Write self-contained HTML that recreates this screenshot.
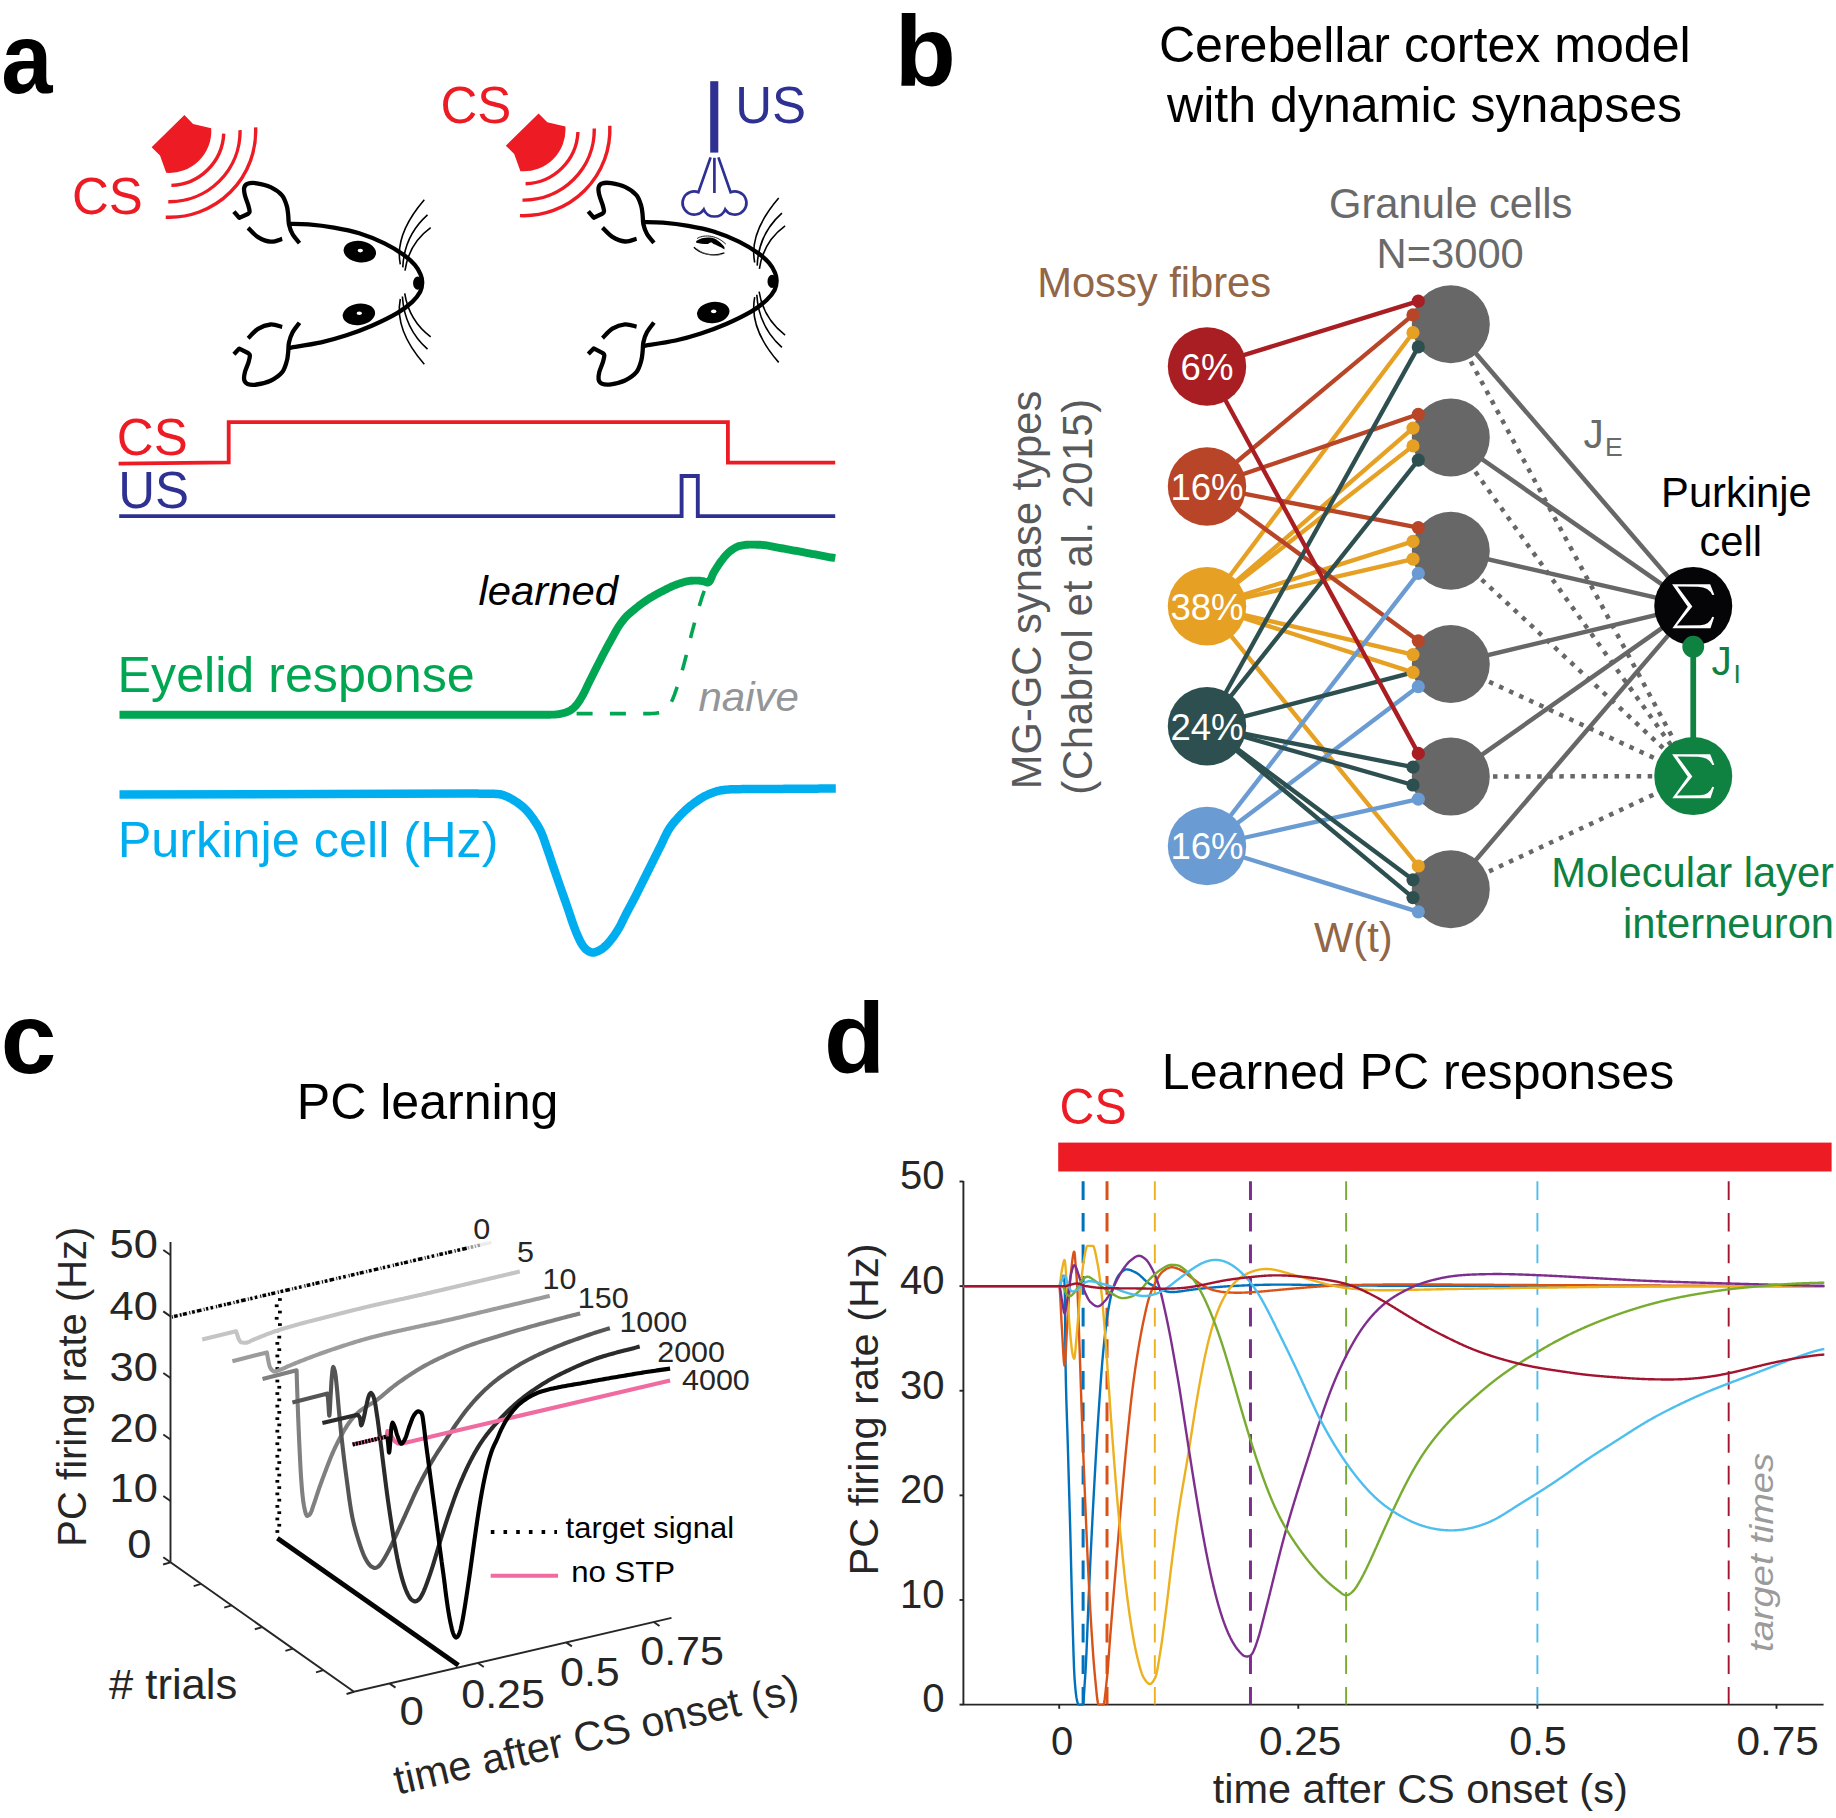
<!DOCTYPE html>
<html><head><meta charset="utf-8"><title>Figure</title>
<style>
html,body{margin:0;padding:0;background:#fff;}
body{width:1836px;height:1818px;overflow:hidden;font-family:"Liberation Sans",sans-serif;}
svg{display:block;}
</style></head><body>
<svg width="1836" height="1818" viewBox="0 0 1836 1818">
<rect width="1836" height="1818" fill="#fff"/>
<!-- panel a -->
<text x="1.2" y="92.6" font-family='"Liberation Sans", sans-serif' font-size="100" fill="#000" text-anchor="start" font-weight="bold" font-style="normal" textLength="51.2" lengthAdjust="spacingAndGlyphs" >a</text>
<g transform="translate(0 0)">
<path d="M184.4 115.0 L151.6 147.3 L160 155.6 L166.22 172.77 A41.8 41.8 0 0 0 211.2 128.18 L193.1 123.9 Z" fill="#ed1c24"/>
<path d="M223.74 133.56 A54.3 54.3 0 0 1 171.4 185.37" fill="none" stroke="#ed1c24" stroke-width="3.4"/>
<path d="M240.09 130.11 A70.6 70.6 0 0 1 168.27 201.69" fill="none" stroke="#ed1c24" stroke-width="3.4"/>
<path d="M255.62 127.34 A86.2 86.2 0 0 1 165.74 217.22" fill="none" stroke="#ed1c24" stroke-width="3.4"/>
</g>
<g transform="translate(354.2 -1.6)">
<path d="M184.4 115.0 L151.6 147.3 L160 155.6 L166.22 172.77 A41.8 41.8 0 0 0 211.2 128.18 L193.1 123.9 Z" fill="#ed1c24"/>
<path d="M223.74 133.56 A54.3 54.3 0 0 1 171.4 185.37" fill="none" stroke="#ed1c24" stroke-width="3.4"/>
<path d="M240.09 130.11 A70.6 70.6 0 0 1 168.27 201.69" fill="none" stroke="#ed1c24" stroke-width="3.4"/>
<path d="M255.62 127.34 A86.2 86.2 0 0 1 165.74 217.22" fill="none" stroke="#ed1c24" stroke-width="3.4"/>
</g>
<g transform="translate(0 0)" fill="none" stroke="#000" stroke-linecap="butt" stroke-linejoin="round">
<path d="M288.95 223.8 C292.23 223.9 301.11 223.77 308.6 224.4 C316.09 225.03 325.47 226.12 333.9 227.6 C342.33 229.08 350.77 230.67 359.2 233.3 C367.63 235.93 377.12 239.82 384.5 243.4 C391.88 246.98 398.45 251.22 403.5 254.8 C408.55 258.38 411.95 261.62 414.8 264.9 C417.65 268.18 419.37 271.52 420.6 274.5 C421.83 277.48 422.27 279.92 422.2 282.8 C422.13 285.68 421.85 288.63 420.2 291.8 C418.55 294.97 416.15 298.23 412.3 301.8 C408.45 305.37 403.85 309.2 397.1 313.2 C390.35 317.2 380.23 322.12 371.8 325.8 C363.37 329.48 354.93 332.55 346.5 335.3 C338.07 338.05 330.79 340.22 321.2 342.3 C311.61 344.38 294.32 346.88 288.95 347.8" stroke-width="4.3"/>
<g transform="translate(0 0)">
<path d="M299.5 243.1 C298.33 241.58 294.25 237.12 292.5 234 C290.75 230.88 289.72 227.57 289 224.4 C288.28 221.23 288.57 218.07 288.2 215 C287.83 211.93 287.83 209.28 286.8 206 C285.77 202.72 284.7 198.45 282 195.3 C279.3 192.15 274.82 189.1 270.6 187.1 C266.38 185.1 260.53 183.87 256.7 183.3 C252.87 182.73 249.68 182.97 247.6 183.7 C245.52 184.43 244.65 185.77 244.2 187.7 C243.75 189.63 244.22 192.35 244.9 195.3 C245.58 198.25 247.52 202.68 248.3 205.4 C249.08 208.12 249.68 210.17 249.6 211.6 C249.52 213.03 248.1 213.6 247.8 214 L239.3 217.9 L233.9 211.6" stroke-width="4.3"/>
<path d="M248.1 227.9 C249.75 229.43 254.25 234.8 258 237.1 C261.75 239.4 266.57 241.39 270.6 241.7 C274.63 242.01 280.27 239.41 282.2 238.95" stroke-width="4.3"/>
<path d="M299.5 322.8 C298.33 324.42 294.25 329.23 292.5 332.5 C290.75 335.77 289.72 339.15 289 342.4 C288.28 345.65 288.57 348.9 288.2 352 C287.83 355.1 287.83 357.6 286.8 361 C285.77 364.4 284.7 369.12 282 372.4 C279.3 375.68 274.82 378.68 270.6 380.7 C266.38 382.72 260.53 383.95 256.7 384.5 C252.87 385.05 249.68 384.78 247.6 384 C245.52 383.22 244.65 381.77 244.2 379.8 C243.75 377.83 244.18 375.12 244.9 372.2 C245.62 369.28 247.67 365.1 248.5 362.3 C249.33 359.5 249.98 356.95 249.9 355.4 C249.82 353.85 248.32 353.4 248 353 L239.3 348.6 L233.9 354.2" stroke-width="4.3"/>
<path d="M248.1 338.3 C249.75 336.72 254.25 331.1 258 328.8 C261.75 326.5 266.57 324.82 270.6 324.5 C274.63 324.18 280.27 326.5 282.2 326.9" stroke-width="4.3"/>
</g>
<path d="M400.3 264.3 Q394.3 234.6 424.3 199.7" stroke-width="1.6"/>
<path d="M402.8 267.4 Q404.05 235.85 427.5 214.9" stroke-width="1.6"/>
<path d="M405 270.6 Q408.95 243.3 430.7 227.6" stroke-width="1.6"/>
<path d="M400.3 299 Q394.3 330 424.3 364.2" stroke-width="1.6"/>
<path d="M402.4 296.5 Q404.25 328.35 427.5 349.2" stroke-width="1.6"/>
<path d="M404.7 293.4 Q409.1 320.65 430.7 336.9" stroke-width="1.6"/>
<ellipse cx="417.6" cy="283.2" rx="4.5" ry="6.6" fill="#000" stroke="none"/>
<ellipse cx="359.8" cy="251.7" rx="16.3" ry="10.7" fill="#000" stroke="none" transform="rotate(8 359.8 251.7)"/>
<ellipse cx="360.3" cy="250.6" rx="2.7" ry="1.8" fill="#fff" stroke="none"/>
<ellipse cx="358.9" cy="314.3" rx="16.3" ry="10.7" fill="#000" stroke="none" transform="rotate(-8 358.9 314.3)"/>
<ellipse cx="359.3" cy="313.2" rx="2.7" ry="1.8" fill="#fff" stroke="none"/>
</g>
<g transform="translate(354.4 -1.8)" fill="none" stroke="#000" stroke-linecap="butt" stroke-linejoin="round">
<path d="M288.95 223.8 C292.23 223.9 301.11 223.77 308.6 224.4 C316.09 225.03 325.47 226.12 333.9 227.6 C342.33 229.08 350.77 230.67 359.2 233.3 C367.63 235.93 377.12 239.82 384.5 243.4 C391.88 246.98 398.45 251.22 403.5 254.8 C408.55 258.38 411.95 261.62 414.8 264.9 C417.65 268.18 419.37 271.52 420.6 274.5 C421.83 277.48 422.27 279.92 422.2 282.8 C422.13 285.68 421.85 288.63 420.2 291.8 C418.55 294.97 416.15 298.23 412.3 301.8 C408.45 305.37 403.85 309.2 397.1 313.2 C390.35 317.2 380.23 322.12 371.8 325.8 C363.37 329.48 354.93 332.55 346.5 335.3 C338.07 338.05 330.79 340.22 321.2 342.3 C311.61 344.38 294.32 346.88 288.95 347.8" stroke-width="4.3"/>
<g transform="translate(0 1.6)">
<path d="M299.5 243.1 C298.33 241.58 294.25 237.12 292.5 234 C290.75 230.88 289.72 227.57 289 224.4 C288.28 221.23 288.57 218.07 288.2 215 C287.83 211.93 287.83 209.28 286.8 206 C285.77 202.72 284.7 198.45 282 195.3 C279.3 192.15 274.82 189.1 270.6 187.1 C266.38 185.1 260.53 183.87 256.7 183.3 C252.87 182.73 249.68 182.97 247.6 183.7 C245.52 184.43 244.65 185.77 244.2 187.7 C243.75 189.63 244.22 192.35 244.9 195.3 C245.58 198.25 247.52 202.68 248.3 205.4 C249.08 208.12 249.68 210.17 249.6 211.6 C249.52 213.03 248.1 213.6 247.8 214 L239.3 217.9 L233.9 211.6" stroke-width="4.3"/>
<path d="M248.1 227.9 C249.75 229.43 254.25 234.8 258 237.1 C261.75 239.4 266.57 241.39 270.6 241.7 C274.63 242.01 280.27 239.41 282.2 238.95" stroke-width="4.3"/>
<path d="M299.5 322.8 C298.33 324.42 294.25 329.23 292.5 332.5 C290.75 335.77 289.72 339.15 289 342.4 C288.28 345.65 288.57 348.9 288.2 352 C287.83 355.1 287.83 357.6 286.8 361 C285.77 364.4 284.7 369.12 282 372.4 C279.3 375.68 274.82 378.68 270.6 380.7 C266.38 382.72 260.53 383.95 256.7 384.5 C252.87 385.05 249.68 384.78 247.6 384 C245.52 383.22 244.65 381.77 244.2 379.8 C243.75 377.83 244.18 375.12 244.9 372.2 C245.62 369.28 247.67 365.1 248.5 362.3 C249.33 359.5 249.98 356.95 249.9 355.4 C249.82 353.85 248.32 353.4 248 353 L239.3 348.6 L233.9 354.2" stroke-width="4.3"/>
<path d="M248.1 338.3 C249.75 336.72 254.25 331.1 258 328.8 C261.75 326.5 266.57 324.82 270.6 324.5 C274.63 324.18 280.27 326.5 282.2 326.9" stroke-width="4.3"/>
</g>
<path d="M400.3 264.3 Q394.3 234.6 424.3 199.7" stroke-width="1.6"/>
<path d="M402.8 267.4 Q404.05 235.85 427.5 214.9" stroke-width="1.6"/>
<path d="M405 270.6 Q408.95 243.3 430.7 227.6" stroke-width="1.6"/>
<path d="M400.3 299 Q394.3 330 424.3 364.2" stroke-width="1.6"/>
<path d="M402.4 296.5 Q404.25 328.35 427.5 349.2" stroke-width="1.6"/>
<path d="M404.7 293.4 Q409.1 320.65 430.7 336.9" stroke-width="1.6"/>
<ellipse cx="417.6" cy="283.2" rx="4.5" ry="6.6" fill="#000" stroke="none"/>
<path d="M341.8 242.9 C345.5 240.2 350 239.2 354.7 239.3 C359 239.5 361.5 240.9 363.6 242.5 C366.5 244.6 368.6 246.6 370.1 249.0 L370 251.4 C368 249.8 366 248.6 363.6 247.7 C362 247.0 360.5 246.4 359.1 245.9 C358.4 244.6 357.4 244.1 356.4 244.2 C355 244.4 354.2 245.2 353.4 245.9 C351.4 245.9 349.3 245.8 347.1 245.5 C345.2 245.2 343.5 244.9 341.8 244.6 Z" fill="#000" stroke="none"/>
<path d="M342.7 240.3 C348 236.8 361 235.6 371.4 245.9" stroke-width="0.9"/>
<path d="M339.5 249.0 C346 255.6 358 259.2 370 254.6" stroke-width="1.35"/>
<path d="M342.5 250.4 C349 256.4 359 258.4 368 256.2" stroke-width="0.7" stroke="#777"/>
<ellipse cx="358.9" cy="314.3" rx="16.3" ry="10.7" fill="#000" stroke="none" transform="rotate(-8 358.9 314.3)"/>
<ellipse cx="359.3" cy="313.2" rx="2.7" ry="1.8" fill="#fff" stroke="none"/>
</g>
<g fill="none" stroke="#2e3192" stroke-width="2.7" stroke-linejoin="miter">
<rect x="710.2" y="81.2" width="8.1" height="71.4" fill="#2e3192" stroke="none"/>
<path d="M714.4 157.8 L714.4 193"/>
<path d="M710.6 157.4 L698.4 192.2 A11.6 11.6 0 1 0 703.8 209.4 A11.6 11.6 0 0 0 725.2 209.4 A11.6 11.6 0 1 0 730.6 192.2 L718.4 157.4"/>
</g>
<text x="71.9" y="214.3" font-family='"Liberation Sans", sans-serif' font-size="51" fill="#ed1c24" text-anchor="start" font-weight="normal" font-style="normal" >CS</text>
<text x="440.4" y="123.4" font-family='"Liberation Sans", sans-serif' font-size="51" fill="#ed1c24" text-anchor="start" font-weight="normal" font-style="normal" >CS</text>
<text x="735.2" y="123.4" font-family='"Liberation Sans", sans-serif' font-size="51" fill="#2e3192" text-anchor="start" font-weight="normal" font-style="normal" >US</text>
<path d="M118.6 463.7 L228.7 462.3 V422.1 H727.9 V462.6 H835.2" fill="none" stroke="#ed1c24" stroke-width="3.8" stroke-linejoin="miter"/>
<path d="M119.2 516.1 H681.6 V476 H697.8 V516.1 H835.2" fill="none" stroke="#2e3192" stroke-width="3.9" stroke-linejoin="miter"/>
<text x="116.8" y="455.2" font-family='"Liberation Sans", sans-serif' font-size="51" fill="#ed1c24" text-anchor="start" font-weight="normal" font-style="normal" >CS</text>
<text x="118.2" y="508.2" font-family='"Liberation Sans", sans-serif' font-size="51" fill="#2e3192" text-anchor="start" font-weight="normal" font-style="normal" >US</text>
<path d="M119.5 714.8 L540 714.8 L541.28 714.8 L542.55 714.79 L543.82 714.78 L545.09 714.77 L546.36 714.76 L547.63 714.74 L548.9 714.72 L550.16 714.69 L551.42 714.67 L552.69 714.64 L553.95 714.6 L554 714.6 L555.21 714.54 L556.47 714.41 L557.74 714.24 L559 714.03 L560.25 713.79 L561.49 713.53 L562.72 713.26 L563 713.2 L563.95 712.97 L565.18 712.61 L566.4 712.2 L567.61 711.73 L568.77 711.22 L569.88 710.67 L570 710.6 L570.94 710.05 L571.97 709.32 L572.97 708.5 L573.93 707.63 L574.86 706.72 L575.73 705.8 L576 705.5 L576.55 704.87 L577.33 703.89 L578.09 702.87 L578.81 701.82 L579.51 700.75 L580.19 699.66 L580.85 698.56 L581.5 697.47 L581.6 697.3 L582.13 696.38 L582.74 695.28 L583.34 694.16 L583.92 693.04 L584.48 691.9 L585.04 690.76 L585.59 689.62 L586.14 688.47 L586.68 687.32 L587.22 686.17 L587.77 685.02 L588.32 683.87 L588.88 682.74 L589 682.5 L589.45 681.6 L590.02 680.47 L590.58 679.33 L591.15 678.2 L591.71 677.06 L592.27 675.93 L592.84 674.79 L593.4 673.65 L593.97 672.52 L594.54 671.39 L595.1 670.25 L595.67 669.12 L596.24 667.99 L596.82 666.85 L597.3 665.9 L597.39 665.72 L597.96 664.59 L598.54 663.46 L599.12 662.33 L599.69 661.21 L600.27 660.08 L600.85 658.95 L601.43 657.82 L602.02 656.7 L602.6 655.57 L603.19 654.45 L603.77 653.32 L604.36 652.2 L604.96 651.08 L605 651 L605.55 649.96 L606.15 648.84 L606.75 647.73 L607.35 646.61 L607.95 645.49 L608.56 644.38 L609.17 643.27 L609.78 642.15 L610.39 641.04 L611 639.93 L611.61 638.82 L612.23 637.71 L612.84 636.61 L612.9 636.5 L613.46 635.5 L614.06 634.38 L614.67 633.27 L615.28 632.15 L615.9 631.04 L616.53 629.94 L617.17 628.85 L617.83 627.77 L618 627.5 L618.51 626.7 L619.21 625.64 L619.92 624.59 L620.65 623.55 L621.39 622.52 L622.15 621.51 L622.7 620.8 L622.93 620.51 L623.72 619.52 L624.53 618.53 L625.35 617.57 L626.21 616.63 L627 615.8 L627.08 615.72 L627.99 614.84 L628.93 614 L629.89 613.17 L630.87 612.35 L631.85 611.54 L632.5 611 L632.82 610.73 L633.8 609.92 L634.78 609.11 L635.76 608.31 L636.75 607.52 L637.75 606.73 L638.75 605.95 L639.76 605.18 L640 605 L640.77 604.42 L641.79 603.67 L642.81 602.92 L643.84 602.17 L644.88 601.44 L645.92 600.72 L646.97 600.01 L648.03 599.31 L648.2 599.2 L649.09 598.63 L650.17 597.96 L651.25 597.3 L652.34 596.65 L653.44 596.01 L654.54 595.38 L655.64 594.75 L656.75 594.14 L657 594 L657.86 593.53 L658.98 592.93 L660.1 592.34 L661.23 591.76 L662.36 591.18 L663.49 590.61 L664.62 590.04 L665.76 589.47 L665.9 589.4 L666.89 588.9 L668.02 588.33 L669.16 587.76 L670.3 587.2 L671.45 586.67 L672.5 586.2 L672.6 586.16 L673.77 585.67 L674.95 585.2 L676.13 584.74 L677.32 584.3 L678.52 583.87 L679.6 583.5 L679.72 583.46 L680.92 583.05 L682.13 582.65 L683.34 582.27 L684.56 581.93 L685.5 581.7 L685.79 581.64 L687.03 581.36 L688.28 581.1 L689.53 580.88 L690.79 580.73 L691.4 580.7 L692.05 580.68 L693.31 580.65 L694.59 580.62 L695.86 580.6 L697 580.6 L697.12 580.6 L698.39 580.64 L699.66 580.74 L700.93 580.89 L702.18 581.06 L703.1 581.2 L703.43 581.26 L704.73 581.68 L706.02 582.19 L707.16 582.55 L707.6 582.6 L708.07 582.54 L708.87 582.11 L709.58 581.34 L710.24 580.3 L710.86 579.06 L711.45 577.68 L712.02 576.25 L712.61 574.81 L713.21 573.45 L713.85 572.24 L714 572 L714.53 571.16 L715.2 570.08 L715.88 569 L716.55 567.92 L717.23 566.85 L717.92 565.77 L718.62 564.71 L719.32 563.66 L720.05 562.62 L720.78 561.59 L721.54 560.59 L722 560 L722.32 559.6 L723.11 558.61 L723.92 557.61 L724.74 556.61 L725.58 555.63 L726.45 554.66 L727.33 553.73 L728.23 552.83 L729.16 551.98 L730.11 551.18 L731 550.5 L731.08 550.44 L732.1 549.72 L733.16 549 L734.26 548.29 L735.39 547.63 L736.55 547.02 L737.72 546.5 L738.9 546.08 L740 545.8 L740.09 545.78 L741.3 545.55 L742.53 545.32 L743.79 545.12 L745.06 544.94 L746.34 544.8 L747.62 544.69 L748.9 544.62 L750 544.6 L750.17 544.6 L751.44 544.61 L752.7 544.62 L753.97 544.64 L755.24 544.66 L756.51 544.7 L757.78 544.73 L759.05 544.77 L760 544.8 L760.31 544.81 L761.57 544.88 L762.83 544.98 L764.08 545.12 L765.34 545.28 L766.59 545.46 L767.84 545.66 L769.09 545.89 L770.35 546.12 L771.6 546.36 L772.85 546.61 L774.09 546.87 L775.34 547.12 L776.59 547.37 L777.84 547.61 L779.09 547.84 L780 548 L780.34 548.06 L781.59 548.27 L782.84 548.49 L784.09 548.71 L785.34 548.93 L786.58 549.15 L787.83 549.38 L789.08 549.6 L790.33 549.83 L791.57 550.06 L792.82 550.29 L794.07 550.52 L795.31 550.75 L796.56 550.99 L797.81 551.22 L799.05 551.45 L800.3 551.69 L801.55 551.92 L802.79 552.15 L804.04 552.39 L805.28 552.62 L806.53 552.85 L807.78 553.09 L809.02 553.32 L810 553.5 L810.27 553.55 L811.52 553.78 L812.76 554.01 L814.01 554.24 L815.26 554.47 L816.5 554.71 L817.75 554.94 L819 555.17 L820.24 555.4 L821.49 555.63 L822.74 555.87 L823.98 556.1 L825.23 556.33 L826.48 556.56 L827.72 556.8 L828.97 557.03 L830.22 557.26 L831.46 557.5 L832.71 557.73 L833.95 557.97 L835.2 558.2" fill="none" stroke="#00a651" stroke-width="7.9" stroke-linejoin="round"/>
<path d="M576.6 713.6 L577.72 713.6 L578.84 713.6 L579.96 713.6 L581.09 713.6 L582.21 713.6 L583.33 713.6 L584.45 713.6 L585.57 713.6 L586.69 713.6 L587.81 713.6 L588.93 713.6 L590.05 713.6 L591.17 713.6 L592.29 713.6 L593.41 713.6 L594.53 713.6 L595.65 713.6 L596.77 713.6 L597.89 713.6 L599.01 713.6 L600.13 713.6 L601.25 713.6 L602.36 713.6 L603.48 713.6 L604.6 713.6 L605.72 713.6 L606.84 713.6 L607.96 713.6 L609.07 713.6 L610.19 713.6 L611.31 713.6 L612.43 713.6 L613.55 713.6 L614.66 713.6 L615.78 713.6 L616.9 713.6 L618.02 713.6 L619.13 713.6 L620.25 713.6 L621.37 713.6 L622.48 713.6 L623.6 713.6 L624.72 713.6 L625.83 713.6 L626.95 713.6 L628.07 713.6 L629.18 713.6 L630.3 713.6 L631.42 713.6 L632.53 713.6 L633.65 713.6 L634.76 713.6 L635.88 713.6 L637 713.6 L638.11 713.6 L639.23 713.6 L640.34 713.6 L641.46 713.6 L642.58 713.6 L643.69 713.6 L644.81 713.6 L645.92 713.6 L647.04 713.6 L648.15 713.6 L649.27 713.6 L650 713.6 L650.38 713.6 L651.5 713.57 L652.63 713.5 L653.75 713.42 L654.87 713.3 L655.98 713.17 L657.09 713.03 L658 712.9 L658.17 712.87 L659.28 712.67 L660.41 712.39 L661.54 712.05 L662.65 711.65 L663.71 711.2 L664.7 710.72 L665.6 710.2 L665.9 710 L666.4 709.62 L667.14 708.9 L667.85 708.05 L668.51 707.1 L669.14 706.09 L669.73 705.06 L670.3 704.03 L670.8 703.1 L670.83 703.04 L671.34 702.06 L671.83 701.06 L672.29 700.04 L672.73 699.01 L673.16 697.97 L673.57 696.92 L673.97 695.87 L674.38 694.83 L674.5 694.5 L674.77 693.78 L675.16 692.73 L675.53 691.68 L675.9 690.63 L676.26 689.57 L676.62 688.51 L676.97 687.44 L677.31 686.38 L677.6 685.5 L677.66 685.32 L678 684.25 L678.34 683.19 L678.68 682.12 L679.02 681.06 L679.35 679.99 L679.68 678.92 L680.01 677.85 L680.34 676.78 L680.66 675.71 L680.99 674.64 L681.3 673.57 L681.62 672.5 L681.93 671.42 L682.24 670.35 L682.55 669.27 L682.86 668.2 L683.16 667.12 L683.46 666.05 L683.5 665.9 L683.76 664.97 L684.05 663.89 L684.33 662.81 L684.62 661.73 L684.9 660.65 L685.18 659.57 L685.45 658.48 L685.73 657.4 L686 656.31 L686.27 655.23 L686.53 654.14 L686.8 653.06 L687.06 651.97 L687.33 650.88 L687.59 649.8 L687.85 648.71 L688.12 647.62 L688.38 646.54 L688.64 645.45 L688.91 644.36 L689.17 643.28 L689.44 642.19 L689.71 641.11 L689.98 640.02 L690.25 638.94 L690.53 637.85 L690.81 636.77 L691.09 635.69 L691.37 634.61 L691.4 634.5 L691.66 633.53 L691.95 632.45 L692.23 631.37 L692.52 630.29 L692.81 629.21 L693.1 628.13 L693.39 627.05 L693.68 625.97 L693.97 624.89 L694.27 623.81 L694.56 622.73 L694.85 621.65 L695.15 620.57 L695.45 619.49 L695.75 618.42 L696.05 617.34 L696.35 616.26 L696.65 615.19 L696.96 614.11 L697.27 613.03 L697.57 611.96 L697.88 610.89 L698.2 609.81 L698.51 608.74 L698.83 607.67 L699.14 606.6 L699.46 605.53 L699.79 604.46 L700.11 603.39 L700.2 603.1 L700.44 602.32 L700.77 601.25 L701.1 600.18 L701.43 599.11 L701.76 598.04 L702.1 596.98 L702.45 595.91 L702.81 594.85 L703.17 593.8 L703.54 592.74 L703.93 591.7 L704 591.5 L704.32 590.65 L704.74 589.62 L705.17 588.59 L705.61 587.56 L706.06 586.54 L706.53 585.52 L707 584.5" fill="none" stroke="#00a651" stroke-width="3.6" stroke-dasharray="16 17.3"/>
<text x="478.4" y="604.8" font-family='"Liberation Sans", sans-serif' font-size="41" fill="#000" text-anchor="start" font-weight="normal" font-style="italic" textLength="139.6" lengthAdjust="spacingAndGlyphs" >learned</text>
<text x="698.4" y="711.2" font-family='"Liberation Sans", sans-serif' font-size="40.6" fill="#939598" text-anchor="start" font-weight="normal" font-style="italic" textLength="100.6" lengthAdjust="spacingAndGlyphs" >naive</text>
<text x="117.6" y="691.6" font-family='"Liberation Sans", sans-serif' font-size="50.2" fill="#00a651" text-anchor="start" font-weight="normal" font-style="normal" >Eyelid response</text>
<path d="M119.5 794.6 L470 793.6 L471.84 793.6 L473.68 793.6 L475.52 793.61 L477.36 793.62 L479.2 793.63 L481.04 793.64 L482.88 793.65 L484.72 793.67 L486.56 793.69 L488 793.7 L488.4 793.7 L490.24 793.74 L492.09 793.79 L493.94 793.86 L495.78 793.96 L497.61 794.08 L499.2 794.2 L499.42 794.22 L501.21 794.55 L502.99 795.08 L504.74 795.72 L506 796.2 L506.45 796.38 L508.13 797.12 L509.77 797.97 L511.39 798.88 L512.3 799.4 L512.98 799.79 L514.55 800.75 L516.1 801.76 L517.62 802.8 L519 803.8 L519.1 803.88 L520.57 804.99 L522.02 806.14 L523.43 807.34 L524.78 808.58 L525.4 809.2 L526.06 809.88 L527.29 811.22 L528.5 812.62 L529.67 814.05 L530.8 815.51 L531.91 817 L532.99 818.5 L534.03 820 L534.1 820.1 L535.06 821.52 L536.08 823.06 L537.08 824.62 L538.04 826.21 L538.96 827.81 L539.82 829.43 L540.6 831 L540.63 831.06 L541.38 832.72 L542.09 834.41 L542.77 836.11 L543.42 837.83 L544.04 839.57 L544.66 841.31 L545.26 843.06 L545.86 844.81 L546.46 846.56 L547.06 848.3 L547.1 848.4 L547.67 850.03 L548.27 851.77 L548.87 853.51 L549.45 855.26 L550.03 857 L550.61 858.75 L551.19 860.5 L551.77 862.24 L552.35 863.99 L552.93 865.73 L553.52 867.48 L553.7 868 L554.12 869.22 L554.72 870.96 L555.32 872.69 L555.92 874.43 L556.53 876.17 L557.13 877.91 L557.74 879.64 L558.35 881.38 L558.96 883.11 L559.57 884.85 L560.18 886.59 L560.78 888.32 L561.3 889.8 L561.39 890.06 L562 891.8 L562.6 893.53 L563.21 895.27 L563.82 897 L564.43 898.74 L565.04 900.48 L565.65 902.21 L566.26 903.95 L566.86 905.69 L567.46 907.42 L568.06 909.16 L568.66 910.9 L568.9 911.6 L569.25 912.64 L569.83 914.39 L570.41 916.14 L570.98 917.89 L571.55 919.64 L572.14 921.38 L572.74 923.12 L573.3 924.7 L573.36 924.85 L573.99 926.58 L574.63 928.3 L575.29 930.02 L575.97 931.74 L576.67 933.44 L577.39 935.13 L577.6 935.6 L578.14 936.81 L578.91 938.49 L579.7 940.17 L580.54 941.81 L581.44 943.4 L582 944.3 L582.42 944.95 L583.48 946.52 L584.63 948.03 L585.9 949.31 L586.4 949.7 L587.32 950.34 L588.96 951.35 L590.72 952.16 L592.49 952.58 L592.9 952.6 L594.23 952.46 L596.02 951.93 L597.79 951.17 L599.4 950.4 L599.45 950.38 L601.02 949.49 L602.53 948.42 L603.99 947.23 L605.37 945.98 L606 945.4 L606.69 944.73 L607.96 943.41 L609.18 942.02 L610.35 940.58 L611.49 939.12 L612.5 937.8 L612.61 937.66 L613.69 936.18 L614.76 934.68 L615.8 933.15 L616.8 931.61 L617.78 930.05 L618.73 928.47 L619 928 L619.63 926.88 L620.5 925.26 L621.33 923.62 L622.14 921.97 L622.94 920.31 L623.74 918.65 L624.55 916.99 L625.37 915.34 L625.6 914.9 L626.22 913.71 L627.07 912.08 L627.94 910.46 L628.81 908.83 L629.68 907.21 L630.55 905.59 L631.42 903.97 L632.28 902.35 L633.14 900.72 L633.99 899.09 L634.3 898.5 L634.84 897.46 L635.67 895.82 L636.5 894.18 L637.32 892.53 L638.14 890.88 L638.96 889.24 L639.78 887.59 L640.59 885.94 L641.41 884.29 L642.23 882.64 L643 881.1 L643.05 881 L643.87 879.35 L644.7 877.71 L645.52 876.06 L646.34 874.42 L647.17 872.77 L647.99 871.12 L648.81 869.48 L649.63 867.83 L650.46 866.19 L651.28 864.54 L651.7 863.7 L652.1 862.9 L652.92 861.25 L653.75 859.61 L654.57 857.96 L655.39 856.31 L656.21 854.67 L657.03 853.02 L657.86 851.38 L658.68 849.73 L659.5 848.09 L660.33 846.44 L660.4 846.3 L661.14 844.79 L661.94 843.12 L662.72 841.44 L663.5 839.76 L664.28 838.08 L665.08 836.41 L665.89 834.76 L666.72 833.12 L667.59 831.51 L668.5 829.93 L669.2 828.8 L669.46 828.4 L670.48 826.89 L671.57 825.41 L672.7 823.95 L673.87 822.52 L675.07 821.1 L676.29 819.71 L677.51 818.33 L677.9 817.9 L678.74 816.97 L680 815.62 L681.27 814.3 L682.57 812.99 L683.9 811.7 L685.24 810.44 L686.59 809.21 L686.6 809.2 L687.97 807.99 L689.37 806.8 L690.8 805.63 L692.25 804.48 L693.71 803.37 L695.19 802.28 L695.3 802.2 L696.69 801.21 L698.2 800.16 L699.74 799.14 L701.3 798.15 L702.88 797.21 L704 796.6 L704.49 796.34 L706.12 795.51 L707.79 794.7 L709.48 793.95 L711.18 793.25 L712.7 792.7 L712.91 792.63 L714.65 792.04 L716.41 791.46 L718.19 790.95 L719.98 790.54 L721.4 790.3 L721.78 790.25 L723.6 790.02 L725.42 789.81 L727.26 789.62 L729.1 789.46 L730.94 789.33 L732.78 789.24 L734.5 789.2 L734.62 789.2 L736.46 789.17 L738.3 789.15 L740.13 789.14 L741.97 789.12 L743.81 789.11 L745.65 789.1 L747.49 789.08 L749.33 789.08 L751.17 789.07 L753.01 789.06 L754.85 789.05 L756.69 789.04 L758.54 789.04 L760.38 789.03 L762.22 789.02 L764.06 789.01 L765 789 L765.9 788.99 L767.74 788.98 L769.58 788.97 L771.41 788.96 L773.25 788.94 L775.09 788.93 L776.93 788.92 L778.77 788.91 L780.61 788.89 L782.45 788.88 L784.29 788.87 L786.13 788.86 L787.97 788.84 L789.81 788.83 L791.65 788.82 L793.49 788.8 L795.33 788.79 L797.17 788.78 L799.01 788.77 L800.85 788.75 L802.69 788.74 L804.53 788.73 L806.37 788.71 L808.21 788.7 L810.05 788.69 L811.89 788.67 L813.73 788.66 L815.56 788.65 L817.4 788.63 L819.24 788.62 L821.08 788.61 L822.92 788.59 L824.76 788.58 L826.6 788.57 L828.44 788.55 L830.28 788.54 L832.12 788.53 L833.96 788.51 L835.8 788.5" fill="none" stroke="#00aeef" stroke-width="8.5" stroke-linejoin="round"/>
<text x="117.7" y="856.9" font-family='"Liberation Sans", sans-serif' font-size="50.4" fill="#00aeef" text-anchor="start" font-weight="normal" font-style="normal" >Purkinje cell (Hz)</text>
<!-- panel b -->
<text x="894.7" y="85.8" font-family='"Liberation Sans", sans-serif' font-size="100" fill="#000" text-anchor="start" font-weight="bold" font-style="normal" >b</text>
<text x="1424.8" y="62" font-family='"Liberation Sans", sans-serif' font-size="50.1" fill="#000" text-anchor="middle" font-weight="normal" font-style="normal" >Cerebellar cortex model</text>
<text x="1424.6" y="122.2" font-family='"Liberation Sans", sans-serif' font-size="50.1" fill="#000" text-anchor="middle" font-weight="normal" font-style="normal" >with dynamic synapses</text>
<text x="1450.7" y="217.8" font-family='"Liberation Sans", sans-serif' font-size="41.7" fill="#6a6a6a" text-anchor="middle" font-weight="normal" font-style="normal" >Granule cells</text>
<text x="1450.2" y="267.8" font-family='"Liberation Sans", sans-serif' font-size="41.7" fill="#6a6a6a" text-anchor="middle" font-weight="normal" font-style="normal" >N=3000</text>
<text x="1037.2" y="296.8" font-family='"Liberation Sans", sans-serif' font-size="41.7" fill="#926646" text-anchor="start" font-weight="normal" font-style="normal" >Mossy fibres</text>
<text x="1314" y="951.6" font-family='"Liberation Sans", sans-serif' font-size="41.7" fill="#926646" text-anchor="start" font-weight="normal" font-style="normal" >W(t)</text>
<g transform="translate(1041.2 589.9) rotate(-90)"><text x="0" y="0" font-family='"Liberation Sans", sans-serif' font-size="41.7" fill="#58595b" text-anchor="middle" font-weight="normal" font-style="normal" >MG-GC synase types</text></g>
<g transform="translate(1092 596.8) rotate(-90)"><text x="0" y="0" font-family='"Liberation Sans", sans-serif' font-size="41.7" fill="#58595b" text-anchor="middle" textLength="396" lengthAdjust="spacing">(Chabrol et al. 2015)</text></g>
<g stroke="#676767" stroke-width="4.5" fill="none">
<line x1="1450.8" y1="324.3" x2="1693.25" y2="776.1" stroke-dasharray="4.5 6.55" stroke-dashoffset="2"/>
<line x1="1450.8" y1="437.5" x2="1693.25" y2="776.1" stroke-dasharray="4.5 6.55" stroke-dashoffset="2"/>
<line x1="1450.8" y1="550.8" x2="1693.25" y2="776.1" stroke-dasharray="4.5 6.55" stroke-dashoffset="2"/>
<line x1="1450.8" y1="664" x2="1693.25" y2="776.1" stroke-dasharray="4.5 6.55" stroke-dashoffset="2"/>
<line x1="1450.8" y1="776.6" x2="1693.25" y2="776.1" stroke-dasharray="4.5 6.55" stroke-dashoffset="2"/>
<line x1="1450.8" y1="889.2" x2="1693.25" y2="776.1" stroke-dasharray="4.5 6.55" stroke-dashoffset="2"/>
<line x1="1450.8" y1="324.3" x2="1693.25" y2="606.1"/>
<line x1="1450.8" y1="437.5" x2="1693.25" y2="606.1"/>
<line x1="1450.8" y1="550.8" x2="1693.25" y2="606.1"/>
<line x1="1450.8" y1="664" x2="1693.25" y2="606.1"/>
<line x1="1450.8" y1="776.6" x2="1693.25" y2="606.1"/>
<line x1="1450.8" y1="889.2" x2="1693.25" y2="606.1"/>
</g>
<g stroke-width="4.35" fill="none" stroke-linecap="butt">
<line x1="1207" y1="606.3" x2="1413" y2="332.7" stroke="#e6a023"/>
<line x1="1207" y1="606.3" x2="1413" y2="428.1" stroke="#e6a023"/>
<line x1="1207" y1="606.3" x2="1413" y2="445.9" stroke="#e6a023"/>
<line x1="1207" y1="606.3" x2="1413" y2="541.4" stroke="#e6a023"/>
<line x1="1207" y1="606.3" x2="1413" y2="559.2" stroke="#e6a023"/>
<line x1="1207" y1="606.3" x2="1413" y2="654.6" stroke="#e6a023"/>
<line x1="1207" y1="606.3" x2="1413" y2="672.4" stroke="#e6a023"/>
<line x1="1207" y1="606.3" x2="1418.3" y2="866" stroke="#e6a023"/>
<line x1="1207" y1="486.5" x2="1413" y2="314.9" stroke="#b84527"/>
<line x1="1207" y1="486.5" x2="1418.3" y2="414.3" stroke="#b84527"/>
<line x1="1207" y1="486.5" x2="1418.3" y2="527.6" stroke="#b84527"/>
<line x1="1207" y1="486.5" x2="1418.3" y2="640.8" stroke="#b84527"/>
<line x1="1207" y1="846" x2="1418.3" y2="573.4" stroke="#6a9bd2"/>
<line x1="1207" y1="846" x2="1418.3" y2="686.6" stroke="#6a9bd2"/>
<line x1="1207" y1="846" x2="1418.3" y2="799.2" stroke="#6a9bd2"/>
<line x1="1207" y1="846" x2="1418.3" y2="911.8" stroke="#6a9bd2"/>
<line x1="1207" y1="726.2" x2="1413" y2="672.4" stroke="#2e4f4f"/>
<line x1="1207" y1="726.2" x2="1418.3" y2="346.9" stroke="#2e4f4f"/>
<line x1="1207" y1="726.2" x2="1418.3" y2="460.1" stroke="#2e4f4f"/>
<line x1="1207" y1="726.2" x2="1413" y2="767.2" stroke="#2e4f4f"/>
<line x1="1207" y1="726.2" x2="1413" y2="785" stroke="#2e4f4f"/>
<line x1="1207" y1="726.2" x2="1413" y2="879.8" stroke="#2e4f4f"/>
<line x1="1207" y1="726.2" x2="1413" y2="897.6" stroke="#2e4f4f"/>
<line x1="1207" y1="366.5" x2="1418.3" y2="301.1" stroke="#a81e22"/>
<line x1="1207" y1="366.5" x2="1418.3" y2="753.4" stroke="#a81e22"/>
</g>
<circle cx="1450.8" cy="324.3" r="39" fill="#676767"/>
<circle cx="1450.8" cy="437.5" r="39" fill="#676767"/>
<circle cx="1450.8" cy="550.8" r="39" fill="#676767"/>
<circle cx="1450.8" cy="664" r="39" fill="#676767"/>
<circle cx="1450.8" cy="776.6" r="39" fill="#676767"/>
<circle cx="1450.8" cy="889.2" r="39" fill="#676767"/>
<circle cx="1418.3" cy="301.1" r="6.6" fill="#a81e22"/>
<circle cx="1413" cy="314.9" r="6.6" fill="#b84527"/>
<circle cx="1413" cy="332.7" r="6.6" fill="#e6a023"/>
<circle cx="1418.3" cy="346.9" r="6.6" fill="#2e4f4f"/>
<circle cx="1418.3" cy="414.3" r="6.6" fill="#b84527"/>
<circle cx="1413" cy="428.1" r="6.6" fill="#e6a023"/>
<circle cx="1413" cy="445.9" r="6.6" fill="#e6a023"/>
<circle cx="1418.3" cy="460.1" r="6.6" fill="#2e4f4f"/>
<circle cx="1418.3" cy="527.6" r="6.6" fill="#b84527"/>
<circle cx="1413" cy="541.4" r="6.6" fill="#e6a023"/>
<circle cx="1413" cy="559.2" r="6.6" fill="#e6a023"/>
<circle cx="1418.3" cy="573.4" r="6.6" fill="#6a9bd2"/>
<circle cx="1418.3" cy="640.8" r="6.6" fill="#b84527"/>
<circle cx="1413" cy="654.6" r="6.6" fill="#e6a023"/>
<circle cx="1413" cy="672.4" r="6.6" fill="#e6a023"/>
<circle cx="1418.3" cy="686.6" r="6.6" fill="#6a9bd2"/>
<circle cx="1418.3" cy="753.4" r="6.6" fill="#a81e22"/>
<circle cx="1413" cy="767.2" r="6.6" fill="#2e4f4f"/>
<circle cx="1413" cy="785" r="6.6" fill="#2e4f4f"/>
<circle cx="1418.3" cy="799.2" r="6.6" fill="#6a9bd2"/>
<circle cx="1418.3" cy="866" r="6.6" fill="#e6a023"/>
<circle cx="1413" cy="879.8" r="6.6" fill="#2e4f4f"/>
<circle cx="1413" cy="897.6" r="6.6" fill="#2e4f4f"/>
<circle cx="1418.3" cy="911.8" r="6.6" fill="#6a9bd2"/>
<circle cx="1207" cy="366.5" r="39.2" fill="#a81e22"/>
<text x="1207" y="379.8" font-family='"Liberation Sans", sans-serif' font-size="36.6" fill="#fff" text-anchor="middle" font-weight="normal" font-style="normal" >6%</text>
<circle cx="1207" cy="486.5" r="39.2" fill="#b84527"/>
<text x="1207" y="499.8" font-family='"Liberation Sans", sans-serif' font-size="36.6" fill="#fff" text-anchor="middle" font-weight="normal" font-style="normal" >16%</text>
<circle cx="1207" cy="606.3" r="39.2" fill="#e6a023"/>
<text x="1207" y="619.6" font-family='"Liberation Sans", sans-serif' font-size="36.6" fill="#fff" text-anchor="middle" font-weight="normal" font-style="normal" >38%</text>
<circle cx="1207" cy="726.2" r="39.2" fill="#2e4f4f"/>
<text x="1207" y="739.5" font-family='"Liberation Sans", sans-serif' font-size="36.6" fill="#fff" text-anchor="middle" font-weight="normal" font-style="normal" >24%</text>
<circle cx="1207" cy="846" r="39.2" fill="#6a9bd2"/>
<text x="1207" y="859.3" font-family='"Liberation Sans", sans-serif' font-size="36.6" fill="#fff" text-anchor="middle" font-weight="normal" font-style="normal" >16%</text>
<line x1="1693.25" y1="647" x2="1693.25" y2="776.1" stroke="#0f8140" stroke-width="5.75"/>
<circle cx="1693.25" cy="606.1" r="39" fill="#050507"/>
<circle cx="1693.25" cy="776.1" r="39" fill="#0f8140"/>
<circle cx="1693.25" cy="646.7" r="10.9" fill="#0f8140"/>
<path d="M-21.18 -21.94 L-5.45 0.63 L-20.88 22.11 L17.24 22.11 L20.87 11.22 L19.06 10.74 Q16.33 18.48 7.25 19.27 L-16.35 19.39 L-0.91 0.33 L-15.75 -19.64 L4.85 -19.33 Q15.73 -18.73 19.05 -11.04 L21.05 -11.47 L16.94 -21.94 Z" fill="#fff" transform="translate(1693.25 606.1)"/>
<path d="M-21.18 -21.94 L-5.45 0.63 L-20.88 22.11 L17.24 22.11 L20.87 11.22 L19.06 10.74 Q16.33 18.48 7.25 19.27 L-16.35 19.39 L-0.91 0.33 L-15.75 -19.64 L4.85 -19.33 Q15.73 -18.73 19.05 -11.04 L21.05 -11.47 L16.94 -21.94 Z" fill="#fff" transform="translate(1693.25 776.1)"/>
<text x="1583.6" y="448.2" font-family='"Liberation Sans", sans-serif' font-size="40.5" fill="#6a6a6a" text-anchor="start" font-weight="normal" font-style="normal" >J</text>
<text x="1605" y="456.2" font-family='"Liberation Sans", sans-serif' font-size="26.5" fill="#6a6a6a" text-anchor="start" font-weight="normal" font-style="normal" >E</text>
<text x="1711.5" y="674.6" font-family='"Liberation Sans", sans-serif' font-size="40.5" fill="#0f8140" text-anchor="start" font-weight="normal" font-style="normal" >J</text>
<text x="1733.5" y="682.5" font-family='"Liberation Sans", sans-serif' font-size="26.5" fill="#0f8140" text-anchor="start" font-weight="normal" font-style="normal" >I</text>
<text x="1736.4" y="506.6" font-family='"Liberation Sans", sans-serif' font-size="41.7" fill="#000" text-anchor="middle" font-weight="normal" font-style="normal" >Purkinje</text>
<text x="1730.8" y="556.4" font-family='"Liberation Sans", sans-serif' font-size="41.7" fill="#000" text-anchor="middle" font-weight="normal" font-style="normal" >cell</text>
<text x="1834" y="886.6" font-family='"Liberation Sans", sans-serif' font-size="41.7" fill="#0f8140" text-anchor="end" font-weight="normal" font-style="normal" >Molecular layer</text>
<text x="1834" y="937.8" font-family='"Liberation Sans", sans-serif' font-size="41.7" fill="#0f8140" text-anchor="end" font-weight="normal" font-style="normal" >interneuron</text>
<!-- panel c -->
<text x="0.7" y="1073" font-family='"Liberation Sans", sans-serif' font-size="100" fill="#000" text-anchor="start" font-weight="bold" font-style="normal" >c</text>
<text x="427.6" y="1119.4" font-family='"Liberation Sans", sans-serif' font-size="50.1" fill="#000" text-anchor="middle" font-weight="normal" font-style="normal" >PC learning</text>
<g stroke="#262626" stroke-width="1.9" fill="none" stroke-linecap="butt">
<path d="M170.5 1242 V1562.3 L354 1691.8 L671.5 1617.9"/>
<path d="M170.5 1255 l-7.2 -5"/>
<path d="M170.5 1316.4 l-7.2 -5"/>
<path d="M170.5 1378 l-7.2 -5"/>
<path d="M170.5 1439.5 l-7.2 -5"/>
<path d="M170.5 1501 l-7.2 -5"/>
<path d="M170.5 1562.3 l-7.2 -5"/>
<path d="M170.5 1562.3 l-7.4 2.2"/>
<path d="M201.08 1583.88 l-7.4 2.2"/>
<path d="M231.66 1605.46 l-7.4 2.2"/>
<path d="M262.24 1627.04 l-7.4 2.2"/>
<path d="M292.82 1648.62 l-7.4 2.2"/>
<path d="M323.4 1670.2 l-7.4 2.2"/>
<path d="M353.98 1691.78 l-7.4 2.2"/>
<path d="M389.7 1683.6 l5.8 4"/>
<path d="M478 1663 l5.8 4"/>
<path d="M566.1 1642.4 l5.8 4"/>
<path d="M653.7 1622 l5.8 4"/>
</g>
<text x="157.8" y="1258.4" font-family='"Liberation Sans", sans-serif' font-size="40" fill="#262626" text-anchor="end" font-weight="normal" font-style="normal" textLength="48.3" lengthAdjust="spacingAndGlyphs" >50</text>
<text x="157.8" y="1320.4" font-family='"Liberation Sans", sans-serif' font-size="40" fill="#262626" text-anchor="end" font-weight="normal" font-style="normal" textLength="48.3" lengthAdjust="spacingAndGlyphs" >40</text>
<text x="157.8" y="1381" font-family='"Liberation Sans", sans-serif' font-size="40" fill="#262626" text-anchor="end" font-weight="normal" font-style="normal" textLength="48.3" lengthAdjust="spacingAndGlyphs" >30</text>
<text x="157.8" y="1442" font-family='"Liberation Sans", sans-serif' font-size="40" fill="#262626" text-anchor="end" font-weight="normal" font-style="normal" textLength="48.3" lengthAdjust="spacingAndGlyphs" >20</text>
<text x="157.8" y="1502.2" font-family='"Liberation Sans", sans-serif' font-size="40" fill="#262626" text-anchor="end" font-weight="normal" font-style="normal" textLength="48.3" lengthAdjust="spacingAndGlyphs" >10</text>
<text x="151.4" y="1558.4" font-family='"Liberation Sans", sans-serif' font-size="40" fill="#262626" text-anchor="end" font-weight="normal" font-style="normal" textLength="24.15" lengthAdjust="spacingAndGlyphs" >0</text>
<g transform="translate(86.4 1386.6) rotate(-90)"><text x="0" y="0" font-family='"Liberation Sans", sans-serif' font-size="40" fill="#262626" text-anchor="middle" font-weight="normal" font-style="normal" >PC firing rate (Hz)</text></g>
<text x="109" y="1698.8" font-family='"Liberation Sans", sans-serif' font-size="42.5" fill="#262626" text-anchor="start" font-weight="normal" font-style="normal" textLength="128.3" lengthAdjust="spacingAndGlyphs" ># trials</text>
<text x="399.6" y="1725.4" font-family='"Liberation Sans", sans-serif' font-size="40.5" fill="#262626" text-anchor="start" font-weight="normal" font-style="normal" textLength="24.4" lengthAdjust="spacingAndGlyphs" >0</text>
<text x="461.2" y="1708.4" font-family='"Liberation Sans", sans-serif' font-size="40.5" fill="#262626" text-anchor="start" font-weight="normal" font-style="normal" textLength="83.8" lengthAdjust="spacingAndGlyphs" >0.25</text>
<text x="560" y="1686.2" font-family='"Liberation Sans", sans-serif' font-size="40.5" fill="#262626" text-anchor="start" font-weight="normal" font-style="normal" textLength="59.8" lengthAdjust="spacingAndGlyphs" >0.5</text>
<text x="640.2" y="1665.4" font-family='"Liberation Sans", sans-serif' font-size="40.5" fill="#262626" text-anchor="start" font-weight="normal" font-style="normal" textLength="83.8" lengthAdjust="spacingAndGlyphs" >0.75</text>
<g transform="translate(397.6 1794.8) rotate(-13)"><text x="0" y="0" font-family='"Liberation Sans", sans-serif' font-size="41.4" fill="#262626" text-anchor="start" font-weight="normal" font-style="normal" >time after CS onset (s)</text></g>
<path d="M171.8 1317 L491.5 1242.4" stroke="#ececec" stroke-width="3.5" fill="none"/>
<path d="M171.8 1317 L468 1247.9" stroke="#000" stroke-width="3.5" fill="none" stroke-dasharray="1 1.4 3.6 2.2 1.8 1.4 4 2.6 1 1.8 2.8 2.2 4.6 2.4 0.8 1.6 2.2 2.4 2.6 3"/>
<path d="M468 1247.9 L480 1245.1" stroke="#999" stroke-width="3.5" fill="none" stroke-dasharray="1 1.9 2.3 1.8"/>
<rect x="278" y="1298.15" width="3.8" height="2.7" fill="#000"/>
<rect x="274.8" y="1304.42" width="3.8" height="2.7" fill="#000"/>
<rect x="278" y="1310.69" width="3.8" height="2.7" fill="#000"/>
<rect x="274.8" y="1316.96" width="3.8" height="2.7" fill="#000"/>
<rect x="278" y="1323.23" width="3.8" height="2.7" fill="#000"/>
<rect x="275.44" y="1329.5" width="3.8" height="2.7" fill="#000"/>
<rect x="277.36" y="1335.77" width="3.8" height="2.7" fill="#000"/>
<rect x="275.44" y="1342.04" width="3.8" height="2.7" fill="#000"/>
<rect x="277.36" y="1348.31" width="3.8" height="2.7" fill="#000"/>
<rect x="275.44" y="1354.58" width="3.8" height="2.7" fill="#000"/>
<rect x="277.36" y="1360.85" width="3.8" height="2.7" fill="#000"/>
<rect x="275.44" y="1367.12" width="3.8" height="2.7" fill="#000"/>
<rect x="277.36" y="1373.39" width="3.8" height="2.7" fill="#000"/>
<rect x="275.44" y="1379.66" width="3.8" height="2.7" fill="#000"/>
<rect x="277.36" y="1385.93" width="3.8" height="2.7" fill="#000"/>
<rect x="275.44" y="1392.2" width="3.8" height="2.7" fill="#000"/>
<rect x="277.36" y="1398.47" width="3.8" height="2.7" fill="#000"/>
<rect x="275.44" y="1404.74" width="3.8" height="2.7" fill="#000"/>
<rect x="277.36" y="1411.01" width="3.8" height="2.7" fill="#000"/>
<rect x="275.44" y="1417.28" width="3.8" height="2.7" fill="#000"/>
<rect x="277.36" y="1423.55" width="3.8" height="2.7" fill="#000"/>
<rect x="275.44" y="1429.82" width="3.8" height="2.7" fill="#000"/>
<rect x="277.36" y="1436.09" width="3.8" height="2.7" fill="#000"/>
<rect x="275.44" y="1442.36" width="3.8" height="2.7" fill="#000"/>
<rect x="277.36" y="1448.63" width="3.8" height="2.7" fill="#000"/>
<rect x="275.44" y="1454.9" width="3.8" height="2.7" fill="#000"/>
<rect x="277.36" y="1461.17" width="3.8" height="2.7" fill="#000"/>
<rect x="275.44" y="1467.44" width="3.8" height="2.7" fill="#000"/>
<rect x="277.36" y="1473.71" width="3.8" height="2.7" fill="#000"/>
<rect x="275.44" y="1479.98" width="3.8" height="2.7" fill="#000"/>
<rect x="277.36" y="1486.25" width="3.8" height="2.7" fill="#000"/>
<rect x="275.44" y="1492.52" width="3.8" height="2.7" fill="#000"/>
<rect x="277.36" y="1498.79" width="3.8" height="2.7" fill="#000"/>
<rect x="275.44" y="1505.06" width="3.8" height="2.7" fill="#000"/>
<rect x="277.36" y="1511.33" width="3.8" height="2.7" fill="#000"/>
<rect x="275.44" y="1517.6" width="3.8" height="2.7" fill="#000"/>
<rect x="277.36" y="1523.87" width="3.8" height="2.7" fill="#000"/>
<rect x="275.44" y="1530.14" width="3.8" height="2.7" fill="#000"/>
<path d="M277.4 1538.2 L458.4 1665.2" stroke="#050505" stroke-width="4.9" fill="none"/>
<path d="M202.2 1339.4 L236 1331.3 L236.54 1332.71 L237.06 1334.12 L237.2 1334.5 L237.55 1335.56 L237.98 1337.03 L238.47 1338.46 L238.8 1339.2 L239.11 1339.82 L239.98 1341.27 L241.03 1342.24 L241.2 1342.3 L242.33 1342.53 L243.9 1342.72 L245.47 1342.8 L245.6 1342.8 L246.91 1342.64 L248.32 1342.16 L249.72 1341.49 L251.1 1340.75 L252.49 1340.07 L252.9 1339.9 L253.9 1339.51 L255.3 1338.95 L256.7 1338.38 L258.1 1337.81 L259.5 1337.25 L260.9 1336.68 L262.3 1336.11 L263.7 1335.55 L265.11 1334.99 L266.51 1334.43 L267.92 1333.88 L269.33 1333.34 L270.74 1332.82 L272.15 1332.3 L273.57 1331.79 L275 1331.3 L275 1331.3 L276.42 1330.82 L277.86 1330.35 L279.29 1329.89 L280.73 1329.44 L282.17 1328.99 L283.62 1328.55 L285.06 1328.12 L286.51 1327.69 L287.96 1327.26 L289.41 1326.85 L290.87 1326.43 L292.32 1326.02 L293.77 1325.61 L295.23 1325.2 L296.68 1324.79 L297 1324.7 L298.13 1324.38 L299.59 1323.98 L301.04 1323.58 L302.5 1323.19 L303.96 1322.8 L305.42 1322.41 L306.87 1322.03 L308.33 1321.64 L309.8 1321.26 L311.26 1320.89 L312.72 1320.51 L314.18 1320.14 L315.64 1319.76 L317.11 1319.39 L318.57 1319.02 L320.03 1318.65 L321.5 1318.27 L322.96 1317.9 L324.42 1317.53 L325.88 1317.16 L326.5 1317 L327.35 1316.78 L328.81 1316.41 L330.27 1316.04 L331.73 1315.66 L333.2 1315.29 L334.66 1314.92 L336.12 1314.54 L337.58 1314.17 L339.05 1313.8 L340.51 1313.42 L341.97 1313.05 L343.44 1312.68 L344.9 1312.31 L346.36 1311.94 L347.83 1311.57 L349.29 1311.2 L350.75 1310.84 L352.22 1310.47 L353.68 1310.11 L355.15 1309.74 L356.61 1309.38 L358.08 1309.02 L359.54 1308.66 L361.01 1308.3 L362.48 1307.94 L363.94 1307.59 L365.41 1307.24 L366.88 1306.88 L368.35 1306.53 L369.81 1306.19 L370.6 1306 L371.28 1305.84 L372.75 1305.5 L374.22 1305.15 L375.69 1304.82 L377.16 1304.48 L378.63 1304.14 L380.11 1303.81 L381.58 1303.48 L383.05 1303.15 L384.53 1302.82 L386 1302.5 L387.47 1302.17 L388.95 1301.85 L390.42 1301.52 L391.9 1301.2 L393.37 1300.88 L394.84 1300.56 L396.32 1300.23 L397.79 1299.91 L399.27 1299.59 L400.74 1299.27 L402.22 1298.95 L403.69 1298.63 L405.17 1298.31 L406.64 1297.98 L408.12 1297.66 L409.59 1297.33 L411.06 1297.01 L412.54 1296.68 L414.01 1296.35 L415.48 1296.02 L416.96 1295.69 L418.43 1295.36 L419.9 1295.02 L420 1295 L421.37 1294.69 L422.84 1294.35 L424.31 1294.01 L425.78 1293.67 L427.25 1293.33 L428.72 1292.99 L430.19 1292.65 L431.66 1292.31 L433.13 1291.96 L434.6 1291.62 L436.07 1291.28 L437.54 1290.93 L439.01 1290.59 L440.48 1290.24 L441.95 1289.9 L443.42 1289.55 L444.89 1289.2 L446.36 1288.86 L447.83 1288.51 L449.3 1288.16 L450.76 1287.81 L452.23 1287.47 L453.7 1287.12 L455.17 1286.77 L456.64 1286.42 L458.11 1286.07 L459.58 1285.73 L461.05 1285.38 L462.51 1285.03 L463.98 1284.68 L465.45 1284.34 L466.92 1283.99 L468.39 1283.64 L469.86 1283.29 L471.33 1282.95 L472.8 1282.6 L472.8 1282.6 L474.26 1282.25 L475.73 1281.91 L477.2 1281.56 L478.67 1281.22 L480.14 1280.87 L481.61 1280.52 L483.08 1280.18 L484.55 1279.83 L486.02 1279.48 L487.49 1279.14 L488.96 1278.79 L490.42 1278.44 L491.89 1278.1 L493.36 1277.75 L494.83 1277.4 L496.3 1277.06 L497.77 1276.71 L499.24 1276.36 L500.71 1276.02 L502.18 1275.67 L503.64 1275.32 L505.11 1274.98 L506.58 1274.63 L508.05 1274.28 L509.52 1273.93 L510.99 1273.59 L512.46 1273.24 L513.93 1272.89 L515.39 1272.54 L516.86 1272.2 L518.33 1271.85 L519.8 1271.5" stroke="#c4c4c4" stroke-width="4.1" fill="none" stroke-linejoin="round"/>
<path d="M232.4 1361.2 L266.9 1352.4 L267.11 1353.93 L267.34 1355.46 L267.61 1356.99 L267.9 1358.5 L268.2 1360 L268.2 1360.01 L268.52 1361.56 L268.84 1363.14 L269.21 1364.7 L269.64 1366.18 L270.17 1367.52 L270.3 1367.8 L270.91 1368.84 L272.02 1370.2 L273.31 1371.22 L274.3 1371.5 L274.63 1371.49 L276.06 1371.19 L277.59 1370.67 L279.12 1370.1 L279.4 1370 L280.57 1369.58 L282 1369.01 L283.42 1368.4 L284.83 1367.77 L286.24 1367.13 L287.65 1366.49 L289.07 1365.87 L289.7 1365.6 L290.49 1365.27 L291.92 1364.68 L293.35 1364.09 L294.78 1363.51 L296.21 1362.92 L297.64 1362.34 L299.07 1361.76 L300.51 1361.19 L301.94 1360.61 L303.38 1360.04 L304.81 1359.48 L306.25 1358.92 L307.69 1358.36 L309.13 1357.81 L310.58 1357.26 L311.8 1356.8 L312.02 1356.72 L313.47 1356.18 L314.92 1355.64 L316.37 1355.11 L317.82 1354.58 L319.27 1354.05 L320.72 1353.52 L322.18 1353 L323.63 1352.48 L325.09 1351.97 L326.55 1351.45 L328 1350.94 L329.46 1350.44 L330.92 1349.93 L332.39 1349.43 L333.85 1348.94 L335.31 1348.44 L336.78 1347.95 L338.24 1347.47 L339.71 1346.99 L341.18 1346.51 L341.2 1346.5 L342.65 1346.03 L344.12 1345.56 L345.59 1345.08 L347.06 1344.61 L348.53 1344.14 L350 1343.67 L351.48 1343.2 L352.95 1342.74 L354.43 1342.28 L355.9 1341.83 L357.38 1341.38 L358.86 1340.93 L360.34 1340.49 L361.82 1340.05 L363.31 1339.62 L364.79 1339.2 L366.28 1338.78 L367.77 1338.37 L369.25 1337.96 L370.6 1337.6 L370.74 1337.56 L372.23 1337.17 L373.73 1336.78 L375.22 1336.4 L376.72 1336.02 L378.21 1335.65 L379.71 1335.28 L381.21 1334.91 L382.71 1334.55 L384.21 1334.19 L385.72 1333.83 L387.22 1333.48 L388.73 1333.13 L390.23 1332.78 L391.74 1332.44 L393.24 1332.1 L394.75 1331.76 L396.26 1331.42 L397.77 1331.08 L399.28 1330.75 L400.79 1330.41 L402.3 1330.08 L403.81 1329.75 L405.31 1329.42 L406.82 1329.09 L408.34 1328.76 L409.85 1328.43 L411.35 1328.1 L412.86 1327.77 L414.37 1327.44 L415.88 1327.11 L417.39 1326.78 L418.9 1326.44 L420 1326.2 L420.41 1326.11 L421.92 1325.78 L423.43 1325.45 L424.94 1325.13 L426.45 1324.81 L427.96 1324.49 L429.47 1324.17 L430.98 1323.85 L432.49 1323.53 L434 1323.21 L435.51 1322.88 L437.02 1322.56 L438.53 1322.23 L440 1321.9 L440.04 1321.89 L441.55 1321.55 L443.05 1321.21 L444.56 1320.87 L446.06 1320.53 L447.57 1320.18 L449.07 1319.84 L450.58 1319.49 L452.08 1319.14 L453.59 1318.79 L455.09 1318.44 L456.59 1318.09 L458.1 1317.73 L459.6 1317.38 L461.1 1317.02 L462.61 1316.66 L464.11 1316.31 L465.61 1315.95 L467.11 1315.59 L468.62 1315.23 L470.12 1314.87 L471.62 1314.51 L473.12 1314.15 L474.62 1313.79 L476.13 1313.42 L477.63 1313.06 L479.13 1312.7 L480.63 1312.34 L482.13 1311.98 L483.63 1311.62 L485.14 1311.25 L486.64 1310.89 L488.14 1310.53 L489.64 1310.17 L491.14 1309.81 L492.65 1309.45 L494.15 1309.1 L495.65 1308.74 L497.15 1308.38 L497.5 1308.3 L498.66 1308.03 L500.16 1307.67 L501.66 1307.31 L503.17 1306.96 L504.67 1306.6 L506.17 1306.25 L507.67 1305.89 L509.18 1305.53 L510.68 1305.18 L512.18 1304.82 L513.68 1304.46 L515.19 1304.11 L516.69 1303.75 L518.19 1303.39 L519.7 1303.04 L521.2 1302.68 L522.7 1302.32 L524.2 1301.97 L525.71 1301.61 L527.21 1301.25 L528.71 1300.9 L530.22 1300.54 L531.72 1300.18 L533.22 1299.83 L534.72 1299.47 L536.23 1299.11 L537.73 1298.76 L539.23 1298.4 L540.73 1298.04 L542.24 1297.69 L543.74 1297.33 L545.24 1296.97 L546.74 1296.61 L548.25 1296.26 L549.75 1295.9" stroke="#9b9b9b" stroke-width="4.1" fill="none" stroke-linejoin="round"/>
<path d="M262.5 1379.1 L296.6 1370.3 L296.67 1372.86 L296.75 1375.41 L296.82 1377.97 L296.9 1380.53 L296.98 1383.08 L297.06 1385.64 L297.14 1388.2 L297.23 1390.75 L297.31 1393.31 L297.4 1395.87 L297.49 1398.42 L297.58 1400.98 L297.6 1401.6 L297.67 1403.54 L297.76 1406.09 L297.86 1408.65 L297.95 1411.21 L298.05 1413.76 L298.14 1416.32 L298.24 1418.87 L298.34 1421.43 L298.45 1423.99 L298.55 1426.54 L298.66 1429.1 L298.77 1431.65 L298.88 1434.21 L298.99 1436.77 L299.1 1439.32 L299.22 1441.88 L299.34 1444.43 L299.4 1445.6 L299.47 1446.99 L299.59 1449.54 L299.71 1452.1 L299.83 1454.65 L299.96 1457.21 L300.08 1459.77 L300.21 1462.32 L300.34 1464.88 L300.48 1467.44 L300.62 1469.99 L300.77 1472.55 L300.93 1475.1 L301.09 1477.65 L301.27 1480.21 L301.45 1482.75 L301.65 1485.3 L301.85 1487.85 L302 1489.6 L302.07 1490.39 L302.3 1492.95 L302.56 1495.51 L302.85 1498.07 L303.17 1500.63 L303.54 1503.16 L303.96 1505.68 L304.44 1508.16 L304.6 1508.9 L305.03 1510.89 L305.85 1513.97 L306.95 1515.89 L307.3 1516 L308.86 1515.17 L309.9 1514.2 L310.53 1513.27 L311.57 1511 L312.41 1508.46 L313.22 1505.91 L313.4 1505.4 L314.08 1503.5 L314.91 1501.08 L315.71 1498.65 L316.5 1496.22 L317.29 1493.78 L318.1 1491.35 L318.7 1489.6 L318.93 1488.94 L319.78 1486.52 L320.64 1484.11 L321.51 1481.71 L322.39 1479.31 L323.28 1476.91 L324.17 1474.51 L325.07 1472.11 L325.8 1470.2 L325.98 1469.72 L326.89 1467.33 L327.8 1464.94 L328.72 1462.55 L329.65 1460.16 L330.6 1457.79 L331.58 1455.43 L332.59 1453.08 L332.8 1452.6 L333.63 1450.75 L334.71 1448.43 L335.81 1446.12 L336.94 1443.82 L338.1 1441.53 L339.28 1439.26 L340.49 1437.01 L341.6 1435 L341.73 1434.77 L342.98 1432.54 L344.26 1430.31 L345.57 1428.09 L346.92 1425.91 L348.33 1423.77 L349.8 1421.7 L350.4 1420.9 L351.35 1419.69 L352.99 1417.71 L354.72 1415.79 L356.52 1413.94 L358.38 1412.2 L359.2 1411.5 L360.31 1410.6 L362.36 1409.12 L364.5 1407.73 L366.7 1406.4 L368.93 1405.09 L371.15 1403.78 L373.35 1402.42 L375.48 1401 L375.9 1400.7 L377.53 1399.49 L379.54 1397.92 L381.53 1396.31 L383.49 1394.66 L385.44 1393 L387.4 1391.34 L389.36 1389.69 L391.34 1388.07 L393.35 1386.49 L394.4 1385.7 L395.4 1384.97 L397.46 1383.46 L399.53 1381.96 L401.62 1380.47 L403.72 1379 L405.83 1377.54 L407.95 1376.1 L410.08 1374.68 L412.23 1373.28 L414.39 1371.9 L416.56 1370.55 L418.74 1369.22 L420.8 1368 L420.93 1367.92 L423.14 1366.65 L425.38 1365.41 L427.63 1364.19 L429.89 1363 L432.17 1361.83 L434.47 1360.68 L436.76 1359.55 L439.07 1358.44 L440 1358 L441.38 1357.35 L443.69 1356.27 L446.02 1355.2 L448.35 1354.14 L450.69 1353.1 L453.04 1352.07 L455.39 1351.05 L457.75 1350.06 L460.12 1349.08 L462.49 1348.13 L464.87 1347.2 L467.26 1346.29 L468.3 1345.9 L469.65 1345.4 L472.06 1344.55 L474.47 1343.71 L476.89 1342.9 L479.33 1342.1 L481.76 1341.32 L484.2 1340.54 L486.65 1339.78 L489.1 1339.02 L491.54 1338.27 L493.99 1337.51 L496.43 1336.75 L496.6 1336.7 L498.87 1335.99 L501.32 1335.24 L503.76 1334.49 L506.21 1333.74 L508.66 1333 L511.11 1332.27 L513.56 1331.54 L516.02 1330.81 L518.47 1330.09 L520.93 1329.38 L523.38 1328.67 L525 1328.2 L525.84 1327.96 L528.3 1327.26 L530.76 1326.56 L533.23 1325.87 L535.69 1325.19 L538.16 1324.51 L540.62 1323.83 L543.09 1323.15 L545.56 1322.48 L548.03 1321.82 L550.5 1321.15 L552.97 1320.49 L553.3 1320.4 L555.44 1319.83 L557.91 1319.17 L560.39 1318.52 L562.86 1317.87 L565.33 1317.22 L567.81 1316.57 L570.29 1315.93 L572.76 1315.3 L575.24 1314.66 L577.72 1314.03 L580.2 1313.4" stroke="#808080" stroke-width="4.1" fill="none" stroke-linejoin="round"/>
<path d="M292.4 1402.4 L327.6 1393.6 L327.76 1395.71 L327.92 1397.81 L328.09 1399.92 L328.25 1402.02 L328.4 1404 L328.41 1404.13 L328.57 1406.58 L328.74 1409.35 L328.91 1412.03 L329.07 1414.21 L329.23 1415.45 L329.3 1415.6 L329.38 1415.47 L329.53 1414.6 L329.67 1413.06 L329.81 1410.98 L329.95 1408.51 L330.09 1405.81 L330.22 1403 L330.36 1400.25 L330.5 1397.7 L330.6 1396 L330.63 1395.48 L330.77 1393.37 L330.89 1391.26 L331.01 1389.15 L331.12 1387.03 L331.24 1384.92 L331.37 1382.81 L331.52 1380.71 L331.67 1378.6 L331.86 1376.5 L332 1375 L332.06 1374.37 L332.33 1371.73 L332.66 1369.09 L333.05 1367.31 L333.3 1367 L333.55 1367.28 L334.32 1369.36 L334.98 1371.88 L335 1372 L335.34 1373.94 L335.65 1376.02 L335.9 1378.12 L336.12 1380.23 L336.33 1382.35 L336.54 1384.45 L336.6 1385 L336.76 1386.55 L336.97 1388.66 L337.17 1390.76 L337.36 1392.86 L337.55 1394.96 L337.73 1397.07 L337.91 1399.17 L338.09 1401.28 L338.27 1403.38 L338.45 1405.48 L338.64 1407.59 L338.83 1409.69 L338.9 1410.4 L339.03 1411.79 L339.24 1413.9 L339.44 1416 L339.64 1418.1 L339.85 1420.2 L340.06 1422.3 L340.26 1424.4 L340.48 1426.51 L340.69 1428.61 L340.9 1430.71 L341.12 1432.81 L341.34 1434.91 L341.56 1437.01 L341.79 1439.11 L342.01 1441.21 L342.24 1443.31 L342.48 1445.4 L342.5 1445.6 L342.72 1447.5 L342.96 1449.6 L343.2 1451.7 L343.45 1453.79 L343.7 1455.89 L343.95 1457.99 L344.21 1460.08 L344.47 1462.18 L344.73 1464.28 L345 1466.37 L345.27 1468.47 L345.54 1470.56 L345.81 1472.65 L346.09 1474.75 L346.37 1476.84 L346.65 1478.93 L346.9 1480.8 L346.93 1481.03 L347.21 1483.12 L347.49 1485.21 L347.76 1487.31 L348.04 1489.41 L348.32 1491.51 L348.59 1493.6 L348.88 1495.7 L349.16 1497.8 L349.46 1499.89 L349.76 1501.98 L350.07 1504.07 L350.39 1506.16 L350.72 1508.24 L351.07 1510.32 L351.43 1512.4 L351.81 1514.47 L352.1 1516 L352.2 1516.53 L352.63 1518.59 L353.08 1520.65 L353.55 1522.71 L354.05 1524.77 L354.58 1526.82 L355.12 1528.87 L355.69 1530.91 L356.27 1532.94 L356.87 1534.97 L357.49 1537 L358.11 1539.01 L358.75 1541.02 L359.2 1542.4 L359.4 1543.02 L360.06 1545.04 L360.74 1547.07 L361.43 1549.09 L362.16 1551.11 L362.93 1553.1 L363.75 1555.06 L364.62 1556.97 L365.55 1558.82 L366.2 1560 L366.56 1560.61 L367.7 1562.46 L369.01 1564.25 L370.45 1565.79 L371.5 1566.6 L372.08 1566.97 L374.07 1567.9 L374.8 1568 L376.09 1567.73 L378.02 1566.71 L378.2 1566.6 L379.58 1565.4 L380.94 1563.7 L381.6 1562.8 L382.19 1561.99 L383.34 1560.23 L384.43 1558.42 L385.47 1556.57 L386.49 1554.7 L387.3 1553.2 L387.49 1552.84 L388.49 1550.98 L389.46 1549.11 L390.41 1547.22 L391.35 1545.32 L392.27 1543.42 L393.1 1541.7 L393.19 1541.52 L394.09 1539.61 L394.97 1537.7 L395.85 1535.77 L396.71 1533.85 L397.58 1531.92 L398.45 1530 L398.9 1529 L399.32 1528.07 L400.2 1526.15 L401.08 1524.23 L401.96 1522.31 L402.84 1520.39 L403.71 1518.47 L404.59 1516.55 L404.7 1516.3 L405.46 1514.62 L406.32 1512.7 L407.19 1510.77 L408.05 1508.84 L408.91 1506.92 L409.77 1504.99 L410.4 1503.6 L410.64 1503.06 L411.5 1501.14 L412.36 1499.21 L413.22 1497.28 L414.09 1495.35 L414.97 1493.43 L415.86 1491.52 L416.2 1490.8 L416.77 1489.61 L417.7 1487.72 L418.64 1485.83 L419.6 1483.94 L420.56 1482.06 L421.54 1480.19 L422 1479.3 L422.51 1478.32 L423.5 1476.45 L424.5 1474.59 L425.51 1472.74 L426.53 1470.89 L427.55 1469.04 L427.8 1468.6 L428.59 1467.2 L429.63 1465.36 L430.68 1463.53 L431.74 1461.71 L432.82 1459.89 L433.6 1458.6 L433.92 1458.08 L435.03 1456.29 L436.16 1454.51 L437.31 1452.73 L438.46 1450.96 L439.61 1449.19 L440 1448.6 L440.77 1447.43 L441.93 1445.66 L443.09 1443.9 L444.26 1442.14 L445.43 1440.38 L446.59 1438.62 L447 1438 L447.75 1436.85 L448.9 1435.08 L450.04 1433.3 L451.19 1431.53 L452.34 1429.76 L453.51 1428.01 L454.2 1427 L454.71 1426.27 L455.91 1424.53 L457.12 1422.79 L458.33 1421.06 L459.56 1419.34 L460.79 1417.62 L462.04 1415.91 L463.29 1414.21 L464.57 1412.53 L465.86 1410.86 L467.16 1409.2 L468.3 1407.8 L468.49 1407.57 L469.83 1405.95 L471.2 1404.33 L472.58 1402.73 L473.98 1401.14 L475.4 1399.57 L476.83 1398.01 L478.28 1396.47 L479.75 1394.95 L481.23 1393.45 L482.5 1392.2 L482.73 1391.98 L484.25 1390.52 L485.79 1389.07 L487.35 1387.65 L488.93 1386.24 L490.53 1384.85 L492.15 1383.49 L493.78 1382.14 L495.43 1380.82 L496.6 1379.9 L497.09 1379.52 L498.76 1378.25 L500.47 1377 L502.19 1375.78 L503.92 1374.57 L505.67 1373.37 L507.43 1372.2 L509.2 1371.04 L510.8 1370 L510.97 1369.89 L512.75 1368.76 L514.53 1367.63 L516.33 1366.52 L518.14 1365.43 L519.96 1364.35 L521.79 1363.3 L523.63 1362.26 L525 1361.5 L525.48 1361.24 L527.33 1360.24 L529.21 1359.26 L531.09 1358.3 L532.98 1357.36 L534.87 1356.42 L536.78 1355.5 L538.68 1354.6 L539.1 1354.4 L540.59 1353.7 L542.51 1352.82 L544.44 1351.95 L546.37 1351.09 L548.3 1350.24 L550.24 1349.4 L552.18 1348.57 L553.3 1348.1 L554.13 1347.75 L556.08 1346.94 L558.03 1346.13 L559.98 1345.34 L561.95 1344.55 L563.91 1343.78 L565.88 1343.02 L567.5 1342.4 L567.85 1342.27 L569.83 1341.54 L571.82 1340.82 L573.81 1340.11 L575.8 1339.42 L577.8 1338.72 L579.79 1338.03 L581.6 1337.4 L581.79 1337.33 L583.78 1336.63 L585.77 1335.93 L587.76 1335.23 L589.76 1334.54 L591.76 1333.85 L593.76 1333.17 L595.76 1332.51 L595.8 1332.5 L597.77 1331.87 L599.78 1331.23 L601.8 1330.6 L603.82 1329.99 L605.84 1329.38 L607.87 1328.79 L609.9 1328.2" stroke="#555" stroke-width="4.1" fill="none" stroke-linejoin="round"/>
<path d="M322.4 1423 L357.6 1414.7 L359.1 1416.29 L359.8 1417.5 L359.98 1418.09 L360.42 1420.63 L360.73 1423.26 L361.07 1425.03 L361.3 1425.3 L361.6 1424.97 L362.36 1422.93 L363.09 1420.4 L363.2 1420 L363.64 1418.37 L364.12 1416.34 L364.56 1414.29 L364.97 1412.24 L365.38 1410.18 L365.8 1408.12 L366.24 1406.08 L366.5 1405 L366.73 1404.04 L367.18 1401.96 L367.65 1399.87 L368.18 1397.83 L368.83 1395.89 L369.2 1395 L369.76 1393.89 L370.8 1392.8 L371.09 1392.88 L372.49 1394.54 L373.2 1396 L373.41 1396.56 L374.02 1398.45 L374.54 1400.42 L374.99 1402.46 L375.37 1404.55 L375.72 1406.67 L376.04 1408.81 L376.35 1410.93 L376.66 1413.03 L376.8 1413.9 L376.99 1415.1 L377.31 1417.16 L377.61 1419.23 L377.9 1421.3 L378.18 1423.38 L378.46 1425.45 L378.72 1427.53 L378.98 1429.61 L379.24 1431.68 L379.49 1433.76 L379.75 1435.84 L380.01 1437.92 L380.27 1439.99 L380.4 1441 L380.54 1442.07 L380.8 1444.14 L381.07 1446.22 L381.33 1448.3 L381.59 1450.37 L381.85 1452.45 L382.11 1454.52 L382.36 1456.6 L382.62 1458.68 L382.88 1460.75 L383.14 1462.83 L383.4 1464.91 L383.66 1466.98 L383.9 1468.9 L383.92 1469.06 L384.18 1471.13 L384.44 1473.21 L384.7 1475.29 L384.96 1477.36 L385.22 1479.44 L385.48 1481.51 L385.75 1483.59 L386.01 1485.67 L386.28 1487.74 L386.54 1489.82 L386.82 1491.89 L387.09 1493.96 L387.3 1495.5 L387.37 1496.04 L387.66 1498.11 L387.95 1500.18 L388.24 1502.25 L388.53 1504.33 L388.83 1506.4 L389.13 1508.47 L389.43 1510.54 L389.74 1512.61 L390.04 1514.68 L390.35 1516.75 L390.67 1518.82 L390.8 1519.7 L390.98 1520.88 L391.3 1522.95 L391.61 1525.02 L391.93 1527.09 L392.25 1529.16 L392.58 1531.22 L392.91 1533.29 L393.24 1535.36 L393.58 1537.42 L393.92 1539.48 L394.27 1541.55 L394.3 1541.7 L394.63 1543.61 L394.98 1545.67 L395.34 1547.73 L395.71 1549.79 L396.08 1551.85 L396.46 1553.91 L396.86 1555.97 L397.26 1558.02 L397.67 1560.07 L397.7 1560.2 L398.1 1562.12 L398.54 1564.16 L399 1566.2 L399.47 1568.25 L399.95 1570.28 L400.46 1572.31 L400.97 1574.34 L401.2 1575.2 L401.51 1576.36 L402.06 1578.38 L402.64 1580.4 L403.24 1582.4 L403.88 1584.4 L404.55 1586.37 L404.7 1586.8 L405.26 1588.34 L406.02 1590.31 L406.84 1592.24 L407.74 1594.12 L408.1 1594.8 L408.74 1595.97 L409.87 1597.84 L411.18 1599.44 L411.6 1599.8 L412.83 1600.67 L414.82 1601.48 L415.1 1601.5 L416.78 1600.98 L418.5 1599.8 L418.55 1599.76 L419.91 1598.28 L421.08 1596.45 L422 1594.8 L422.12 1594.59 L423.05 1592.73 L423.89 1590.81 L424.68 1588.86 L425.46 1586.91 L425.5 1586.8 L426.22 1584.96 L426.95 1583 L427.66 1581.03 L428.35 1579.06 L428.9 1577.5 L429.05 1577.08 L429.73 1575.11 L430.41 1573.13 L431.08 1571.14 L431.73 1569.16 L432.38 1567.16 L432.4 1567.1 L433.01 1565.17 L433.63 1563.17 L434.24 1561.17 L434.84 1559.16 L435.43 1557.16 L435.9 1555.6 L436.03 1555.15 L436.62 1553.15 L437.21 1551.14 L437.79 1549.13 L438.37 1547.12 L438.97 1545.11 L439.3 1544 L439.57 1543.11 L440.18 1541.11 L440.79 1539.11 L441.41 1537.11 L442.04 1535.11 L442.66 1533.12 L443.3 1531.12 L443.93 1529.13 L444.57 1527.14 L445.1 1525.5 L445.22 1525.14 L445.86 1523.16 L446.52 1521.17 L447.17 1519.18 L447.84 1517.2 L448.5 1515.21 L449.17 1513.23 L449.85 1511.25 L450.53 1509.27 L450.9 1508.2 L451.21 1507.3 L451.9 1505.32 L452.59 1503.34 L453.28 1501.37 L453.98 1499.39 L454.68 1497.42 L455.4 1495.46 L456.13 1493.5 L456.7 1492 L456.88 1491.54 L457.63 1489.59 L458.41 1487.65 L459.19 1485.71 L459.99 1483.78 L460.8 1481.84 L461.62 1479.92 L462.4 1478.1 L462.44 1478 L463.28 1476.08 L464.13 1474.17 L464.99 1472.26 L465.86 1470.35 L466.74 1468.46 L467.64 1466.57 L468.2 1465.4 L468.55 1464.68 L469.48 1462.81 L470.42 1460.94 L471.38 1459.08 L472.36 1457.23 L473.35 1455.39 L474 1454.2 L474.36 1453.56 L475.38 1451.73 L476.43 1449.92 L477.5 1448.12 L478.59 1446.33 L479.7 1444.56 L479.8 1444.4 L480.84 1442.81 L482.02 1441.08 L483.22 1439.37 L484.45 1437.67 L484.5 1437.6 L485.69 1435.99 L486.96 1434.33 L488.26 1432.68 L489.56 1431.04 L489.6 1431 L490.89 1429.43 L492.23 1427.82 L493.59 1426.23 L494.96 1424.65 L496.35 1423.08 L496.6 1422.8 L497.75 1421.53 L499.18 1420 L500.62 1418.48 L502.07 1416.98 L503.53 1415.47 L503.7 1415.3 L504.99 1413.98 L506.45 1412.48 L507.93 1410.99 L509.42 1409.52 L510.8 1408.2 L510.93 1408.08 L512.46 1406.66 L514.02 1405.26 L515.59 1403.88 L517.18 1402.51 L517.9 1401.9 L518.78 1401.16 L520.39 1399.83 L522.02 1398.51 L523.67 1397.22 L525 1396.2 L525.33 1395.95 L527 1394.7 L528.69 1393.46 L530.39 1392.24 L532.1 1391.03 L533.82 1389.83 L535.55 1388.65 L537.29 1387.49 L539.03 1386.34 L539.1 1386.3 L540.79 1385.21 L542.56 1384.1 L544.34 1383 L546.13 1381.91 L547.94 1380.84 L549.75 1379.79 L551.57 1378.76 L553.3 1377.8 L553.4 1377.75 L555.24 1376.76 L557.09 1375.79 L558.96 1374.85 L560.83 1373.91 L562.71 1372.99 L564.6 1372.08 L566.49 1371.18 L567.5 1370.7 L568.38 1370.28 L570.27 1369.39 L572.17 1368.5 L574.07 1367.63 L575.97 1366.76 L577.88 1365.91 L579.8 1365.07 L581.6 1364.3 L581.72 1364.25 L583.65 1363.44 L585.58 1362.63 L587.52 1361.84 L589.47 1361.06 L591.42 1360.3 L593.38 1359.56 L595.34 1358.86 L595.8 1358.7 L597.32 1358.19 L599.31 1357.54 L601.31 1356.92 L603.31 1356.31 L605.32 1355.72 L607.33 1355.13 L609.34 1354.56 L609.9 1354.4 L611.35 1353.99 L613.37 1353.43 L615.39 1352.89 L617.41 1352.35 L619.44 1351.82 L621.46 1351.29 L623.49 1350.76 L624.1 1350.6 L625.51 1350.23 L627.54 1349.7 L629.56 1349.18 L631.59 1348.66 L633.61 1348.14 L635.64 1347.62 L637.67 1347.11 L639.7 1346.6" stroke="#2b2b2b" stroke-width="4.1" fill="none" stroke-linejoin="round"/>
<path d="M352.6 1444.6 L386.6 1436.8 L387.4 1431 L389.5 1432.5 L394.4 1441 L398 1443.5 L401.4 1443.8 L440 1434.4 L508 1418.4 L670.1 1380.6" stroke="#f06ba0" stroke-width="4.1" fill="none" stroke-linejoin="round"/>
<path d="M352.6 1444.6 L387.3 1436.5" stroke="#000" stroke-width="4.1" fill="none" stroke-dasharray="2.3 0.9"/>
<path d="M387.3 1436.5 L387.53 1438.34 L387.76 1440.18 L387.97 1442.02 L388.19 1443.87 L388.2 1444 L388.39 1445.99 L388.58 1448.42 L388.77 1450.66 L388.96 1452.21 L389.1 1452.6 L389.15 1452.56 L389.35 1451.81 L389.54 1450.28 L389.74 1448.21 L389.93 1445.83 L390.12 1443.39 L390.3 1441.11 L390.4 1440 L390.47 1439.19 L390.62 1437.33 L390.74 1435.47 L390.86 1433.61 L390.99 1431.75 L391.14 1429.9 L391.33 1428.06 L391.56 1426.24 L391.6 1426 L391.97 1424.07 L392.6 1422.7 L392.6 1422.7 L393.53 1424.02 L394.2 1425.5 L394.39 1425.95 L395.01 1427.68 L395.55 1429.46 L396.04 1431.27 L396.53 1433.07 L397.08 1434.85 L397.5 1436 L397.73 1436.61 L398.46 1438.7 L399.25 1440.88 L400.11 1442.69 L401.04 1443.71 L401.4 1443.8 L402.11 1443.43 L403.39 1441.84 L404.49 1440.01 L404.5 1440 L405.29 1438.41 L405.99 1436.73 L406.6 1434.99 L407.17 1433.2 L407.72 1431.39 L408.27 1429.58 L408.85 1427.79 L409.49 1426.04 L409.5 1426 L410.15 1424.28 L410.79 1422.49 L411.45 1420.69 L412.14 1418.92 L412.9 1417.23 L413.75 1415.64 L414.5 1414.5 L414.73 1414.18 L416.03 1412.57 L417.53 1411.42 L418.1 1411.3 L419.2 1411.55 L421 1412.62 L421.5 1413.2 L421.82 1413.86 L422.31 1415.41 L422.69 1417.23 L422.99 1419.22 L423.24 1421.26 L423.49 1423.24 L423.6 1424 L423.76 1425.09 L424 1426.92 L424.23 1428.76 L424.44 1430.61 L424.65 1432.45 L424.85 1434.3 L425.05 1436.14 L425.26 1437.99 L425.48 1439.83 L425.5 1440 L425.71 1441.67 L425.95 1443.51 L426.19 1445.35 L426.44 1447.19 L426.69 1449.03 L426.93 1450.87 L427.18 1452.71 L427.43 1454.54 L427.68 1456.38 L427.8 1457.3 L427.92 1458.22 L428.17 1460.06 L428.41 1461.9 L428.65 1463.74 L428.89 1465.58 L429.14 1467.42 L429.38 1469.26 L429.62 1471.1 L429.87 1472.94 L430.1 1474.7 L430.11 1474.77 L430.35 1476.61 L430.6 1478.45 L430.84 1480.29 L431.09 1482.13 L431.33 1483.97 L431.58 1485.81 L431.82 1487.65 L432.07 1489.49 L432.31 1491.33 L432.4 1492 L432.55 1493.16 L432.8 1495 L433.04 1496.84 L433.29 1498.68 L433.53 1500.52 L433.78 1502.36 L434.02 1504.2 L434.27 1506.04 L434.51 1507.88 L434.7 1509.3 L434.76 1509.72 L435 1511.56 L435.24 1513.39 L435.48 1515.23 L435.73 1517.07 L435.97 1518.91 L436.21 1520.75 L436.46 1522.59 L436.7 1524.43 L436.94 1526.27 L437 1526.7 L437.19 1528.11 L437.43 1529.95 L437.68 1531.79 L437.92 1533.63 L438.16 1535.46 L438.41 1537.3 L438.65 1539.14 L438.9 1540.98 L439.14 1542.82 L439.3 1544 L439.39 1544.66 L439.63 1546.5 L439.87 1548.34 L440.12 1550.18 L440.36 1552.02 L440.6 1553.86 L440.85 1555.69 L441.09 1557.53 L441.34 1559.37 L441.59 1561.21 L441.6 1561.3 L441.84 1563.05 L442.09 1564.89 L442.35 1566.72 L442.61 1568.56 L442.86 1570.4 L443.12 1572.24 L443.38 1574.07 L443.63 1575.91 L443.87 1577.75 L444 1578.7 L444.12 1579.59 L444.35 1581.43 L444.58 1583.27 L444.81 1585.11 L445.03 1586.95 L445.25 1588.8 L445.48 1590.64 L445.71 1592.48 L445.94 1594.32 L446.19 1596.16 L446.3 1597 L446.44 1598 L446.69 1599.83 L446.95 1601.67 L447.21 1603.51 L447.48 1605.34 L447.75 1607.18 L448.04 1609.01 L448.33 1610.84 L448.6 1612.5 L448.63 1612.67 L448.94 1614.5 L449.26 1616.33 L449.59 1618.16 L449.94 1619.98 L450.3 1621.8 L450.68 1623.62 L450.9 1624.6 L451.08 1625.43 L451.49 1627.25 L451.92 1629.07 L452.39 1630.87 L452.93 1632.63 L453.2 1633.4 L453.57 1634.38 L454.41 1636.07 L454.8 1636.6 L455.72 1637.44 L456.2 1637.6 L457.3 1636.92 L457.6 1636.6 L458.38 1635.47 L459.18 1633.73 L459.6 1632.6 L459.81 1631.98 L460.34 1630.22 L460.81 1628.42 L461.22 1626.59 L461.61 1624.77 L461.9 1623.4 L461.99 1622.95 L462.36 1621.13 L462.7 1619.31 L463.03 1617.48 L463.35 1615.66 L463.66 1613.82 L463.97 1611.99 L464.2 1610.6 L464.27 1610.16 L464.58 1608.33 L464.87 1606.5 L465.16 1604.67 L465.45 1602.84 L465.73 1601 L466.02 1599.17 L466.3 1597.34 L466.5 1596 L466.58 1595.5 L466.85 1593.67 L467.13 1591.83 L467.41 1590 L467.68 1588.16 L467.95 1586.33 L468.22 1584.49 L468.49 1582.66 L468.76 1580.82 L469.03 1578.99 L469.29 1577.15 L469.4 1576.4 L469.56 1575.31 L469.82 1573.48 L470.08 1571.64 L470.33 1569.8 L470.59 1567.97 L470.84 1566.13 L471.1 1564.29 L471.35 1562.45 L471.6 1560.61 L471.86 1558.78 L472.11 1556.94 L472.3 1555.6 L472.37 1555.1 L472.62 1553.26 L472.88 1551.43 L473.13 1549.59 L473.39 1547.75 L473.64 1545.91 L473.9 1544.08 L474.15 1542.24 L474.41 1540.4 L474.67 1538.56 L474.93 1536.73 L475.19 1534.89 L475.2 1534.8 L475.45 1533.05 L475.71 1531.22 L475.97 1529.38 L476.23 1527.54 L476.5 1525.71 L476.76 1523.87 L477.03 1522.03 L477.3 1520.2 L477.57 1518.36 L477.84 1516.53 L478.12 1514.69 L478.4 1512.86 L478.6 1511.6 L478.69 1511.03 L478.98 1509.2 L479.27 1507.36 L479.57 1505.53 L479.86 1503.7 L480.17 1501.87 L480.47 1500.04 L480.78 1498.21 L481.1 1496.38 L481.42 1494.55 L481.75 1492.73 L482.08 1490.9 L482.1 1490.8 L482.42 1489.08 L482.76 1487.26 L483.12 1485.44 L483.47 1483.61 L483.84 1481.8 L484.21 1479.98 L484.59 1478.16 L484.98 1476.35 L485.37 1474.53 L485.6 1473.5 L485.77 1472.72 L486.18 1470.91 L486.59 1469.1 L487.02 1467.29 L487.45 1465.49 L487.9 1463.69 L488.37 1461.89 L488.86 1460.11 L489 1459.6 L489.37 1458.33 L489.9 1456.55 L490.46 1454.77 L491.05 1453.01 L491.66 1451.26 L492.3 1449.52 L492.5 1449 L492.98 1447.8 L493.73 1446.11 L494.52 1444.43 L495.33 1442.75 L496.14 1441.08 L496.92 1439.4 L497.1 1439 L497.67 1437.7 L498.39 1435.99 L499.1 1434.27 L499.83 1432.56 L500.58 1430.87 L500.9 1430.2 L501.38 1429.2 L502.2 1427.54 L503.05 1425.88 L503.92 1424.23 L504.82 1422.61 L505.75 1421 L506.6 1419.6 L506.71 1419.43 L507.71 1417.87 L508.77 1416.34 L509.86 1414.83 L510.98 1413.35 L512.13 1411.89 L512.2 1411.8 L513.29 1410.45 L514.49 1409.02 L515.73 1407.63 L517 1406.28 L517.9 1405.4 L518.32 1405 L519.7 1403.77 L521.14 1402.58 L522.61 1401.43 L524.1 1400.33 L525 1399.7 L525.62 1399.28 L527.18 1398.27 L528.77 1397.3 L530.38 1396.37 L532 1395.5 L532.01 1395.49 L533.66 1394.64 L535.33 1393.8 L537.02 1393.02 L538.73 1392.33 L539.1 1392.2 L540.47 1391.73 L542.23 1391.18 L544.01 1390.67 L545.81 1390.18 L547.62 1389.73 L549.43 1389.29 L551.24 1388.87 L553.05 1388.46 L553.3 1388.4 L554.86 1388.05 L556.68 1387.67 L558.49 1387.3 L560.32 1386.94 L562.14 1386.59 L563.96 1386.25 L565.79 1385.91 L567.5 1385.6 L567.61 1385.58 L569.44 1385.25 L571.27 1384.94 L573.1 1384.63 L574.93 1384.33 L576.76 1384.02 L578.59 1383.72 L580.42 1383.41 L581.6 1383.2 L582.25 1383.09 L584.07 1382.76 L585.9 1382.42 L587.72 1382.09 L589.54 1381.75 L591.37 1381.41 L593.19 1381.07 L595.02 1380.74 L595.8 1380.6 L596.84 1380.41 L598.67 1380.08 L600.5 1379.76 L602.32 1379.43 L604.15 1379.11 L605.98 1378.78 L607.8 1378.46 L609.63 1378.15 L609.9 1378.1 L611.46 1377.83 L613.29 1377.52 L615.12 1377.21 L616.95 1376.9 L618.78 1376.59 L620.61 1376.29 L622.44 1375.98 L624.1 1375.7 L624.27 1375.67 L626.09 1375.36 L627.92 1375.05 L629.75 1374.74 L631.58 1374.42 L633.41 1374.11 L635.24 1373.8 L637.07 1373.5 L638.3 1373.3 L638.9 1373.2 L640.73 1372.91 L642.56 1372.62 L644.4 1372.33 L646.23 1372.04 L648.06 1371.76 L649.9 1371.48 L651.73 1371.2 L652.4 1371.1 L653.57 1370.93 L655.4 1370.66 L657.24 1370.39 L659.07 1370.13 L660.91 1369.86 L662.75 1369.6 L664.58 1369.35 L666.42 1369.1 L668.26 1368.85 L670.1 1368.6" stroke="#000" stroke-width="4.1" fill="none" stroke-linejoin="round"/>
<text x="473.2" y="1239.2" font-family='"Liberation Sans", sans-serif' font-size="29.6" fill="#262626" text-anchor="start" font-weight="normal" font-style="normal" textLength="17" lengthAdjust="spacingAndGlyphs" >0</text>
<text x="517" y="1261.8" font-family='"Liberation Sans", sans-serif' font-size="29.6" fill="#262626" text-anchor="start" font-weight="normal" font-style="normal" textLength="17" lengthAdjust="spacingAndGlyphs" >5</text>
<text x="542.6" y="1288.8" font-family='"Liberation Sans", sans-serif' font-size="29.6" fill="#262626" text-anchor="start" font-weight="normal" font-style="normal" textLength="33.9" lengthAdjust="spacingAndGlyphs" >10</text>
<text x="577.8" y="1308.2" font-family='"Liberation Sans", sans-serif' font-size="29.6" fill="#262626" text-anchor="start" font-weight="normal" font-style="normal" textLength="50.9" lengthAdjust="spacingAndGlyphs" >150</text>
<text x="619.4" y="1332.4" font-family='"Liberation Sans", sans-serif' font-size="29.6" fill="#262626" text-anchor="start" font-weight="normal" font-style="normal" textLength="67.8" lengthAdjust="spacingAndGlyphs" >1000</text>
<text x="657.2" y="1362" font-family='"Liberation Sans", sans-serif' font-size="29.6" fill="#262626" text-anchor="start" font-weight="normal" font-style="normal" textLength="67.8" lengthAdjust="spacingAndGlyphs" >2000</text>
<text x="682" y="1390" font-family='"Liberation Sans", sans-serif' font-size="29.6" fill="#262626" text-anchor="start" font-weight="normal" font-style="normal" textLength="67.8" lengthAdjust="spacingAndGlyphs" >4000</text>
<path d="M490.8 1532 H557" stroke="#000" stroke-width="4.2" fill="none" stroke-dasharray="3.6 9.1"/>
<text x="565.6" y="1537.5" font-family='"Liberation Sans", sans-serif' font-size="30.2" fill="#000" text-anchor="start" font-weight="normal" font-style="normal" textLength="168.5" lengthAdjust="spacingAndGlyphs" >target signal</text>
<path d="M490.7 1575.8 H558.1" stroke="#f06ba0" stroke-width="4.1" fill="none"/>
<text x="571.2" y="1581.7" font-family='"Liberation Sans", sans-serif' font-size="30.2" fill="#000" text-anchor="start" font-weight="normal" font-style="normal" textLength="103.8" lengthAdjust="spacingAndGlyphs" >no STP</text>
<!-- panel d -->
<text x="824" y="1073" font-family='"Liberation Sans", sans-serif' font-size="100" fill="#000" text-anchor="start" font-weight="bold" font-style="normal" >d</text>
<text x="1418" y="1089" font-family='"Liberation Sans", sans-serif' font-size="50.1" fill="#000" text-anchor="middle" font-weight="normal" font-style="normal" >Learned PC responses</text>
<text x="1059.6" y="1124.3" font-family='"Liberation Sans", sans-serif' font-size="49.8" fill="#ed1c24" text-anchor="start" font-weight="normal" font-style="normal" textLength="67.1" lengthAdjust="spacingAndGlyphs" >CS</text>
<rect x="1058.2" y="1142.6" width="773.4" height="28.9" fill="#ed1c24"/>
<g stroke="#262626" stroke-width="1.9" fill="none">
<path d="M963.4 1180.9 V1704.6 H1823.6"/>
<path d="M963.4 1704.6 h-3.9"/>
<path d="M963.4 1599.98 h-3.9"/>
<path d="M963.4 1495.36 h-3.9"/>
<path d="M963.4 1390.74 h-3.9"/>
<path d="M963.4 1286.12 h-3.9"/>
<path d="M963.4 1181.5 h-3.9"/>
<path d="M1059.2 1704.6 v4.2"/>
<path d="M1298.3 1704.6 v4.2"/>
<path d="M1537.4 1704.6 v4.2"/>
<path d="M1776.5 1704.6 v4.2"/>
</g>
<text x="944.4" y="1712.4" font-family='"Liberation Sans", sans-serif' font-size="40" fill="#262626" text-anchor="end" font-weight="normal" font-style="normal" >0</text>
<text x="944.4" y="1607.78" font-family='"Liberation Sans", sans-serif' font-size="40" fill="#262626" text-anchor="end" font-weight="normal" font-style="normal" >10</text>
<text x="944.4" y="1503.16" font-family='"Liberation Sans", sans-serif' font-size="40" fill="#262626" text-anchor="end" font-weight="normal" font-style="normal" >20</text>
<text x="944.4" y="1398.54" font-family='"Liberation Sans", sans-serif' font-size="40" fill="#262626" text-anchor="end" font-weight="normal" font-style="normal" >30</text>
<text x="944.4" y="1293.92" font-family='"Liberation Sans", sans-serif' font-size="40" fill="#262626" text-anchor="end" font-weight="normal" font-style="normal" >40</text>
<text x="944.4" y="1189.3" font-family='"Liberation Sans", sans-serif' font-size="40" fill="#262626" text-anchor="end" font-weight="normal" font-style="normal" >50</text>
<text x="1062.2" y="1754.6" font-family='"Liberation Sans", sans-serif' font-size="40" fill="#262626" text-anchor="middle" font-weight="normal" font-style="normal" >0</text>
<text x="1300.1" y="1754.6" font-family='"Liberation Sans", sans-serif' font-size="40" fill="#262626" text-anchor="middle" font-weight="normal" font-style="normal" textLength="82.4" lengthAdjust="spacingAndGlyphs" >0.25</text>
<text x="1538" y="1754.6" font-family='"Liberation Sans", sans-serif' font-size="40" fill="#262626" text-anchor="middle" font-weight="normal" font-style="normal" textLength="57.4" lengthAdjust="spacingAndGlyphs" >0.5</text>
<text x="1777.7" y="1754.6" font-family='"Liberation Sans", sans-serif' font-size="40" fill="#262626" text-anchor="middle" font-weight="normal" font-style="normal" textLength="82.4" lengthAdjust="spacingAndGlyphs" >0.75</text>
<text x="1420.2" y="1802.9" font-family='"Liberation Sans", sans-serif' font-size="41.5" fill="#262626" text-anchor="middle" font-weight="normal" font-style="normal" >time after CS onset (s)</text>
<g transform="translate(878.4 1409.5) rotate(-90)"><text x="0" y="0" font-family='"Liberation Sans", sans-serif' font-size="41.5" fill="#262626" text-anchor="middle" font-weight="normal" font-style="normal" >PC firing rate (Hz)</text></g>
<g transform="translate(1773.2 1552.4) rotate(-90)"><text x="0" y="0" font-family='"Liberation Sans", sans-serif' font-size="33" fill="#9b9b9b" text-anchor="middle" font-weight="normal" font-style="italic" textLength="199" lengthAdjust="spacingAndGlyphs" >target times</text></g>
<path d="M1083.11 1181.3 V1704.6" stroke="#0072bd" stroke-width="3.0" stroke-dasharray="18.7 12.9" fill="none"/>
<path d="M1107.02 1181.3 V1704.6" stroke="#d95319" stroke-width="3.0" stroke-dasharray="18.7 12.9" fill="none"/>
<path d="M1154.84 1181.3 V1704.6" stroke="#edb120" stroke-width="1.9" stroke-dasharray="18.7 12.9" fill="none"/>
<path d="M1250.48 1181.3 V1704.6" stroke="#7e2f8e" stroke-width="3.0" stroke-dasharray="18.7 12.9" fill="none"/>
<path d="M1346.12 1181.3 V1704.6" stroke="#77ac30" stroke-width="1.9" stroke-dasharray="18.7 12.9" fill="none"/>
<path d="M1537.4 1181.3 V1704.6" stroke="#4dbeee" stroke-width="1.9" stroke-dasharray="18.7 12.9" fill="none"/>
<path d="M1728.68 1181.3 V1704.6" stroke="#a2142f" stroke-width="1.9" stroke-dasharray="18.7 12.9" fill="none"/>
<g fill="none" stroke-width="2.4" stroke-linejoin="round">
<path d="M963.56 1286.12 L964.28 1286.12 L964.99 1286.12 L965.71 1286.12 L966.43 1286.12 L967.15 1286.12 L967.86 1286.12 L968.58 1286.12 L969.3 1286.12 L970.02 1286.12 L970.73 1286.12 L971.45 1286.12 L972.17 1286.12 L972.88 1286.12 L973.6 1286.12 L974.32 1286.12 L975.04 1286.12 L975.75 1286.12 L976.47 1286.12 L977.19 1286.12 L977.91 1286.12 L978.62 1286.12 L979.34 1286.12 L980.06 1286.12 L980.78 1286.12 L981.49 1286.12 L982.21 1286.12 L982.93 1286.12 L983.64 1286.12 L984.36 1286.12 L985.08 1286.12 L985.8 1286.12 L986.51 1286.12 L987.23 1286.12 L987.95 1286.12 L988.67 1286.12 L989.38 1286.12 L990.1 1286.12 L990.82 1286.12 L991.53 1286.12 L992.25 1286.12 L992.97 1286.12 L993.69 1286.12 L994.4 1286.12 L995.12 1286.12 L995.84 1286.12 L996.56 1286.12 L997.27 1286.12 L997.99 1286.12 L998.71 1286.12 L999.43 1286.12 L1000.14 1286.12 L1000.86 1286.12 L1001.58 1286.12 L1002.29 1286.12 L1003.01 1286.12 L1003.73 1286.12 L1004.45 1286.12 L1005.16 1286.12 L1005.88 1286.12 L1006.6 1286.12 L1007.32 1286.12 L1008.03 1286.12 L1008.75 1286.12 L1009.47 1286.12 L1010.18 1286.12 L1010.9 1286.12 L1011.62 1286.12 L1012.34 1286.12 L1013.05 1286.12 L1013.77 1286.12 L1014.49 1286.12 L1015.21 1286.12 L1015.92 1286.12 L1016.64 1286.12 L1017.36 1286.12 L1018.07 1286.12 L1018.79 1286.12 L1019.51 1286.12 L1020.23 1286.12 L1020.94 1286.12 L1021.66 1286.12 L1022.38 1286.12 L1023.1 1286.12 L1023.81 1286.12 L1024.53 1286.12 L1025.25 1286.12 L1025.97 1286.12 L1026.68 1286.12 L1027.4 1286.12 L1028.12 1286.12 L1028.83 1286.12 L1029.55 1286.12 L1030.27 1286.12 L1030.99 1286.12 L1031.7 1286.12 L1032.42 1286.12 L1033.14 1286.12 L1033.86 1286.12 L1034.57 1286.12 L1035.29 1286.12 L1036.01 1286.12 L1036.72 1286.12 L1037.44 1286.12 L1038.16 1286.12 L1038.88 1286.12 L1039.59 1286.12 L1040.31 1286.12 L1041.03 1286.12 L1041.75 1286.12 L1042.46 1286.12 L1043.18 1286.12 L1043.9 1286.12 L1044.61 1286.12 L1045.33 1286.12 L1046.05 1286.12 L1046.77 1286.12 L1047.48 1286.12 L1048.2 1286.12 L1048.92 1286.12 L1049.64 1286.12 L1050.35 1286.12 L1051.07 1286.12 L1051.79 1286.12 L1052.51 1286.12 L1053.22 1286.12 L1053.94 1286.12 L1054.66 1286.12 L1055.37 1286.12 L1056.09 1286.12 L1056.81 1286.12 L1057.53 1286.12 L1058.24 1286.12 L1058.96 1286.12 L1059.44 1285.9 L1059.92 1285.11 L1060.16 1284.55 L1060.4 1283.79 L1060.63 1283.04 L1060.87 1282.24 L1061.11 1281.44 L1061.35 1280.76 L1061.59 1280.07 L1061.83 1279.49 L1062.07 1278.91 L1062.31 1278.28 L1062.55 1277.65 L1062.79 1277.09 L1063.03 1276.52 L1063.26 1276.16 L1063.5 1275.8 L1063.98 1276.18 L1064.22 1278.88 L1064.46 1281.58 L1064.7 1286.23 L1064.94 1299.26 L1065.18 1327.28 L1065.42 1355.3 L1065.66 1369.77 L1065.89 1381.91 L1066.13 1391.31 L1066.37 1400.7 L1066.61 1408.24 L1066.85 1415.78 L1067.09 1422.76 L1067.33 1429.74 L1067.57 1437.44 L1067.81 1445.14 L1068.05 1453.51 L1068.29 1461.88 L1068.52 1470.1 L1068.76 1478.32 L1069 1486.54 L1069.24 1494.77 L1069.48 1503.14 L1069.72 1511.51 L1069.96 1520.17 L1070.2 1528.84 L1070.44 1538.15 L1070.68 1547.46 L1070.92 1557.33 L1071.15 1567.21 L1071.39 1577.13 L1071.63 1587.06 L1071.87 1596.52 L1072.11 1605.99 L1072.35 1614.49 L1072.59 1623 L1072.83 1631.02 L1073.07 1639.04 L1073.31 1646.82 L1073.55 1654.6 L1073.79 1661.29 L1074.02 1667.97 L1074.26 1672.68 L1074.5 1677.4 L1074.74 1680.62 L1074.98 1683.83 L1075.22 1686.58 L1075.46 1689.33 L1075.7 1691.6 L1075.94 1693.86 L1076.18 1695.63 L1076.42 1697.4 L1076.65 1698.64 L1076.89 1699.89 L1077.13 1700.85 L1077.37 1701.81 L1077.61 1702.61 L1077.85 1703.41 L1078.09 1703.91 L1078.33 1704.42 L1078.81 1704.6 L1079.52 1704.6 L1080.24 1704.6 L1080.96 1704.6 L1081.68 1704.6 L1082.39 1704.6 L1083.11 1704.19 L1083.35 1702.19 L1083.59 1700.18 L1083.83 1696.81 L1084.07 1693.43 L1084.31 1689.61 L1084.54 1685.8 L1084.78 1682.29 L1085.02 1678.95 L1085.26 1675.33 L1085.5 1671.71 L1085.74 1667.37 L1085.98 1662.87 L1086.22 1657.73 L1086.46 1652.6 L1086.7 1646.96 L1086.94 1641.31 L1087.17 1635.35 L1087.41 1629.4 L1087.65 1623.32 L1087.89 1617.25 L1088.13 1611.26 L1088.37 1605.27 L1088.61 1599.56 L1088.85 1593.85 L1089.09 1588.5 L1089.33 1583.29 L1089.57 1578.17 L1089.8 1573.05 L1090.04 1568 L1090.28 1562.96 L1090.52 1557.98 L1090.76 1553.01 L1091 1548.12 L1091.24 1543.22 L1091.48 1538.41 L1091.72 1533.59 L1091.96 1528.86 L1092.2 1524.13 L1092.43 1519.48 L1092.67 1514.84 L1092.91 1510.28 L1093.15 1505.72 L1093.39 1501.26 L1093.63 1496.79 L1093.87 1492.39 L1094.11 1488.02 L1094.35 1483.69 L1094.59 1479.36 L1094.83 1475.09 L1095.07 1470.82 L1095.3 1466.61 L1095.54 1462.4 L1095.78 1458.26 L1096.02 1454.13 L1096.26 1450.07 L1096.5 1446.02 L1096.74 1442.06 L1096.98 1438.09 L1097.22 1434.23 L1097.46 1430.36 L1097.7 1426.6 L1097.93 1422.84 L1098.17 1419.2 L1098.41 1415.56 L1098.65 1412 L1098.89 1408.48 L1099.13 1404.97 L1099.37 1401.46 L1099.61 1398 L1099.85 1394.54 L1100.09 1391.14 L1100.33 1387.74 L1100.56 1384.43 L1100.8 1381.11 L1101.04 1377.91 L1101.28 1374.7 L1101.52 1371.62 L1101.76 1368.54 L1102 1365.6 L1102.24 1362.67 L1102.48 1359.9 L1102.72 1357.13 L1102.96 1354.55 L1103.19 1351.97 L1103.43 1349.54 L1103.67 1347.13 L1103.91 1344.78 L1104.15 1342.44 L1104.39 1340.18 L1104.63 1337.92 L1104.87 1335.74 L1105.11 1333.56 L1105.35 1331.48 L1105.59 1329.4 L1105.82 1327.42 L1106.06 1325.43 L1106.3 1323.56 L1106.54 1321.68 L1106.78 1319.91 L1107.02 1318.15 L1107.26 1316.5 L1107.5 1314.85 L1107.74 1313.33 L1107.98 1311.81 L1108.22 1310.38 L1108.45 1308.97 L1108.69 1307.61 L1108.93 1306.25 L1109.17 1304.94 L1109.41 1303.64 L1109.65 1302.39 L1109.89 1301.15 L1110.13 1299.97 L1110.37 1298.8 L1110.61 1297.69 L1110.85 1296.58 L1111.08 1295.55 L1111.32 1294.51 L1111.56 1293.55 L1111.8 1292.6 L1112.04 1291.72 L1112.28 1290.84 L1112.52 1290.05 L1112.76 1289.26 L1113 1288.52 L1113.24 1287.78 L1113.48 1287.06 L1113.71 1286.34 L1113.95 1285.65 L1114.19 1284.95 L1114.43 1284.28 L1114.67 1283.61 L1114.91 1282.97 L1115.15 1282.33 L1115.39 1281.72 L1115.63 1281.11 L1115.87 1280.54 L1116.11 1279.96 L1116.34 1279.43 L1116.58 1278.89 L1116.82 1278.39 L1117.06 1277.89 L1117.3 1277.44 L1117.54 1276.98 L1117.78 1276.58 L1118.02 1276.17 L1118.5 1275.45 L1118.98 1274.83 L1119.45 1274.3 L1119.93 1273.79 L1120.41 1273.29 L1120.89 1272.8 L1121.37 1272.33 L1121.84 1271.88 L1122.32 1271.45 L1122.8 1271.06 L1123.28 1270.69 L1123.76 1270.37 L1124.24 1270.08 L1124.71 1269.84 L1125.19 1269.64 L1125.67 1269.5 L1126.39 1269.4 L1127.1 1269.39 L1127.82 1269.47 L1128.54 1269.59 L1129.26 1269.77 L1129.73 1269.91 L1130.21 1270.06 L1130.69 1270.23 L1131.17 1270.42 L1131.65 1270.62 L1132.13 1270.82 L1132.6 1271.04 L1133.08 1271.26 L1133.56 1271.49 L1134.04 1271.72 L1134.52 1271.95 L1134.99 1272.18 L1135.47 1272.41 L1135.95 1272.64 L1136.43 1272.89 L1136.91 1273.17 L1137.39 1273.48 L1137.86 1273.81 L1138.34 1274.15 L1138.82 1274.52 L1139.3 1274.91 L1139.78 1275.31 L1140.25 1275.73 L1140.73 1276.15 L1141.21 1276.59 L1141.69 1277.03 L1142.17 1277.48 L1142.65 1277.94 L1143.12 1278.39 L1143.6 1278.85 L1144.08 1279.3 L1144.56 1279.75 L1145.04 1280.2 L1145.52 1280.63 L1145.99 1281.06 L1146.47 1281.48 L1146.95 1281.88 L1147.43 1282.26 L1147.91 1282.63 L1148.38 1282.98 L1148.86 1283.31 L1149.34 1283.61 L1149.82 1283.89 L1150.3 1284.15 L1150.78 1284.41 L1151.25 1284.67 L1151.73 1284.92 L1152.21 1285.18 L1152.69 1285.44 L1153.17 1285.7 L1153.64 1285.95 L1154.12 1286.21 L1154.6 1286.47 L1155.08 1286.72 L1155.56 1286.97 L1156.04 1287.22 L1156.51 1287.47 L1156.99 1287.71 L1157.47 1287.96 L1157.95 1288.19 L1158.43 1288.43 L1158.9 1288.66 L1159.38 1288.88 L1159.86 1289.1 L1160.34 1289.31 L1160.82 1289.52 L1161.3 1289.72 L1161.77 1289.92 L1162.25 1290.11 L1162.73 1290.29 L1163.21 1290.46 L1163.69 1290.63 L1164.16 1290.79 L1164.64 1290.94 L1165.12 1291.08 L1165.6 1291.21 L1166.08 1291.34 L1166.8 1291.5 L1167.51 1291.65 L1168.23 1291.77 L1168.95 1291.88 L1169.66 1291.96 L1170.38 1292.01 L1171.1 1292.05 L1171.82 1292.06 L1172.53 1292.05 L1173.25 1292.03 L1173.97 1292 L1174.69 1291.96 L1175.4 1291.9 L1176.12 1291.84 L1176.84 1291.78 L1177.55 1291.7 L1178.27 1291.62 L1178.99 1291.53 L1179.71 1291.44 L1180.42 1291.35 L1181.14 1291.25 L1181.86 1291.15 L1182.58 1291.04 L1183.29 1290.94 L1184.01 1290.83 L1184.73 1290.72 L1185.44 1290.62 L1186.16 1290.51 L1186.88 1290.4 L1187.6 1290.3 L1188.31 1290.2 L1189.03 1290.09 L1189.75 1289.99 L1190.47 1289.9 L1191.18 1289.8 L1191.9 1289.7 L1192.62 1289.61 L1193.34 1289.52 L1194.05 1289.43 L1194.77 1289.34 L1195.49 1289.25 L1196.2 1289.17 L1196.92 1289.08 L1197.64 1289 L1198.36 1288.91 L1199.07 1288.83 L1199.79 1288.75 L1200.51 1288.67 L1201.23 1288.59 L1201.94 1288.51 L1202.66 1288.44 L1203.38 1288.36 L1204.09 1288.29 L1204.81 1288.21 L1205.53 1288.14 L1206.25 1288.07 L1206.96 1288 L1207.68 1287.93 L1208.4 1287.86 L1209.12 1287.79 L1209.83 1287.73 L1210.55 1287.66 L1211.27 1287.6 L1211.98 1287.53 L1212.7 1287.47 L1213.42 1287.4 L1214.14 1287.34 L1214.85 1287.28 L1215.57 1287.22 L1216.29 1287.16 L1217.01 1287.1 L1217.72 1287.04 L1218.44 1286.98 L1219.16 1286.93 L1219.88 1286.87 L1220.59 1286.82 L1221.31 1286.76 L1222.03 1286.71 L1222.74 1286.66 L1223.46 1286.6 L1224.18 1286.55 L1224.9 1286.5 L1225.61 1286.45 L1226.33 1286.4 L1227.05 1286.36 L1227.77 1286.31 L1228.48 1286.26 L1229.2 1286.22 L1229.92 1286.17 L1230.63 1286.13 L1231.35 1286.09 L1232.07 1286.05 L1232.79 1286.01 L1233.5 1285.97 L1234.22 1285.93 L1234.94 1285.89 L1235.66 1285.85 L1236.37 1285.81 L1237.09 1285.78 L1237.81 1285.74 L1238.53 1285.71 L1239.24 1285.67 L1239.96 1285.64 L1240.68 1285.61 L1241.39 1285.58 L1242.11 1285.54 L1242.83 1285.51 L1243.55 1285.48 L1244.26 1285.45 L1244.98 1285.42 L1245.7 1285.39 L1246.42 1285.37 L1247.13 1285.34 L1247.85 1285.31 L1248.57 1285.28 L1249.28 1285.26 L1250 1285.23 L1250.72 1285.2 L1251.44 1285.18 L1252.15 1285.15 L1252.87 1285.13 L1253.59 1285.1 L1254.31 1285.08 L1255.02 1285.06 L1255.74 1285.03 L1256.46 1285.01 L1257.17 1284.99 L1257.89 1284.97 L1258.61 1284.95 L1259.33 1284.92 L1260.04 1284.9 L1260.76 1284.88 L1261.48 1284.87 L1262.2 1284.85 L1262.91 1284.83 L1263.63 1284.81 L1264.35 1284.8 L1265.07 1284.78 L1265.78 1284.76 L1266.5 1284.75 L1267.22 1284.73 L1267.93 1284.72 L1268.65 1284.71 L1269.37 1284.7 L1270.09 1284.69 L1270.8 1284.67 L1271.52 1284.66 L1272.24 1284.66 L1272.96 1284.65 L1273.67 1284.64 L1274.39 1284.63 L1275.11 1284.63 L1275.82 1284.62 L1276.54 1284.62 L1277.26 1284.61 L1277.98 1284.61 L1278.69 1284.61 L1279.41 1284.61 L1280.13 1284.6 L1280.85 1284.6 L1281.56 1284.6 L1282.28 1284.61 L1283 1284.61 L1283.71 1284.61 L1284.43 1284.61 L1285.15 1284.62 L1285.87 1284.62 L1286.58 1284.62 L1287.3 1284.63 L1288.02 1284.64 L1288.74 1284.64 L1289.45 1284.65 L1290.17 1284.66 L1290.89 1284.66 L1291.61 1284.67 L1292.32 1284.68 L1293.04 1284.69 L1293.76 1284.7 L1294.47 1284.71 L1295.19 1284.72 L1295.91 1284.73 L1296.63 1284.74 L1297.34 1284.75 L1298.06 1284.77 L1298.78 1284.78 L1299.5 1284.79 L1300.21 1284.8 L1300.93 1284.82 L1301.65 1284.83 L1302.36 1284.84 L1303.08 1284.86 L1303.8 1284.87 L1304.52 1284.88 L1305.23 1284.9 L1305.95 1284.91 L1306.67 1284.93 L1307.39 1284.94 L1308.1 1284.96 L1308.82 1284.97 L1309.54 1284.99 L1310.26 1285 L1310.97 1285.02 L1311.69 1285.03 L1312.41 1285.05 L1313.12 1285.06 L1313.84 1285.08 L1314.56 1285.09 L1315.28 1285.11 L1315.99 1285.12 L1316.71 1285.14 L1317.43 1285.16 L1318.15 1285.17 L1318.86 1285.19 L1319.58 1285.2 L1320.3 1285.22 L1321.01 1285.23 L1321.73 1285.24 L1322.45 1285.26 L1323.17 1285.27 L1323.88 1285.29 L1324.6 1285.3 L1325.32 1285.31 L1326.04 1285.33 L1326.75 1285.34 L1327.47 1285.35 L1328.19 1285.37 L1328.9 1285.38 L1329.62 1285.39 L1330.34 1285.4 L1331.06 1285.41 L1331.77 1285.43 L1332.49 1285.44 L1333.21 1285.45 L1333.93 1285.46 L1334.64 1285.47 L1335.36 1285.48 L1336.08 1285.49 L1336.8 1285.49 L1337.51 1285.5 L1338.23 1285.51 L1338.95 1285.52 L1339.66 1285.53 L1340.38 1285.53 L1341.1 1285.54 L1341.82 1285.55 L1342.53 1285.55 L1343.25 1285.56 L1343.97 1285.56 L1344.69 1285.57 L1345.4 1285.57 L1346.12 1285.58 L1346.84 1285.58 L1347.55 1285.59 L1348.27 1285.59 L1348.99 1285.59 L1349.71 1285.6 L1350.42 1285.6 L1351.14 1285.6 L1351.86 1285.61 L1352.58 1285.61 L1353.29 1285.61 L1354.01 1285.61 L1354.73 1285.62 L1355.44 1285.62 L1356.16 1285.62 L1356.88 1285.62 L1357.6 1285.62 L1358.31 1285.63 L1359.03 1285.63 L1359.75 1285.63 L1360.47 1285.63 L1361.18 1285.63 L1361.9 1285.64 L1362.62 1285.64 L1363.34 1285.64 L1364.05 1285.64 L1364.77 1285.64 L1365.49 1285.65 L1366.2 1285.65 L1366.92 1285.65 L1367.64 1285.65 L1368.36 1285.65 L1369.07 1285.65 L1369.79 1285.66 L1370.51 1285.66 L1371.23 1285.66 L1371.94 1285.66 L1372.66 1285.66 L1373.38 1285.66 L1374.09 1285.67 L1374.81 1285.67 L1375.53 1285.67 L1376.25 1285.67 L1376.96 1285.67 L1377.68 1285.68 L1378.4 1285.68 L1379.12 1285.68 L1379.83 1285.68 L1380.55 1285.68 L1381.27 1285.68 L1381.99 1285.69 L1382.7 1285.69 L1383.42 1285.69 L1384.14 1285.69 L1384.85 1285.69 L1385.57 1285.69 L1386.29 1285.7 L1387.01 1285.7 L1387.72 1285.7 L1388.44 1285.7 L1389.16 1285.7 L1389.88 1285.7 L1390.59 1285.71 L1391.31 1285.71 L1392.03 1285.71 L1392.74 1285.71 L1393.46 1285.71 L1394.18 1285.71 L1394.9 1285.71 L1395.61 1285.72 L1396.33 1285.72 L1397.05 1285.72 L1397.77 1285.72 L1398.48 1285.72 L1399.2 1285.72 L1399.92 1285.73 L1400.63 1285.73 L1401.35 1285.73 L1402.07 1285.73 L1402.79 1285.73 L1403.5 1285.73 L1404.22 1285.74 L1404.94 1285.74 L1405.66 1285.74 L1406.37 1285.74 L1407.09 1285.74 L1407.81 1285.74 L1408.53 1285.74 L1409.24 1285.75 L1409.96 1285.75 L1410.68 1285.75 L1411.39 1285.75 L1412.11 1285.75 L1412.83 1285.75 L1413.55 1285.76 L1414.26 1285.76 L1414.98 1285.76 L1415.7 1285.76 L1416.42 1285.76 L1417.13 1285.76 L1417.85 1285.76 L1418.57 1285.77 L1419.28 1285.77 L1420 1285.77 L1420.72 1285.77 L1421.44 1285.77 L1422.15 1285.77 L1422.87 1285.77 L1423.59 1285.78 L1424.31 1285.78 L1425.02 1285.78 L1425.74 1285.78 L1426.46 1285.78 L1427.17 1285.78 L1427.89 1285.78 L1428.61 1285.79 L1429.33 1285.79 L1430.04 1285.79 L1430.76 1285.79 L1431.48 1285.79 L1432.2 1285.79 L1432.91 1285.79 L1433.63 1285.8 L1434.35 1285.8 L1435.07 1285.8 L1435.78 1285.8 L1436.5 1285.8 L1437.22 1285.8 L1437.93 1285.8 L1438.65 1285.81 L1439.37 1285.81 L1440.09 1285.81 L1440.8 1285.81 L1441.52 1285.81 L1442.24 1285.81 L1442.96 1285.81 L1443.67 1285.81 L1444.39 1285.82 L1445.11 1285.82 L1445.82 1285.82 L1446.54 1285.82 L1447.26 1285.82 L1447.98 1285.82 L1448.69 1285.82 L1449.41 1285.83 L1450.13 1285.83 L1450.85 1285.83 L1451.56 1285.83 L1452.28 1285.83 L1453 1285.83 L1453.72 1285.83 L1454.43 1285.83 L1455.15 1285.84 L1455.87 1285.84 L1456.58 1285.84 L1457.3 1285.84 L1458.02 1285.84 L1458.74 1285.84 L1459.45 1285.84 L1460.17 1285.84 L1460.89 1285.85 L1461.61 1285.85 L1462.32 1285.85 L1463.04 1285.85 L1463.76 1285.85 L1464.47 1285.85 L1465.19 1285.85 L1465.91 1285.85 L1466.63 1285.86 L1467.34 1285.86 L1468.06 1285.86 L1468.78 1285.86 L1469.5 1285.86 L1470.21 1285.86 L1470.93 1285.86 L1471.65 1285.86 L1472.36 1285.87 L1473.08 1285.87 L1473.8 1285.87 L1474.52 1285.87 L1475.23 1285.87 L1475.95 1285.87 L1476.67 1285.87 L1477.39 1285.87 L1478.1 1285.88 L1478.82 1285.88 L1479.54 1285.88 L1480.26 1285.88 L1480.97 1285.88 L1481.69 1285.88 L1482.41 1285.88 L1483.12 1285.88 L1483.84 1285.88 L1484.56 1285.89 L1485.28 1285.89 L1485.99 1285.89 L1486.71 1285.89 L1487.43 1285.89 L1488.15 1285.89 L1488.86 1285.89 L1489.58 1285.89 L1490.3 1285.89 L1491.01 1285.9 L1491.73 1285.9 L1492.45 1285.9 L1493.17 1285.9 L1493.88 1285.9 L1494.6 1285.9 L1495.32 1285.9 L1496.04 1285.9 L1496.75 1285.9 L1497.47 1285.91 L1498.19 1285.91 L1498.9 1285.91 L1499.62 1285.91 L1500.34 1285.91 L1501.06 1285.91 L1501.77 1285.91 L1502.49 1285.91 L1503.21 1285.91 L1503.93 1285.92 L1504.64 1285.92 L1505.36 1285.92 L1506.08 1285.92 L1506.8 1285.92 L1507.51 1285.92 L1508.23 1285.92 L1508.95 1285.92 L1509.66 1285.92 L1510.38 1285.92 L1511.1 1285.93 L1511.82 1285.93 L1512.53 1285.93 L1513.25 1285.93 L1513.97 1285.93 L1514.69 1285.93 L1515.4 1285.93 L1516.12 1285.93 L1516.84 1285.93 L1517.55 1285.93 L1518.27 1285.94 L1518.99 1285.94 L1519.71 1285.94 L1520.42 1285.94 L1521.14 1285.94 L1521.86 1285.94 L1522.58 1285.94 L1523.29 1285.94 L1524.01 1285.94 L1524.73 1285.94 L1525.45 1285.95 L1526.16 1285.95 L1526.88 1285.95 L1527.6 1285.95 L1528.31 1285.95 L1529.03 1285.95 L1529.75 1285.95 L1530.47 1285.95 L1531.18 1285.95 L1531.9 1285.95 L1532.62 1285.95 L1533.34 1285.96 L1534.05 1285.96 L1534.77 1285.96 L1535.49 1285.96 L1536.2 1285.96 L1536.92 1285.96 L1537.64 1285.96 L1538.36 1285.96 L1539.07 1285.96 L1539.79 1285.96 L1540.51 1285.96 L1541.23 1285.97 L1541.94 1285.97 L1542.66 1285.97 L1543.38 1285.97 L1544.09 1285.97 L1544.81 1285.97 L1545.53 1285.97 L1546.25 1285.97 L1546.96 1285.97 L1547.68 1285.97 L1548.4 1285.97 L1549.12 1285.98 L1549.83 1285.98 L1550.55 1285.98 L1551.27 1285.98 L1551.99 1285.98 L1552.7 1285.98 L1553.42 1285.98 L1554.14 1285.98 L1554.85 1285.98 L1555.57 1285.98 L1556.29 1285.98 L1557.01 1285.98 L1557.72 1285.99 L1558.44 1285.99 L1559.16 1285.99 L1559.88 1285.99 L1560.59 1285.99 L1561.31 1285.99 L1562.03 1285.99 L1562.74 1285.99 L1563.46 1285.99 L1564.18 1285.99 L1564.9 1285.99 L1565.61 1285.99 L1566.33 1286 L1567.05 1286 L1567.77 1286 L1568.48 1286 L1569.2 1286 L1569.92 1286 L1570.63 1286 L1571.35 1286 L1572.07 1286 L1572.79 1286 L1573.5 1286 L1574.22 1286 L1574.94 1286 L1575.66 1286 L1576.37 1286.01 L1577.09 1286.01 L1577.81 1286.01 L1578.53 1286.01 L1579.24 1286.01 L1579.96 1286.01 L1580.68 1286.01 L1581.39 1286.01 L1582.11 1286.01 L1582.83 1286.01 L1583.55 1286.01 L1584.26 1286.01 L1584.98 1286.01 L1585.7 1286.02 L1586.42 1286.02 L1587.13 1286.02 L1587.85 1286.02 L1588.57 1286.02 L1589.28 1286.02 L1590 1286.02 L1590.72 1286.02 L1591.44 1286.02 L1592.15 1286.02 L1592.87 1286.02 L1593.59 1286.02 L1594.31 1286.02 L1595.02 1286.02 L1595.74 1286.02 L1596.46 1286.03 L1597.18 1286.03 L1597.89 1286.03 L1598.61 1286.03 L1599.33 1286.03 L1600.04 1286.03 L1600.76 1286.03 L1601.48 1286.03 L1602.2 1286.03 L1602.91 1286.03 L1603.63 1286.03 L1604.35 1286.03 L1605.07 1286.03 L1605.78 1286.03 L1606.5 1286.03 L1607.22 1286.04 L1607.93 1286.04 L1608.65 1286.04 L1609.37 1286.04 L1610.09 1286.04 L1610.8 1286.04 L1611.52 1286.04 L1612.24 1286.04 L1612.96 1286.04 L1613.67 1286.04 L1614.39 1286.04 L1615.11 1286.04 L1615.82 1286.04 L1616.54 1286.04 L1617.26 1286.04 L1617.98 1286.04 L1618.69 1286.04 L1619.41 1286.05 L1620.13 1286.05 L1620.85 1286.05 L1621.56 1286.05 L1622.28 1286.05 L1623 1286.05 L1623.72 1286.05 L1624.43 1286.05 L1625.15 1286.05 L1625.87 1286.05 L1626.58 1286.05 L1627.3 1286.05 L1628.02 1286.05 L1628.74 1286.05 L1629.45 1286.05 L1630.17 1286.05 L1630.89 1286.05 L1631.61 1286.05 L1632.32 1286.06 L1633.04 1286.06 L1633.76 1286.06 L1634.47 1286.06 L1635.19 1286.06 L1635.91 1286.06 L1636.63 1286.06 L1637.34 1286.06 L1638.06 1286.06 L1638.78 1286.06 L1639.5 1286.06 L1640.21 1286.06 L1640.93 1286.06 L1641.65 1286.06 L1642.36 1286.06 L1643.08 1286.06 L1643.8 1286.06 L1644.52 1286.06 L1645.23 1286.06 L1645.95 1286.06 L1646.67 1286.07 L1647.39 1286.07 L1648.1 1286.07 L1648.82 1286.07 L1649.54 1286.07 L1650.26 1286.07 L1650.97 1286.07 L1651.69 1286.07 L1652.41 1286.07 L1653.12 1286.07 L1653.84 1286.07 L1654.56 1286.07 L1655.28 1286.07 L1655.99 1286.07 L1656.71 1286.07 L1657.43 1286.07 L1658.15 1286.07 L1658.86 1286.07 L1659.58 1286.07 L1660.3 1286.07 L1661.01 1286.07 L1661.73 1286.08 L1662.45 1286.08 L1663.17 1286.08 L1663.88 1286.08 L1664.6 1286.08 L1665.32 1286.08 L1666.04 1286.08 L1666.75 1286.08 L1667.47 1286.08 L1668.19 1286.08 L1668.91 1286.08 L1669.62 1286.08 L1670.34 1286.08 L1671.06 1286.08 L1671.77 1286.08 L1672.49 1286.08 L1673.21 1286.08 L1673.93 1286.08 L1674.64 1286.08 L1675.36 1286.08 L1676.08 1286.08 L1676.8 1286.08 L1677.51 1286.08 L1678.23 1286.08 L1678.95 1286.08 L1679.66 1286.09 L1680.38 1286.09 L1681.1 1286.09 L1681.82 1286.09 L1682.53 1286.09 L1683.25 1286.09 L1683.97 1286.09 L1684.69 1286.09 L1685.4 1286.09 L1686.12 1286.09 L1686.84 1286.09 L1687.55 1286.09 L1688.27 1286.09 L1688.99 1286.09 L1689.71 1286.09 L1690.42 1286.09 L1691.14 1286.09 L1691.86 1286.09 L1692.58 1286.09 L1693.29 1286.09 L1694.01 1286.09 L1694.73 1286.09 L1695.45 1286.09 L1696.16 1286.09 L1696.88 1286.09 L1697.6 1286.09 L1698.31 1286.09 L1699.03 1286.09 L1699.75 1286.09 L1700.47 1286.09 L1701.18 1286.1 L1701.9 1286.1 L1702.62 1286.1 L1703.34 1286.1 L1704.05 1286.1 L1704.77 1286.1 L1705.49 1286.1 L1706.2 1286.1 L1706.92 1286.1 L1707.64 1286.1 L1708.36 1286.1 L1709.07 1286.1 L1709.79 1286.1 L1710.51 1286.1 L1711.23 1286.1 L1711.94 1286.1 L1712.66 1286.1 L1713.38 1286.1 L1714.09 1286.1 L1714.81 1286.1 L1715.53 1286.1 L1716.25 1286.1 L1716.96 1286.1 L1717.68 1286.1 L1718.4 1286.1 L1719.12 1286.1 L1719.83 1286.1 L1720.55 1286.1 L1721.27 1286.1 L1721.99 1286.1 L1722.7 1286.1 L1723.42 1286.1 L1724.14 1286.1 L1724.85 1286.1 L1725.57 1286.1 L1726.29 1286.1 L1727.01 1286.1 L1727.72 1286.11 L1728.44 1286.11 L1729.16 1286.11 L1729.88 1286.11 L1730.59 1286.11 L1731.31 1286.11 L1732.03 1286.11 L1732.74 1286.11 L1733.46 1286.11 L1734.18 1286.11 L1734.9 1286.11 L1735.61 1286.11 L1736.33 1286.11 L1737.05 1286.11 L1737.77 1286.11 L1738.48 1286.11 L1739.2 1286.11 L1739.92 1286.11 L1740.64 1286.11 L1741.35 1286.11 L1742.07 1286.11 L1742.79 1286.11 L1743.5 1286.11 L1744.22 1286.11 L1744.94 1286.11 L1745.66 1286.11 L1746.37 1286.11 L1747.09 1286.11 L1747.81 1286.11 L1748.53 1286.11 L1749.24 1286.11 L1749.96 1286.11 L1750.68 1286.11 L1751.39 1286.11 L1752.11 1286.11 L1752.83 1286.11 L1753.55 1286.11 L1754.26 1286.11 L1754.98 1286.11 L1755.7 1286.11 L1756.42 1286.11 L1757.13 1286.11 L1757.85 1286.11 L1758.57 1286.11 L1759.28 1286.11 L1760 1286.11 L1760.72 1286.11 L1761.44 1286.11 L1762.15 1286.11 L1762.87 1286.11 L1763.59 1286.11 L1764.31 1286.11 L1765.02 1286.11 L1765.74 1286.11 L1766.46 1286.11 L1767.18 1286.11 L1767.89 1286.12 L1768.61 1286.12 L1769.33 1286.12 L1770.04 1286.12 L1770.76 1286.12 L1771.48 1286.12 L1772.2 1286.12 L1772.91 1286.12 L1773.63 1286.12 L1774.35 1286.12 L1775.07 1286.12 L1775.78 1286.12 L1776.5 1286.12 L1777.22 1286.12 L1777.93 1286.12 L1778.65 1286.12 L1779.37 1286.12 L1780.09 1286.12 L1780.8 1286.12 L1781.52 1286.12 L1782.24 1286.12 L1782.96 1286.12 L1783.67 1286.12 L1784.39 1286.12 L1785.11 1286.12 L1785.82 1286.12 L1786.54 1286.12 L1787.26 1286.12 L1787.98 1286.12 L1788.69 1286.12 L1789.41 1286.12 L1790.13 1286.12 L1790.85 1286.12 L1791.56 1286.12 L1792.28 1286.12 L1793 1286.12 L1793.72 1286.12 L1794.43 1286.12 L1795.15 1286.12 L1795.87 1286.12 L1796.58 1286.12 L1797.3 1286.12 L1798.02 1286.12 L1798.74 1286.12 L1799.45 1286.12 L1800.17 1286.12 L1800.89 1286.12 L1801.61 1286.12 L1802.32 1286.12 L1803.04 1286.12 L1803.76 1286.12 L1804.47 1286.12 L1805.19 1286.12 L1805.91 1286.12 L1806.63 1286.12 L1807.34 1286.12 L1808.06 1286.12 L1808.78 1286.12 L1809.5 1286.12 L1810.21 1286.12 L1810.93 1286.12 L1811.65 1286.12 L1812.37 1286.12 L1813.08 1286.12 L1813.8 1286.12 L1814.52 1286.12 L1815.23 1286.12 L1815.95 1286.12 L1816.67 1286.12 L1817.39 1286.12 L1818.1 1286.12 L1818.82 1286.12 L1819.54 1286.12 L1820.26 1286.12 L1820.97 1286.12 L1821.69 1286.12 L1822.41 1286.12 L1823.12 1286.12 L1823.84 1286.12 L1824.32 1286.12" stroke="#0072bd"/>
<path d="M963.56 1286.12 L964.28 1286.12 L964.99 1286.12 L965.71 1286.12 L966.43 1286.12 L967.15 1286.12 L967.86 1286.12 L968.58 1286.12 L969.3 1286.12 L970.02 1286.12 L970.73 1286.12 L971.45 1286.12 L972.17 1286.12 L972.88 1286.12 L973.6 1286.12 L974.32 1286.12 L975.04 1286.12 L975.75 1286.12 L976.47 1286.12 L977.19 1286.12 L977.91 1286.12 L978.62 1286.12 L979.34 1286.12 L980.06 1286.12 L980.78 1286.12 L981.49 1286.12 L982.21 1286.12 L982.93 1286.12 L983.64 1286.12 L984.36 1286.12 L985.08 1286.12 L985.8 1286.12 L986.51 1286.12 L987.23 1286.12 L987.95 1286.12 L988.67 1286.12 L989.38 1286.12 L990.1 1286.12 L990.82 1286.12 L991.53 1286.12 L992.25 1286.12 L992.97 1286.12 L993.69 1286.12 L994.4 1286.12 L995.12 1286.12 L995.84 1286.12 L996.56 1286.12 L997.27 1286.12 L997.99 1286.12 L998.71 1286.12 L999.43 1286.12 L1000.14 1286.12 L1000.86 1286.12 L1001.58 1286.12 L1002.29 1286.12 L1003.01 1286.12 L1003.73 1286.12 L1004.45 1286.12 L1005.16 1286.12 L1005.88 1286.12 L1006.6 1286.12 L1007.32 1286.12 L1008.03 1286.12 L1008.75 1286.12 L1009.47 1286.12 L1010.18 1286.12 L1010.9 1286.12 L1011.62 1286.12 L1012.34 1286.12 L1013.05 1286.12 L1013.77 1286.12 L1014.49 1286.12 L1015.21 1286.12 L1015.92 1286.12 L1016.64 1286.12 L1017.36 1286.12 L1018.07 1286.12 L1018.79 1286.12 L1019.51 1286.12 L1020.23 1286.12 L1020.94 1286.12 L1021.66 1286.12 L1022.38 1286.12 L1023.1 1286.12 L1023.81 1286.12 L1024.53 1286.12 L1025.25 1286.12 L1025.97 1286.12 L1026.68 1286.12 L1027.4 1286.12 L1028.12 1286.12 L1028.83 1286.12 L1029.55 1286.12 L1030.27 1286.12 L1030.99 1286.12 L1031.7 1286.12 L1032.42 1286.12 L1033.14 1286.12 L1033.86 1286.12 L1034.57 1286.12 L1035.29 1286.12 L1036.01 1286.12 L1036.72 1286.12 L1037.44 1286.12 L1038.16 1286.12 L1038.88 1286.12 L1039.59 1286.12 L1040.31 1286.12 L1041.03 1286.12 L1041.75 1286.12 L1042.46 1286.12 L1043.18 1286.12 L1043.9 1286.12 L1044.61 1286.12 L1045.33 1286.12 L1046.05 1286.12 L1046.77 1286.12 L1047.48 1286.12 L1048.2 1286.12 L1048.92 1286.12 L1049.64 1286.12 L1050.35 1286.12 L1051.07 1286.12 L1051.79 1286.12 L1052.51 1286.12 L1053.22 1286.12 L1053.94 1286.12 L1054.66 1286.12 L1055.37 1286.12 L1056.09 1286.12 L1056.81 1286.12 L1057.53 1286.12 L1058.24 1286.12 L1058.96 1286.12 L1059.44 1287.36 L1059.68 1288.61 L1059.92 1291.84 L1060.16 1295.07 L1060.4 1299.53 L1060.63 1304 L1060.87 1308.95 L1061.11 1313.89 L1061.35 1318.57 L1061.59 1323.24 L1061.83 1327.18 L1062.07 1330.96 L1062.31 1335.19 L1062.55 1339.43 L1062.79 1343.88 L1063.03 1348.34 L1063.26 1352.41 L1063.5 1356.47 L1063.74 1359.54 L1063.98 1362.61 L1064.22 1364.08 L1064.46 1365.54 L1064.7 1365.05 L1064.94 1364.08 L1065.18 1361.3 L1065.42 1358.52 L1065.66 1354.37 L1065.89 1350.23 L1066.13 1345.4 L1066.37 1340.58 L1066.61 1335.77 L1066.85 1330.95 L1067.09 1326.85 L1067.33 1322.74 L1067.57 1319.11 L1067.81 1315.48 L1068.05 1311.74 L1068.29 1308 L1068.52 1304.26 L1068.76 1300.53 L1069 1296.92 L1069.24 1293.31 L1069.48 1289.96 L1069.72 1286.6 L1069.96 1283.62 L1070.2 1280.63 L1070.44 1278.15 L1070.68 1275.66 L1070.92 1273.41 L1071.15 1271.17 L1071.39 1268.91 L1071.63 1266.65 L1071.87 1264.49 L1072.11 1262.34 L1072.35 1260.39 L1072.59 1258.45 L1072.83 1256.84 L1073.07 1255.23 L1073.31 1254.07 L1073.55 1252.91 L1073.79 1252.31 L1074.02 1251.71 L1074.5 1252.45 L1074.74 1254.63 L1074.98 1256.8 L1075.22 1259.96 L1075.46 1263.11 L1075.7 1266.25 L1075.94 1269.38 L1076.18 1272.18 L1076.42 1274.99 L1076.65 1278.09 L1076.89 1281.2 L1077.13 1284.93 L1077.37 1288.88 L1077.61 1294.03 L1077.85 1299.18 L1078.09 1305.46 L1078.33 1311.74 L1078.57 1318.68 L1078.81 1325.62 L1079.05 1332.76 L1079.28 1339.89 L1079.52 1346.83 L1079.76 1353.7 L1080 1360.73 L1080.24 1367.76 L1080.48 1375.06 L1080.72 1382.35 L1080.96 1389.68 L1081.2 1397 L1081.44 1404.14 L1081.68 1411.28 L1081.91 1418.06 L1082.15 1424.74 L1082.39 1431.13 L1082.63 1437.51 L1082.87 1443.68 L1083.11 1449.85 L1083.35 1455.86 L1083.59 1461.87 L1083.83 1467.78 L1084.07 1473.68 L1084.31 1479.54 L1084.54 1485.4 L1084.78 1491.26 L1085.02 1497.12 L1085.26 1502.96 L1085.5 1508.79 L1085.74 1514.56 L1085.98 1520.33 L1086.22 1525.98 L1086.46 1531.63 L1086.7 1537.13 L1086.94 1542.63 L1087.17 1547.94 L1087.41 1553.24 L1087.65 1558.3 L1087.89 1563.36 L1088.13 1568.24 L1088.37 1573.12 L1088.61 1577.9 L1088.85 1582.67 L1089.09 1587.32 L1089.33 1591.96 L1089.57 1596.46 L1089.8 1600.96 L1090.04 1605.3 L1090.28 1609.63 L1090.52 1613.78 L1090.76 1617.92 L1091 1621.87 L1091.24 1625.81 L1091.48 1629.57 L1091.72 1633.26 L1091.96 1636.9 L1092.2 1640.53 L1092.43 1644.07 L1092.67 1647.6 L1092.91 1651 L1093.15 1654.4 L1093.39 1657.63 L1093.63 1660.86 L1093.87 1663.87 L1094.11 1666.89 L1094.35 1669.66 L1094.59 1672.43 L1094.83 1674.91 L1095.07 1677.4 L1095.3 1679.82 L1095.54 1682.24 L1095.78 1684.74 L1096.02 1687.25 L1096.26 1689.69 L1096.5 1692.13 L1096.74 1694.36 L1096.98 1696.58 L1097.22 1698.45 L1097.46 1700.32 L1097.7 1701.69 L1097.93 1703.05 L1098.17 1703.76 L1098.41 1704.47 L1098.89 1704.6 L1099.61 1704.6 L1100.33 1704.6 L1101.04 1704.6 L1101.76 1704.6 L1102.48 1704.6 L1103.19 1704.6 L1103.67 1704.12 L1103.91 1703.21 L1104.15 1702.31 L1104.39 1700.86 L1104.63 1699.4 L1104.87 1697.54 L1105.11 1695.67 L1105.35 1693.52 L1105.59 1691.38 L1105.82 1689.08 L1106.06 1686.79 L1106.3 1684.48 L1106.54 1682.17 L1106.78 1679.94 L1107.02 1677.67 L1107.26 1675.11 L1107.5 1672.54 L1107.74 1669.64 L1107.98 1666.73 L1108.22 1663.59 L1108.45 1660.44 L1108.69 1657.16 L1108.93 1653.88 L1109.17 1650.55 L1109.41 1647.23 L1109.65 1643.97 L1109.89 1640.71 L1110.13 1637.61 L1110.37 1634.5 L1110.61 1631.53 L1110.85 1628.55 L1111.08 1625.59 L1111.32 1622.62 L1111.56 1619.67 L1111.8 1616.72 L1112.04 1613.79 L1112.28 1610.85 L1112.52 1607.92 L1112.76 1604.99 L1113 1602.08 L1113.24 1599.16 L1113.48 1596.25 L1113.71 1593.33 L1113.95 1590.43 L1114.19 1587.52 L1114.43 1584.62 L1114.67 1581.72 L1114.91 1578.82 L1115.15 1575.92 L1115.39 1573.01 L1115.63 1570.11 L1115.87 1567.2 L1116.11 1564.28 L1116.34 1561.37 L1116.58 1558.45 L1116.82 1555.54 L1117.06 1552.62 L1117.3 1549.71 L1117.54 1546.8 L1117.78 1543.9 L1118.02 1541 L1118.26 1538.11 L1118.5 1535.22 L1118.74 1532.34 L1118.98 1529.47 L1119.21 1526.62 L1119.45 1523.76 L1119.69 1520.94 L1119.93 1518.11 L1120.17 1515.31 L1120.41 1512.51 L1120.65 1509.74 L1120.89 1506.97 L1121.13 1504.23 L1121.37 1501.49 L1121.61 1498.76 L1121.84 1496.03 L1122.08 1493.31 L1122.32 1490.59 L1122.56 1487.88 L1122.8 1485.17 L1123.04 1482.48 L1123.28 1479.79 L1123.52 1477.12 L1123.76 1474.45 L1124 1471.81 L1124.24 1469.17 L1124.47 1466.55 L1124.71 1463.94 L1124.95 1461.37 L1125.19 1458.79 L1125.43 1456.25 L1125.67 1453.72 L1125.91 1451.22 L1126.15 1448.73 L1126.39 1446.29 L1126.63 1443.84 L1126.87 1441.44 L1127.1 1439.05 L1127.34 1436.67 L1127.58 1434.3 L1127.82 1431.94 L1128.06 1429.58 L1128.3 1427.24 L1128.54 1424.91 L1128.78 1422.6 L1129.02 1420.29 L1129.26 1418.01 L1129.5 1415.73 L1129.73 1413.49 L1129.97 1411.25 L1130.21 1409.06 L1130.45 1406.86 L1130.69 1404.71 L1130.93 1402.57 L1131.17 1400.47 L1131.41 1398.38 L1131.65 1396.34 L1131.89 1394.3 L1132.13 1392.33 L1132.36 1390.36 L1132.6 1388.46 L1132.84 1386.56 L1133.08 1384.71 L1133.32 1382.87 L1133.56 1381.06 L1133.8 1379.26 L1134.04 1377.5 L1134.28 1375.74 L1134.52 1374.02 L1134.76 1372.3 L1134.99 1370.62 L1135.23 1368.93 L1135.47 1367.29 L1135.71 1365.65 L1135.95 1364.04 L1136.19 1362.43 L1136.43 1360.86 L1136.67 1359.29 L1136.91 1357.76 L1137.15 1356.22 L1137.39 1354.72 L1137.62 1353.22 L1137.86 1351.75 L1138.1 1350.28 L1138.34 1348.85 L1138.58 1347.41 L1138.82 1346 L1139.06 1344.6 L1139.3 1343.21 L1139.54 1341.83 L1139.78 1340.48 L1140.02 1339.13 L1140.25 1337.8 L1140.49 1336.47 L1140.73 1335.17 L1140.97 1333.87 L1141.21 1332.6 L1141.45 1331.32 L1141.69 1330.08 L1141.93 1328.83 L1142.17 1327.61 L1142.41 1326.39 L1142.65 1325.19 L1142.88 1324 L1143.12 1322.83 L1143.36 1321.67 L1143.6 1320.53 L1143.84 1319.38 L1144.08 1318.27 L1144.32 1317.16 L1144.56 1316.07 L1144.8 1314.98 L1145.04 1313.9 L1145.28 1312.83 L1145.52 1311.76 L1145.75 1310.69 L1145.99 1309.64 L1146.23 1308.58 L1146.47 1307.55 L1146.71 1306.52 L1146.95 1305.53 L1147.19 1304.53 L1147.43 1303.57 L1147.67 1302.61 L1147.91 1301.7 L1148.15 1300.78 L1148.38 1299.92 L1148.62 1299.07 L1148.86 1298.27 L1149.1 1297.47 L1149.34 1296.73 L1149.58 1296.01 L1149.82 1295.32 L1150.06 1294.64 L1150.3 1293.98 L1150.54 1293.33 L1150.78 1292.71 L1151.01 1292.08 L1151.25 1291.49 L1151.49 1290.9 L1151.73 1290.33 L1151.97 1289.76 L1152.21 1289.22 L1152.45 1288.68 L1152.69 1288.15 L1152.93 1287.63 L1153.17 1287.13 L1153.41 1286.62 L1153.64 1286.13 L1153.88 1285.65 L1154.12 1285.17 L1154.36 1284.69 L1154.6 1284.22 L1154.84 1283.74 L1155.08 1283.27 L1155.32 1282.79 L1155.56 1282.32 L1155.8 1281.85 L1156.04 1281.39 L1156.27 1280.92 L1156.51 1280.46 L1156.75 1280.01 L1156.99 1279.56 L1157.23 1279.11 L1157.47 1278.68 L1157.71 1278.24 L1157.95 1277.82 L1158.19 1277.4 L1158.43 1277 L1158.67 1276.6 L1158.9 1276.21 L1159.14 1275.82 L1159.38 1275.46 L1159.62 1275.09 L1160.1 1274.41 L1160.58 1273.77 L1161.06 1273.19 L1161.53 1272.66 L1162.01 1272.2 L1162.49 1271.79 L1162.97 1271.42 L1163.45 1271.06 L1163.93 1270.7 L1164.4 1270.34 L1164.88 1270 L1165.36 1269.67 L1165.84 1269.35 L1166.32 1269.05 L1166.8 1268.77 L1167.27 1268.51 L1167.75 1268.26 L1168.23 1268.05 L1168.71 1267.85 L1169.19 1267.68 L1169.66 1267.54 L1170.38 1267.38 L1171.1 1267.28 L1171.82 1267.26 L1172.53 1267.29 L1173.25 1267.38 L1173.97 1267.5 L1174.69 1267.66 L1175.16 1267.79 L1175.64 1267.93 L1176.12 1268.08 L1176.6 1268.25 L1177.08 1268.42 L1177.55 1268.61 L1178.03 1268.8 L1178.51 1269.01 L1178.99 1269.22 L1179.47 1269.44 L1179.95 1269.66 L1180.42 1269.9 L1180.9 1270.14 L1181.38 1270.38 L1181.86 1270.64 L1182.34 1270.9 L1182.81 1271.19 L1183.29 1271.49 L1183.77 1271.8 L1184.25 1272.12 L1184.73 1272.46 L1185.21 1272.8 L1185.68 1273.15 L1186.16 1273.5 L1186.64 1273.86 L1187.12 1274.23 L1187.6 1274.59 L1188.07 1274.96 L1188.55 1275.33 L1189.03 1275.71 L1189.51 1276.08 L1189.99 1276.45 L1190.47 1276.82 L1190.94 1277.19 L1191.42 1277.56 L1191.9 1277.93 L1192.38 1278.29 L1192.86 1278.66 L1193.34 1279.02 L1193.81 1279.37 L1194.29 1279.73 L1194.77 1280.08 L1195.25 1280.44 L1195.73 1280.79 L1196.2 1281.14 L1196.68 1281.48 L1197.16 1281.82 L1197.64 1282.16 L1198.12 1282.49 L1198.6 1282.82 L1199.07 1283.15 L1199.55 1283.46 L1200.03 1283.78 L1200.51 1284.09 L1200.99 1284.39 L1201.46 1284.69 L1201.94 1284.98 L1202.42 1285.27 L1202.9 1285.55 L1203.38 1285.83 L1203.86 1286.1 L1204.33 1286.36 L1204.81 1286.62 L1205.29 1286.87 L1205.77 1287.11 L1206.25 1287.35 L1206.72 1287.58 L1207.2 1287.81 L1207.68 1288.02 L1208.16 1288.23 L1208.64 1288.44 L1209.12 1288.64 L1209.59 1288.83 L1210.07 1289.01 L1210.55 1289.19 L1211.03 1289.36 L1211.51 1289.53 L1211.98 1289.69 L1212.46 1289.85 L1212.94 1289.99 L1213.42 1290.14 L1213.9 1290.28 L1214.38 1290.41 L1214.85 1290.54 L1215.33 1290.66 L1216.05 1290.83 L1216.77 1290.99 L1217.48 1291.15 L1218.2 1291.29 L1218.92 1291.42 L1219.64 1291.54 L1220.35 1291.66 L1221.07 1291.77 L1221.79 1291.86 L1222.51 1291.96 L1223.22 1292.04 L1223.94 1292.12 L1224.66 1292.19 L1225.37 1292.26 L1226.09 1292.32 L1226.81 1292.37 L1227.53 1292.42 L1228.24 1292.46 L1228.96 1292.51 L1229.68 1292.54 L1230.4 1292.57 L1231.11 1292.6 L1231.83 1292.63 L1232.55 1292.65 L1233.26 1292.67 L1233.98 1292.68 L1234.7 1292.7 L1235.42 1292.7 L1236.13 1292.71 L1236.85 1292.71 L1237.57 1292.71 L1238.29 1292.71 L1239 1292.71 L1239.72 1292.7 L1240.44 1292.69 L1241.16 1292.68 L1241.87 1292.66 L1242.59 1292.64 L1243.31 1292.62 L1244.02 1292.6 L1244.74 1292.58 L1245.46 1292.55 L1246.18 1292.52 L1246.89 1292.49 L1247.61 1292.45 L1248.33 1292.42 L1249.05 1292.38 L1249.76 1292.34 L1250.48 1292.3 L1251.2 1292.26 L1251.91 1292.21 L1252.63 1292.17 L1253.35 1292.12 L1254.07 1292.07 L1254.78 1292.02 L1255.5 1291.97 L1256.22 1291.92 L1256.94 1291.86 L1257.65 1291.81 L1258.37 1291.75 L1259.09 1291.69 L1259.8 1291.64 L1260.52 1291.58 L1261.24 1291.52 L1261.96 1291.46 L1262.67 1291.4 L1263.39 1291.33 L1264.11 1291.27 L1264.83 1291.21 L1265.54 1291.14 L1266.26 1291.08 L1266.98 1291.01 L1267.7 1290.95 L1268.41 1290.88 L1269.13 1290.81 L1269.85 1290.75 L1270.56 1290.68 L1271.28 1290.61 L1272 1290.54 L1272.72 1290.48 L1273.43 1290.41 L1274.15 1290.34 L1274.87 1290.27 L1275.59 1290.2 L1276.3 1290.14 L1277.02 1290.07 L1277.74 1290 L1278.45 1289.93 L1279.17 1289.86 L1279.89 1289.8 L1280.61 1289.73 L1281.32 1289.66 L1282.04 1289.6 L1282.76 1289.53 L1283.48 1289.46 L1284.19 1289.4 L1284.91 1289.33 L1285.63 1289.27 L1286.35 1289.2 L1287.06 1289.13 L1287.78 1289.07 L1288.5 1289.01 L1289.21 1288.94 L1289.93 1288.88 L1290.65 1288.81 L1291.37 1288.75 L1292.08 1288.69 L1292.8 1288.62 L1293.52 1288.56 L1294.24 1288.5 L1294.95 1288.43 L1295.67 1288.37 L1296.39 1288.31 L1297.1 1288.25 L1297.82 1288.19 L1298.54 1288.12 L1299.26 1288.06 L1299.97 1288 L1300.69 1287.94 L1301.41 1287.88 L1302.13 1287.82 L1302.84 1287.76 L1303.56 1287.7 L1304.28 1287.64 L1304.99 1287.58 L1305.71 1287.53 L1306.43 1287.47 L1307.15 1287.41 L1307.86 1287.35 L1308.58 1287.3 L1309.3 1287.24 L1310.02 1287.18 L1310.73 1287.13 L1311.45 1287.07 L1312.17 1287.02 L1312.89 1286.97 L1313.6 1286.91 L1314.32 1286.86 L1315.04 1286.81 L1315.75 1286.76 L1316.47 1286.7 L1317.19 1286.65 L1317.91 1286.6 L1318.62 1286.55 L1319.34 1286.5 L1320.06 1286.46 L1320.78 1286.41 L1321.49 1286.36 L1322.21 1286.31 L1322.93 1286.27 L1323.64 1286.22 L1324.36 1286.17 L1325.08 1286.13 L1325.8 1286.08 L1326.51 1286.04 L1327.23 1286 L1327.95 1285.95 L1328.67 1285.91 L1329.38 1285.87 L1330.1 1285.83 L1330.82 1285.79 L1331.53 1285.75 L1332.25 1285.71 L1332.97 1285.67 L1333.69 1285.64 L1334.4 1285.6 L1335.12 1285.56 L1335.84 1285.53 L1336.56 1285.5 L1337.27 1285.46 L1337.99 1285.43 L1338.71 1285.4 L1339.43 1285.37 L1340.14 1285.34 L1340.86 1285.31 L1341.58 1285.29 L1342.29 1285.26 L1343.01 1285.24 L1343.73 1285.21 L1344.45 1285.19 L1345.16 1285.17 L1345.88 1285.15 L1346.6 1285.13 L1347.32 1285.11 L1348.03 1285.09 L1348.75 1285.07 L1349.47 1285.05 L1350.18 1285.04 L1350.9 1285.02 L1351.62 1285 L1352.34 1284.99 L1353.05 1284.97 L1353.77 1284.96 L1354.49 1284.95 L1355.21 1284.93 L1355.92 1284.92 L1356.64 1284.91 L1357.36 1284.9 L1358.08 1284.88 L1358.79 1284.87 L1359.51 1284.86 L1360.23 1284.85 L1360.94 1284.84 L1361.66 1284.83 L1362.38 1284.82 L1363.1 1284.81 L1363.81 1284.8 L1364.53 1284.78 L1365.25 1284.77 L1365.97 1284.77 L1366.68 1284.76 L1367.4 1284.75 L1368.12 1284.74 L1368.83 1284.73 L1369.55 1284.72 L1370.27 1284.71 L1370.99 1284.7 L1371.7 1284.69 L1372.42 1284.68 L1373.14 1284.67 L1373.86 1284.67 L1374.57 1284.66 L1375.29 1284.65 L1376.01 1284.64 L1376.72 1284.64 L1377.44 1284.63 L1378.16 1284.62 L1378.88 1284.61 L1379.59 1284.61 L1380.31 1284.6 L1381.03 1284.59 L1381.75 1284.59 L1382.46 1284.58 L1383.18 1284.57 L1383.9 1284.57 L1384.62 1284.56 L1385.33 1284.56 L1386.05 1284.55 L1386.77 1284.54 L1387.48 1284.54 L1388.2 1284.53 L1388.92 1284.53 L1389.64 1284.52 L1390.35 1284.52 L1391.07 1284.52 L1391.79 1284.51 L1392.51 1284.51 L1393.22 1284.5 L1393.94 1284.5 L1394.66 1284.5 L1395.37 1284.49 L1396.09 1284.49 L1396.81 1284.49 L1397.53 1284.48 L1398.24 1284.48 L1398.96 1284.48 L1399.68 1284.47 L1400.4 1284.47 L1401.11 1284.47 L1401.83 1284.47 L1402.55 1284.47 L1403.26 1284.46 L1403.98 1284.46 L1404.7 1284.46 L1405.42 1284.46 L1406.13 1284.46 L1406.85 1284.46 L1407.57 1284.46 L1408.29 1284.46 L1409 1284.46 L1409.72 1284.46 L1410.44 1284.45 L1411.16 1284.45 L1411.87 1284.45 L1412.59 1284.45 L1413.31 1284.45 L1414.02 1284.45 L1414.74 1284.46 L1415.46 1284.46 L1416.18 1284.46 L1416.89 1284.46 L1417.61 1284.46 L1418.33 1284.46 L1419.05 1284.46 L1419.76 1284.46 L1420.48 1284.46 L1421.2 1284.46 L1421.91 1284.46 L1422.63 1284.47 L1423.35 1284.47 L1424.07 1284.47 L1424.78 1284.47 L1425.5 1284.47 L1426.22 1284.47 L1426.94 1284.47 L1427.65 1284.48 L1428.37 1284.48 L1429.09 1284.48 L1429.81 1284.48 L1430.52 1284.48 L1431.24 1284.49 L1431.96 1284.49 L1432.67 1284.49 L1433.39 1284.49 L1434.11 1284.5 L1434.83 1284.5 L1435.54 1284.5 L1436.26 1284.5 L1436.98 1284.51 L1437.7 1284.51 L1438.41 1284.51 L1439.13 1284.51 L1439.85 1284.52 L1440.56 1284.52 L1441.28 1284.52 L1442 1284.53 L1442.72 1284.53 L1443.43 1284.53 L1444.15 1284.53 L1444.87 1284.54 L1445.59 1284.54 L1446.3 1284.54 L1447.02 1284.55 L1447.74 1284.55 L1448.45 1284.55 L1449.17 1284.56 L1449.89 1284.56 L1450.61 1284.56 L1451.32 1284.57 L1452.04 1284.57 L1452.76 1284.58 L1453.48 1284.58 L1454.19 1284.58 L1454.91 1284.59 L1455.63 1284.59 L1456.35 1284.59 L1457.06 1284.6 L1457.78 1284.6 L1458.5 1284.61 L1459.21 1284.61 L1459.93 1284.61 L1460.65 1284.62 L1461.37 1284.62 L1462.08 1284.63 L1462.8 1284.63 L1463.52 1284.63 L1464.24 1284.64 L1464.95 1284.64 L1465.67 1284.65 L1466.39 1284.65 L1467.1 1284.66 L1467.82 1284.66 L1468.54 1284.66 L1469.26 1284.67 L1469.97 1284.67 L1470.69 1284.68 L1471.41 1284.68 L1472.13 1284.69 L1472.84 1284.69 L1473.56 1284.69 L1474.28 1284.7 L1474.99 1284.7 L1475.71 1284.71 L1476.43 1284.71 L1477.15 1284.72 L1477.86 1284.72 L1478.58 1284.73 L1479.3 1284.73 L1480.02 1284.74 L1480.73 1284.74 L1481.45 1284.74 L1482.17 1284.75 L1482.89 1284.75 L1483.6 1284.76 L1484.32 1284.76 L1485.04 1284.77 L1485.75 1284.77 L1486.47 1284.78 L1487.19 1284.78 L1487.91 1284.79 L1488.62 1284.79 L1489.34 1284.8 L1490.06 1284.8 L1490.78 1284.8 L1491.49 1284.81 L1492.21 1284.81 L1492.93 1284.82 L1493.64 1284.82 L1494.36 1284.83 L1495.08 1284.83 L1495.8 1284.84 L1496.51 1284.84 L1497.23 1284.85 L1497.95 1284.85 L1498.67 1284.86 L1499.38 1284.86 L1500.1 1284.86 L1500.82 1284.87 L1501.54 1284.87 L1502.25 1284.88 L1502.97 1284.88 L1503.69 1284.89 L1504.4 1284.89 L1505.12 1284.9 L1505.84 1284.9 L1506.56 1284.91 L1507.27 1284.91 L1507.99 1284.91 L1508.71 1284.92 L1509.43 1284.92 L1510.14 1284.93 L1510.86 1284.93 L1511.58 1284.94 L1512.29 1284.94 L1513.01 1284.94 L1513.73 1284.95 L1514.45 1284.95 L1515.16 1284.96 L1515.88 1284.96 L1516.6 1284.97 L1517.32 1284.97 L1518.03 1284.97 L1518.75 1284.98 L1519.47 1284.98 L1520.18 1284.99 L1520.9 1284.99 L1521.62 1284.99 L1522.34 1285 L1523.05 1285 L1523.77 1285.01 L1524.49 1285.01 L1525.21 1285.01 L1525.92 1285.02 L1526.64 1285.02 L1527.36 1285.02 L1528.08 1285.03 L1528.79 1285.03 L1529.51 1285.03 L1530.23 1285.04 L1530.94 1285.04 L1531.66 1285.05 L1532.38 1285.05 L1533.1 1285.05 L1533.81 1285.06 L1534.53 1285.06 L1535.25 1285.06 L1535.97 1285.07 L1536.68 1285.07 L1537.4 1285.07 L1538.12 1285.08 L1538.83 1285.08 L1539.55 1285.08 L1540.27 1285.09 L1540.99 1285.09 L1541.7 1285.09 L1542.42 1285.09 L1543.14 1285.1 L1543.86 1285.1 L1544.57 1285.1 L1545.29 1285.11 L1546.01 1285.11 L1546.72 1285.11 L1547.44 1285.12 L1548.16 1285.12 L1548.88 1285.12 L1549.59 1285.13 L1550.31 1285.13 L1551.03 1285.13 L1551.75 1285.13 L1552.46 1285.14 L1553.18 1285.14 L1553.9 1285.14 L1554.62 1285.15 L1555.33 1285.15 L1556.05 1285.15 L1556.77 1285.16 L1557.48 1285.16 L1558.2 1285.16 L1558.92 1285.16 L1559.64 1285.17 L1560.35 1285.17 L1561.07 1285.17 L1561.79 1285.18 L1562.51 1285.18 L1563.22 1285.18 L1563.94 1285.19 L1564.66 1285.19 L1565.37 1285.19 L1566.09 1285.19 L1566.81 1285.2 L1567.53 1285.2 L1568.24 1285.2 L1568.96 1285.21 L1569.68 1285.21 L1570.4 1285.21 L1571.11 1285.22 L1571.83 1285.22 L1572.55 1285.22 L1573.27 1285.22 L1573.98 1285.23 L1574.7 1285.23 L1575.42 1285.23 L1576.13 1285.24 L1576.85 1285.24 L1577.57 1285.24 L1578.29 1285.25 L1579 1285.25 L1579.72 1285.25 L1580.44 1285.25 L1581.16 1285.26 L1581.87 1285.26 L1582.59 1285.26 L1583.31 1285.27 L1584.02 1285.27 L1584.74 1285.27 L1585.46 1285.28 L1586.18 1285.28 L1586.89 1285.28 L1587.61 1285.28 L1588.33 1285.29 L1589.05 1285.29 L1589.76 1285.29 L1590.48 1285.3 L1591.2 1285.3 L1591.91 1285.3 L1592.63 1285.3 L1593.35 1285.31 L1594.07 1285.31 L1594.78 1285.31 L1595.5 1285.32 L1596.22 1285.32 L1596.94 1285.32 L1597.65 1285.33 L1598.37 1285.33 L1599.09 1285.33 L1599.81 1285.33 L1600.52 1285.34 L1601.24 1285.34 L1601.96 1285.34 L1602.67 1285.35 L1603.39 1285.35 L1604.11 1285.35 L1604.83 1285.35 L1605.54 1285.36 L1606.26 1285.36 L1606.98 1285.36 L1607.7 1285.37 L1608.41 1285.37 L1609.13 1285.37 L1609.85 1285.37 L1610.56 1285.38 L1611.28 1285.38 L1612 1285.38 L1612.72 1285.39 L1613.43 1285.39 L1614.15 1285.39 L1614.87 1285.39 L1615.59 1285.4 L1616.3 1285.4 L1617.02 1285.4 L1617.74 1285.41 L1618.45 1285.41 L1619.17 1285.41 L1619.89 1285.41 L1620.61 1285.42 L1621.32 1285.42 L1622.04 1285.42 L1622.76 1285.43 L1623.48 1285.43 L1624.19 1285.43 L1624.91 1285.43 L1625.63 1285.44 L1626.35 1285.44 L1627.06 1285.44 L1627.78 1285.45 L1628.5 1285.45 L1629.21 1285.45 L1629.93 1285.45 L1630.65 1285.46 L1631.37 1285.46 L1632.08 1285.46 L1632.8 1285.47 L1633.52 1285.47 L1634.24 1285.47 L1634.95 1285.47 L1635.67 1285.48 L1636.39 1285.48 L1637.1 1285.48 L1637.82 1285.49 L1638.54 1285.49 L1639.26 1285.49 L1639.97 1285.49 L1640.69 1285.5 L1641.41 1285.5 L1642.13 1285.5 L1642.84 1285.51 L1643.56 1285.51 L1644.28 1285.51 L1645 1285.51 L1645.71 1285.52 L1646.43 1285.52 L1647.15 1285.52 L1647.86 1285.52 L1648.58 1285.53 L1649.3 1285.53 L1650.02 1285.53 L1650.73 1285.54 L1651.45 1285.54 L1652.17 1285.54 L1652.89 1285.54 L1653.6 1285.55 L1654.32 1285.55 L1655.04 1285.55 L1655.75 1285.56 L1656.47 1285.56 L1657.19 1285.56 L1657.91 1285.56 L1658.62 1285.57 L1659.34 1285.57 L1660.06 1285.57 L1660.78 1285.57 L1661.49 1285.58 L1662.21 1285.58 L1662.93 1285.58 L1663.64 1285.59 L1664.36 1285.59 L1665.08 1285.59 L1665.8 1285.59 L1666.51 1285.6 L1667.23 1285.6 L1667.95 1285.6 L1668.67 1285.6 L1669.38 1285.61 L1670.1 1285.61 L1670.82 1285.61 L1671.54 1285.61 L1672.25 1285.62 L1672.97 1285.62 L1673.69 1285.62 L1674.4 1285.63 L1675.12 1285.63 L1675.84 1285.63 L1676.56 1285.63 L1677.27 1285.64 L1677.99 1285.64 L1678.71 1285.64 L1679.43 1285.64 L1680.14 1285.65 L1680.86 1285.65 L1681.58 1285.65 L1682.29 1285.66 L1683.01 1285.66 L1683.73 1285.66 L1684.45 1285.66 L1685.16 1285.67 L1685.88 1285.67 L1686.6 1285.67 L1687.32 1285.67 L1688.03 1285.68 L1688.75 1285.68 L1689.47 1285.68 L1690.18 1285.68 L1690.9 1285.69 L1691.62 1285.69 L1692.34 1285.69 L1693.05 1285.69 L1693.77 1285.7 L1694.49 1285.7 L1695.21 1285.7 L1695.92 1285.71 L1696.64 1285.71 L1697.36 1285.71 L1698.08 1285.71 L1698.79 1285.72 L1699.51 1285.72 L1700.23 1285.72 L1700.94 1285.72 L1701.66 1285.73 L1702.38 1285.73 L1703.1 1285.73 L1703.81 1285.73 L1704.53 1285.74 L1705.25 1285.74 L1705.97 1285.74 L1706.68 1285.74 L1707.4 1285.75 L1708.12 1285.75 L1708.83 1285.75 L1709.55 1285.75 L1710.27 1285.76 L1710.99 1285.76 L1711.7 1285.76 L1712.42 1285.76 L1713.14 1285.77 L1713.86 1285.77 L1714.57 1285.77 L1715.29 1285.77 L1716.01 1285.78 L1716.72 1285.78 L1717.44 1285.78 L1718.16 1285.78 L1718.88 1285.79 L1719.59 1285.79 L1720.31 1285.79 L1721.03 1285.79 L1721.75 1285.8 L1722.46 1285.8 L1723.18 1285.8 L1723.9 1285.8 L1724.62 1285.81 L1725.33 1285.81 L1726.05 1285.81 L1726.77 1285.81 L1727.48 1285.82 L1728.2 1285.82 L1728.92 1285.82 L1729.64 1285.82 L1730.35 1285.83 L1731.07 1285.83 L1731.79 1285.83 L1732.51 1285.83 L1733.22 1285.84 L1733.94 1285.84 L1734.66 1285.84 L1735.37 1285.84 L1736.09 1285.85 L1736.81 1285.85 L1737.53 1285.85 L1738.24 1285.85 L1738.96 1285.86 L1739.68 1285.86 L1740.4 1285.86 L1741.11 1285.86 L1741.83 1285.87 L1742.55 1285.87 L1743.27 1285.87 L1743.98 1285.87 L1744.7 1285.88 L1745.42 1285.88 L1746.13 1285.88 L1746.85 1285.88 L1747.57 1285.88 L1748.29 1285.89 L1749 1285.89 L1749.72 1285.89 L1750.44 1285.89 L1751.16 1285.9 L1751.87 1285.9 L1752.59 1285.9 L1753.31 1285.9 L1754.02 1285.91 L1754.74 1285.91 L1755.46 1285.91 L1756.18 1285.91 L1756.89 1285.92 L1757.61 1285.92 L1758.33 1285.92 L1759.05 1285.92 L1759.76 1285.92 L1760.48 1285.93 L1761.2 1285.93 L1761.91 1285.93 L1762.63 1285.93 L1763.35 1285.94 L1764.07 1285.94 L1764.78 1285.94 L1765.5 1285.94 L1766.22 1285.95 L1766.94 1285.95 L1767.65 1285.95 L1768.37 1285.95 L1769.09 1285.95 L1769.81 1285.96 L1770.52 1285.96 L1771.24 1285.96 L1771.96 1285.96 L1772.67 1285.97 L1773.39 1285.97 L1774.11 1285.97 L1774.83 1285.97 L1775.54 1285.98 L1776.26 1285.98 L1776.98 1285.98 L1777.7 1285.98 L1778.41 1285.98 L1779.13 1285.99 L1779.85 1285.99 L1780.56 1285.99 L1781.28 1285.99 L1782 1286 L1782.72 1286 L1783.43 1286 L1784.15 1286 L1784.87 1286 L1785.59 1286.01 L1786.3 1286.01 L1787.02 1286.01 L1787.74 1286.01 L1788.45 1286.02 L1789.17 1286.02 L1789.89 1286.02 L1790.61 1286.02 L1791.32 1286.02 L1792.04 1286.03 L1792.76 1286.03 L1793.48 1286.03 L1794.19 1286.03 L1794.91 1286.03 L1795.63 1286.04 L1796.35 1286.04 L1797.06 1286.04 L1797.78 1286.04 L1798.5 1286.05 L1799.21 1286.05 L1799.93 1286.05 L1800.65 1286.05 L1801.37 1286.05 L1802.08 1286.06 L1802.8 1286.06 L1803.52 1286.06 L1804.24 1286.06 L1804.95 1286.06 L1805.67 1286.07 L1806.39 1286.07 L1807.1 1286.07 L1807.82 1286.07 L1808.54 1286.07 L1809.26 1286.08 L1809.97 1286.08 L1810.69 1286.08 L1811.41 1286.08 L1812.13 1286.08 L1812.84 1286.09 L1813.56 1286.09 L1814.28 1286.09 L1815 1286.09 L1815.71 1286.09 L1816.43 1286.1 L1817.15 1286.1 L1817.86 1286.1 L1818.58 1286.1 L1819.3 1286.1 L1820.02 1286.1 L1820.73 1286.1 L1821.45 1286.11 L1822.17 1286.11 L1822.89 1286.11 L1823.6 1286.11 L1824.32 1286.11 L1824.32 1286.11" stroke="#d95319"/>
<path d="M963.56 1286.12 L964.28 1286.12 L964.99 1286.12 L965.71 1286.12 L966.43 1286.12 L967.15 1286.12 L967.86 1286.12 L968.58 1286.12 L969.3 1286.12 L970.02 1286.12 L970.73 1286.12 L971.45 1286.12 L972.17 1286.12 L972.88 1286.12 L973.6 1286.12 L974.32 1286.12 L975.04 1286.12 L975.75 1286.12 L976.47 1286.12 L977.19 1286.12 L977.91 1286.12 L978.62 1286.12 L979.34 1286.12 L980.06 1286.12 L980.78 1286.12 L981.49 1286.12 L982.21 1286.12 L982.93 1286.12 L983.64 1286.12 L984.36 1286.12 L985.08 1286.12 L985.8 1286.12 L986.51 1286.12 L987.23 1286.12 L987.95 1286.12 L988.67 1286.12 L989.38 1286.12 L990.1 1286.12 L990.82 1286.12 L991.53 1286.12 L992.25 1286.12 L992.97 1286.12 L993.69 1286.12 L994.4 1286.12 L995.12 1286.12 L995.84 1286.12 L996.56 1286.12 L997.27 1286.12 L997.99 1286.12 L998.71 1286.12 L999.43 1286.12 L1000.14 1286.12 L1000.86 1286.12 L1001.58 1286.12 L1002.29 1286.12 L1003.01 1286.12 L1003.73 1286.12 L1004.45 1286.12 L1005.16 1286.12 L1005.88 1286.12 L1006.6 1286.12 L1007.32 1286.12 L1008.03 1286.12 L1008.75 1286.12 L1009.47 1286.12 L1010.18 1286.12 L1010.9 1286.12 L1011.62 1286.12 L1012.34 1286.12 L1013.05 1286.12 L1013.77 1286.12 L1014.49 1286.12 L1015.21 1286.12 L1015.92 1286.12 L1016.64 1286.12 L1017.36 1286.12 L1018.07 1286.12 L1018.79 1286.12 L1019.51 1286.12 L1020.23 1286.12 L1020.94 1286.12 L1021.66 1286.12 L1022.38 1286.12 L1023.1 1286.12 L1023.81 1286.12 L1024.53 1286.12 L1025.25 1286.12 L1025.97 1286.12 L1026.68 1286.12 L1027.4 1286.12 L1028.12 1286.12 L1028.83 1286.12 L1029.55 1286.12 L1030.27 1286.12 L1030.99 1286.12 L1031.7 1286.12 L1032.42 1286.12 L1033.14 1286.12 L1033.86 1286.12 L1034.57 1286.12 L1035.29 1286.12 L1036.01 1286.12 L1036.72 1286.12 L1037.44 1286.12 L1038.16 1286.12 L1038.88 1286.12 L1039.59 1286.12 L1040.31 1286.12 L1041.03 1286.12 L1041.75 1286.12 L1042.46 1286.12 L1043.18 1286.12 L1043.9 1286.12 L1044.61 1286.12 L1045.33 1286.12 L1046.05 1286.12 L1046.77 1286.12 L1047.48 1286.12 L1048.2 1286.12 L1048.92 1286.12 L1049.64 1286.12 L1050.35 1286.12 L1051.07 1286.12 L1051.79 1286.12 L1052.51 1286.12 L1053.22 1286.12 L1053.94 1286.12 L1054.66 1286.12 L1055.37 1286.12 L1056.09 1286.12 L1056.81 1286.12 L1057.53 1286.12 L1058.24 1286.12 L1058.96 1286.12 L1059.44 1285.65 L1059.68 1285.18 L1059.92 1283.97 L1060.16 1282.75 L1060.4 1281.07 L1060.63 1279.39 L1060.87 1277.53 L1061.11 1275.66 L1061.35 1273.9 L1061.59 1272.14 L1061.83 1270.76 L1062.07 1269.38 L1062.31 1268.21 L1062.55 1267.04 L1062.79 1265.83 L1063.03 1264.62 L1063.26 1263.52 L1063.5 1262.42 L1063.74 1261.6 L1063.98 1260.77 L1064.22 1260.38 L1064.46 1259.99 L1064.7 1260.44 L1064.94 1261.23 L1065.18 1263.45 L1065.42 1265.67 L1065.66 1268.9 L1065.89 1272.14 L1066.13 1275.75 L1066.37 1279.37 L1066.61 1282.75 L1066.85 1286.12 L1067.09 1289.42 L1067.33 1292.71 L1067.57 1296.37 L1067.81 1300.03 L1068.05 1303.83 L1068.29 1307.64 L1068.52 1311.38 L1068.76 1315.12 L1069 1318.58 L1069.24 1322.04 L1069.48 1325 L1069.72 1327.97 L1069.96 1330.63 L1070.2 1333.29 L1070.44 1335.92 L1070.68 1338.54 L1070.92 1341.01 L1071.15 1343.48 L1071.39 1345.7 L1071.63 1347.91 L1071.87 1349.77 L1072.11 1351.62 L1072.35 1353 L1072.59 1354.38 L1072.83 1355.34 L1073.07 1356.21 L1073.31 1356.97 L1073.55 1357.73 L1073.79 1358.18 L1074.02 1358.63 L1074.5 1358.12 L1074.74 1356.5 L1074.98 1354.88 L1075.22 1352.33 L1075.46 1349.79 L1075.7 1346.86 L1075.94 1343.94 L1076.18 1341.19 L1076.42 1338.43 L1076.65 1335.77 L1076.89 1333.12 L1077.13 1330.2 L1077.37 1327.27 L1077.61 1324.17 L1077.85 1321.07 L1078.09 1317.89 L1078.33 1314.71 L1078.57 1311.54 L1078.81 1308.37 L1079.05 1305.31 L1079.28 1302.24 L1079.52 1299.37 L1079.76 1296.5 L1080 1293.93 L1080.24 1291.35 L1080.48 1288.96 L1080.72 1286.56 L1080.96 1284.2 L1081.2 1281.83 L1081.44 1279.54 L1081.68 1277.25 L1081.91 1275.06 L1082.15 1272.87 L1082.39 1270.82 L1082.63 1268.78 L1082.87 1266.91 L1083.11 1265.04 L1083.35 1263.38 L1083.59 1261.73 L1083.83 1260.32 L1084.07 1258.92 L1084.31 1257.62 L1084.54 1256.33 L1084.78 1255.03 L1085.02 1253.74 L1085.26 1252.51 L1085.5 1251.29 L1085.74 1250.21 L1085.98 1249.12 L1086.22 1248.26 L1086.46 1247.4 L1086.7 1246.83 L1086.94 1246.26 L1087.41 1245.84 L1088.13 1245.84 L1088.85 1245.84 L1089.57 1245.84 L1090.28 1245.84 L1091 1245.84 L1091.72 1245.84 L1092.43 1245.84 L1093.15 1245.95 L1093.63 1246.59 L1093.87 1247.16 L1094.11 1247.74 L1094.35 1248.52 L1094.59 1249.3 L1094.83 1250.26 L1095.07 1251.21 L1095.3 1252.3 L1095.54 1253.38 L1095.78 1254.56 L1096.02 1255.74 L1096.26 1256.97 L1096.5 1258.19 L1096.74 1259.44 L1096.98 1260.68 L1097.22 1261.89 L1097.46 1263.1 L1097.7 1264.37 L1097.93 1265.64 L1098.17 1267.06 L1098.41 1268.48 L1098.65 1270.05 L1098.89 1271.61 L1099.13 1273.3 L1099.37 1274.99 L1099.61 1276.79 L1099.85 1278.59 L1100.09 1280.49 L1100.33 1282.39 L1100.56 1284.37 L1100.8 1286.35 L1101.04 1288.44 L1101.28 1290.56 L1101.52 1292.86 L1101.76 1295.16 L1102 1297.63 L1102.24 1300.1 L1102.48 1302.71 L1102.72 1305.33 L1102.96 1308.06 L1103.19 1310.8 L1103.43 1313.63 L1103.67 1316.45 L1103.91 1319.34 L1104.15 1322.24 L1104.39 1325.16 L1104.63 1328.11 L1104.87 1331.18 L1105.11 1334.26 L1105.35 1337.5 L1105.59 1340.74 L1105.82 1344.1 L1106.06 1347.46 L1106.3 1350.9 L1106.54 1354.34 L1106.78 1357.82 L1107.02 1361.29 L1107.26 1364.76 L1107.5 1368.22 L1107.74 1371.63 L1107.98 1375.05 L1108.22 1378.44 L1108.45 1381.84 L1108.69 1385.28 L1108.93 1388.71 L1109.17 1392.17 L1109.41 1395.62 L1109.65 1399.09 L1109.89 1402.55 L1110.13 1406 L1110.37 1409.45 L1110.61 1412.88 L1110.85 1416.3 L1111.08 1419.68 L1111.32 1423.07 L1111.56 1426.39 L1111.8 1429.72 L1112.04 1432.98 L1112.28 1436.23 L1112.52 1439.45 L1112.76 1442.68 L1113 1445.89 L1113.24 1449.09 L1113.48 1452.27 L1113.71 1455.45 L1113.95 1458.58 L1114.19 1461.72 L1114.43 1464.81 L1114.67 1467.91 L1114.91 1470.95 L1115.15 1473.98 L1115.39 1476.96 L1115.63 1479.94 L1115.87 1482.85 L1116.11 1485.75 L1116.34 1488.6 L1116.58 1491.42 L1116.82 1494.2 L1117.06 1496.98 L1117.3 1499.71 L1117.54 1502.44 L1117.78 1505.13 L1118.02 1507.81 L1118.26 1510.45 L1118.5 1513.09 L1118.74 1515.69 L1118.98 1518.29 L1119.21 1520.85 L1119.45 1523.41 L1119.69 1525.94 L1119.93 1528.46 L1120.17 1530.96 L1120.41 1533.45 L1120.65 1535.92 L1120.89 1538.39 L1121.13 1540.84 L1121.37 1543.28 L1121.61 1545.72 L1121.84 1548.16 L1122.08 1550.59 L1122.32 1553.02 L1122.56 1555.42 L1122.8 1557.82 L1123.04 1560.19 L1123.28 1562.56 L1123.52 1564.89 L1123.76 1567.21 L1124 1569.49 L1124.24 1571.76 L1124.47 1573.97 L1124.71 1576.17 L1124.95 1578.31 L1125.19 1580.44 L1125.43 1582.49 L1125.67 1584.54 L1125.91 1586.52 L1126.15 1588.48 L1126.39 1590.42 L1126.63 1592.36 L1126.87 1594.26 L1127.1 1596.16 L1127.34 1598.02 L1127.58 1599.89 L1127.82 1601.71 L1128.06 1603.53 L1128.3 1605.31 L1128.54 1607.09 L1128.78 1608.82 L1129.02 1610.56 L1129.26 1612.25 L1129.5 1613.94 L1129.73 1615.58 L1129.97 1617.23 L1130.21 1618.82 L1130.45 1620.42 L1130.69 1621.96 L1130.93 1623.5 L1131.17 1625 L1131.41 1626.49 L1131.65 1627.94 L1131.89 1629.37 L1132.13 1630.78 L1132.36 1632.2 L1132.6 1633.58 L1132.84 1634.97 L1133.08 1636.33 L1133.32 1637.69 L1133.56 1639.01 L1133.8 1640.34 L1134.04 1641.63 L1134.28 1642.92 L1134.52 1644.18 L1134.76 1645.43 L1134.99 1646.64 L1135.23 1647.86 L1135.47 1649.03 L1135.71 1650.2 L1135.95 1651.32 L1136.19 1652.44 L1136.43 1653.52 L1136.67 1654.59 L1136.91 1655.61 L1137.15 1656.64 L1137.39 1657.6 L1137.62 1658.57 L1137.86 1659.51 L1138.1 1660.44 L1138.34 1661.38 L1138.58 1662.31 L1138.82 1663.23 L1139.06 1664.16 L1139.3 1665.06 L1139.54 1665.96 L1139.78 1666.84 L1140.02 1667.71 L1140.25 1668.55 L1140.49 1669.39 L1140.73 1670.19 L1140.97 1670.98 L1141.21 1671.73 L1141.45 1672.47 L1141.69 1673.16 L1141.93 1673.84 L1142.17 1674.46 L1142.41 1675.08 L1142.65 1675.62 L1142.88 1676.16 L1143.12 1676.62 L1143.36 1677.08 L1143.6 1677.47 L1143.84 1677.85 L1144.08 1678.23 L1144.32 1678.6 L1144.56 1678.97 L1144.8 1679.33 L1145.28 1680.04 L1145.75 1680.72 L1146.23 1681.35 L1146.71 1681.94 L1147.19 1682.47 L1147.67 1682.94 L1148.15 1683.33 L1148.62 1683.63 L1149.1 1683.85 L1149.82 1683.99 L1150.54 1683.86 L1151.01 1683.61 L1151.49 1683.25 L1151.97 1682.79 L1152.45 1682.23 L1152.93 1681.58 L1153.17 1681.22 L1153.41 1680.86 L1153.64 1680.46 L1153.88 1680.07 L1154.12 1679.64 L1154.36 1679.22 L1154.6 1678.77 L1154.84 1678.33 L1155.08 1677.86 L1155.32 1677.4 L1155.56 1676.81 L1155.8 1676.21 L1156.04 1675.4 L1156.27 1674.59 L1156.51 1673.58 L1156.75 1672.58 L1156.99 1671.42 L1157.23 1670.26 L1157.47 1668.98 L1157.71 1667.69 L1157.95 1666.31 L1158.19 1664.93 L1158.43 1663.48 L1158.67 1662.04 L1158.9 1660.56 L1159.14 1659.09 L1159.38 1657.61 L1159.62 1656.13 L1159.86 1654.69 L1160.1 1653.24 L1160.34 1651.78 L1160.58 1650.32 L1160.82 1648.78 L1161.06 1647.25 L1161.3 1645.64 L1161.53 1644.04 L1161.77 1642.38 L1162.01 1640.71 L1162.25 1639 L1162.49 1637.28 L1162.73 1635.52 L1162.97 1633.76 L1163.21 1631.97 L1163.45 1630.17 L1163.69 1628.34 L1163.93 1626.52 L1164.16 1624.67 L1164.4 1622.82 L1164.64 1620.96 L1164.88 1619.1 L1165.12 1617.23 L1165.36 1615.36 L1165.6 1613.49 L1165.84 1611.63 L1166.08 1609.75 L1166.32 1607.86 L1166.56 1605.94 L1166.8 1604.01 L1167.03 1602.05 L1167.27 1600.09 L1167.51 1598.1 L1167.75 1596.11 L1167.99 1594.09 L1168.23 1592.09 L1168.47 1590.06 L1168.71 1588.04 L1168.95 1586.01 L1169.19 1583.98 L1169.43 1581.96 L1169.66 1579.93 L1169.9 1577.92 L1170.14 1575.9 L1170.38 1573.9 L1170.62 1571.9 L1170.86 1569.92 L1171.1 1567.95 L1171.34 1565.99 L1171.58 1564.04 L1171.82 1562.12 L1172.06 1560.2 L1172.29 1558.32 L1172.53 1556.43 L1172.77 1554.59 L1173.01 1552.75 L1173.25 1550.92 L1173.49 1549.09 L1173.73 1547.26 L1173.97 1545.44 L1174.21 1543.61 L1174.45 1541.79 L1174.69 1539.98 L1174.92 1538.17 L1175.16 1536.37 L1175.4 1534.57 L1175.64 1532.79 L1175.88 1531.01 L1176.12 1529.25 L1176.36 1527.49 L1176.6 1525.75 L1176.84 1524.02 L1177.08 1522.32 L1177.32 1520.62 L1177.55 1518.94 L1177.79 1517.27 L1178.03 1515.63 L1178.27 1513.99 L1178.51 1512.38 L1178.75 1510.78 L1178.99 1509.21 L1179.23 1507.64 L1179.47 1506.11 L1179.71 1504.58 L1179.95 1503.08 L1180.18 1501.59 L1180.42 1500.13 L1180.66 1498.66 L1180.9 1497.23 L1181.14 1495.8 L1181.38 1494.39 L1181.62 1492.97 L1181.86 1491.58 L1182.1 1490.18 L1182.34 1488.8 L1182.58 1487.42 L1182.81 1486.04 L1183.05 1484.67 L1183.29 1483.3 L1183.53 1481.92 L1183.77 1480.55 L1184.01 1479.18 L1184.25 1477.81 L1184.49 1476.43 L1184.73 1475.05 L1184.97 1473.67 L1185.21 1472.28 L1185.44 1470.89 L1185.68 1469.49 L1185.92 1468.09 L1186.16 1466.68 L1186.4 1465.27 L1186.64 1463.85 L1186.88 1462.42 L1187.12 1460.99 L1187.36 1459.55 L1187.6 1458.1 L1187.84 1456.64 L1188.07 1455.18 L1188.31 1453.71 L1188.55 1452.23 L1188.79 1450.75 L1189.03 1449.26 L1189.27 1447.76 L1189.51 1446.26 L1189.75 1444.75 L1189.99 1443.23 L1190.23 1441.71 L1190.47 1440.18 L1190.7 1438.64 L1190.94 1437.1 L1191.18 1435.56 L1191.42 1434 L1191.66 1432.46 L1191.9 1430.9 L1192.14 1429.35 L1192.38 1427.8 L1192.62 1426.25 L1192.86 1424.71 L1193.1 1423.17 L1193.34 1421.63 L1193.57 1420.1 L1193.81 1418.57 L1194.05 1417.05 L1194.29 1415.53 L1194.53 1414.03 L1194.77 1412.53 L1195.01 1411.03 L1195.25 1409.55 L1195.49 1408.07 L1195.73 1406.61 L1195.97 1405.15 L1196.2 1403.69 L1196.44 1402.25 L1196.68 1400.82 L1196.92 1399.39 L1197.16 1397.98 L1197.4 1396.57 L1197.64 1395.17 L1197.88 1393.78 L1198.12 1392.4 L1198.36 1391.03 L1198.6 1389.66 L1198.83 1388.31 L1199.07 1386.96 L1199.31 1385.62 L1199.55 1384.29 L1199.79 1382.97 L1200.03 1381.65 L1200.27 1380.34 L1200.51 1379.04 L1200.75 1377.75 L1200.99 1376.46 L1201.23 1375.19 L1201.46 1373.92 L1201.7 1372.65 L1201.94 1371.4 L1202.18 1370.15 L1202.42 1368.92 L1202.66 1367.69 L1202.9 1366.47 L1203.14 1365.26 L1203.38 1364.06 L1203.62 1362.87 L1203.86 1361.69 L1204.09 1360.53 L1204.33 1359.37 L1204.57 1358.22 L1204.81 1357.09 L1205.05 1355.96 L1205.29 1354.85 L1205.53 1353.74 L1205.77 1352.65 L1206.01 1351.57 L1206.25 1350.5 L1206.49 1349.44 L1206.72 1348.39 L1206.96 1347.36 L1207.2 1346.33 L1207.44 1345.31 L1207.68 1344.31 L1207.92 1343.32 L1208.16 1342.33 L1208.4 1341.36 L1208.64 1340.4 L1208.88 1339.45 L1209.12 1338.51 L1209.35 1337.58 L1209.59 1336.66 L1209.83 1335.75 L1210.07 1334.86 L1210.31 1333.97 L1210.55 1333.09 L1210.79 1332.22 L1211.03 1331.37 L1211.27 1330.52 L1211.51 1329.68 L1211.75 1328.86 L1211.98 1328.04 L1212.22 1327.23 L1212.46 1326.43 L1212.7 1325.64 L1212.94 1324.87 L1213.18 1324.1 L1213.42 1323.34 L1213.66 1322.58 L1213.9 1321.84 L1214.14 1321.11 L1214.38 1320.38 L1214.62 1319.67 L1214.85 1318.96 L1215.09 1318.26 L1215.33 1317.57 L1215.57 1316.89 L1215.81 1316.21 L1216.05 1315.55 L1216.29 1314.89 L1216.53 1314.24 L1216.77 1313.6 L1217.01 1312.96 L1217.25 1312.34 L1217.48 1311.72 L1217.72 1311.11 L1217.96 1310.5 L1218.2 1309.91 L1218.44 1309.32 L1218.68 1308.74 L1218.92 1308.16 L1219.16 1307.59 L1219.4 1307.03 L1219.64 1306.48 L1219.88 1305.93 L1220.11 1305.39 L1220.35 1304.86 L1220.59 1304.33 L1220.83 1303.81 L1221.07 1303.3 L1221.31 1302.79 L1221.55 1302.29 L1221.79 1301.79 L1222.03 1301.3 L1222.27 1300.82 L1222.51 1300.34 L1222.74 1299.87 L1222.98 1299.4 L1223.22 1298.94 L1223.46 1298.49 L1223.7 1298.04 L1223.94 1297.6 L1224.18 1297.16 L1224.42 1296.73 L1224.66 1296.3 L1224.9 1295.88 L1225.14 1295.47 L1225.37 1295.06 L1225.61 1294.65 L1225.85 1294.25 L1226.09 1293.86 L1226.33 1293.47 L1226.57 1293.08 L1226.81 1292.7 L1227.05 1292.33 L1227.29 1291.96 L1227.53 1291.59 L1228 1290.88 L1228.48 1290.18 L1228.96 1289.5 L1229.44 1288.84 L1229.92 1288.19 L1230.4 1287.57 L1230.87 1286.95 L1231.35 1286.36 L1231.83 1285.78 L1232.31 1285.22 L1232.79 1284.67 L1233.26 1284.14 L1233.74 1283.62 L1234.22 1283.11 L1234.7 1282.62 L1235.18 1282.14 L1235.66 1281.68 L1236.13 1281.23 L1236.61 1280.79 L1237.09 1280.36 L1237.57 1279.94 L1238.05 1279.54 L1238.53 1279.15 L1239 1278.77 L1239.48 1278.39 L1239.96 1278.03 L1240.44 1277.68 L1240.92 1277.34 L1241.39 1277.01 L1241.87 1276.69 L1242.35 1276.37 L1242.83 1276.07 L1243.31 1275.77 L1243.79 1275.48 L1244.26 1275.2 L1244.74 1274.93 L1245.22 1274.67 L1245.7 1274.41 L1246.18 1274.16 L1246.65 1273.91 L1247.13 1273.68 L1247.61 1273.45 L1248.09 1273.22 L1248.57 1273.01 L1249.05 1272.79 L1249.52 1272.59 L1250 1272.39 L1250.48 1272.2 L1250.96 1272.01 L1251.44 1271.83 L1251.91 1271.65 L1252.39 1271.48 L1252.87 1271.32 L1253.35 1271.16 L1253.83 1271 L1254.31 1270.86 L1254.78 1270.71 L1255.26 1270.58 L1255.74 1270.44 L1256.22 1270.32 L1256.94 1270.14 L1257.65 1269.97 L1258.37 1269.82 L1259.09 1269.68 L1259.8 1269.55 L1260.52 1269.43 L1261.24 1269.33 L1261.96 1269.24 L1262.67 1269.17 L1263.39 1269.11 L1264.11 1269.06 L1264.83 1269.02 L1265.54 1269 L1266.26 1269 L1266.98 1269 L1267.7 1269.02 L1268.41 1269.06 L1269.13 1269.1 L1269.85 1269.16 L1270.56 1269.23 L1271.28 1269.31 L1272 1269.4 L1272.72 1269.51 L1273.43 1269.62 L1274.15 1269.74 L1274.87 1269.88 L1275.59 1270.02 L1276.3 1270.17 L1277.02 1270.33 L1277.74 1270.49 L1278.45 1270.66 L1279.17 1270.84 L1279.89 1271.02 L1280.37 1271.14 L1280.85 1271.27 L1281.32 1271.39 L1281.8 1271.52 L1282.28 1271.65 L1282.76 1271.78 L1283.24 1271.91 L1283.71 1272.05 L1284.19 1272.18 L1284.67 1272.31 L1285.15 1272.45 L1285.63 1272.58 L1286.11 1272.72 L1286.58 1272.86 L1287.06 1272.99 L1287.54 1273.13 L1288.02 1273.27 L1288.5 1273.4 L1288.98 1273.54 L1289.45 1273.68 L1289.93 1273.81 L1290.41 1273.95 L1290.89 1274.09 L1291.37 1274.22 L1291.84 1274.36 L1292.32 1274.49 L1292.8 1274.63 L1293.28 1274.77 L1293.76 1274.9 L1294.24 1275.04 L1294.71 1275.17 L1295.19 1275.31 L1295.67 1275.44 L1296.15 1275.58 L1296.63 1275.71 L1297.1 1275.84 L1297.58 1275.98 L1298.06 1276.11 L1298.54 1276.25 L1299.02 1276.38 L1299.5 1276.52 L1299.97 1276.65 L1300.45 1276.79 L1300.93 1276.92 L1301.41 1277.05 L1301.89 1277.19 L1302.36 1277.33 L1302.84 1277.46 L1303.32 1277.6 L1303.8 1277.73 L1304.28 1277.87 L1304.76 1278.01 L1305.23 1278.14 L1305.71 1278.28 L1306.19 1278.42 L1306.67 1278.56 L1307.15 1278.7 L1307.62 1278.83 L1308.1 1278.97 L1308.58 1279.11 L1309.06 1279.25 L1309.54 1279.39 L1310.02 1279.53 L1310.49 1279.67 L1310.97 1279.81 L1311.45 1279.96 L1311.93 1280.1 L1312.41 1280.24 L1312.89 1280.38 L1313.36 1280.52 L1313.84 1280.66 L1314.32 1280.8 L1314.8 1280.94 L1315.28 1281.08 L1315.75 1281.23 L1316.23 1281.37 L1316.71 1281.51 L1317.19 1281.65 L1317.67 1281.79 L1318.15 1281.92 L1318.62 1282.06 L1319.1 1282.2 L1319.58 1282.34 L1320.06 1282.47 L1320.54 1282.61 L1321.01 1282.75 L1321.49 1282.88 L1321.97 1283.01 L1322.45 1283.15 L1322.93 1283.28 L1323.41 1283.41 L1323.88 1283.54 L1324.36 1283.66 L1324.84 1283.79 L1325.32 1283.92 L1325.8 1284.04 L1326.27 1284.17 L1326.75 1284.29 L1327.47 1284.47 L1328.19 1284.65 L1328.9 1284.82 L1329.62 1284.99 L1330.34 1285.16 L1331.06 1285.32 L1331.77 1285.48 L1332.49 1285.64 L1333.21 1285.8 L1333.93 1285.95 L1334.64 1286.1 L1335.36 1286.24 L1336.08 1286.38 L1336.8 1286.52 L1337.51 1286.65 L1338.23 1286.78 L1338.95 1286.91 L1339.66 1287.03 L1340.38 1287.15 L1341.1 1287.26 L1341.82 1287.38 L1342.53 1287.49 L1343.25 1287.59 L1343.97 1287.7 L1344.69 1287.8 L1345.4 1287.89 L1346.12 1287.99 L1346.84 1288.08 L1347.55 1288.17 L1348.27 1288.25 L1348.99 1288.34 L1349.71 1288.42 L1350.42 1288.5 L1351.14 1288.57 L1351.86 1288.65 L1352.58 1288.72 L1353.29 1288.79 L1354.01 1288.86 L1354.73 1288.92 L1355.44 1288.99 L1356.16 1289.05 L1356.88 1289.11 L1357.6 1289.17 L1358.31 1289.23 L1359.03 1289.29 L1359.75 1289.34 L1360.47 1289.39 L1361.18 1289.45 L1361.9 1289.5 L1362.62 1289.54 L1363.34 1289.59 L1364.05 1289.63 L1364.77 1289.68 L1365.49 1289.72 L1366.2 1289.76 L1366.92 1289.8 L1367.64 1289.84 L1368.36 1289.87 L1369.07 1289.9 L1369.79 1289.93 L1370.51 1289.96 L1371.23 1289.99 L1371.94 1290.02 L1372.66 1290.04 L1373.38 1290.07 L1374.09 1290.09 L1374.81 1290.11 L1375.53 1290.13 L1376.25 1290.14 L1376.96 1290.16 L1377.68 1290.17 L1378.4 1290.18 L1379.12 1290.19 L1379.83 1290.2 L1380.55 1290.21 L1381.27 1290.21 L1381.99 1290.22 L1382.7 1290.22 L1383.42 1290.23 L1384.14 1290.23 L1384.85 1290.23 L1385.57 1290.23 L1386.29 1290.23 L1387.01 1290.22 L1387.72 1290.22 L1388.44 1290.22 L1389.16 1290.21 L1389.88 1290.21 L1390.59 1290.2 L1391.31 1290.19 L1392.03 1290.19 L1392.74 1290.18 L1393.46 1290.17 L1394.18 1290.16 L1394.9 1290.15 L1395.61 1290.14 L1396.33 1290.13 L1397.05 1290.12 L1397.77 1290.11 L1398.48 1290.1 L1399.2 1290.09 L1399.92 1290.08 L1400.63 1290.06 L1401.35 1290.05 L1402.07 1290.04 L1402.79 1290.02 L1403.5 1290.01 L1404.22 1290 L1404.94 1289.98 L1405.66 1289.97 L1406.37 1289.96 L1407.09 1289.94 L1407.81 1289.93 L1408.53 1289.91 L1409.24 1289.9 L1409.96 1289.88 L1410.68 1289.87 L1411.39 1289.85 L1412.11 1289.83 L1412.83 1289.82 L1413.55 1289.8 L1414.26 1289.79 L1414.98 1289.77 L1415.7 1289.76 L1416.42 1289.74 L1417.13 1289.72 L1417.85 1289.71 L1418.57 1289.69 L1419.28 1289.67 L1420 1289.66 L1420.72 1289.64 L1421.44 1289.63 L1422.15 1289.61 L1422.87 1289.6 L1423.59 1289.58 L1424.31 1289.56 L1425.02 1289.55 L1425.74 1289.53 L1426.46 1289.52 L1427.17 1289.5 L1427.89 1289.49 L1428.61 1289.47 L1429.33 1289.46 L1430.04 1289.44 L1430.76 1289.43 L1431.48 1289.41 L1432.2 1289.4 L1432.91 1289.38 L1433.63 1289.37 L1434.35 1289.35 L1435.07 1289.34 L1435.78 1289.33 L1436.5 1289.31 L1437.22 1289.3 L1437.93 1289.29 L1438.65 1289.27 L1439.37 1289.26 L1440.09 1289.25 L1440.8 1289.23 L1441.52 1289.22 L1442.24 1289.21 L1442.96 1289.19 L1443.67 1289.18 L1444.39 1289.17 L1445.11 1289.16 L1445.82 1289.14 L1446.54 1289.13 L1447.26 1289.12 L1447.98 1289.11 L1448.69 1289.09 L1449.41 1289.08 L1450.13 1289.07 L1450.85 1289.06 L1451.56 1289.04 L1452.28 1289.03 L1453 1289.02 L1453.72 1289.01 L1454.43 1288.99 L1455.15 1288.98 L1455.87 1288.97 L1456.58 1288.96 L1457.3 1288.95 L1458.02 1288.93 L1458.74 1288.92 L1459.45 1288.91 L1460.17 1288.9 L1460.89 1288.88 L1461.61 1288.87 L1462.32 1288.86 L1463.04 1288.85 L1463.76 1288.84 L1464.47 1288.82 L1465.19 1288.81 L1465.91 1288.8 L1466.63 1288.79 L1467.34 1288.77 L1468.06 1288.76 L1468.78 1288.75 L1469.5 1288.74 L1470.21 1288.73 L1470.93 1288.71 L1471.65 1288.7 L1472.36 1288.69 L1473.08 1288.68 L1473.8 1288.66 L1474.52 1288.65 L1475.23 1288.64 L1475.95 1288.63 L1476.67 1288.62 L1477.39 1288.6 L1478.1 1288.59 L1478.82 1288.58 L1479.54 1288.57 L1480.26 1288.56 L1480.97 1288.54 L1481.69 1288.53 L1482.41 1288.52 L1483.12 1288.51 L1483.84 1288.5 L1484.56 1288.48 L1485.28 1288.47 L1485.99 1288.46 L1486.71 1288.45 L1487.43 1288.44 L1488.15 1288.42 L1488.86 1288.41 L1489.58 1288.4 L1490.3 1288.39 L1491.01 1288.38 L1491.73 1288.37 L1492.45 1288.35 L1493.17 1288.34 L1493.88 1288.33 L1494.6 1288.32 L1495.32 1288.31 L1496.04 1288.3 L1496.75 1288.28 L1497.47 1288.27 L1498.19 1288.26 L1498.9 1288.25 L1499.62 1288.24 L1500.34 1288.23 L1501.06 1288.22 L1501.77 1288.2 L1502.49 1288.19 L1503.21 1288.18 L1503.93 1288.17 L1504.64 1288.16 L1505.36 1288.15 L1506.08 1288.14 L1506.8 1288.13 L1507.51 1288.12 L1508.23 1288.1 L1508.95 1288.09 L1509.66 1288.08 L1510.38 1288.07 L1511.1 1288.06 L1511.82 1288.05 L1512.53 1288.04 L1513.25 1288.03 L1513.97 1288.02 L1514.69 1288.01 L1515.4 1288 L1516.12 1287.99 L1516.84 1287.98 L1517.55 1287.96 L1518.27 1287.95 L1518.99 1287.94 L1519.71 1287.93 L1520.42 1287.92 L1521.14 1287.91 L1521.86 1287.9 L1522.58 1287.89 L1523.29 1287.88 L1524.01 1287.87 L1524.73 1287.86 L1525.45 1287.85 L1526.16 1287.84 L1526.88 1287.83 L1527.6 1287.82 L1528.31 1287.81 L1529.03 1287.8 L1529.75 1287.79 L1530.47 1287.78 L1531.18 1287.77 L1531.9 1287.76 L1532.62 1287.75 L1533.34 1287.74 L1534.05 1287.74 L1534.77 1287.73 L1535.49 1287.72 L1536.2 1287.71 L1536.92 1287.7 L1537.64 1287.69 L1538.36 1287.68 L1539.07 1287.67 L1539.79 1287.66 L1540.51 1287.65 L1541.23 1287.64 L1541.94 1287.63 L1542.66 1287.62 L1543.38 1287.61 L1544.09 1287.6 L1544.81 1287.59 L1545.53 1287.59 L1546.25 1287.58 L1546.96 1287.57 L1547.68 1287.56 L1548.4 1287.55 L1549.12 1287.54 L1549.83 1287.53 L1550.55 1287.52 L1551.27 1287.51 L1551.99 1287.5 L1552.7 1287.49 L1553.42 1287.48 L1554.14 1287.47 L1554.85 1287.46 L1555.57 1287.46 L1556.29 1287.45 L1557.01 1287.44 L1557.72 1287.43 L1558.44 1287.42 L1559.16 1287.41 L1559.88 1287.4 L1560.59 1287.39 L1561.31 1287.38 L1562.03 1287.37 L1562.74 1287.36 L1563.46 1287.35 L1564.18 1287.34 L1564.9 1287.34 L1565.61 1287.33 L1566.33 1287.32 L1567.05 1287.31 L1567.77 1287.3 L1568.48 1287.29 L1569.2 1287.28 L1569.92 1287.27 L1570.63 1287.26 L1571.35 1287.25 L1572.07 1287.24 L1572.79 1287.23 L1573.5 1287.23 L1574.22 1287.22 L1574.94 1287.21 L1575.66 1287.2 L1576.37 1287.19 L1577.09 1287.18 L1577.81 1287.17 L1578.53 1287.16 L1579.24 1287.15 L1579.96 1287.15 L1580.68 1287.14 L1581.39 1287.13 L1582.11 1287.12 L1582.83 1287.11 L1583.55 1287.1 L1584.26 1287.09 L1584.98 1287.09 L1585.7 1287.08 L1586.42 1287.07 L1587.13 1287.06 L1587.85 1287.05 L1588.57 1287.04 L1589.28 1287.03 L1590 1287.03 L1590.72 1287.02 L1591.44 1287.01 L1592.15 1287 L1592.87 1286.99 L1593.59 1286.98 L1594.31 1286.98 L1595.02 1286.97 L1595.74 1286.96 L1596.46 1286.95 L1597.18 1286.94 L1597.89 1286.94 L1598.61 1286.93 L1599.33 1286.92 L1600.04 1286.91 L1600.76 1286.91 L1601.48 1286.9 L1602.2 1286.89 L1602.91 1286.88 L1603.63 1286.88 L1604.35 1286.87 L1605.07 1286.86 L1605.78 1286.85 L1606.5 1286.85 L1607.22 1286.84 L1607.93 1286.83 L1608.65 1286.82 L1609.37 1286.82 L1610.09 1286.81 L1610.8 1286.8 L1611.52 1286.8 L1612.24 1286.79 L1612.96 1286.78 L1613.67 1286.78 L1614.39 1286.77 L1615.11 1286.76 L1615.82 1286.76 L1616.54 1286.75 L1617.26 1286.74 L1617.98 1286.74 L1618.69 1286.73 L1619.41 1286.72 L1620.13 1286.72 L1620.85 1286.71 L1621.56 1286.71 L1622.28 1286.7 L1623 1286.69 L1623.72 1286.69 L1624.43 1286.68 L1625.15 1286.68 L1625.87 1286.67 L1626.58 1286.67 L1627.3 1286.66 L1628.02 1286.66 L1628.74 1286.65 L1629.45 1286.65 L1630.17 1286.64 L1630.89 1286.64 L1631.61 1286.63 L1632.32 1286.63 L1633.04 1286.62 L1633.76 1286.62 L1634.47 1286.61 L1635.19 1286.61 L1635.91 1286.6 L1636.63 1286.6 L1637.34 1286.59 L1638.06 1286.59 L1638.78 1286.59 L1639.5 1286.58 L1640.21 1286.58 L1640.93 1286.57 L1641.65 1286.57 L1642.36 1286.57 L1643.08 1286.56 L1643.8 1286.56 L1644.52 1286.56 L1645.23 1286.55 L1645.95 1286.55 L1646.67 1286.55 L1647.39 1286.54 L1648.1 1286.54 L1648.82 1286.54 L1649.54 1286.53 L1650.26 1286.53 L1650.97 1286.53 L1651.69 1286.52 L1652.41 1286.52 L1653.12 1286.52 L1653.84 1286.51 L1654.56 1286.51 L1655.28 1286.51 L1655.99 1286.5 L1656.71 1286.5 L1657.43 1286.5 L1658.15 1286.5 L1658.86 1286.49 L1659.58 1286.49 L1660.3 1286.49 L1661.01 1286.48 L1661.73 1286.48 L1662.45 1286.48 L1663.17 1286.48 L1663.88 1286.47 L1664.6 1286.47 L1665.32 1286.47 L1666.04 1286.47 L1666.75 1286.46 L1667.47 1286.46 L1668.19 1286.46 L1668.91 1286.45 L1669.62 1286.45 L1670.34 1286.45 L1671.06 1286.45 L1671.77 1286.44 L1672.49 1286.44 L1673.21 1286.44 L1673.93 1286.44 L1674.64 1286.43 L1675.36 1286.43 L1676.08 1286.43 L1676.8 1286.43 L1677.51 1286.42 L1678.23 1286.42 L1678.95 1286.42 L1679.66 1286.41 L1680.38 1286.41 L1681.1 1286.41 L1681.82 1286.41 L1682.53 1286.4 L1683.25 1286.4 L1683.97 1286.4 L1684.69 1286.4 L1685.4 1286.39 L1686.12 1286.39 L1686.84 1286.39 L1687.55 1286.39 L1688.27 1286.38 L1688.99 1286.38 L1689.71 1286.38 L1690.42 1286.38 L1691.14 1286.37 L1691.86 1286.37 L1692.58 1286.37 L1693.29 1286.37 L1694.01 1286.36 L1694.73 1286.36 L1695.45 1286.36 L1696.16 1286.36 L1696.88 1286.36 L1697.6 1286.35 L1698.31 1286.35 L1699.03 1286.35 L1699.75 1286.35 L1700.47 1286.34 L1701.18 1286.34 L1701.9 1286.34 L1702.62 1286.34 L1703.34 1286.33 L1704.05 1286.33 L1704.77 1286.33 L1705.49 1286.33 L1706.2 1286.32 L1706.92 1286.32 L1707.64 1286.32 L1708.36 1286.32 L1709.07 1286.32 L1709.79 1286.31 L1710.51 1286.31 L1711.23 1286.31 L1711.94 1286.31 L1712.66 1286.3 L1713.38 1286.3 L1714.09 1286.3 L1714.81 1286.3 L1715.53 1286.3 L1716.25 1286.29 L1716.96 1286.29 L1717.68 1286.29 L1718.4 1286.29 L1719.12 1286.29 L1719.83 1286.28 L1720.55 1286.28 L1721.27 1286.28 L1721.99 1286.28 L1722.7 1286.28 L1723.42 1286.27 L1724.14 1286.27 L1724.85 1286.27 L1725.57 1286.27 L1726.29 1286.27 L1727.01 1286.26 L1727.72 1286.26 L1728.44 1286.26 L1729.16 1286.26 L1729.88 1286.26 L1730.59 1286.25 L1731.31 1286.25 L1732.03 1286.25 L1732.74 1286.25 L1733.46 1286.25 L1734.18 1286.24 L1734.9 1286.24 L1735.61 1286.24 L1736.33 1286.24 L1737.05 1286.24 L1737.77 1286.24 L1738.48 1286.23 L1739.2 1286.23 L1739.92 1286.23 L1740.64 1286.23 L1741.35 1286.23 L1742.07 1286.23 L1742.79 1286.22 L1743.5 1286.22 L1744.22 1286.22 L1744.94 1286.22 L1745.66 1286.22 L1746.37 1286.22 L1747.09 1286.21 L1747.81 1286.21 L1748.53 1286.21 L1749.24 1286.21 L1749.96 1286.21 L1750.68 1286.21 L1751.39 1286.2 L1752.11 1286.2 L1752.83 1286.2 L1753.55 1286.2 L1754.26 1286.2 L1754.98 1286.2 L1755.7 1286.19 L1756.42 1286.19 L1757.13 1286.19 L1757.85 1286.19 L1758.57 1286.19 L1759.28 1286.19 L1760 1286.19 L1760.72 1286.18 L1761.44 1286.18 L1762.15 1286.18 L1762.87 1286.18 L1763.59 1286.18 L1764.31 1286.18 L1765.02 1286.18 L1765.74 1286.18 L1766.46 1286.17 L1767.18 1286.17 L1767.89 1286.17 L1768.61 1286.17 L1769.33 1286.17 L1770.04 1286.17 L1770.76 1286.17 L1771.48 1286.17 L1772.2 1286.16 L1772.91 1286.16 L1773.63 1286.16 L1774.35 1286.16 L1775.07 1286.16 L1775.78 1286.16 L1776.5 1286.16 L1777.22 1286.16 L1777.93 1286.16 L1778.65 1286.15 L1779.37 1286.15 L1780.09 1286.15 L1780.8 1286.15 L1781.52 1286.15 L1782.24 1286.15 L1782.96 1286.15 L1783.67 1286.15 L1784.39 1286.15 L1785.11 1286.15 L1785.82 1286.15 L1786.54 1286.14 L1787.26 1286.14 L1787.98 1286.14 L1788.69 1286.14 L1789.41 1286.14 L1790.13 1286.14 L1790.85 1286.14 L1791.56 1286.14 L1792.28 1286.14 L1793 1286.14 L1793.72 1286.14 L1794.43 1286.14 L1795.15 1286.14 L1795.87 1286.13 L1796.58 1286.13 L1797.3 1286.13 L1798.02 1286.13 L1798.74 1286.13 L1799.45 1286.13 L1800.17 1286.13 L1800.89 1286.13 L1801.61 1286.13 L1802.32 1286.13 L1803.04 1286.13 L1803.76 1286.13 L1804.47 1286.13 L1805.19 1286.13 L1805.91 1286.13 L1806.63 1286.13 L1807.34 1286.13 L1808.06 1286.13 L1808.78 1286.13 L1809.5 1286.12 L1810.21 1286.12 L1810.93 1286.12 L1811.65 1286.12 L1812.37 1286.12 L1813.08 1286.12 L1813.8 1286.12 L1814.52 1286.12 L1815.23 1286.12 L1815.95 1286.12 L1816.67 1286.12 L1817.39 1286.12 L1818.1 1286.12 L1818.82 1286.12 L1819.54 1286.12 L1820.26 1286.12 L1820.97 1286.12 L1821.69 1286.12 L1822.41 1286.12 L1823.12 1286.12 L1823.84 1286.12 L1824.32 1286.12" stroke="#edb120"/>
<path d="M963.56 1286.12 L964.28 1286.12 L964.99 1286.12 L965.71 1286.12 L966.43 1286.12 L967.15 1286.12 L967.86 1286.12 L968.58 1286.12 L969.3 1286.12 L970.02 1286.12 L970.73 1286.12 L971.45 1286.12 L972.17 1286.12 L972.88 1286.12 L973.6 1286.12 L974.32 1286.12 L975.04 1286.12 L975.75 1286.12 L976.47 1286.12 L977.19 1286.12 L977.91 1286.12 L978.62 1286.12 L979.34 1286.12 L980.06 1286.12 L980.78 1286.12 L981.49 1286.12 L982.21 1286.12 L982.93 1286.12 L983.64 1286.12 L984.36 1286.12 L985.08 1286.12 L985.8 1286.12 L986.51 1286.12 L987.23 1286.12 L987.95 1286.12 L988.67 1286.12 L989.38 1286.12 L990.1 1286.12 L990.82 1286.12 L991.53 1286.12 L992.25 1286.12 L992.97 1286.12 L993.69 1286.12 L994.4 1286.12 L995.12 1286.12 L995.84 1286.12 L996.56 1286.12 L997.27 1286.12 L997.99 1286.12 L998.71 1286.12 L999.43 1286.12 L1000.14 1286.12 L1000.86 1286.12 L1001.58 1286.12 L1002.29 1286.12 L1003.01 1286.12 L1003.73 1286.12 L1004.45 1286.12 L1005.16 1286.12 L1005.88 1286.12 L1006.6 1286.12 L1007.32 1286.12 L1008.03 1286.12 L1008.75 1286.12 L1009.47 1286.12 L1010.18 1286.12 L1010.9 1286.12 L1011.62 1286.12 L1012.34 1286.12 L1013.05 1286.12 L1013.77 1286.12 L1014.49 1286.12 L1015.21 1286.12 L1015.92 1286.12 L1016.64 1286.12 L1017.36 1286.12 L1018.07 1286.12 L1018.79 1286.12 L1019.51 1286.12 L1020.23 1286.12 L1020.94 1286.12 L1021.66 1286.12 L1022.38 1286.12 L1023.1 1286.12 L1023.81 1286.12 L1024.53 1286.12 L1025.25 1286.12 L1025.97 1286.12 L1026.68 1286.12 L1027.4 1286.12 L1028.12 1286.12 L1028.83 1286.12 L1029.55 1286.12 L1030.27 1286.12 L1030.99 1286.12 L1031.7 1286.12 L1032.42 1286.12 L1033.14 1286.12 L1033.86 1286.12 L1034.57 1286.12 L1035.29 1286.12 L1036.01 1286.12 L1036.72 1286.12 L1037.44 1286.12 L1038.16 1286.12 L1038.88 1286.12 L1039.59 1286.12 L1040.31 1286.12 L1041.03 1286.12 L1041.75 1286.12 L1042.46 1286.12 L1043.18 1286.12 L1043.9 1286.12 L1044.61 1286.12 L1045.33 1286.12 L1046.05 1286.12 L1046.77 1286.12 L1047.48 1286.12 L1048.2 1286.12 L1048.92 1286.12 L1049.64 1286.12 L1050.35 1286.12 L1051.07 1286.12 L1051.79 1286.12 L1052.51 1286.12 L1053.22 1286.12 L1053.94 1286.12 L1054.66 1286.12 L1055.37 1286.12 L1056.09 1286.12 L1056.81 1286.12 L1057.53 1286.12 L1058.24 1286.12 L1058.96 1286.12 L1059.44 1286.49 L1059.68 1286.87 L1059.92 1287.85 L1060.16 1288.84 L1060.4 1290.23 L1060.63 1291.62 L1060.87 1293.22 L1061.11 1294.81 L1061.35 1296.4 L1061.59 1298 L1061.83 1299.38 L1062.07 1300.77 L1062.31 1302.17 L1062.55 1303.56 L1062.79 1305.16 L1063.03 1306.75 L1063.26 1308.27 L1063.5 1309.78 L1063.74 1310.96 L1063.98 1312.14 L1064.22 1312.71 L1064.46 1313.28 L1064.94 1312.91 L1065.18 1312.16 L1065.42 1311.41 L1065.66 1310.23 L1065.89 1309.05 L1066.13 1307.58 L1066.37 1306.12 L1066.61 1304.5 L1066.85 1302.88 L1067.09 1301.24 L1067.33 1299.61 L1067.57 1298.1 L1067.81 1296.58 L1068.05 1295.02 L1068.29 1293.47 L1068.52 1291.69 L1068.76 1289.91 L1069 1288.02 L1069.24 1286.13 L1069.48 1284.26 L1069.72 1282.38 L1069.96 1280.63 L1070.2 1278.88 L1070.44 1277.37 L1070.68 1275.86 L1070.92 1274.71 L1071.15 1273.57 L1071.39 1272.63 L1071.63 1271.69 L1071.87 1270.78 L1072.11 1269.87 L1072.35 1269.03 L1072.59 1268.2 L1072.83 1267.5 L1073.07 1266.8 L1073.31 1266.29 L1073.55 1265.78 L1074.02 1265.25 L1074.74 1265.44 L1075.22 1265.96 L1075.7 1266.75 L1075.94 1267.21 L1076.18 1267.77 L1076.42 1268.34 L1076.65 1268.99 L1076.89 1269.63 L1077.13 1270.34 L1077.37 1271.05 L1077.61 1271.8 L1077.85 1272.55 L1078.09 1273.33 L1078.33 1274.1 L1078.57 1274.87 L1078.81 1275.64 L1079.05 1276.39 L1079.28 1277.14 L1079.52 1277.85 L1079.76 1278.56 L1080 1279.2 L1080.24 1279.84 L1080.48 1280.46 L1080.72 1281.08 L1080.96 1281.73 L1081.2 1282.37 L1081.44 1283.03 L1081.68 1283.69 L1081.91 1284.36 L1082.15 1285.02 L1082.39 1285.69 L1082.63 1286.35 L1082.87 1287.01 L1083.11 1287.67 L1083.35 1288.31 L1083.59 1288.95 L1083.83 1289.56 L1084.07 1290.17 L1084.31 1290.75 L1084.54 1291.33 L1084.78 1291.86 L1085.02 1292.4 L1085.26 1292.91 L1085.5 1293.42 L1085.74 1293.94 L1085.98 1294.45 L1086.22 1294.96 L1086.46 1295.47 L1086.7 1295.97 L1086.94 1296.47 L1087.17 1296.95 L1087.41 1297.43 L1087.65 1297.89 L1087.89 1298.34 L1088.13 1298.77 L1088.37 1299.2 L1088.61 1299.6 L1088.85 1299.99 L1089.33 1300.7 L1089.8 1301.31 L1090.28 1301.81 L1090.76 1302.26 L1091.24 1302.7 L1091.72 1303.13 L1092.2 1303.55 L1092.67 1303.95 L1093.15 1304.33 L1093.63 1304.7 L1094.11 1305.03 L1094.59 1305.34 L1095.07 1305.61 L1095.54 1305.85 L1096.02 1306.06 L1096.5 1306.22 L1097.22 1306.37 L1097.93 1306.41 L1098.65 1306.29 L1099.13 1306.13 L1099.61 1305.91 L1100.09 1305.62 L1100.56 1305.28 L1101.04 1304.9 L1101.52 1304.49 L1102 1304.03 L1102.48 1303.56 L1102.96 1303.06 L1103.43 1302.55 L1103.91 1302.04 L1104.39 1301.53 L1104.87 1301.02 L1105.35 1300.51 L1105.82 1299.96 L1106.3 1299.36 L1106.78 1298.73 L1107.26 1298.05 L1107.74 1297.34 L1107.98 1296.97 L1108.22 1296.6 L1108.45 1296.22 L1108.69 1295.83 L1108.93 1295.44 L1109.17 1295.04 L1109.41 1294.64 L1109.65 1294.24 L1109.89 1293.83 L1110.13 1293.42 L1110.37 1293.01 L1110.61 1292.59 L1110.85 1292.18 L1111.08 1291.77 L1111.32 1291.35 L1111.56 1290.92 L1111.8 1290.5 L1112.04 1290.05 L1112.28 1289.59 L1112.52 1289.12 L1112.76 1288.65 L1113 1288.16 L1113.24 1287.68 L1113.48 1287.18 L1113.71 1286.68 L1113.95 1286.17 L1114.19 1285.67 L1114.43 1285.15 L1114.67 1284.64 L1114.91 1284.13 L1115.15 1283.62 L1115.39 1283.12 L1115.63 1282.61 L1115.87 1282.11 L1116.11 1281.61 L1116.34 1281.12 L1116.58 1280.64 L1116.82 1280.17 L1117.06 1279.7 L1117.3 1279.25 L1117.54 1278.8 L1117.78 1278.36 L1118.02 1277.92 L1118.26 1277.48 L1118.5 1277.05 L1118.74 1276.61 L1118.98 1276.18 L1119.21 1275.75 L1119.45 1275.32 L1119.69 1274.89 L1119.93 1274.47 L1120.17 1274.05 L1120.41 1273.63 L1120.65 1273.22 L1120.89 1272.81 L1121.13 1272.41 L1121.37 1272 L1121.61 1271.61 L1121.84 1271.22 L1122.08 1270.84 L1122.32 1270.46 L1122.56 1270.09 L1122.8 1269.72 L1123.28 1269.01 L1123.76 1268.33 L1124.24 1267.67 L1124.71 1267.02 L1125.19 1266.37 L1125.67 1265.73 L1126.15 1265.11 L1126.63 1264.51 L1127.1 1263.92 L1127.58 1263.36 L1128.06 1262.82 L1128.54 1262.32 L1129.02 1261.85 L1129.5 1261.41 L1129.97 1261.01 L1130.45 1260.63 L1130.93 1260.24 L1131.41 1259.86 L1131.89 1259.47 L1132.36 1259.09 L1132.84 1258.71 L1133.32 1258.35 L1133.8 1258 L1134.28 1257.66 L1134.76 1257.34 L1135.23 1257.04 L1135.71 1256.77 L1136.19 1256.53 L1136.67 1256.31 L1137.15 1256.13 L1137.62 1255.98 L1138.34 1255.84 L1139.06 1255.78 L1139.78 1255.85 L1140.49 1256.01 L1140.97 1256.19 L1141.45 1256.39 L1141.93 1256.64 L1142.41 1256.91 L1142.88 1257.21 L1143.36 1257.53 L1143.84 1257.86 L1144.32 1258.21 L1144.8 1258.56 L1145.28 1258.92 L1145.75 1259.31 L1146.23 1259.77 L1146.71 1260.28 L1147.19 1260.86 L1147.67 1261.48 L1148.15 1262.15 L1148.62 1262.87 L1148.86 1263.24 L1149.1 1263.62 L1149.34 1264.01 L1149.58 1264.41 L1149.82 1264.81 L1150.06 1265.22 L1150.3 1265.64 L1150.54 1266.06 L1150.78 1266.49 L1151.01 1266.92 L1151.25 1267.35 L1151.49 1267.79 L1151.73 1268.23 L1151.97 1268.67 L1152.21 1269.11 L1152.45 1269.56 L1152.69 1270.02 L1152.93 1270.48 L1153.17 1270.96 L1153.41 1271.44 L1153.64 1271.95 L1153.88 1272.45 L1154.12 1272.98 L1154.36 1273.51 L1154.6 1274.06 L1154.84 1274.6 L1155.08 1275.17 L1155.32 1275.75 L1155.56 1276.34 L1155.8 1276.94 L1156.04 1277.55 L1156.27 1278.17 L1156.51 1278.81 L1156.75 1279.45 L1156.99 1280.12 L1157.23 1280.78 L1157.47 1281.47 L1157.71 1282.16 L1157.95 1282.87 L1158.19 1283.58 L1158.43 1284.31 L1158.67 1285.04 L1158.9 1285.79 L1159.14 1286.56 L1159.38 1287.38 L1159.62 1288.2 L1159.86 1289.06 L1160.1 1289.93 L1160.34 1290.85 L1160.58 1291.76 L1160.82 1292.71 L1161.06 1293.67 L1161.3 1294.65 L1161.53 1295.64 L1161.77 1296.65 L1162.01 1297.66 L1162.25 1298.69 L1162.49 1299.72 L1162.73 1300.77 L1162.97 1301.82 L1163.21 1302.87 L1163.45 1303.93 L1163.69 1304.99 L1163.93 1306.04 L1164.16 1307.1 L1164.4 1308.16 L1164.64 1309.22 L1164.88 1310.28 L1165.12 1311.36 L1165.36 1312.44 L1165.6 1313.54 L1165.84 1314.64 L1166.08 1315.75 L1166.32 1316.87 L1166.56 1318 L1166.8 1319.13 L1167.03 1320.28 L1167.27 1321.43 L1167.51 1322.59 L1167.75 1323.75 L1167.99 1324.92 L1168.23 1326.1 L1168.47 1327.29 L1168.71 1328.48 L1168.95 1329.69 L1169.19 1330.89 L1169.43 1332.11 L1169.66 1333.33 L1169.9 1334.56 L1170.14 1335.79 L1170.38 1337.05 L1170.62 1338.31 L1170.86 1339.58 L1171.1 1340.86 L1171.34 1342.15 L1171.58 1343.45 L1171.82 1344.76 L1172.06 1346.07 L1172.29 1347.39 L1172.53 1348.71 L1172.77 1350.05 L1173.01 1351.38 L1173.25 1352.72 L1173.49 1354.07 L1173.73 1355.42 L1173.97 1356.77 L1174.21 1358.12 L1174.45 1359.48 L1174.69 1360.83 L1174.92 1362.19 L1175.16 1363.55 L1175.4 1364.91 L1175.64 1366.27 L1175.88 1367.63 L1176.12 1368.99 L1176.36 1370.35 L1176.6 1371.71 L1176.84 1373.07 L1177.08 1374.42 L1177.32 1375.77 L1177.55 1377.13 L1177.79 1378.49 L1178.03 1379.88 L1178.27 1381.27 L1178.51 1382.69 L1178.75 1384.12 L1178.99 1385.58 L1179.23 1387.04 L1179.47 1388.52 L1179.71 1390 L1179.95 1391.5 L1180.18 1393 L1180.42 1394.51 L1180.66 1396.03 L1180.9 1397.55 L1181.14 1399.08 L1181.38 1400.62 L1181.62 1402.16 L1181.86 1403.71 L1182.1 1405.26 L1182.34 1406.81 L1182.58 1408.37 L1182.81 1409.93 L1183.05 1411.49 L1183.29 1413.05 L1183.53 1414.61 L1183.77 1416.18 L1184.01 1417.75 L1184.25 1419.31 L1184.49 1420.88 L1184.73 1422.45 L1184.97 1424.01 L1185.21 1425.58 L1185.44 1427.14 L1185.68 1428.7 L1185.92 1430.26 L1186.16 1431.82 L1186.4 1433.38 L1186.64 1434.93 L1186.88 1436.49 L1187.12 1438.04 L1187.36 1439.59 L1187.6 1441.13 L1187.84 1442.68 L1188.07 1444.21 L1188.31 1445.75 L1188.55 1447.29 L1188.79 1448.82 L1189.03 1450.36 L1189.27 1451.89 L1189.51 1453.42 L1189.75 1454.95 L1189.99 1456.49 L1190.23 1458.02 L1190.47 1459.55 L1190.7 1461.07 L1190.94 1462.6 L1191.18 1464.12 L1191.42 1465.65 L1191.66 1467.17 L1191.9 1468.69 L1192.14 1470.2 L1192.38 1471.71 L1192.62 1473.23 L1192.86 1474.73 L1193.1 1476.24 L1193.34 1477.74 L1193.57 1479.24 L1193.81 1480.74 L1194.05 1482.23 L1194.29 1483.72 L1194.53 1485.21 L1194.77 1486.69 L1195.01 1488.17 L1195.25 1489.65 L1195.49 1491.12 L1195.73 1492.59 L1195.97 1494.05 L1196.2 1495.51 L1196.44 1496.97 L1196.68 1498.42 L1196.92 1499.87 L1197.16 1501.31 L1197.4 1502.75 L1197.64 1504.18 L1197.88 1505.61 L1198.12 1507.04 L1198.36 1508.46 L1198.6 1509.88 L1198.83 1511.29 L1199.07 1512.7 L1199.31 1514.1 L1199.55 1515.5 L1199.79 1516.9 L1200.03 1518.29 L1200.27 1519.67 L1200.51 1521.05 L1200.75 1522.42 L1200.99 1523.79 L1201.23 1525.15 L1201.46 1526.51 L1201.7 1527.86 L1201.94 1529.21 L1202.18 1530.55 L1202.42 1531.89 L1202.66 1533.22 L1202.9 1534.54 L1203.14 1535.86 L1203.38 1537.18 L1203.62 1538.48 L1203.86 1539.78 L1204.09 1541.07 L1204.33 1542.36 L1204.57 1543.64 L1204.81 1544.91 L1205.05 1546.18 L1205.29 1547.43 L1205.53 1548.69 L1205.77 1549.93 L1206.01 1551.17 L1206.25 1552.4 L1206.49 1553.62 L1206.72 1554.84 L1206.96 1556.05 L1207.2 1557.25 L1207.44 1558.45 L1207.68 1559.64 L1207.92 1560.82 L1208.16 1561.99 L1208.4 1563.15 L1208.64 1564.31 L1208.88 1565.46 L1209.12 1566.61 L1209.35 1567.74 L1209.59 1568.87 L1209.83 1569.99 L1210.07 1571.1 L1210.31 1572.21 L1210.55 1573.3 L1210.79 1574.39 L1211.03 1575.47 L1211.27 1576.55 L1211.51 1577.62 L1211.75 1578.67 L1211.98 1579.72 L1212.22 1580.77 L1212.46 1581.8 L1212.7 1582.83 L1212.94 1583.85 L1213.18 1584.86 L1213.42 1585.87 L1213.66 1586.86 L1213.9 1587.85 L1214.14 1588.83 L1214.38 1589.8 L1214.62 1590.77 L1214.85 1591.72 L1215.09 1592.67 L1215.33 1593.61 L1215.57 1594.55 L1215.81 1595.47 L1216.05 1596.39 L1216.29 1597.3 L1216.53 1598.2 L1216.77 1599.1 L1217.01 1599.99 L1217.25 1600.86 L1217.48 1601.74 L1217.72 1602.6 L1217.96 1603.46 L1218.2 1604.3 L1218.44 1605.14 L1218.68 1605.98 L1218.92 1606.8 L1219.16 1607.62 L1219.4 1608.43 L1219.64 1609.23 L1219.88 1610.03 L1220.11 1610.81 L1220.35 1611.59 L1220.59 1612.36 L1220.83 1613.13 L1221.07 1613.88 L1221.31 1614.63 L1221.55 1615.37 L1221.79 1616.11 L1222.03 1616.84 L1222.27 1617.55 L1222.51 1618.27 L1222.74 1618.97 L1222.98 1619.67 L1223.22 1620.36 L1223.46 1621.04 L1223.7 1621.72 L1223.94 1622.38 L1224.18 1623.04 L1224.42 1623.7 L1224.66 1624.34 L1224.9 1624.98 L1225.14 1625.61 L1225.37 1626.24 L1225.61 1626.86 L1225.85 1627.47 L1226.09 1628.07 L1226.33 1628.67 L1226.57 1629.26 L1226.81 1629.84 L1227.05 1630.41 L1227.29 1630.98 L1227.53 1631.54 L1227.77 1632.1 L1228 1632.65 L1228.24 1633.19 L1228.48 1633.72 L1228.72 1634.25 L1228.96 1634.77 L1229.2 1635.28 L1229.44 1635.79 L1229.68 1636.29 L1229.92 1636.78 L1230.16 1637.27 L1230.4 1637.75 L1230.63 1638.23 L1230.87 1638.7 L1231.11 1639.16 L1231.35 1639.62 L1231.59 1640.07 L1231.83 1640.51 L1232.07 1640.95 L1232.31 1641.38 L1232.55 1641.81 L1232.79 1642.23 L1233.03 1642.64 L1233.26 1643.05 L1233.5 1643.46 L1233.74 1643.85 L1233.98 1644.24 L1234.22 1644.63 L1234.46 1645.01 L1234.7 1645.39 L1234.94 1645.76 L1235.18 1646.12 L1235.66 1646.83 L1236.13 1647.52 L1236.61 1648.18 L1237.09 1648.82 L1237.57 1649.43 L1238.05 1650.02 L1238.53 1650.59 L1239 1651.15 L1239.48 1651.69 L1239.96 1652.23 L1240.44 1652.75 L1240.92 1653.26 L1241.39 1653.75 L1241.87 1654.22 L1242.35 1654.66 L1242.83 1655.06 L1243.31 1655.42 L1243.79 1655.72 L1244.26 1655.96 L1244.74 1656.14 L1245.22 1656.28 L1245.94 1656.42 L1246.65 1656.48 L1247.37 1656.45 L1248.09 1656.34 L1248.81 1656.15 L1249.28 1655.99 L1249.76 1655.79 L1250.24 1655.56 L1250.72 1655.26 L1251.2 1654.86 L1251.68 1654.32 L1252.15 1653.65 L1252.39 1653.28 L1252.63 1652.86 L1252.87 1652.44 L1253.11 1651.97 L1253.35 1651.49 L1253.59 1650.97 L1253.83 1650.45 L1254.07 1649.89 L1254.31 1649.33 L1254.54 1648.73 L1254.78 1648.14 L1255.02 1647.51 L1255.26 1646.88 L1255.5 1646.23 L1255.74 1645.57 L1255.98 1644.9 L1256.22 1644.22 L1256.46 1643.53 L1256.7 1642.83 L1256.94 1642.13 L1257.17 1641.41 L1257.41 1640.69 L1257.65 1639.97 L1257.89 1639.24 L1258.13 1638.5 L1258.37 1637.72 L1258.61 1636.94 L1258.85 1636.13 L1259.09 1635.31 L1259.33 1634.47 L1259.57 1633.62 L1259.8 1632.75 L1260.04 1631.87 L1260.28 1630.98 L1260.52 1630.08 L1260.76 1629.17 L1261 1628.26 L1261.24 1627.34 L1261.48 1626.42 L1261.72 1625.49 L1261.96 1624.56 L1262.2 1623.63 L1262.43 1622.69 L1262.67 1621.75 L1262.91 1620.81 L1263.15 1619.87 L1263.39 1618.94 L1263.63 1617.99 L1263.87 1617.05 L1264.11 1616.11 L1264.35 1615.17 L1264.59 1614.23 L1264.83 1613.29 L1265.07 1612.35 L1265.3 1611.41 L1265.54 1610.48 L1265.78 1609.54 L1266.02 1608.6 L1266.26 1607.66 L1266.5 1606.72 L1266.74 1605.78 L1266.98 1604.84 L1267.22 1603.9 L1267.46 1602.96 L1267.7 1602.01 L1267.93 1601.07 L1268.17 1600.12 L1268.41 1599.17 L1268.65 1598.22 L1268.89 1597.26 L1269.13 1596.31 L1269.37 1595.35 L1269.61 1594.39 L1269.85 1593.42 L1270.09 1592.46 L1270.33 1591.5 L1270.56 1590.53 L1270.8 1589.56 L1271.04 1588.59 L1271.28 1587.63 L1271.52 1586.66 L1271.76 1585.69 L1272 1584.72 L1272.24 1583.75 L1272.48 1582.78 L1272.72 1581.81 L1272.96 1580.84 L1273.19 1579.87 L1273.43 1578.9 L1273.67 1577.93 L1273.91 1576.96 L1274.15 1575.99 L1274.39 1575.02 L1274.63 1574.05 L1274.87 1573.08 L1275.11 1572.12 L1275.35 1571.15 L1275.59 1570.19 L1275.82 1569.22 L1276.06 1568.26 L1276.3 1567.3 L1276.54 1566.34 L1276.78 1565.38 L1277.02 1564.43 L1277.26 1563.47 L1277.5 1562.52 L1277.74 1561.57 L1277.98 1560.62 L1278.22 1559.67 L1278.45 1558.72 L1278.69 1557.78 L1278.93 1556.84 L1279.17 1555.9 L1279.41 1554.96 L1279.65 1554.03 L1279.89 1553.09 L1280.13 1552.16 L1280.37 1551.24 L1280.61 1550.31 L1280.85 1549.39 L1281.08 1548.47 L1281.32 1547.55 L1281.56 1546.64 L1281.8 1545.72 L1282.04 1544.81 L1282.28 1543.91 L1282.52 1543 L1282.76 1542.1 L1283 1541.2 L1283.24 1540.31 L1283.48 1539.42 L1283.71 1538.53 L1283.95 1537.64 L1284.19 1536.76 L1284.43 1535.87 L1284.67 1535 L1284.91 1534.12 L1285.15 1533.25 L1285.39 1532.38 L1285.63 1531.51 L1285.87 1530.65 L1286.11 1529.79 L1286.35 1528.93 L1286.58 1528.07 L1286.82 1527.22 L1287.06 1526.37 L1287.3 1525.52 L1287.54 1524.68 L1287.78 1523.84 L1288.02 1523 L1288.26 1522.16 L1288.5 1521.32 L1288.74 1520.49 L1288.98 1519.66 L1289.21 1518.84 L1289.45 1518.01 L1289.69 1517.19 L1289.93 1516.37 L1290.17 1515.55 L1290.41 1514.74 L1290.65 1513.93 L1290.89 1513.12 L1291.13 1512.31 L1291.37 1511.5 L1291.61 1510.7 L1291.84 1509.9 L1292.08 1509.1 L1292.32 1508.3 L1292.56 1507.5 L1292.8 1506.71 L1293.04 1505.92 L1293.28 1505.12 L1293.52 1504.34 L1293.76 1503.55 L1294 1502.76 L1294.24 1501.98 L1294.47 1501.2 L1294.71 1500.41 L1294.95 1499.64 L1295.19 1498.86 L1295.43 1498.08 L1295.67 1497.3 L1295.91 1496.53 L1296.15 1495.76 L1296.39 1494.98 L1296.63 1494.21 L1296.87 1493.44 L1297.1 1492.68 L1297.34 1491.91 L1297.58 1491.14 L1297.82 1490.37 L1298.06 1489.61 L1298.3 1488.84 L1298.54 1488.08 L1298.78 1487.32 L1299.02 1486.56 L1299.26 1485.79 L1299.5 1485.03 L1299.73 1484.27 L1299.97 1483.51 L1300.21 1482.75 L1300.45 1481.99 L1300.69 1481.24 L1300.93 1480.48 L1301.17 1479.72 L1301.41 1478.96 L1301.65 1478.2 L1301.89 1477.45 L1302.13 1476.69 L1302.36 1475.93 L1302.6 1475.18 L1302.84 1474.42 L1303.08 1473.66 L1303.32 1472.91 L1303.56 1472.15 L1303.8 1471.4 L1304.04 1470.64 L1304.28 1469.89 L1304.52 1469.13 L1304.76 1468.38 L1304.99 1467.62 L1305.23 1466.86 L1305.47 1466.11 L1305.71 1465.35 L1305.95 1464.6 L1306.19 1463.84 L1306.43 1463.09 L1306.67 1462.33 L1306.91 1461.58 L1307.15 1460.82 L1307.39 1460.07 L1307.62 1459.31 L1307.86 1458.56 L1308.1 1457.8 L1308.34 1457.05 L1308.58 1456.29 L1308.82 1455.54 L1309.06 1454.78 L1309.3 1454.03 L1309.54 1453.27 L1309.78 1452.52 L1310.02 1451.77 L1310.26 1451.01 L1310.49 1450.26 L1310.73 1449.51 L1310.97 1448.75 L1311.21 1448 L1311.45 1447.25 L1311.69 1446.5 L1311.93 1445.75 L1312.17 1444.99 L1312.41 1444.24 L1312.65 1443.49 L1312.89 1442.74 L1313.12 1442 L1313.36 1441.25 L1313.6 1440.5 L1313.84 1439.75 L1314.08 1439.01 L1314.32 1438.26 L1314.56 1437.51 L1314.8 1436.77 L1315.04 1436.03 L1315.28 1435.28 L1315.52 1434.54 L1315.75 1433.8 L1315.99 1433.06 L1316.23 1432.32 L1316.47 1431.58 L1316.71 1430.85 L1316.95 1430.11 L1317.19 1429.38 L1317.43 1428.64 L1317.67 1427.91 L1317.91 1427.18 L1318.15 1426.45 L1318.38 1425.72 L1318.62 1424.99 L1318.86 1424.27 L1319.1 1423.54 L1319.34 1422.82 L1319.58 1422.1 L1319.82 1421.38 L1320.06 1420.66 L1320.3 1419.94 L1320.54 1419.23 L1320.78 1418.51 L1321.01 1417.8 L1321.25 1417.09 L1321.49 1416.38 L1321.73 1415.68 L1321.97 1414.97 L1322.21 1414.27 L1322.45 1413.57 L1322.69 1412.87 L1322.93 1412.17 L1323.17 1411.47 L1323.41 1410.78 L1323.64 1410.09 L1323.88 1409.4 L1324.12 1408.71 L1324.36 1408.03 L1324.6 1407.34 L1324.84 1406.66 L1325.08 1405.98 L1325.32 1405.31 L1325.56 1404.63 L1325.8 1403.96 L1326.04 1403.29 L1326.27 1402.62 L1326.51 1401.96 L1326.75 1401.29 L1326.99 1400.63 L1327.23 1399.97 L1327.47 1399.32 L1327.71 1398.67 L1327.95 1398.01 L1328.19 1397.37 L1328.43 1396.72 L1328.67 1396.08 L1328.9 1395.44 L1329.14 1394.8 L1329.38 1394.16 L1329.62 1393.53 L1329.86 1392.9 L1330.1 1392.27 L1330.34 1391.65 L1330.58 1391.02 L1330.82 1390.4 L1331.06 1389.79 L1331.3 1389.17 L1331.53 1388.56 L1331.77 1387.95 L1332.01 1387.34 L1332.25 1386.74 L1332.49 1386.14 L1332.73 1385.54 L1332.97 1384.94 L1333.21 1384.35 L1333.45 1383.76 L1333.69 1383.17 L1333.93 1382.58 L1334.16 1382 L1334.4 1381.42 L1334.64 1380.84 L1334.88 1380.27 L1335.12 1379.69 L1335.36 1379.12 L1335.6 1378.56 L1335.84 1377.99 L1336.08 1377.43 L1336.32 1376.87 L1336.56 1376.31 L1336.8 1375.76 L1337.03 1375.2 L1337.27 1374.65 L1337.51 1374.11 L1337.75 1373.56 L1337.99 1373.02 L1338.23 1372.48 L1338.47 1371.94 L1338.71 1371.4 L1338.95 1370.87 L1339.19 1370.34 L1339.43 1369.81 L1339.66 1369.28 L1339.9 1368.76 L1340.14 1368.24 L1340.38 1367.72 L1340.62 1367.2 L1340.86 1366.69 L1341.1 1366.17 L1341.34 1365.66 L1341.58 1365.15 L1341.82 1364.64 L1342.06 1364.14 L1342.29 1363.64 L1342.53 1363.14 L1342.77 1362.64 L1343.01 1362.14 L1343.25 1361.64 L1343.49 1361.15 L1343.73 1360.66 L1343.97 1360.17 L1344.21 1359.68 L1344.45 1359.2 L1344.69 1358.71 L1344.92 1358.23 L1345.16 1357.75 L1345.4 1357.27 L1345.64 1356.8 L1345.88 1356.32 L1346.12 1355.85 L1346.36 1355.38 L1346.6 1354.91 L1346.84 1354.44 L1347.08 1353.98 L1347.32 1353.52 L1347.55 1353.05 L1347.79 1352.59 L1348.03 1352.14 L1348.27 1351.68 L1348.51 1351.22 L1348.75 1350.77 L1348.99 1350.32 L1349.23 1349.87 L1349.47 1349.42 L1349.71 1348.98 L1349.95 1348.53 L1350.18 1348.09 L1350.42 1347.65 L1350.66 1347.21 L1350.9 1346.77 L1351.14 1346.34 L1351.38 1345.91 L1351.62 1345.47 L1351.86 1345.04 L1352.1 1344.62 L1352.34 1344.19 L1352.58 1343.77 L1352.81 1343.34 L1353.05 1342.92 L1353.29 1342.51 L1353.53 1342.09 L1353.77 1341.68 L1354.01 1341.26 L1354.25 1340.85 L1354.49 1340.44 L1354.73 1340.04 L1354.97 1339.63 L1355.21 1339.23 L1355.44 1338.83 L1355.68 1338.43 L1355.92 1338.03 L1356.16 1337.64 L1356.4 1337.24 L1356.64 1336.85 L1356.88 1336.47 L1357.12 1336.08 L1357.36 1335.69 L1357.6 1335.31 L1357.84 1334.93 L1358.08 1334.55 L1358.31 1334.18 L1358.55 1333.8 L1358.79 1333.43 L1359.03 1333.06 L1359.27 1332.69 L1359.51 1332.32 L1359.75 1331.96 L1359.99 1331.6 L1360.47 1330.88 L1360.94 1330.17 L1361.42 1329.47 L1361.9 1328.77 L1362.38 1328.09 L1362.86 1327.41 L1363.34 1326.74 L1363.81 1326.08 L1364.29 1325.42 L1364.77 1324.78 L1365.25 1324.14 L1365.73 1323.51 L1366.2 1322.88 L1366.68 1322.27 L1367.16 1321.66 L1367.64 1321.05 L1368.12 1320.46 L1368.6 1319.87 L1369.07 1319.29 L1369.55 1318.71 L1370.03 1318.14 L1370.51 1317.58 L1370.99 1317.02 L1371.46 1316.47 L1371.94 1315.93 L1372.42 1315.39 L1372.9 1314.86 L1373.38 1314.34 L1373.86 1313.82 L1374.33 1313.3 L1374.81 1312.79 L1375.29 1312.29 L1375.77 1311.8 L1376.25 1311.31 L1376.72 1310.82 L1377.2 1310.34 L1377.68 1309.87 L1378.16 1309.4 L1378.64 1308.93 L1379.12 1308.48 L1379.59 1308.03 L1380.07 1307.58 L1380.55 1307.14 L1381.03 1306.7 L1381.51 1306.27 L1381.99 1305.85 L1382.46 1305.43 L1382.94 1305.02 L1383.42 1304.61 L1383.9 1304.21 L1384.38 1303.81 L1384.85 1303.42 L1385.33 1303.03 L1385.81 1302.65 L1386.29 1302.27 L1386.77 1301.9 L1387.25 1301.54 L1387.72 1301.18 L1388.2 1300.82 L1388.68 1300.47 L1389.16 1300.12 L1389.64 1299.78 L1390.11 1299.45 L1390.59 1299.11 L1391.07 1298.79 L1391.55 1298.46 L1392.03 1298.14 L1392.51 1297.83 L1392.98 1297.52 L1393.46 1297.21 L1393.94 1296.91 L1394.42 1296.61 L1394.9 1296.31 L1395.37 1296.02 L1395.85 1295.73 L1396.33 1295.44 L1396.81 1295.16 L1397.29 1294.88 L1397.77 1294.6 L1398.24 1294.32 L1398.72 1294.05 L1399.2 1293.78 L1399.68 1293.51 L1400.16 1293.24 L1400.63 1292.98 L1401.11 1292.71 L1401.59 1292.45 L1402.07 1292.2 L1402.55 1291.94 L1403.03 1291.68 L1403.5 1291.43 L1403.98 1291.18 L1404.46 1290.93 L1404.94 1290.68 L1405.42 1290.44 L1405.89 1290.19 L1406.37 1289.95 L1406.85 1289.71 L1407.33 1289.47 L1407.81 1289.23 L1408.29 1289 L1408.76 1288.76 L1409.24 1288.53 L1409.72 1288.3 L1410.2 1288.08 L1410.68 1287.85 L1411.16 1287.63 L1411.63 1287.41 L1412.11 1287.19 L1412.59 1286.97 L1413.07 1286.76 L1413.55 1286.54 L1414.02 1286.34 L1414.5 1286.13 L1414.98 1285.92 L1415.46 1285.72 L1415.94 1285.52 L1416.42 1285.33 L1416.89 1285.13 L1417.37 1284.94 L1417.85 1284.76 L1418.33 1284.57 L1418.81 1284.39 L1419.28 1284.21 L1419.76 1284.03 L1420.24 1283.85 L1420.72 1283.68 L1421.2 1283.51 L1421.68 1283.35 L1422.15 1283.18 L1422.63 1283.02 L1423.11 1282.86 L1423.59 1282.7 L1424.07 1282.55 L1424.54 1282.39 L1425.02 1282.24 L1425.5 1282.1 L1425.98 1281.95 L1426.46 1281.81 L1426.94 1281.66 L1427.41 1281.52 L1427.89 1281.38 L1428.37 1281.25 L1428.85 1281.11 L1429.33 1280.98 L1429.81 1280.85 L1430.28 1280.72 L1430.76 1280.59 L1431.24 1280.46 L1431.72 1280.34 L1432.2 1280.21 L1432.67 1280.09 L1433.39 1279.91 L1434.11 1279.73 L1434.83 1279.55 L1435.54 1279.38 L1436.26 1279.21 L1436.98 1279.04 L1437.7 1278.87 L1438.41 1278.71 L1439.13 1278.55 L1439.85 1278.39 L1440.56 1278.24 L1441.28 1278.09 L1442 1277.94 L1442.72 1277.8 L1443.43 1277.66 L1444.15 1277.52 L1444.87 1277.38 L1445.59 1277.25 L1446.3 1277.12 L1447.02 1277 L1447.74 1276.88 L1448.45 1276.76 L1449.17 1276.65 L1449.89 1276.54 L1450.61 1276.43 L1451.32 1276.33 L1452.04 1276.23 L1452.76 1276.13 L1453.48 1276.04 L1454.19 1275.95 L1454.91 1275.86 L1455.63 1275.78 L1456.35 1275.7 L1457.06 1275.62 L1457.78 1275.55 L1458.5 1275.48 L1459.21 1275.41 L1459.93 1275.34 L1460.65 1275.28 L1461.37 1275.22 L1462.08 1275.16 L1462.8 1275.11 L1463.52 1275.06 L1464.24 1275.01 L1464.95 1274.96 L1465.67 1274.91 L1466.39 1274.87 L1467.1 1274.82 L1467.82 1274.78 L1468.54 1274.75 L1469.26 1274.71 L1469.97 1274.67 L1470.69 1274.64 L1471.41 1274.61 L1472.13 1274.57 L1472.84 1274.54 L1473.56 1274.52 L1474.28 1274.49 L1474.99 1274.46 L1475.71 1274.44 L1476.43 1274.41 L1477.15 1274.39 L1477.86 1274.37 L1478.58 1274.34 L1479.3 1274.32 L1480.02 1274.3 L1480.73 1274.28 L1481.45 1274.27 L1482.17 1274.25 L1482.89 1274.23 L1483.6 1274.22 L1484.32 1274.2 L1485.04 1274.19 L1485.75 1274.17 L1486.47 1274.16 L1487.19 1274.15 L1487.91 1274.13 L1488.62 1274.12 L1489.34 1274.11 L1490.06 1274.1 L1490.78 1274.1 L1491.49 1274.09 L1492.21 1274.08 L1492.93 1274.07 L1493.64 1274.07 L1494.36 1274.06 L1495.08 1274.06 L1495.8 1274.06 L1496.51 1274.06 L1497.23 1274.06 L1497.95 1274.06 L1498.67 1274.06 L1499.38 1274.06 L1500.1 1274.06 L1500.82 1274.07 L1501.54 1274.07 L1502.25 1274.08 L1502.97 1274.08 L1503.69 1274.09 L1504.4 1274.1 L1505.12 1274.11 L1505.84 1274.12 L1506.56 1274.13 L1507.27 1274.14 L1507.99 1274.15 L1508.71 1274.17 L1509.43 1274.18 L1510.14 1274.2 L1510.86 1274.21 L1511.58 1274.23 L1512.29 1274.25 L1513.01 1274.27 L1513.73 1274.29 L1514.45 1274.31 L1515.16 1274.33 L1515.88 1274.35 L1516.6 1274.37 L1517.32 1274.39 L1518.03 1274.41 L1518.75 1274.44 L1519.47 1274.46 L1520.18 1274.49 L1520.9 1274.51 L1521.62 1274.54 L1522.34 1274.56 L1523.05 1274.59 L1523.77 1274.61 L1524.49 1274.64 L1525.21 1274.67 L1525.92 1274.69 L1526.64 1274.72 L1527.36 1274.75 L1528.08 1274.77 L1528.79 1274.8 L1529.51 1274.83 L1530.23 1274.86 L1530.94 1274.89 L1531.66 1274.91 L1532.38 1274.94 L1533.1 1274.97 L1533.81 1275 L1534.53 1275.03 L1535.25 1275.06 L1535.97 1275.09 L1536.68 1275.12 L1537.4 1275.15 L1538.12 1275.18 L1538.83 1275.21 L1539.55 1275.24 L1540.27 1275.27 L1540.99 1275.3 L1541.7 1275.33 L1542.42 1275.36 L1543.14 1275.39 L1543.86 1275.42 L1544.57 1275.45 L1545.29 1275.49 L1546.01 1275.52 L1546.72 1275.55 L1547.44 1275.59 L1548.16 1275.62 L1548.88 1275.65 L1549.59 1275.69 L1550.31 1275.72 L1551.03 1275.76 L1551.75 1275.79 L1552.46 1275.83 L1553.18 1275.86 L1553.9 1275.9 L1554.62 1275.93 L1555.33 1275.97 L1556.05 1276.01 L1556.77 1276.04 L1557.48 1276.08 L1558.2 1276.12 L1558.92 1276.16 L1559.64 1276.19 L1560.35 1276.23 L1561.07 1276.27 L1561.79 1276.31 L1562.51 1276.35 L1563.22 1276.38 L1563.94 1276.42 L1564.66 1276.46 L1565.37 1276.5 L1566.09 1276.54 L1566.81 1276.58 L1567.53 1276.62 L1568.24 1276.66 L1568.96 1276.7 L1569.68 1276.74 L1570.4 1276.78 L1571.11 1276.82 L1571.83 1276.86 L1572.55 1276.9 L1573.27 1276.94 L1573.98 1276.98 L1574.7 1277.02 L1575.42 1277.05 L1576.13 1277.09 L1576.85 1277.13 L1577.57 1277.17 L1578.29 1277.21 L1579 1277.25 L1579.72 1277.29 L1580.44 1277.33 L1581.16 1277.37 L1581.87 1277.41 L1582.59 1277.45 L1583.31 1277.49 L1584.02 1277.53 L1584.74 1277.57 L1585.46 1277.61 L1586.18 1277.65 L1586.89 1277.69 L1587.61 1277.72 L1588.33 1277.76 L1589.05 1277.8 L1589.76 1277.84 L1590.48 1277.88 L1591.2 1277.92 L1591.91 1277.96 L1592.63 1278 L1593.35 1278.04 L1594.07 1278.08 L1594.78 1278.12 L1595.5 1278.16 L1596.22 1278.2 L1596.94 1278.24 L1597.65 1278.28 L1598.37 1278.32 L1599.09 1278.35 L1599.81 1278.39 L1600.52 1278.43 L1601.24 1278.47 L1601.96 1278.51 L1602.67 1278.55 L1603.39 1278.6 L1604.11 1278.64 L1604.83 1278.68 L1605.54 1278.72 L1606.26 1278.76 L1606.98 1278.8 L1607.7 1278.84 L1608.41 1278.88 L1609.13 1278.92 L1609.85 1278.96 L1610.56 1279 L1611.28 1279.04 L1612 1279.08 L1612.72 1279.12 L1613.43 1279.16 L1614.15 1279.2 L1614.87 1279.24 L1615.59 1279.28 L1616.3 1279.32 L1617.02 1279.36 L1617.74 1279.4 L1618.45 1279.44 L1619.17 1279.48 L1619.89 1279.52 L1620.61 1279.56 L1621.32 1279.6 L1622.04 1279.64 L1622.76 1279.67 L1623.48 1279.71 L1624.19 1279.75 L1624.91 1279.79 L1625.63 1279.83 L1626.35 1279.87 L1627.06 1279.9 L1627.78 1279.94 L1628.5 1279.98 L1629.21 1280.02 L1629.93 1280.05 L1630.65 1280.09 L1631.37 1280.13 L1632.08 1280.16 L1632.8 1280.2 L1633.52 1280.23 L1634.24 1280.27 L1634.95 1280.3 L1635.67 1280.34 L1636.39 1280.37 L1637.1 1280.41 L1637.82 1280.44 L1638.54 1280.48 L1639.26 1280.51 L1639.97 1280.54 L1640.69 1280.58 L1641.41 1280.61 L1642.13 1280.64 L1642.84 1280.67 L1643.56 1280.7 L1644.28 1280.74 L1645 1280.77 L1645.71 1280.8 L1646.43 1280.83 L1647.15 1280.86 L1647.86 1280.89 L1648.58 1280.92 L1649.3 1280.95 L1650.02 1280.98 L1650.73 1281.01 L1651.45 1281.04 L1652.17 1281.07 L1652.89 1281.09 L1653.6 1281.12 L1654.32 1281.15 L1655.04 1281.18 L1655.75 1281.21 L1656.47 1281.23 L1657.19 1281.26 L1657.91 1281.29 L1658.62 1281.31 L1659.34 1281.34 L1660.06 1281.37 L1660.78 1281.39 L1661.49 1281.42 L1662.21 1281.45 L1662.93 1281.47 L1663.64 1281.5 L1664.36 1281.53 L1665.08 1281.55 L1665.8 1281.58 L1666.51 1281.6 L1667.23 1281.63 L1667.95 1281.65 L1668.67 1281.68 L1669.38 1281.7 L1670.1 1281.73 L1670.82 1281.75 L1671.54 1281.78 L1672.25 1281.8 L1672.97 1281.83 L1673.69 1281.85 L1674.4 1281.87 L1675.12 1281.9 L1675.84 1281.92 L1676.56 1281.95 L1677.27 1281.97 L1677.99 1281.99 L1678.71 1282.02 L1679.43 1282.04 L1680.14 1282.06 L1680.86 1282.09 L1681.58 1282.11 L1682.29 1282.13 L1683.01 1282.16 L1683.73 1282.18 L1684.45 1282.2 L1685.16 1282.23 L1685.88 1282.25 L1686.6 1282.27 L1687.32 1282.29 L1688.03 1282.32 L1688.75 1282.34 L1689.47 1282.36 L1690.18 1282.38 L1690.9 1282.4 L1691.62 1282.43 L1692.34 1282.45 L1693.05 1282.47 L1693.77 1282.49 L1694.49 1282.51 L1695.21 1282.54 L1695.92 1282.56 L1696.64 1282.58 L1697.36 1282.6 L1698.08 1282.62 L1698.79 1282.64 L1699.51 1282.66 L1700.23 1282.69 L1700.94 1282.71 L1701.66 1282.73 L1702.38 1282.75 L1703.1 1282.77 L1703.81 1282.79 L1704.53 1282.81 L1705.25 1282.83 L1705.97 1282.85 L1706.68 1282.88 L1707.4 1282.9 L1708.12 1282.92 L1708.83 1282.94 L1709.55 1282.96 L1710.27 1282.98 L1710.99 1283 L1711.7 1283.02 L1712.42 1283.04 L1713.14 1283.06 L1713.86 1283.08 L1714.57 1283.1 L1715.29 1283.12 L1716.01 1283.14 L1716.72 1283.16 L1717.44 1283.19 L1718.16 1283.21 L1718.88 1283.23 L1719.59 1283.25 L1720.31 1283.27 L1721.03 1283.29 L1721.75 1283.31 L1722.46 1283.33 L1723.18 1283.35 L1723.9 1283.37 L1724.62 1283.39 L1725.33 1283.41 L1726.05 1283.43 L1726.77 1283.45 L1727.48 1283.47 L1728.2 1283.49 L1728.92 1283.51 L1729.64 1283.53 L1730.35 1283.55 L1731.07 1283.57 L1731.79 1283.59 L1732.51 1283.61 L1733.22 1283.63 L1733.94 1283.65 L1734.66 1283.67 L1735.37 1283.69 L1736.09 1283.71 L1736.81 1283.73 L1737.53 1283.75 L1738.24 1283.77 L1738.96 1283.79 L1739.68 1283.81 L1740.4 1283.83 L1741.11 1283.85 L1741.83 1283.87 L1742.55 1283.89 L1743.27 1283.91 L1743.98 1283.93 L1744.7 1283.95 L1745.42 1283.97 L1746.13 1283.99 L1746.85 1284.01 L1747.57 1284.03 L1748.29 1284.05 L1749 1284.07 L1749.72 1284.09 L1750.44 1284.11 L1751.16 1284.12 L1751.87 1284.14 L1752.59 1284.16 L1753.31 1284.18 L1754.02 1284.2 L1754.74 1284.22 L1755.46 1284.24 L1756.18 1284.26 L1756.89 1284.28 L1757.61 1284.3 L1758.33 1284.32 L1759.05 1284.34 L1759.76 1284.35 L1760.48 1284.37 L1761.2 1284.39 L1761.91 1284.41 L1762.63 1284.43 L1763.35 1284.45 L1764.07 1284.47 L1764.78 1284.49 L1765.5 1284.51 L1766.22 1284.52 L1766.94 1284.54 L1767.65 1284.56 L1768.37 1284.58 L1769.09 1284.6 L1769.81 1284.62 L1770.52 1284.64 L1771.24 1284.65 L1771.96 1284.67 L1772.67 1284.69 L1773.39 1284.71 L1774.11 1284.73 L1774.83 1284.75 L1775.54 1284.76 L1776.26 1284.78 L1776.98 1284.8 L1777.7 1284.82 L1778.41 1284.84 L1779.13 1284.85 L1779.85 1284.87 L1780.56 1284.89 L1781.28 1284.91 L1782 1284.93 L1782.72 1284.94 L1783.43 1284.96 L1784.15 1284.98 L1784.87 1285 L1785.59 1285.01 L1786.3 1285.03 L1787.02 1285.05 L1787.74 1285.07 L1788.45 1285.09 L1789.17 1285.1 L1789.89 1285.12 L1790.61 1285.14 L1791.32 1285.15 L1792.04 1285.17 L1792.76 1285.19 L1793.48 1285.21 L1794.19 1285.22 L1794.91 1285.24 L1795.63 1285.26 L1796.35 1285.28 L1797.06 1285.29 L1797.78 1285.31 L1798.5 1285.33 L1799.21 1285.34 L1799.93 1285.36 L1800.65 1285.38 L1801.37 1285.39 L1802.08 1285.41 L1802.8 1285.43 L1803.52 1285.44 L1804.24 1285.46 L1804.95 1285.48 L1805.67 1285.49 L1806.39 1285.51 L1807.1 1285.52 L1807.82 1285.54 L1808.54 1285.56 L1809.26 1285.57 L1809.97 1285.59 L1810.69 1285.6 L1811.41 1285.62 L1812.13 1285.63 L1812.84 1285.65 L1813.56 1285.66 L1814.28 1285.68 L1815 1285.69 L1815.71 1285.71 L1816.43 1285.72 L1817.15 1285.73 L1817.86 1285.74 L1818.58 1285.76 L1819.3 1285.77 L1820.02 1285.78 L1820.73 1285.79 L1821.45 1285.8 L1822.17 1285.81 L1822.89 1285.82 L1823.6 1285.83 L1824.32 1285.84 L1824.32 1285.84" stroke="#7e2f8e"/>
<path d="M963.56 1286.12 L964.28 1286.12 L964.99 1286.12 L965.71 1286.12 L966.43 1286.12 L967.15 1286.12 L967.86 1286.12 L968.58 1286.12 L969.3 1286.12 L970.02 1286.12 L970.73 1286.12 L971.45 1286.12 L972.17 1286.12 L972.88 1286.12 L973.6 1286.12 L974.32 1286.12 L975.04 1286.12 L975.75 1286.12 L976.47 1286.12 L977.19 1286.12 L977.91 1286.12 L978.62 1286.12 L979.34 1286.12 L980.06 1286.12 L980.78 1286.12 L981.49 1286.12 L982.21 1286.12 L982.93 1286.12 L983.64 1286.12 L984.36 1286.12 L985.08 1286.12 L985.8 1286.12 L986.51 1286.12 L987.23 1286.12 L987.95 1286.12 L988.67 1286.12 L989.38 1286.12 L990.1 1286.12 L990.82 1286.12 L991.53 1286.12 L992.25 1286.12 L992.97 1286.12 L993.69 1286.12 L994.4 1286.12 L995.12 1286.12 L995.84 1286.12 L996.56 1286.12 L997.27 1286.12 L997.99 1286.12 L998.71 1286.12 L999.43 1286.12 L1000.14 1286.12 L1000.86 1286.12 L1001.58 1286.12 L1002.29 1286.12 L1003.01 1286.12 L1003.73 1286.12 L1004.45 1286.12 L1005.16 1286.12 L1005.88 1286.12 L1006.6 1286.12 L1007.32 1286.12 L1008.03 1286.12 L1008.75 1286.12 L1009.47 1286.12 L1010.18 1286.12 L1010.9 1286.12 L1011.62 1286.12 L1012.34 1286.12 L1013.05 1286.12 L1013.77 1286.12 L1014.49 1286.12 L1015.21 1286.12 L1015.92 1286.12 L1016.64 1286.12 L1017.36 1286.12 L1018.07 1286.12 L1018.79 1286.12 L1019.51 1286.12 L1020.23 1286.12 L1020.94 1286.12 L1021.66 1286.12 L1022.38 1286.12 L1023.1 1286.12 L1023.81 1286.12 L1024.53 1286.12 L1025.25 1286.12 L1025.97 1286.12 L1026.68 1286.12 L1027.4 1286.12 L1028.12 1286.12 L1028.83 1286.12 L1029.55 1286.12 L1030.27 1286.12 L1030.99 1286.12 L1031.7 1286.12 L1032.42 1286.12 L1033.14 1286.12 L1033.86 1286.12 L1034.57 1286.12 L1035.29 1286.12 L1036.01 1286.12 L1036.72 1286.12 L1037.44 1286.12 L1038.16 1286.12 L1038.88 1286.12 L1039.59 1286.12 L1040.31 1286.12 L1041.03 1286.12 L1041.75 1286.12 L1042.46 1286.12 L1043.18 1286.12 L1043.9 1286.12 L1044.61 1286.12 L1045.33 1286.12 L1046.05 1286.12 L1046.77 1286.12 L1047.48 1286.12 L1048.2 1286.12 L1048.92 1286.12 L1049.64 1286.12 L1050.35 1286.12 L1051.07 1286.12 L1051.79 1286.12 L1052.51 1286.12 L1053.22 1286.12 L1053.94 1286.12 L1054.66 1286.12 L1055.37 1286.12 L1056.09 1286.12 L1056.81 1286.12 L1057.53 1286.12 L1058.24 1286.12 L1058.96 1286.12 L1059.68 1286.14 L1060.4 1286.24 L1061.11 1286.41 L1061.59 1286.57 L1062.07 1286.75 L1062.55 1286.95 L1063.03 1287.17 L1063.5 1287.61 L1063.74 1288.02 L1063.98 1288.42 L1064.22 1288.95 L1064.46 1289.47 L1064.7 1290.07 L1064.94 1290.66 L1065.18 1291.26 L1065.42 1291.87 L1065.66 1292.43 L1065.89 1292.99 L1066.13 1293.44 L1066.37 1293.9 L1066.85 1294.49 L1067.33 1294.88 L1067.81 1295.25 L1068.29 1295.57 L1068.76 1295.83 L1069.24 1296 L1069.96 1296.03 L1070.68 1295.84 L1071.15 1295.58 L1071.63 1295.25 L1072.11 1294.85 L1072.59 1294.4 L1073.07 1293.92 L1073.55 1293.41 L1074.02 1292.9 L1074.5 1292.4 L1074.98 1291.84 L1075.46 1291.15 L1075.7 1290.77 L1075.94 1290.38 L1076.18 1289.95 L1076.42 1289.52 L1076.65 1289.07 L1076.89 1288.61 L1077.13 1288.14 L1077.37 1287.67 L1077.61 1287.19 L1077.85 1286.72 L1078.09 1286.24 L1078.33 1285.77 L1078.57 1285.32 L1078.81 1284.86 L1079.05 1284.43 L1079.28 1284 L1079.52 1283.6 L1079.76 1283.21 L1080.24 1282.51 L1080.72 1281.94 L1081.2 1281.42 L1081.68 1280.89 L1082.15 1280.37 L1082.63 1279.85 L1083.11 1279.35 L1083.59 1278.87 L1084.07 1278.42 L1084.54 1278.01 L1085.02 1277.64 L1085.5 1277.32 L1085.98 1277.06 L1086.46 1276.87 L1086.94 1276.75 L1087.65 1276.72 L1088.37 1276.83 L1088.85 1276.97 L1089.33 1277.16 L1089.8 1277.39 L1090.28 1277.65 L1090.76 1277.94 L1091.24 1278.24 L1091.72 1278.56 L1092.2 1278.89 L1092.67 1279.22 L1093.15 1279.54 L1093.63 1279.84 L1094.11 1280.16 L1094.59 1280.49 L1095.07 1280.86 L1095.54 1281.24 L1096.02 1281.64 L1096.5 1282.05 L1096.98 1282.47 L1097.46 1282.89 L1097.93 1283.32 L1098.41 1283.75 L1098.89 1284.17 L1099.37 1284.58 L1099.85 1284.98 L1100.33 1285.37 L1100.8 1285.74 L1101.28 1286.11 L1101.76 1286.49 L1102.24 1286.86 L1102.72 1287.23 L1103.19 1287.61 L1103.67 1287.98 L1104.15 1288.35 L1104.63 1288.72 L1105.11 1289.08 L1105.59 1289.45 L1106.06 1289.81 L1106.54 1290.16 L1107.02 1290.51 L1107.5 1290.85 L1107.98 1291.19 L1108.45 1291.51 L1108.93 1291.83 L1109.41 1292.14 L1109.89 1292.45 L1110.37 1292.74 L1110.85 1293.02 L1111.32 1293.29 L1111.8 1293.55 L1112.28 1293.81 L1112.76 1294.08 L1113.24 1294.35 L1113.71 1294.63 L1114.19 1294.91 L1114.67 1295.19 L1115.15 1295.46 L1115.63 1295.73 L1116.11 1296 L1116.58 1296.26 L1117.06 1296.51 L1117.54 1296.75 L1118.02 1296.97 L1118.5 1297.18 L1118.98 1297.38 L1119.45 1297.56 L1119.93 1297.71 L1120.41 1297.85 L1121.13 1298.01 L1121.84 1298.11 L1122.56 1298.15 L1123.28 1298.14 L1124 1298.1 L1124.71 1298.03 L1125.43 1297.95 L1126.15 1297.84 L1126.87 1297.71 L1127.58 1297.56 L1128.3 1297.4 L1129.02 1297.23 L1129.5 1297.11 L1129.97 1296.98 L1130.45 1296.85 L1130.93 1296.72 L1131.41 1296.58 L1131.89 1296.43 L1132.36 1296.24 L1132.84 1296.01 L1133.32 1295.76 L1133.8 1295.48 L1134.28 1295.17 L1134.76 1294.84 L1135.23 1294.5 L1135.71 1294.13 L1136.19 1293.76 L1136.67 1293.37 L1137.15 1292.97 L1137.62 1292.57 L1138.1 1292.16 L1138.58 1291.76 L1139.06 1291.35 L1139.54 1290.93 L1140.02 1290.48 L1140.49 1290.01 L1140.97 1289.51 L1141.45 1288.99 L1141.93 1288.45 L1142.41 1287.9 L1142.88 1287.33 L1143.36 1286.74 L1143.84 1286.15 L1144.32 1285.55 L1144.8 1284.95 L1145.28 1284.35 L1145.75 1283.75 L1146.23 1283.15 L1146.71 1282.56 L1147.19 1281.97 L1147.67 1281.4 L1148.15 1280.84 L1148.62 1280.3 L1149.1 1279.78 L1149.58 1279.28 L1150.06 1278.8 L1150.54 1278.33 L1151.01 1277.87 L1151.49 1277.4 L1151.97 1276.94 L1152.45 1276.49 L1152.93 1276.03 L1153.41 1275.58 L1153.88 1275.14 L1154.36 1274.7 L1154.84 1274.27 L1155.32 1273.84 L1155.8 1273.42 L1156.27 1273.01 L1156.75 1272.61 L1157.23 1272.22 L1157.71 1271.84 L1158.19 1271.47 L1158.67 1271.11 L1159.14 1270.76 L1159.62 1270.42 L1160.1 1270.1 L1160.58 1269.79 L1161.06 1269.5 L1161.53 1269.21 L1162.01 1268.92 L1162.49 1268.62 L1162.97 1268.32 L1163.45 1268.02 L1163.93 1267.73 L1164.4 1267.44 L1164.88 1267.15 L1165.36 1266.88 L1165.84 1266.61 L1166.32 1266.36 L1166.8 1266.12 L1167.27 1265.9 L1167.75 1265.69 L1168.23 1265.5 L1168.71 1265.33 L1169.19 1265.19 L1169.66 1265.06 L1170.38 1264.93 L1171.1 1264.84 L1171.82 1264.82 L1172.53 1264.84 L1173.25 1264.88 L1173.97 1264.92 L1174.69 1264.98 L1175.4 1265.05 L1176.12 1265.15 L1176.84 1265.26 L1177.55 1265.39 L1178.27 1265.56 L1178.75 1265.71 L1179.23 1265.89 L1179.71 1266.11 L1180.18 1266.35 L1180.66 1266.61 L1181.14 1266.9 L1181.62 1267.21 L1182.1 1267.53 L1182.58 1267.88 L1183.05 1268.24 L1183.53 1268.62 L1184.01 1269.01 L1184.49 1269.41 L1184.97 1269.83 L1185.44 1270.26 L1185.92 1270.7 L1186.4 1271.15 L1186.88 1271.61 L1187.36 1272.09 L1187.84 1272.57 L1188.31 1273.07 L1188.79 1273.58 L1189.27 1274.1 L1189.75 1274.65 L1190.23 1275.21 L1190.7 1275.79 L1191.18 1276.38 L1191.66 1277 L1192.14 1277.62 L1192.62 1278.27 L1193.1 1278.93 L1193.57 1279.6 L1194.05 1280.29 L1194.53 1280.99 L1195.01 1281.71 L1195.25 1282.08 L1195.49 1282.44 L1195.73 1282.82 L1195.97 1283.19 L1196.2 1283.57 L1196.44 1283.95 L1196.68 1284.34 L1196.92 1284.73 L1197.16 1285.12 L1197.4 1285.52 L1197.64 1285.92 L1197.88 1286.33 L1198.12 1286.73 L1198.36 1287.14 L1198.6 1287.56 L1198.83 1287.98 L1199.07 1288.4 L1199.31 1288.82 L1199.55 1289.25 L1199.79 1289.69 L1200.03 1290.12 L1200.27 1290.56 L1200.51 1291 L1200.75 1291.45 L1200.99 1291.9 L1201.23 1292.35 L1201.46 1292.8 L1201.7 1293.26 L1201.94 1293.72 L1202.18 1294.19 L1202.42 1294.66 L1202.66 1295.13 L1202.9 1295.6 L1203.14 1296.08 L1203.38 1296.56 L1203.62 1297.05 L1203.86 1297.54 L1204.09 1298.03 L1204.33 1298.52 L1204.57 1299.02 L1204.81 1299.52 L1205.05 1300.03 L1205.29 1300.54 L1205.53 1301.05 L1205.77 1301.56 L1206.01 1302.08 L1206.25 1302.61 L1206.49 1303.13 L1206.72 1303.66 L1206.96 1304.19 L1207.2 1304.72 L1207.44 1305.26 L1207.68 1305.8 L1207.92 1306.35 L1208.16 1306.89 L1208.4 1307.45 L1208.64 1308 L1208.88 1308.56 L1209.12 1309.11 L1209.35 1309.68 L1209.59 1310.24 L1209.83 1310.81 L1210.07 1311.38 L1210.31 1311.96 L1210.55 1312.54 L1210.79 1313.12 L1211.03 1313.7 L1211.27 1314.29 L1211.51 1314.88 L1211.75 1315.47 L1211.98 1316.07 L1212.22 1316.67 L1212.46 1317.27 L1212.7 1317.88 L1212.94 1318.49 L1213.18 1319.1 L1213.42 1319.71 L1213.66 1320.33 L1213.9 1320.95 L1214.14 1321.58 L1214.38 1322.2 L1214.62 1322.83 L1214.85 1323.47 L1215.09 1324.1 L1215.33 1324.74 L1215.57 1325.38 L1215.81 1326.03 L1216.05 1326.68 L1216.29 1327.33 L1216.53 1327.99 L1216.77 1328.64 L1217.01 1329.31 L1217.25 1329.97 L1217.48 1330.64 L1217.72 1331.31 L1217.96 1331.98 L1218.2 1332.66 L1218.44 1333.34 L1218.68 1334.03 L1218.92 1334.71 L1219.16 1335.4 L1219.4 1336.1 L1219.64 1336.8 L1219.88 1337.5 L1220.11 1338.2 L1220.35 1338.91 L1220.59 1339.62 L1220.83 1340.33 L1221.07 1341.05 L1221.31 1341.77 L1221.55 1342.49 L1221.79 1343.21 L1222.03 1343.94 L1222.27 1344.68 L1222.51 1345.41 L1222.74 1346.15 L1222.98 1346.89 L1223.22 1347.64 L1223.46 1348.39 L1223.7 1349.14 L1223.94 1349.89 L1224.18 1350.65 L1224.42 1351.41 L1224.66 1352.17 L1224.9 1352.94 L1225.14 1353.71 L1225.37 1354.48 L1225.61 1355.26 L1225.85 1356.03 L1226.09 1356.81 L1226.33 1357.6 L1226.57 1358.38 L1226.81 1359.17 L1227.05 1359.96 L1227.29 1360.76 L1227.53 1361.55 L1227.77 1362.35 L1228 1363.15 L1228.24 1363.95 L1228.48 1364.76 L1228.72 1365.57 L1228.96 1366.37 L1229.2 1367.19 L1229.44 1368 L1229.68 1368.82 L1229.92 1369.63 L1230.16 1370.45 L1230.4 1371.27 L1230.63 1372.09 L1230.87 1372.92 L1231.11 1373.74 L1231.35 1374.57 L1231.59 1375.4 L1231.83 1376.23 L1232.07 1377.06 L1232.31 1377.89 L1232.55 1378.72 L1232.79 1379.56 L1233.03 1380.39 L1233.26 1381.23 L1233.5 1382.06 L1233.74 1382.9 L1233.98 1383.74 L1234.22 1384.58 L1234.46 1385.42 L1234.7 1386.26 L1234.94 1387.1 L1235.18 1387.94 L1235.42 1388.78 L1235.66 1389.62 L1235.89 1390.46 L1236.13 1391.3 L1236.37 1392.14 L1236.61 1392.98 L1236.85 1393.82 L1237.09 1394.66 L1237.33 1395.5 L1237.57 1396.34 L1237.81 1397.17 L1238.05 1398.01 L1238.29 1398.85 L1238.53 1399.69 L1238.76 1400.52 L1239 1401.36 L1239.24 1402.19 L1239.48 1403.03 L1239.72 1403.86 L1239.96 1404.69 L1240.2 1405.52 L1240.44 1406.35 L1240.68 1407.18 L1240.92 1408.01 L1241.16 1408.84 L1241.39 1409.66 L1241.63 1410.49 L1241.87 1411.31 L1242.11 1412.13 L1242.35 1412.95 L1242.59 1413.77 L1242.83 1414.59 L1243.07 1415.41 L1243.31 1416.22 L1243.55 1417.04 L1243.79 1417.85 L1244.02 1418.66 L1244.26 1419.47 L1244.5 1420.28 L1244.74 1421.09 L1244.98 1421.89 L1245.22 1422.69 L1245.46 1423.5 L1245.7 1424.3 L1245.94 1425.1 L1246.18 1425.89 L1246.42 1426.69 L1246.65 1427.48 L1246.89 1428.27 L1247.13 1429.06 L1247.37 1429.85 L1247.61 1430.64 L1247.85 1431.42 L1248.09 1432.21 L1248.33 1432.99 L1248.57 1433.77 L1248.81 1434.55 L1249.05 1435.33 L1249.28 1436.1 L1249.52 1436.87 L1249.76 1437.65 L1250 1438.41 L1250.24 1439.18 L1250.48 1439.95 L1250.72 1440.71 L1250.96 1441.48 L1251.2 1442.24 L1251.44 1443 L1251.68 1443.75 L1251.91 1444.51 L1252.15 1445.26 L1252.39 1446.02 L1252.63 1446.77 L1252.87 1447.51 L1253.11 1448.26 L1253.35 1449.01 L1253.59 1449.75 L1253.83 1450.49 L1254.07 1451.23 L1254.31 1451.97 L1254.54 1452.7 L1254.78 1453.43 L1255.02 1454.17 L1255.26 1454.9 L1255.5 1455.62 L1255.74 1456.35 L1255.98 1457.07 L1256.22 1457.8 L1256.46 1458.52 L1256.7 1459.24 L1256.94 1459.95 L1257.17 1460.67 L1257.41 1461.38 L1257.65 1462.09 L1257.89 1462.8 L1258.13 1463.5 L1258.37 1464.21 L1258.61 1464.91 L1258.85 1465.61 L1259.09 1466.31 L1259.33 1467 L1259.57 1467.7 L1259.8 1468.39 L1260.04 1469.08 L1260.28 1469.77 L1260.52 1470.45 L1260.76 1471.14 L1261 1471.82 L1261.24 1472.5 L1261.48 1473.17 L1261.72 1473.85 L1261.96 1474.52 L1262.2 1475.19 L1262.43 1475.86 L1262.67 1476.52 L1262.91 1477.18 L1263.15 1477.84 L1263.39 1478.5 L1263.63 1479.16 L1263.87 1479.81 L1264.11 1480.46 L1264.35 1481.11 L1264.59 1481.75 L1264.83 1482.4 L1265.07 1483.04 L1265.3 1483.68 L1265.54 1484.31 L1265.78 1484.95 L1266.02 1485.58 L1266.26 1486.2 L1266.5 1486.83 L1266.74 1487.45 L1266.98 1488.07 L1267.22 1488.69 L1267.46 1489.3 L1267.7 1489.92 L1267.93 1490.52 L1268.17 1491.13 L1268.41 1491.74 L1268.65 1492.34 L1268.89 1492.93 L1269.13 1493.53 L1269.37 1494.12 L1269.61 1494.71 L1269.85 1495.3 L1270.09 1495.88 L1270.33 1496.46 L1270.56 1497.04 L1270.8 1497.62 L1271.04 1498.19 L1271.28 1498.76 L1271.52 1499.33 L1271.76 1499.89 L1272 1500.45 L1272.24 1501.01 L1272.48 1501.57 L1272.72 1502.12 L1272.96 1502.67 L1273.19 1503.22 L1273.43 1503.76 L1273.67 1504.3 L1273.91 1504.84 L1274.15 1505.37 L1274.39 1505.91 L1274.63 1506.44 L1274.87 1506.96 L1275.11 1507.49 L1275.35 1508.01 L1275.59 1508.53 L1275.82 1509.04 L1276.06 1509.55 L1276.3 1510.06 L1276.54 1510.57 L1276.78 1511.07 L1277.02 1511.57 L1277.26 1512.07 L1277.5 1512.57 L1277.74 1513.06 L1277.98 1513.55 L1278.22 1514.04 L1278.45 1514.52 L1278.69 1515 L1278.93 1515.48 L1279.17 1515.96 L1279.41 1516.43 L1279.65 1516.9 L1279.89 1517.37 L1280.13 1517.84 L1280.37 1518.3 L1280.61 1518.76 L1280.85 1519.22 L1281.08 1519.68 L1281.32 1520.13 L1281.56 1520.58 L1281.8 1521.03 L1282.04 1521.48 L1282.28 1521.92 L1282.52 1522.36 L1282.76 1522.8 L1283 1523.24 L1283.24 1523.67 L1283.48 1524.11 L1283.71 1524.54 L1283.95 1524.97 L1284.19 1525.39 L1284.43 1525.82 L1284.67 1526.24 L1284.91 1526.66 L1285.15 1527.08 L1285.39 1527.49 L1285.63 1527.9 L1285.87 1528.32 L1286.11 1528.73 L1286.35 1529.13 L1286.58 1529.54 L1286.82 1529.94 L1287.06 1530.35 L1287.3 1530.75 L1287.54 1531.15 L1287.78 1531.54 L1288.02 1531.94 L1288.26 1532.33 L1288.5 1532.72 L1288.74 1533.11 L1288.98 1533.5 L1289.21 1533.89 L1289.45 1534.27 L1289.69 1534.66 L1289.93 1535.04 L1290.17 1535.42 L1290.41 1535.8 L1290.65 1536.18 L1290.89 1536.55 L1291.13 1536.93 L1291.37 1537.3 L1291.61 1537.67 L1291.84 1538.04 L1292.08 1538.41 L1292.32 1538.78 L1292.56 1539.14 L1292.8 1539.51 L1293.04 1539.87 L1293.28 1540.23 L1293.76 1540.95 L1294.24 1541.67 L1294.71 1542.38 L1295.19 1543.08 L1295.67 1543.78 L1296.15 1544.48 L1296.63 1545.17 L1297.1 1545.85 L1297.58 1546.54 L1298.06 1547.21 L1298.54 1547.89 L1299.02 1548.56 L1299.5 1549.22 L1299.97 1549.88 L1300.45 1550.54 L1300.93 1551.19 L1301.41 1551.84 L1301.89 1552.49 L1302.36 1553.13 L1302.84 1553.77 L1303.32 1554.41 L1303.8 1555.04 L1304.28 1555.66 L1304.76 1556.29 L1305.23 1556.91 L1305.71 1557.53 L1306.19 1558.14 L1306.67 1558.75 L1307.15 1559.36 L1307.62 1559.96 L1308.1 1560.56 L1308.58 1561.16 L1309.06 1561.75 L1309.54 1562.34 L1310.02 1562.92 L1310.49 1563.5 L1310.97 1564.08 L1311.45 1564.66 L1311.93 1565.23 L1312.41 1565.8 L1312.89 1566.36 L1313.36 1566.92 L1313.84 1567.48 L1314.32 1568.03 L1314.8 1568.58 L1315.28 1569.13 L1315.75 1569.67 L1316.23 1570.21 L1316.71 1570.75 L1317.19 1571.28 L1317.67 1571.8 L1318.15 1572.33 L1318.62 1572.85 L1319.1 1573.36 L1319.58 1573.87 L1320.06 1574.38 L1320.54 1574.88 L1321.01 1575.38 L1321.49 1575.88 L1321.97 1576.37 L1322.45 1576.85 L1322.93 1577.34 L1323.41 1577.82 L1323.88 1578.29 L1324.36 1578.76 L1324.84 1579.23 L1325.32 1579.69 L1325.8 1580.15 L1326.27 1580.6 L1326.75 1581.05 L1327.23 1581.49 L1327.71 1581.94 L1328.19 1582.37 L1328.67 1582.8 L1329.14 1583.23 L1329.62 1583.65 L1330.1 1584.07 L1330.58 1584.49 L1331.06 1584.9 L1331.53 1585.3 L1332.01 1585.7 L1332.49 1586.09 L1332.97 1586.48 L1333.45 1586.86 L1333.93 1587.24 L1334.4 1587.61 L1334.88 1587.97 L1335.36 1588.34 L1335.84 1588.71 L1336.32 1589.08 L1336.8 1589.45 L1337.27 1589.83 L1337.75 1590.22 L1338.23 1590.6 L1338.71 1590.99 L1339.19 1591.38 L1339.66 1591.77 L1340.14 1592.16 L1340.62 1592.54 L1341.1 1592.92 L1341.58 1593.28 L1342.06 1593.62 L1342.53 1593.95 L1343.01 1594.25 L1343.49 1594.52 L1343.97 1594.75 L1344.45 1594.95 L1344.92 1595.1 L1345.64 1595.24 L1346.36 1595.26 L1347.08 1595.17 L1347.55 1595.05 L1348.03 1594.88 L1348.51 1594.66 L1348.99 1594.41 L1349.47 1594.13 L1349.95 1593.8 L1350.42 1593.45 L1350.9 1593.07 L1351.38 1592.67 L1351.86 1592.24 L1352.34 1591.79 L1352.81 1591.32 L1353.29 1590.83 L1353.77 1590.32 L1354.25 1589.79 L1354.73 1589.22 L1355.21 1588.6 L1355.68 1587.93 L1356.16 1587.24 L1356.4 1586.87 L1356.64 1586.51 L1356.88 1586.13 L1357.12 1585.75 L1357.36 1585.37 L1357.6 1584.98 L1357.84 1584.59 L1358.08 1584.19 L1358.31 1583.79 L1358.55 1583.39 L1358.79 1582.98 L1359.03 1582.57 L1359.27 1582.15 L1359.51 1581.74 L1359.75 1581.32 L1359.99 1580.9 L1360.23 1580.48 L1360.47 1580.05 L1360.71 1579.63 L1360.94 1579.2 L1361.18 1578.77 L1361.42 1578.33 L1361.66 1577.9 L1361.9 1577.46 L1362.14 1577.01 L1362.38 1576.57 L1362.62 1576.11 L1362.86 1575.66 L1363.1 1575.2 L1363.34 1574.74 L1363.57 1574.27 L1363.81 1573.81 L1364.05 1573.34 L1364.29 1572.87 L1364.53 1572.39 L1364.77 1571.92 L1365.01 1571.44 L1365.25 1570.96 L1365.49 1570.48 L1365.73 1569.99 L1365.97 1569.51 L1366.2 1569.02 L1366.44 1568.53 L1366.68 1568.04 L1366.92 1567.54 L1367.16 1567.05 L1367.4 1566.55 L1367.64 1566.05 L1367.88 1565.55 L1368.12 1565.05 L1368.36 1564.54 L1368.6 1564.04 L1368.83 1563.53 L1369.07 1563.02 L1369.31 1562.51 L1369.55 1561.99 L1369.79 1561.48 L1370.03 1560.96 L1370.27 1560.45 L1370.51 1559.93 L1370.75 1559.41 L1370.99 1558.89 L1371.23 1558.36 L1371.46 1557.84 L1371.7 1557.31 L1371.94 1556.79 L1372.18 1556.26 L1372.42 1555.73 L1372.66 1555.2 L1372.9 1554.67 L1373.14 1554.14 L1373.38 1553.61 L1373.62 1553.07 L1373.86 1552.54 L1374.09 1552 L1374.33 1551.47 L1374.57 1550.93 L1374.81 1550.4 L1375.05 1549.86 L1375.29 1549.32 L1375.53 1548.79 L1375.77 1548.25 L1376.01 1547.71 L1376.25 1547.17 L1376.49 1546.64 L1376.72 1546.1 L1376.96 1545.56 L1377.2 1545.02 L1377.44 1544.48 L1377.68 1543.94 L1377.92 1543.4 L1378.16 1542.87 L1378.4 1542.33 L1378.64 1541.79 L1378.88 1541.25 L1379.12 1540.71 L1379.35 1540.18 L1379.59 1539.64 L1379.83 1539.1 L1380.07 1538.56 L1380.31 1538.03 L1380.55 1537.49 L1380.79 1536.96 L1381.03 1536.42 L1381.27 1535.89 L1381.51 1535.35 L1381.75 1534.82 L1381.99 1534.28 L1382.22 1533.75 L1382.46 1533.21 L1382.7 1532.68 L1382.94 1532.15 L1383.18 1531.62 L1383.42 1531.09 L1383.66 1530.55 L1383.9 1530.02 L1384.14 1529.49 L1384.38 1528.96 L1384.62 1528.43 L1384.85 1527.9 L1385.09 1527.38 L1385.33 1526.85 L1385.57 1526.32 L1385.81 1525.79 L1386.05 1525.27 L1386.29 1524.74 L1386.53 1524.22 L1386.77 1523.69 L1387.01 1523.17 L1387.25 1522.64 L1387.48 1522.12 L1387.72 1521.6 L1387.96 1521.08 L1388.2 1520.55 L1388.44 1520.03 L1388.68 1519.51 L1388.92 1518.99 L1389.16 1518.47 L1389.4 1517.95 L1389.64 1517.43 L1389.88 1516.92 L1390.11 1516.4 L1390.35 1515.88 L1390.59 1515.37 L1390.83 1514.85 L1391.07 1514.34 L1391.31 1513.82 L1391.55 1513.31 L1391.79 1512.79 L1392.03 1512.28 L1392.27 1511.77 L1392.51 1511.26 L1392.74 1510.75 L1392.98 1510.24 L1393.22 1509.73 L1393.46 1509.22 L1393.7 1508.71 L1393.94 1508.2 L1394.18 1507.69 L1394.42 1507.19 L1394.66 1506.68 L1394.9 1506.17 L1395.14 1505.67 L1395.37 1505.17 L1395.61 1504.66 L1395.85 1504.16 L1396.09 1503.66 L1396.33 1503.16 L1396.57 1502.66 L1396.81 1502.16 L1397.05 1501.66 L1397.29 1501.16 L1397.53 1500.66 L1397.77 1500.16 L1398 1499.67 L1398.24 1499.17 L1398.48 1498.68 L1398.72 1498.18 L1398.96 1497.69 L1399.2 1497.2 L1399.44 1496.71 L1399.68 1496.22 L1399.92 1495.73 L1400.16 1495.24 L1400.4 1494.75 L1400.63 1494.27 L1400.87 1493.78 L1401.11 1493.3 L1401.35 1492.81 L1401.59 1492.33 L1401.83 1491.85 L1402.07 1491.37 L1402.31 1490.89 L1402.55 1490.41 L1402.79 1489.93 L1403.03 1489.45 L1403.26 1488.98 L1403.5 1488.5 L1403.74 1488.03 L1403.98 1487.55 L1404.22 1487.08 L1404.46 1486.61 L1404.7 1486.14 L1404.94 1485.68 L1405.18 1485.21 L1405.42 1484.74 L1405.66 1484.28 L1405.89 1483.81 L1406.13 1483.35 L1406.37 1482.89 L1406.61 1482.43 L1406.85 1481.97 L1407.09 1481.51 L1407.33 1481.06 L1407.57 1480.6 L1407.81 1480.15 L1408.05 1479.7 L1408.29 1479.24 L1408.53 1478.79 L1408.76 1478.35 L1409 1477.9 L1409.24 1477.45 L1409.48 1477.01 L1409.72 1476.56 L1409.96 1476.12 L1410.2 1475.68 L1410.44 1475.24 L1410.68 1474.8 L1410.92 1474.37 L1411.16 1473.93 L1411.39 1473.5 L1411.63 1473.07 L1411.87 1472.63 L1412.11 1472.2 L1412.35 1471.78 L1412.59 1471.35 L1412.83 1470.92 L1413.07 1470.5 L1413.31 1470.08 L1413.55 1469.66 L1413.79 1469.24 L1414.02 1468.82 L1414.26 1468.4 L1414.5 1467.99 L1414.74 1467.57 L1414.98 1467.16 L1415.22 1466.75 L1415.46 1466.34 L1415.7 1465.93 L1415.94 1465.53 L1416.18 1465.12 L1416.42 1464.72 L1416.65 1464.32 L1416.89 1463.92 L1417.13 1463.52 L1417.37 1463.12 L1417.61 1462.73 L1417.85 1462.33 L1418.09 1461.94 L1418.33 1461.55 L1418.57 1461.16 L1418.81 1460.77 L1419.05 1460.39 L1419.28 1460 L1419.52 1459.62 L1419.76 1459.24 L1420 1458.86 L1420.24 1458.48 L1420.48 1458.1 L1420.72 1457.72 L1420.96 1457.35 L1421.2 1456.98 L1421.44 1456.6 L1421.68 1456.23 L1421.91 1455.87 L1422.15 1455.5 L1422.39 1455.13 L1422.63 1454.77 L1422.87 1454.41 L1423.11 1454.05 L1423.59 1453.33 L1424.07 1452.62 L1424.54 1451.91 L1425.02 1451.21 L1425.5 1450.52 L1425.98 1449.83 L1426.46 1449.14 L1426.94 1448.46 L1427.41 1447.79 L1427.89 1447.12 L1428.37 1446.46 L1428.85 1445.8 L1429.33 1445.15 L1429.81 1444.5 L1430.28 1443.86 L1430.76 1443.22 L1431.24 1442.59 L1431.72 1441.96 L1432.2 1441.33 L1432.67 1440.71 L1433.15 1440.1 L1433.63 1439.48 L1434.11 1438.87 L1434.59 1438.27 L1435.07 1437.67 L1435.54 1437.07 L1436.02 1436.48 L1436.5 1435.89 L1436.98 1435.3 L1437.46 1434.72 L1437.93 1434.14 L1438.41 1433.56 L1438.89 1432.99 L1439.37 1432.42 L1439.85 1431.85 L1440.33 1431.29 L1440.8 1430.72 L1441.28 1430.17 L1441.76 1429.61 L1442.24 1429.06 L1442.72 1428.51 L1443.19 1427.96 L1443.67 1427.42 L1444.15 1426.88 L1444.63 1426.34 L1445.11 1425.8 L1445.59 1425.27 L1446.06 1424.74 L1446.54 1424.21 L1447.02 1423.69 L1447.5 1423.16 L1447.98 1422.65 L1448.45 1422.13 L1448.93 1421.62 L1449.41 1421.1 L1449.89 1420.6 L1450.37 1420.09 L1450.85 1419.59 L1451.32 1419.09 L1451.8 1418.59 L1452.28 1418.1 L1452.76 1417.6 L1453.24 1417.12 L1453.72 1416.63 L1454.19 1416.14 L1454.67 1415.66 L1455.15 1415.18 L1455.63 1414.71 L1456.11 1414.23 L1456.58 1413.76 L1457.06 1413.29 L1457.54 1412.82 L1458.02 1412.36 L1458.5 1411.9 L1458.98 1411.44 L1459.45 1410.98 L1459.93 1410.52 L1460.41 1410.07 L1460.89 1409.62 L1461.37 1409.17 L1461.84 1408.72 L1462.32 1408.27 L1462.8 1407.82 L1463.28 1407.38 L1463.76 1406.94 L1464.24 1406.5 L1464.71 1406.06 L1465.19 1405.62 L1465.67 1405.18 L1466.15 1404.75 L1466.63 1404.31 L1467.1 1403.88 L1467.58 1403.45 L1468.06 1403.02 L1468.54 1402.59 L1469.02 1402.16 L1469.5 1401.73 L1469.97 1401.3 L1470.45 1400.88 L1470.93 1400.45 L1471.41 1400.03 L1471.89 1399.6 L1472.36 1399.18 L1472.84 1398.76 L1473.32 1398.34 L1473.8 1397.91 L1474.28 1397.49 L1474.76 1397.07 L1475.23 1396.66 L1475.71 1396.24 L1476.19 1395.82 L1476.67 1395.4 L1477.15 1394.99 L1477.62 1394.57 L1478.1 1394.16 L1478.58 1393.74 L1479.06 1393.33 L1479.54 1392.92 L1480.02 1392.51 L1480.49 1392.1 L1480.97 1391.69 L1481.45 1391.28 L1481.93 1390.87 L1482.41 1390.46 L1482.89 1390.06 L1483.36 1389.65 L1483.84 1389.25 L1484.32 1388.85 L1484.8 1388.45 L1485.28 1388.05 L1485.75 1387.65 L1486.23 1387.25 L1486.71 1386.85 L1487.19 1386.46 L1487.67 1386.06 L1488.15 1385.67 L1488.62 1385.28 L1489.1 1384.89 L1489.58 1384.5 L1490.06 1384.12 L1490.54 1383.73 L1491.01 1383.35 L1491.49 1382.97 L1491.97 1382.59 L1492.45 1382.21 L1492.93 1381.83 L1493.41 1381.45 L1493.88 1381.08 L1494.36 1380.71 L1494.84 1380.34 L1495.32 1379.97 L1495.8 1379.6 L1496.27 1379.23 L1496.75 1378.87 L1497.23 1378.5 L1497.71 1378.14 L1498.19 1377.78 L1498.67 1377.43 L1499.14 1377.07 L1499.62 1376.72 L1500.1 1376.36 L1500.58 1376.01 L1501.06 1375.66 L1501.54 1375.31 L1502.01 1374.96 L1502.49 1374.62 L1502.97 1374.28 L1503.45 1373.93 L1503.93 1373.59 L1504.4 1373.25 L1504.88 1372.91 L1505.36 1372.58 L1505.84 1372.24 L1506.32 1371.91 L1506.8 1371.58 L1507.27 1371.24 L1507.75 1370.91 L1508.23 1370.58 L1508.71 1370.26 L1509.19 1369.93 L1509.66 1369.61 L1510.14 1369.28 L1510.62 1368.96 L1511.1 1368.64 L1511.58 1368.32 L1512.06 1368 L1512.53 1367.68 L1513.01 1367.36 L1513.49 1367.04 L1513.97 1366.73 L1514.45 1366.41 L1514.92 1366.1 L1515.4 1365.79 L1515.88 1365.48 L1516.36 1365.16 L1516.84 1364.85 L1517.32 1364.55 L1517.79 1364.24 L1518.27 1363.93 L1518.75 1363.62 L1519.23 1363.32 L1519.71 1363.01 L1520.18 1362.71 L1520.66 1362.4 L1521.14 1362.1 L1521.62 1361.8 L1522.1 1361.49 L1522.58 1361.19 L1523.05 1360.89 L1523.53 1360.59 L1524.01 1360.29 L1524.49 1359.99 L1524.97 1359.69 L1525.45 1359.39 L1525.92 1359.1 L1526.4 1358.8 L1526.88 1358.5 L1527.36 1358.21 L1527.84 1357.91 L1528.31 1357.62 L1528.79 1357.32 L1529.27 1357.03 L1529.75 1356.73 L1530.23 1356.44 L1530.71 1356.15 L1531.18 1355.85 L1531.66 1355.56 L1532.14 1355.27 L1532.62 1354.98 L1533.1 1354.68 L1533.57 1354.39 L1534.05 1354.1 L1534.53 1353.81 L1535.01 1353.52 L1535.49 1353.23 L1535.97 1352.94 L1536.44 1352.66 L1536.92 1352.37 L1537.4 1352.08 L1537.88 1351.79 L1538.36 1351.51 L1538.83 1351.22 L1539.31 1350.93 L1539.79 1350.65 L1540.27 1350.36 L1540.75 1350.08 L1541.23 1349.79 L1541.7 1349.51 L1542.18 1349.23 L1542.66 1348.94 L1543.14 1348.66 L1543.62 1348.38 L1544.09 1348.1 L1544.57 1347.82 L1545.05 1347.54 L1545.53 1347.26 L1546.01 1346.99 L1546.49 1346.71 L1546.96 1346.43 L1547.44 1346.16 L1547.92 1345.88 L1548.4 1345.61 L1548.88 1345.34 L1549.36 1345.06 L1549.83 1344.79 L1550.31 1344.52 L1550.79 1344.25 L1551.27 1343.98 L1551.75 1343.72 L1552.22 1343.45 L1552.7 1343.18 L1553.18 1342.92 L1553.66 1342.66 L1554.14 1342.39 L1554.62 1342.13 L1555.09 1341.87 L1555.57 1341.61 L1556.05 1341.35 L1556.53 1341.09 L1557.01 1340.84 L1557.48 1340.58 L1557.96 1340.33 L1558.44 1340.07 L1558.92 1339.82 L1559.4 1339.57 L1559.88 1339.32 L1560.35 1339.07 L1560.83 1338.82 L1561.31 1338.57 L1561.79 1338.32 L1562.27 1338.08 L1562.74 1337.83 L1563.22 1337.59 L1563.7 1337.34 L1564.18 1337.1 L1564.66 1336.86 L1565.14 1336.62 L1565.61 1336.38 L1566.09 1336.14 L1566.57 1335.9 L1567.05 1335.66 L1567.53 1335.43 L1568 1335.19 L1568.48 1334.96 L1568.96 1334.72 L1569.44 1334.49 L1569.92 1334.26 L1570.4 1334.03 L1570.87 1333.79 L1571.35 1333.56 L1571.83 1333.34 L1572.31 1333.11 L1572.79 1332.88 L1573.27 1332.65 L1573.74 1332.43 L1574.22 1332.2 L1574.7 1331.98 L1575.18 1331.75 L1575.66 1331.53 L1576.13 1331.31 L1576.61 1331.09 L1577.09 1330.87 L1577.57 1330.65 L1578.05 1330.43 L1578.53 1330.21 L1579 1329.99 L1579.48 1329.77 L1579.96 1329.56 L1580.44 1329.34 L1580.92 1329.12 L1581.39 1328.91 L1581.87 1328.7 L1582.35 1328.48 L1582.83 1328.27 L1583.31 1328.06 L1583.79 1327.85 L1584.26 1327.64 L1584.74 1327.43 L1585.22 1327.22 L1585.7 1327.01 L1586.18 1326.8 L1586.65 1326.6 L1587.13 1326.39 L1587.61 1326.18 L1588.09 1325.98 L1588.57 1325.77 L1589.05 1325.57 L1589.52 1325.37 L1590 1325.17 L1590.48 1324.96 L1590.96 1324.76 L1591.44 1324.56 L1591.91 1324.36 L1592.39 1324.16 L1592.87 1323.96 L1593.35 1323.77 L1593.83 1323.57 L1594.31 1323.37 L1594.78 1323.18 L1595.26 1322.98 L1595.74 1322.78 L1596.22 1322.59 L1596.7 1322.4 L1597.18 1322.2 L1597.65 1322.01 L1598.13 1321.82 L1598.61 1321.63 L1599.09 1321.44 L1599.57 1321.25 L1600.04 1321.06 L1600.52 1320.87 L1601 1320.68 L1601.48 1320.49 L1601.96 1320.3 L1602.44 1320.12 L1602.91 1319.93 L1603.39 1319.75 L1603.87 1319.56 L1604.35 1319.38 L1604.83 1319.19 L1605.3 1319.01 L1605.78 1318.83 L1606.26 1318.65 L1606.74 1318.46 L1607.22 1318.28 L1607.7 1318.1 L1608.17 1317.92 L1608.65 1317.75 L1609.13 1317.57 L1609.61 1317.39 L1610.09 1317.21 L1610.56 1317.03 L1611.04 1316.86 L1611.52 1316.68 L1612 1316.51 L1612.48 1316.33 L1612.96 1316.16 L1613.43 1315.99 L1613.91 1315.81 L1614.39 1315.64 L1614.87 1315.47 L1615.35 1315.3 L1615.82 1315.13 L1616.3 1314.96 L1616.78 1314.79 L1617.26 1314.62 L1617.74 1314.45 L1618.22 1314.28 L1618.69 1314.11 L1619.17 1313.95 L1619.65 1313.78 L1620.13 1313.61 L1620.61 1313.45 L1621.09 1313.28 L1621.56 1313.12 L1622.04 1312.95 L1622.52 1312.79 L1623 1312.63 L1623.48 1312.47 L1623.95 1312.3 L1624.43 1312.14 L1624.91 1311.98 L1625.39 1311.82 L1625.87 1311.66 L1626.35 1311.5 L1626.82 1311.34 L1627.3 1311.19 L1627.78 1311.03 L1628.26 1310.87 L1628.74 1310.71 L1629.21 1310.56 L1629.69 1310.4 L1630.17 1310.25 L1630.65 1310.09 L1631.13 1309.94 L1631.61 1309.78 L1632.08 1309.63 L1632.56 1309.48 L1633.04 1309.33 L1633.52 1309.18 L1634 1309.03 L1634.47 1308.88 L1634.95 1308.73 L1635.43 1308.58 L1635.91 1308.43 L1636.39 1308.28 L1636.87 1308.13 L1637.34 1307.99 L1637.82 1307.84 L1638.3 1307.7 L1638.78 1307.55 L1639.26 1307.41 L1639.73 1307.26 L1640.21 1307.12 L1640.69 1306.98 L1641.17 1306.84 L1641.65 1306.69 L1642.13 1306.55 L1642.6 1306.41 L1643.08 1306.27 L1643.56 1306.13 L1644.04 1306 L1644.52 1305.86 L1645 1305.72 L1645.47 1305.58 L1645.95 1305.45 L1646.43 1305.31 L1646.91 1305.18 L1647.39 1305.04 L1647.86 1304.91 L1648.34 1304.78 L1648.82 1304.65 L1649.3 1304.51 L1649.78 1304.38 L1650.26 1304.25 L1650.73 1304.12 L1651.21 1303.99 L1651.69 1303.86 L1652.17 1303.73 L1652.65 1303.6 L1653.12 1303.48 L1653.6 1303.35 L1654.08 1303.22 L1654.56 1303.1 L1655.04 1302.97 L1655.52 1302.85 L1655.99 1302.72 L1656.47 1302.6 L1656.95 1302.48 L1657.43 1302.35 L1657.91 1302.23 L1658.62 1302.05 L1659.34 1301.87 L1660.06 1301.69 L1660.78 1301.51 L1661.49 1301.33 L1662.21 1301.16 L1662.93 1300.98 L1663.64 1300.81 L1664.36 1300.63 L1665.08 1300.46 L1665.8 1300.29 L1666.51 1300.13 L1667.23 1299.96 L1667.95 1299.79 L1668.67 1299.63 L1669.38 1299.46 L1670.1 1299.3 L1670.82 1299.14 L1671.54 1298.98 L1672.25 1298.82 L1672.97 1298.67 L1673.69 1298.51 L1674.4 1298.36 L1675.12 1298.21 L1675.84 1298.05 L1676.56 1297.9 L1677.27 1297.76 L1677.99 1297.61 L1678.71 1297.46 L1679.43 1297.32 L1680.14 1297.17 L1680.86 1297.03 L1681.58 1296.89 L1682.29 1296.75 L1683.01 1296.61 L1683.73 1296.47 L1684.45 1296.34 L1685.16 1296.2 L1685.88 1296.07 L1686.6 1295.93 L1687.32 1295.8 L1688.03 1295.67 L1688.75 1295.54 L1689.47 1295.41 L1690.18 1295.28 L1690.9 1295.15 L1691.62 1295.03 L1692.34 1294.9 L1693.05 1294.78 L1693.77 1294.65 L1694.49 1294.53 L1695.21 1294.4 L1695.92 1294.28 L1696.64 1294.16 L1697.36 1294.04 L1698.08 1293.92 L1698.79 1293.8 L1699.51 1293.68 L1700.23 1293.56 L1700.94 1293.44 L1701.66 1293.32 L1702.38 1293.21 L1703.1 1293.09 L1703.81 1292.97 L1704.53 1292.86 L1705.25 1292.74 L1705.97 1292.63 L1706.68 1292.51 L1707.4 1292.4 L1708.12 1292.28 L1708.83 1292.17 L1709.55 1292.06 L1710.27 1291.95 L1710.99 1291.84 L1711.7 1291.72 L1712.42 1291.61 L1713.14 1291.51 L1713.86 1291.4 L1714.57 1291.29 L1715.29 1291.18 L1716.01 1291.07 L1716.72 1290.97 L1717.44 1290.86 L1718.16 1290.76 L1718.88 1290.66 L1719.59 1290.55 L1720.31 1290.45 L1721.03 1290.35 L1721.75 1290.25 L1722.46 1290.15 L1723.18 1290.06 L1723.9 1289.96 L1724.62 1289.86 L1725.33 1289.77 L1726.05 1289.68 L1726.77 1289.58 L1727.48 1289.49 L1728.2 1289.4 L1728.92 1289.31 L1729.64 1289.23 L1730.35 1289.14 L1731.07 1289.05 L1731.79 1288.97 L1732.51 1288.89 L1733.22 1288.8 L1733.94 1288.72 L1734.66 1288.64 L1735.37 1288.56 L1736.09 1288.48 L1736.81 1288.4 L1737.53 1288.32 L1738.24 1288.25 L1738.96 1288.17 L1739.68 1288.1 L1740.4 1288.02 L1741.11 1287.95 L1741.83 1287.87 L1742.55 1287.8 L1743.27 1287.73 L1743.98 1287.66 L1744.7 1287.59 L1745.42 1287.52 L1746.13 1287.45 L1746.85 1287.38 L1747.57 1287.31 L1748.29 1287.24 L1749 1287.17 L1749.72 1287.11 L1750.44 1287.04 L1751.16 1286.97 L1751.87 1286.91 L1752.59 1286.84 L1753.31 1286.78 L1754.02 1286.71 L1754.74 1286.65 L1755.46 1286.58 L1756.18 1286.52 L1756.89 1286.46 L1757.61 1286.4 L1758.33 1286.33 L1759.05 1286.27 L1759.76 1286.21 L1760.48 1286.15 L1761.2 1286.09 L1761.91 1286.03 L1762.63 1285.97 L1763.35 1285.91 L1764.07 1285.84 L1764.78 1285.79 L1765.5 1285.73 L1766.22 1285.67 L1766.94 1285.61 L1767.65 1285.55 L1768.37 1285.49 L1769.09 1285.43 L1769.81 1285.37 L1770.52 1285.32 L1771.24 1285.26 L1771.96 1285.2 L1772.67 1285.14 L1773.39 1285.09 L1774.11 1285.03 L1774.83 1284.97 L1775.54 1284.92 L1776.26 1284.86 L1776.98 1284.81 L1777.7 1284.75 L1778.41 1284.7 L1779.13 1284.65 L1779.85 1284.59 L1780.56 1284.54 L1781.28 1284.49 L1782 1284.44 L1782.72 1284.39 L1783.43 1284.34 L1784.15 1284.29 L1784.87 1284.24 L1785.59 1284.19 L1786.3 1284.15 L1787.02 1284.1 L1787.74 1284.05 L1788.45 1284.01 L1789.17 1283.97 L1789.89 1283.92 L1790.61 1283.88 L1791.32 1283.84 L1792.04 1283.8 L1792.76 1283.76 L1793.48 1283.72 L1794.19 1283.68 L1794.91 1283.65 L1795.63 1283.61 L1796.35 1283.57 L1797.06 1283.54 L1797.78 1283.51 L1798.5 1283.47 L1799.21 1283.44 L1799.93 1283.41 L1800.65 1283.38 L1801.37 1283.35 L1802.08 1283.32 L1802.8 1283.29 L1803.52 1283.26 L1804.24 1283.23 L1804.95 1283.21 L1805.67 1283.18 L1806.39 1283.15 L1807.1 1283.13 L1807.82 1283.11 L1808.54 1283.08 L1809.26 1283.06 L1809.97 1283.04 L1810.69 1283.01 L1811.41 1282.99 L1812.13 1282.97 L1812.84 1282.95 L1813.56 1282.93 L1814.28 1282.92 L1815 1282.9 L1815.71 1282.88 L1816.43 1282.86 L1817.15 1282.85 L1817.86 1282.83 L1818.58 1282.82 L1819.3 1282.81 L1820.02 1282.79 L1820.73 1282.78 L1821.45 1282.77 L1822.17 1282.76 L1822.89 1282.75 L1823.6 1282.74 L1824.32 1282.74 L1824.32 1282.74" stroke="#77ac30"/>
<path d="M963.56 1286.12 L964.28 1286.12 L964.99 1286.12 L965.71 1286.12 L966.43 1286.12 L967.15 1286.12 L967.86 1286.12 L968.58 1286.12 L969.3 1286.12 L970.02 1286.12 L970.73 1286.12 L971.45 1286.12 L972.17 1286.12 L972.88 1286.12 L973.6 1286.12 L974.32 1286.12 L975.04 1286.12 L975.75 1286.12 L976.47 1286.12 L977.19 1286.12 L977.91 1286.12 L978.62 1286.12 L979.34 1286.12 L980.06 1286.12 L980.78 1286.12 L981.49 1286.12 L982.21 1286.12 L982.93 1286.12 L983.64 1286.12 L984.36 1286.12 L985.08 1286.12 L985.8 1286.12 L986.51 1286.12 L987.23 1286.12 L987.95 1286.12 L988.67 1286.12 L989.38 1286.12 L990.1 1286.12 L990.82 1286.12 L991.53 1286.12 L992.25 1286.12 L992.97 1286.12 L993.69 1286.12 L994.4 1286.12 L995.12 1286.12 L995.84 1286.12 L996.56 1286.12 L997.27 1286.12 L997.99 1286.12 L998.71 1286.12 L999.43 1286.12 L1000.14 1286.12 L1000.86 1286.12 L1001.58 1286.12 L1002.29 1286.12 L1003.01 1286.12 L1003.73 1286.12 L1004.45 1286.12 L1005.16 1286.12 L1005.88 1286.12 L1006.6 1286.12 L1007.32 1286.12 L1008.03 1286.12 L1008.75 1286.12 L1009.47 1286.12 L1010.18 1286.12 L1010.9 1286.12 L1011.62 1286.12 L1012.34 1286.12 L1013.05 1286.12 L1013.77 1286.12 L1014.49 1286.12 L1015.21 1286.12 L1015.92 1286.12 L1016.64 1286.12 L1017.36 1286.12 L1018.07 1286.12 L1018.79 1286.12 L1019.51 1286.12 L1020.23 1286.12 L1020.94 1286.12 L1021.66 1286.12 L1022.38 1286.12 L1023.1 1286.12 L1023.81 1286.12 L1024.53 1286.12 L1025.25 1286.12 L1025.97 1286.12 L1026.68 1286.12 L1027.4 1286.12 L1028.12 1286.12 L1028.83 1286.12 L1029.55 1286.12 L1030.27 1286.12 L1030.99 1286.12 L1031.7 1286.12 L1032.42 1286.12 L1033.14 1286.12 L1033.86 1286.12 L1034.57 1286.12 L1035.29 1286.12 L1036.01 1286.12 L1036.72 1286.12 L1037.44 1286.12 L1038.16 1286.12 L1038.88 1286.12 L1039.59 1286.12 L1040.31 1286.12 L1041.03 1286.12 L1041.75 1286.12 L1042.46 1286.12 L1043.18 1286.12 L1043.9 1286.12 L1044.61 1286.12 L1045.33 1286.12 L1046.05 1286.12 L1046.77 1286.12 L1047.48 1286.12 L1048.2 1286.12 L1048.92 1286.12 L1049.64 1286.12 L1050.35 1286.12 L1051.07 1286.12 L1051.79 1286.12 L1052.51 1286.12 L1053.22 1286.12 L1053.94 1286.12 L1054.66 1286.12 L1055.37 1286.12 L1056.09 1286.12 L1056.81 1286.12 L1057.53 1286.12 L1058.24 1286.12 L1058.96 1286.12 L1059.44 1285.95 L1059.92 1285.32 L1060.16 1284.87 L1060.4 1284.25 L1060.63 1283.62 L1060.87 1282.92 L1061.11 1282.23 L1061.35 1281.56 L1061.59 1280.9 L1061.83 1280.37 L1062.07 1279.84 L1062.31 1279.39 L1062.55 1278.93 L1062.79 1278.44 L1063.03 1277.96 L1063.26 1277.5 L1063.5 1277.05 L1063.74 1276.67 L1063.98 1276.29 L1064.46 1275.79 L1065.18 1275.98 L1065.66 1276.91 L1065.89 1277.55 L1066.13 1278.38 L1066.37 1279.21 L1066.61 1280.11 L1066.85 1281.02 L1067.09 1281.86 L1067.33 1282.71 L1067.57 1283.37 L1067.81 1284.03 L1068.05 1284.57 L1068.29 1285.11 L1068.52 1285.67 L1068.76 1286.24 L1069 1286.8 L1069.24 1287.36 L1069.48 1287.9 L1069.72 1288.43 L1069.96 1288.92 L1070.2 1289.41 L1070.44 1289.82 L1070.68 1290.23 L1071.15 1290.86 L1071.63 1291.25 L1072.35 1291.34 L1073.07 1291.27 L1073.79 1291.13 L1074.5 1290.95 L1074.98 1290.8 L1075.46 1290.64 L1075.94 1290.48 L1076.42 1290.3 L1076.89 1290.09 L1077.37 1289.78 L1077.85 1289.4 L1078.33 1288.96 L1078.81 1288.47 L1079.28 1287.94 L1079.76 1287.38 L1080.24 1286.81 L1080.72 1286.23 L1081.2 1285.66 L1081.68 1285.11 L1082.15 1284.58 L1082.63 1284.1 L1083.11 1283.68 L1083.59 1283.31 L1084.07 1283.03 L1084.54 1282.8 L1085.02 1282.57 L1085.5 1282.35 L1085.98 1282.14 L1086.46 1281.94 L1086.94 1281.75 L1087.41 1281.59 L1087.89 1281.45 L1088.61 1281.29 L1089.33 1281.21 L1090.04 1281.21 L1090.76 1281.24 L1091.48 1281.31 L1092.2 1281.4 L1092.91 1281.51 L1093.63 1281.65 L1094.35 1281.8 L1095.07 1281.96 L1095.78 1282.14 L1096.26 1282.26 L1096.74 1282.39 L1097.22 1282.51 L1097.7 1282.64 L1098.17 1282.77 L1098.65 1282.9 L1099.13 1283.03 L1099.61 1283.15 L1100.33 1283.33 L1101.04 1283.5 L1101.76 1283.68 L1102.48 1283.86 L1102.96 1283.99 L1103.43 1284.11 L1103.91 1284.24 L1104.39 1284.38 L1104.87 1284.51 L1105.35 1284.65 L1105.82 1284.78 L1106.3 1284.93 L1106.78 1285.07 L1107.26 1285.21 L1107.74 1285.36 L1108.22 1285.51 L1108.69 1285.67 L1109.17 1285.82 L1109.65 1285.98 L1110.13 1286.14 L1110.61 1286.3 L1111.08 1286.46 L1111.56 1286.63 L1112.04 1286.8 L1112.52 1286.98 L1113 1287.17 L1113.48 1287.36 L1113.95 1287.57 L1114.43 1287.77 L1114.91 1287.99 L1115.39 1288.21 L1115.87 1288.43 L1116.34 1288.65 L1116.82 1288.87 L1117.3 1289.1 L1117.78 1289.32 L1118.26 1289.54 L1118.74 1289.76 L1119.21 1289.98 L1119.69 1290.19 L1120.17 1290.4 L1120.65 1290.6 L1121.13 1290.8 L1121.61 1290.98 L1122.08 1291.16 L1122.56 1291.33 L1123.04 1291.5 L1123.52 1291.66 L1124 1291.82 L1124.47 1291.98 L1124.95 1292.14 L1125.43 1292.3 L1125.91 1292.45 L1126.39 1292.6 L1126.87 1292.75 L1127.34 1292.9 L1127.82 1293.04 L1128.3 1293.19 L1128.78 1293.32 L1129.26 1293.46 L1129.73 1293.59 L1130.21 1293.72 L1130.69 1293.84 L1131.41 1294.02 L1132.13 1294.18 L1132.84 1294.34 L1133.56 1294.48 L1134.28 1294.62 L1134.99 1294.76 L1135.71 1294.9 L1136.43 1295.04 L1137.15 1295.18 L1137.86 1295.32 L1138.58 1295.45 L1139.3 1295.57 L1140.02 1295.68 L1140.73 1295.78 L1141.45 1295.87 L1142.17 1295.94 L1142.88 1296 L1143.6 1296.04 L1144.32 1296.06 L1145.04 1296.05 L1145.75 1296.02 L1146.47 1295.97 L1147.19 1295.89 L1147.91 1295.78 L1148.62 1295.66 L1149.34 1295.52 L1150.06 1295.37 L1150.78 1295.2 L1151.49 1295.02 L1151.97 1294.89 L1152.45 1294.76 L1152.93 1294.63 L1153.41 1294.5 L1153.88 1294.36 L1154.36 1294.22 L1154.84 1294.08 L1155.32 1293.94 L1155.8 1293.8 L1156.27 1293.65 L1156.75 1293.49 L1157.23 1293.31 L1157.71 1293.11 L1158.19 1292.91 L1158.67 1292.69 L1159.14 1292.46 L1159.62 1292.23 L1160.1 1291.98 L1160.58 1291.73 L1161.06 1291.46 L1161.53 1291.2 L1162.01 1290.92 L1162.49 1290.64 L1162.97 1290.35 L1163.45 1290.06 L1163.93 1289.77 L1164.4 1289.48 L1164.88 1289.18 L1165.36 1288.88 L1165.84 1288.58 L1166.32 1288.27 L1166.8 1287.97 L1167.27 1287.66 L1167.75 1287.34 L1168.23 1287.01 L1168.71 1286.67 L1169.19 1286.32 L1169.66 1285.97 L1170.14 1285.61 L1170.62 1285.25 L1171.1 1284.88 L1171.58 1284.51 L1172.06 1284.14 L1172.53 1283.76 L1173.01 1283.39 L1173.49 1283.01 L1173.97 1282.64 L1174.45 1282.26 L1174.92 1281.89 L1175.4 1281.51 L1175.88 1281.14 L1176.36 1280.77 L1176.84 1280.41 L1177.32 1280.04 L1177.79 1279.68 L1178.27 1279.32 L1178.75 1278.96 L1179.23 1278.6 L1179.71 1278.24 L1180.18 1277.88 L1180.66 1277.51 L1181.14 1277.15 L1181.62 1276.79 L1182.1 1276.43 L1182.58 1276.07 L1183.05 1275.71 L1183.53 1275.35 L1184.01 1274.99 L1184.49 1274.63 L1184.97 1274.27 L1185.44 1273.91 L1185.92 1273.56 L1186.4 1273.21 L1186.88 1272.85 L1187.36 1272.5 L1187.84 1272.15 L1188.31 1271.81 L1188.79 1271.46 L1189.27 1271.11 L1189.75 1270.77 L1190.23 1270.43 L1190.7 1270.09 L1191.18 1269.75 L1191.66 1269.42 L1192.14 1269.09 L1192.62 1268.76 L1193.1 1268.44 L1193.57 1268.12 L1194.05 1267.8 L1194.53 1267.49 L1195.01 1267.18 L1195.49 1266.88 L1195.97 1266.59 L1196.44 1266.29 L1196.92 1266.01 L1197.4 1265.73 L1197.88 1265.45 L1198.36 1265.18 L1198.83 1264.91 L1199.31 1264.65 L1199.79 1264.4 L1200.27 1264.15 L1200.75 1263.9 L1201.23 1263.66 L1201.7 1263.43 L1202.18 1263.2 L1202.66 1262.98 L1203.14 1262.76 L1203.62 1262.55 L1204.09 1262.35 L1204.57 1262.16 L1205.05 1261.97 L1205.53 1261.79 L1206.01 1261.62 L1206.49 1261.46 L1206.96 1261.3 L1207.44 1261.15 L1207.92 1261.01 L1208.4 1260.88 L1208.88 1260.75 L1209.59 1260.58 L1210.31 1260.43 L1211.03 1260.3 L1211.75 1260.18 L1212.46 1260.09 L1213.18 1260.01 L1213.9 1259.96 L1214.62 1259.92 L1215.33 1259.9 L1216.05 1259.91 L1216.77 1259.93 L1217.48 1259.98 L1218.2 1260.04 L1218.92 1260.12 L1219.64 1260.23 L1220.35 1260.36 L1221.07 1260.5 L1221.79 1260.67 L1222.27 1260.79 L1222.74 1260.92 L1223.22 1261.06 L1223.7 1261.21 L1224.18 1261.37 L1224.66 1261.53 L1225.14 1261.71 L1225.61 1261.89 L1226.09 1262.09 L1226.57 1262.29 L1227.05 1262.5 L1227.53 1262.72 L1228 1262.95 L1228.48 1263.19 L1228.96 1263.43 L1229.44 1263.69 L1229.92 1263.95 L1230.4 1264.22 L1230.87 1264.5 L1231.35 1264.79 L1231.83 1265.09 L1232.31 1265.39 L1232.79 1265.71 L1233.26 1266.03 L1233.74 1266.35 L1234.22 1266.69 L1234.7 1267.04 L1235.18 1267.39 L1235.66 1267.75 L1236.13 1268.11 L1236.61 1268.49 L1237.09 1268.87 L1237.57 1269.26 L1238.05 1269.66 L1238.53 1270.06 L1239 1270.47 L1239.48 1270.89 L1239.96 1271.32 L1240.44 1271.75 L1240.92 1272.19 L1241.39 1272.64 L1241.87 1273.09 L1242.35 1273.55 L1242.83 1274.02 L1243.31 1274.5 L1243.79 1274.99 L1244.26 1275.48 L1244.74 1275.98 L1245.22 1276.48 L1245.7 1277 L1246.18 1277.52 L1246.65 1278.06 L1247.13 1278.59 L1247.61 1279.14 L1248.09 1279.7 L1248.57 1280.27 L1249.05 1280.84 L1249.52 1281.42 L1250 1282.01 L1250.48 1282.62 L1250.96 1283.23 L1251.44 1283.85 L1251.91 1284.48 L1252.39 1285.11 L1252.87 1285.76 L1253.35 1286.42 L1253.83 1287.09 L1254.31 1287.77 L1254.78 1288.46 L1255.26 1289.16 L1255.74 1289.86 L1256.22 1290.58 L1256.46 1290.95 L1256.7 1291.31 L1256.94 1291.68 L1257.17 1292.05 L1257.41 1292.42 L1257.65 1292.8 L1257.89 1293.18 L1258.13 1293.56 L1258.37 1293.94 L1258.61 1294.33 L1258.85 1294.71 L1259.09 1295.1 L1259.33 1295.5 L1259.57 1295.89 L1259.8 1296.29 L1260.04 1296.69 L1260.28 1297.09 L1260.52 1297.5 L1260.76 1297.9 L1261 1298.31 L1261.24 1298.72 L1261.48 1299.14 L1261.72 1299.55 L1261.96 1299.97 L1262.2 1300.39 L1262.43 1300.81 L1262.67 1301.24 L1262.91 1301.66 L1263.15 1302.09 L1263.39 1302.52 L1263.63 1302.95 L1263.87 1303.39 L1264.11 1303.83 L1264.35 1304.26 L1264.59 1304.7 L1264.83 1305.14 L1265.07 1305.59 L1265.3 1306.03 L1265.54 1306.48 L1265.78 1306.93 L1266.02 1307.38 L1266.26 1307.83 L1266.5 1308.28 L1266.74 1308.74 L1266.98 1309.19 L1267.22 1309.65 L1267.46 1310.11 L1267.7 1310.57 L1267.93 1311.03 L1268.17 1311.5 L1268.41 1311.96 L1268.65 1312.42 L1268.89 1312.89 L1269.13 1313.36 L1269.37 1313.83 L1269.61 1314.3 L1269.85 1314.77 L1270.09 1315.24 L1270.33 1315.71 L1270.56 1316.18 L1270.8 1316.66 L1271.04 1317.13 L1271.28 1317.61 L1271.52 1318.09 L1271.76 1318.56 L1272 1319.04 L1272.24 1319.52 L1272.48 1320 L1272.72 1320.48 L1272.96 1320.96 L1273.19 1321.44 L1273.43 1321.92 L1273.67 1322.4 L1273.91 1322.88 L1274.15 1323.36 L1274.39 1323.85 L1274.63 1324.33 L1274.87 1324.81 L1275.11 1325.29 L1275.35 1325.78 L1275.59 1326.26 L1275.82 1326.75 L1276.06 1327.23 L1276.3 1327.71 L1276.54 1328.2 L1276.78 1328.68 L1277.02 1329.17 L1277.26 1329.65 L1277.5 1330.14 L1277.74 1330.62 L1277.98 1331.11 L1278.22 1331.59 L1278.45 1332.08 L1278.69 1332.56 L1278.93 1333.05 L1279.17 1333.53 L1279.41 1334.02 L1279.65 1334.5 L1279.89 1334.99 L1280.13 1335.47 L1280.37 1335.96 L1280.61 1336.45 L1280.85 1336.93 L1281.08 1337.42 L1281.32 1337.9 L1281.56 1338.39 L1281.8 1338.87 L1282.04 1339.36 L1282.28 1339.84 L1282.52 1340.33 L1282.76 1340.82 L1283 1341.3 L1283.24 1341.79 L1283.48 1342.27 L1283.71 1342.76 L1283.95 1343.25 L1284.19 1343.73 L1284.43 1344.22 L1284.67 1344.71 L1284.91 1345.2 L1285.15 1345.68 L1285.39 1346.17 L1285.63 1346.66 L1285.87 1347.15 L1286.11 1347.64 L1286.35 1348.12 L1286.58 1348.61 L1286.82 1349.1 L1287.06 1349.59 L1287.3 1350.08 L1287.54 1350.57 L1287.78 1351.06 L1288.02 1351.55 L1288.26 1352.05 L1288.5 1352.54 L1288.74 1353.03 L1288.98 1353.52 L1289.21 1354.02 L1289.45 1354.51 L1289.69 1355.01 L1289.93 1355.5 L1290.17 1355.99 L1290.41 1356.49 L1290.65 1356.99 L1290.89 1357.48 L1291.13 1357.98 L1291.37 1358.48 L1291.61 1358.98 L1291.84 1359.48 L1292.08 1359.98 L1292.32 1360.48 L1292.56 1360.98 L1292.8 1361.48 L1293.04 1361.98 L1293.28 1362.48 L1293.52 1362.98 L1293.76 1363.49 L1294 1363.99 L1294.24 1364.5 L1294.47 1365 L1294.71 1365.51 L1294.95 1366.01 L1295.19 1366.52 L1295.43 1367.03 L1295.67 1367.53 L1295.91 1368.04 L1296.15 1368.55 L1296.39 1369.06 L1296.63 1369.57 L1296.87 1370.08 L1297.1 1370.59 L1297.34 1371.1 L1297.58 1371.62 L1297.82 1372.13 L1298.06 1372.64 L1298.3 1373.15 L1298.54 1373.67 L1298.78 1374.18 L1299.02 1374.7 L1299.26 1375.21 L1299.5 1375.73 L1299.73 1376.24 L1299.97 1376.76 L1300.21 1377.27 L1300.45 1377.79 L1300.69 1378.31 L1300.93 1378.83 L1301.17 1379.34 L1301.41 1379.86 L1301.65 1380.38 L1301.89 1380.9 L1302.13 1381.41 L1302.36 1381.93 L1302.6 1382.45 L1302.84 1382.97 L1303.08 1383.49 L1303.32 1384.01 L1303.56 1384.53 L1303.8 1385.05 L1304.04 1385.57 L1304.28 1386.08 L1304.52 1386.6 L1304.76 1387.12 L1304.99 1387.64 L1305.23 1388.16 L1305.47 1388.68 L1305.71 1389.2 L1305.95 1389.72 L1306.19 1390.23 L1306.43 1390.75 L1306.67 1391.27 L1306.91 1391.79 L1307.15 1392.31 L1307.39 1392.82 L1307.62 1393.34 L1307.86 1393.86 L1308.1 1394.37 L1308.34 1394.89 L1308.58 1395.4 L1308.82 1395.92 L1309.06 1396.43 L1309.3 1396.94 L1309.54 1397.46 L1309.78 1397.97 L1310.02 1398.48 L1310.26 1398.99 L1310.49 1399.5 L1310.73 1400.01 L1310.97 1400.52 L1311.21 1401.03 L1311.45 1401.54 L1311.69 1402.05 L1311.93 1402.55 L1312.17 1403.06 L1312.41 1403.56 L1312.65 1404.07 L1312.89 1404.57 L1313.12 1405.07 L1313.36 1405.57 L1313.6 1406.07 L1313.84 1406.57 L1314.08 1407.07 L1314.32 1407.56 L1314.56 1408.06 L1314.8 1408.56 L1315.04 1409.05 L1315.28 1409.54 L1315.52 1410.03 L1315.75 1410.52 L1315.99 1411.01 L1316.23 1411.5 L1316.47 1411.99 L1316.71 1412.47 L1316.95 1412.96 L1317.19 1413.44 L1317.43 1413.92 L1317.67 1414.4 L1317.91 1414.88 L1318.15 1415.36 L1318.38 1415.84 L1318.62 1416.31 L1318.86 1416.79 L1319.1 1417.26 L1319.34 1417.73 L1319.58 1418.2 L1319.82 1418.67 L1320.06 1419.13 L1320.3 1419.6 L1320.54 1420.06 L1320.78 1420.53 L1321.01 1420.99 L1321.25 1421.45 L1321.49 1421.91 L1321.73 1422.37 L1321.97 1422.82 L1322.21 1423.28 L1322.45 1423.73 L1322.69 1424.18 L1322.93 1424.63 L1323.17 1425.08 L1323.41 1425.53 L1323.64 1425.97 L1323.88 1426.42 L1324.12 1426.86 L1324.36 1427.31 L1324.6 1427.75 L1324.84 1428.19 L1325.08 1428.62 L1325.32 1429.06 L1325.56 1429.5 L1325.8 1429.93 L1326.04 1430.36 L1326.27 1430.79 L1326.51 1431.22 L1326.75 1431.65 L1326.99 1432.08 L1327.23 1432.51 L1327.47 1432.93 L1327.71 1433.36 L1327.95 1433.78 L1328.19 1434.2 L1328.43 1434.62 L1328.67 1435.04 L1328.9 1435.46 L1329.14 1435.87 L1329.38 1436.29 L1329.62 1436.7 L1329.86 1437.12 L1330.1 1437.53 L1330.34 1437.94 L1330.58 1438.35 L1330.82 1438.76 L1331.06 1439.16 L1331.3 1439.57 L1331.53 1439.97 L1331.77 1440.38 L1332.01 1440.78 L1332.25 1441.18 L1332.49 1441.58 L1332.73 1441.98 L1332.97 1442.38 L1333.21 1442.78 L1333.45 1443.18 L1333.69 1443.57 L1333.93 1443.96 L1334.16 1444.36 L1334.4 1444.75 L1334.64 1445.14 L1334.88 1445.53 L1335.12 1445.92 L1335.36 1446.31 L1335.6 1446.7 L1335.84 1447.08 L1336.08 1447.47 L1336.32 1447.85 L1336.56 1448.23 L1336.8 1448.62 L1337.03 1449 L1337.27 1449.38 L1337.51 1449.76 L1337.75 1450.14 L1337.99 1450.51 L1338.23 1450.89 L1338.47 1451.26 L1338.71 1451.64 L1338.95 1452.01 L1339.19 1452.38 L1339.43 1452.76 L1339.66 1453.13 L1339.9 1453.5 L1340.14 1453.86 L1340.38 1454.23 L1340.62 1454.6 L1340.86 1454.96 L1341.1 1455.33 L1341.34 1455.69 L1341.58 1456.06 L1341.82 1456.42 L1342.29 1457.14 L1342.77 1457.85 L1343.25 1458.57 L1343.73 1459.27 L1344.21 1459.98 L1344.69 1460.68 L1345.16 1461.38 L1345.64 1462.07 L1346.12 1462.76 L1346.6 1463.44 L1347.08 1464.12 L1347.55 1464.8 L1348.03 1465.47 L1348.51 1466.14 L1348.99 1466.81 L1349.47 1467.47 L1349.95 1468.13 L1350.42 1468.78 L1350.9 1469.43 L1351.38 1470.08 L1351.86 1470.72 L1352.34 1471.36 L1352.81 1471.99 L1353.29 1472.62 L1353.77 1473.25 L1354.25 1473.87 L1354.73 1474.49 L1355.21 1475.11 L1355.68 1475.72 L1356.16 1476.33 L1356.64 1476.93 L1357.12 1477.53 L1357.6 1478.13 L1358.08 1478.72 L1358.55 1479.31 L1359.03 1479.9 L1359.51 1480.48 L1359.99 1481.06 L1360.47 1481.63 L1360.94 1482.2 L1361.42 1482.77 L1361.9 1483.33 L1362.38 1483.89 L1362.86 1484.45 L1363.34 1485 L1363.81 1485.55 L1364.29 1486.09 L1364.77 1486.64 L1365.25 1487.17 L1365.73 1487.71 L1366.2 1488.23 L1366.68 1488.76 L1367.16 1489.28 L1367.64 1489.8 L1368.12 1490.31 L1368.6 1490.82 L1369.07 1491.33 L1369.55 1491.83 L1370.03 1492.32 L1370.51 1492.82 L1370.99 1493.3 L1371.46 1493.79 L1371.94 1494.27 L1372.42 1494.74 L1372.9 1495.22 L1373.38 1495.68 L1373.86 1496.15 L1374.33 1496.6 L1374.81 1497.06 L1375.29 1497.51 L1375.77 1497.95 L1376.25 1498.39 L1376.72 1498.83 L1377.2 1499.26 L1377.68 1499.69 L1378.16 1500.11 L1378.64 1500.53 L1379.12 1500.94 L1379.59 1501.35 L1380.07 1501.76 L1380.55 1502.16 L1381.03 1502.56 L1381.51 1502.95 L1381.99 1503.34 L1382.46 1503.72 L1382.94 1504.1 L1383.42 1504.48 L1383.9 1504.85 L1384.38 1505.22 L1384.85 1505.59 L1385.33 1505.95 L1385.81 1506.3 L1386.29 1506.66 L1386.77 1507.01 L1387.25 1507.36 L1387.72 1507.7 L1388.2 1508.04 L1388.68 1508.38 L1389.16 1508.71 L1389.64 1509.05 L1390.11 1509.37 L1390.59 1509.7 L1391.07 1510.02 L1391.55 1510.34 L1392.03 1510.66 L1392.51 1510.97 L1392.98 1511.29 L1393.46 1511.6 L1393.94 1511.9 L1394.42 1512.21 L1394.9 1512.51 L1395.37 1512.81 L1395.85 1513.11 L1396.33 1513.4 L1396.81 1513.69 L1397.29 1513.98 L1397.77 1514.27 L1398.24 1514.56 L1398.72 1514.84 L1399.2 1515.12 L1399.68 1515.4 L1400.16 1515.67 L1400.63 1515.95 L1401.11 1516.22 L1401.59 1516.49 L1402.07 1516.75 L1402.55 1517.02 L1403.03 1517.28 L1403.5 1517.54 L1403.98 1517.8 L1404.46 1518.05 L1404.94 1518.31 L1405.42 1518.56 L1405.89 1518.8 L1406.37 1519.05 L1406.85 1519.29 L1407.33 1519.53 L1407.81 1519.77 L1408.29 1520 L1408.76 1520.24 L1409.24 1520.47 L1409.72 1520.69 L1410.2 1520.92 L1410.68 1521.14 L1411.16 1521.36 L1411.63 1521.58 L1412.11 1521.79 L1412.59 1522 L1413.07 1522.21 L1413.55 1522.42 L1414.02 1522.62 L1414.5 1522.82 L1414.98 1523.02 L1415.46 1523.22 L1415.94 1523.41 L1416.42 1523.6 L1416.89 1523.79 L1417.37 1523.97 L1417.85 1524.15 L1418.33 1524.33 L1418.81 1524.51 L1419.28 1524.68 L1419.76 1524.85 L1420.24 1525.02 L1420.72 1525.19 L1421.2 1525.35 L1421.68 1525.51 L1422.15 1525.67 L1422.63 1525.82 L1423.11 1525.97 L1423.59 1526.12 L1424.07 1526.27 L1424.54 1526.41 L1425.02 1526.55 L1425.5 1526.69 L1425.98 1526.83 L1426.46 1526.96 L1426.94 1527.09 L1427.41 1527.22 L1427.89 1527.34 L1428.37 1527.46 L1429.09 1527.64 L1429.81 1527.82 L1430.52 1527.98 L1431.24 1528.15 L1431.96 1528.3 L1432.67 1528.45 L1433.39 1528.6 L1434.11 1528.73 L1434.83 1528.87 L1435.54 1529 L1436.26 1529.12 L1436.98 1529.24 L1437.7 1529.35 L1438.41 1529.45 L1439.13 1529.55 L1439.85 1529.65 L1440.56 1529.74 L1441.28 1529.82 L1442 1529.9 L1442.72 1529.97 L1443.43 1530.04 L1444.15 1530.1 L1444.87 1530.16 L1445.59 1530.21 L1446.3 1530.25 L1447.02 1530.29 L1447.74 1530.32 L1448.45 1530.35 L1449.17 1530.37 L1449.89 1530.38 L1450.61 1530.39 L1451.32 1530.39 L1452.04 1530.39 L1452.76 1530.37 L1453.48 1530.36 L1454.19 1530.33 L1454.91 1530.3 L1455.63 1530.26 L1456.35 1530.22 L1457.06 1530.17 L1457.78 1530.11 L1458.5 1530.05 L1459.21 1529.98 L1459.93 1529.9 L1460.65 1529.82 L1461.37 1529.73 L1462.08 1529.64 L1462.8 1529.54 L1463.52 1529.44 L1464.24 1529.33 L1464.95 1529.21 L1465.67 1529.09 L1466.39 1528.96 L1467.1 1528.83 L1467.82 1528.69 L1468.54 1528.55 L1469.26 1528.4 L1469.97 1528.25 L1470.69 1528.09 L1471.41 1527.93 L1472.13 1527.76 L1472.84 1527.59 L1473.56 1527.41 L1474.04 1527.28 L1474.52 1527.16 L1474.99 1527.03 L1475.47 1526.9 L1475.95 1526.77 L1476.43 1526.63 L1476.91 1526.5 L1477.39 1526.36 L1477.86 1526.21 L1478.34 1526.07 L1478.82 1525.92 L1479.3 1525.77 L1479.78 1525.62 L1480.26 1525.46 L1480.73 1525.3 L1481.21 1525.14 L1481.69 1524.98 L1482.17 1524.81 L1482.65 1524.64 L1483.12 1524.47 L1483.6 1524.3 L1484.08 1524.12 L1484.56 1523.94 L1485.04 1523.76 L1485.52 1523.57 L1485.99 1523.38 L1486.47 1523.19 L1486.95 1523 L1487.43 1522.8 L1487.91 1522.6 L1488.38 1522.39 L1488.86 1522.19 L1489.34 1521.98 L1489.82 1521.77 L1490.3 1521.55 L1490.78 1521.33 L1491.25 1521.11 L1491.73 1520.89 L1492.21 1520.66 L1492.69 1520.43 L1493.17 1520.2 L1493.64 1519.96 L1494.12 1519.72 L1494.6 1519.48 L1495.08 1519.23 L1495.56 1518.98 L1496.04 1518.73 L1496.51 1518.47 L1496.99 1518.22 L1497.47 1517.96 L1497.95 1517.69 L1498.43 1517.43 L1498.9 1517.16 L1499.38 1516.89 L1499.86 1516.61 L1500.34 1516.34 L1500.82 1516.06 L1501.3 1515.77 L1501.77 1515.49 L1502.25 1515.2 L1502.73 1514.92 L1503.21 1514.63 L1503.69 1514.33 L1504.17 1514.04 L1504.64 1513.74 L1505.12 1513.45 L1505.6 1513.15 L1506.08 1512.85 L1506.56 1512.55 L1507.03 1512.25 L1507.51 1511.94 L1507.99 1511.64 L1508.47 1511.33 L1508.95 1511.03 L1509.43 1510.72 L1509.9 1510.41 L1510.38 1510.11 L1510.86 1509.8 L1511.34 1509.49 L1511.82 1509.19 L1512.29 1508.88 L1512.77 1508.57 L1513.25 1508.26 L1513.73 1507.96 L1514.21 1507.65 L1514.69 1507.34 L1515.16 1507.04 L1515.64 1506.73 L1516.12 1506.43 L1516.6 1506.12 L1517.08 1505.82 L1517.55 1505.52 L1518.03 1505.21 L1518.51 1504.91 L1518.99 1504.61 L1519.47 1504.31 L1519.95 1504.01 L1520.42 1503.71 L1520.9 1503.41 L1521.38 1503.11 L1521.86 1502.81 L1522.34 1502.51 L1522.81 1502.22 L1523.29 1501.92 L1523.77 1501.62 L1524.25 1501.33 L1524.73 1501.03 L1525.21 1500.73 L1525.68 1500.44 L1526.16 1500.14 L1526.64 1499.85 L1527.12 1499.55 L1527.6 1499.26 L1528.08 1498.96 L1528.55 1498.67 L1529.03 1498.37 L1529.51 1498.08 L1529.99 1497.78 L1530.47 1497.49 L1530.94 1497.19 L1531.42 1496.89 L1531.9 1496.6 L1532.38 1496.3 L1532.86 1496.01 L1533.34 1495.71 L1533.81 1495.41 L1534.29 1495.11 L1534.77 1494.82 L1535.25 1494.52 L1535.73 1494.22 L1536.2 1493.92 L1536.68 1493.62 L1537.16 1493.32 L1537.64 1493.02 L1538.12 1492.72 L1538.6 1492.42 L1539.07 1492.12 L1539.55 1491.81 L1540.03 1491.51 L1540.51 1491.21 L1540.99 1490.9 L1541.46 1490.6 L1541.94 1490.29 L1542.42 1489.99 L1542.9 1489.68 L1543.38 1489.37 L1543.86 1489.07 L1544.33 1488.76 L1544.81 1488.45 L1545.29 1488.14 L1545.77 1487.83 L1546.25 1487.52 L1546.72 1487.21 L1547.2 1486.9 L1547.68 1486.59 L1548.16 1486.28 L1548.64 1485.96 L1549.12 1485.65 L1549.59 1485.34 L1550.07 1485.02 L1550.55 1484.71 L1551.03 1484.39 L1551.51 1484.07 L1551.99 1483.76 L1552.46 1483.44 L1552.94 1483.12 L1553.42 1482.8 L1553.9 1482.48 L1554.38 1482.16 L1554.85 1481.84 L1555.33 1481.52 L1555.81 1481.2 L1556.29 1480.88 L1556.77 1480.56 L1557.25 1480.23 L1557.72 1479.91 L1558.2 1479.58 L1558.68 1479.26 L1559.16 1478.93 L1559.64 1478.61 L1560.11 1478.28 L1560.59 1477.95 L1561.07 1477.62 L1561.55 1477.3 L1562.03 1476.97 L1562.51 1476.64 L1562.98 1476.31 L1563.46 1475.98 L1563.94 1475.64 L1564.42 1475.31 L1564.9 1474.98 L1565.37 1474.65 L1565.85 1474.31 L1566.33 1473.98 L1566.81 1473.65 L1567.29 1473.31 L1567.77 1472.98 L1568.24 1472.64 L1568.72 1472.31 L1569.2 1471.97 L1569.68 1471.64 L1570.16 1471.3 L1570.63 1470.97 L1571.11 1470.63 L1571.59 1470.29 L1572.07 1469.96 L1572.55 1469.62 L1573.03 1469.29 L1573.5 1468.95 L1573.98 1468.61 L1574.46 1468.28 L1574.94 1467.94 L1575.42 1467.61 L1575.9 1467.27 L1576.37 1466.94 L1576.85 1466.6 L1577.33 1466.27 L1577.81 1465.94 L1578.29 1465.6 L1578.76 1465.27 L1579.24 1464.94 L1579.72 1464.6 L1580.2 1464.27 L1580.68 1463.94 L1581.16 1463.61 L1581.63 1463.28 L1582.11 1462.95 L1582.59 1462.62 L1583.07 1462.29 L1583.55 1461.97 L1584.02 1461.64 L1584.5 1461.31 L1584.98 1460.99 L1585.46 1460.66 L1585.94 1460.34 L1586.42 1460.01 L1586.89 1459.69 L1587.37 1459.37 L1587.85 1459.05 L1588.33 1458.73 L1588.81 1458.41 L1589.28 1458.09 L1589.76 1457.77 L1590.24 1457.45 L1590.72 1457.14 L1591.2 1456.82 L1591.68 1456.5 L1592.15 1456.19 L1592.63 1455.87 L1593.11 1455.56 L1593.59 1455.25 L1594.07 1454.94 L1594.54 1454.62 L1595.02 1454.31 L1595.5 1454 L1595.98 1453.69 L1596.46 1453.38 L1596.94 1453.07 L1597.41 1452.77 L1597.89 1452.46 L1598.37 1452.15 L1598.85 1451.84 L1599.33 1451.54 L1599.81 1451.23 L1600.28 1450.93 L1600.76 1450.62 L1601.24 1450.32 L1601.72 1450.01 L1602.2 1449.71 L1602.67 1449.4 L1603.15 1449.1 L1603.63 1448.79 L1604.11 1448.49 L1604.59 1448.19 L1605.07 1447.89 L1605.54 1447.58 L1606.02 1447.28 L1606.5 1446.98 L1606.98 1446.67 L1607.46 1446.37 L1607.93 1446.07 L1608.41 1445.77 L1608.89 1445.46 L1609.37 1445.16 L1609.85 1444.86 L1610.33 1444.56 L1610.8 1444.25 L1611.28 1443.95 L1611.76 1443.65 L1612.24 1443.35 L1612.72 1443.04 L1613.19 1442.74 L1613.67 1442.44 L1614.15 1442.13 L1614.63 1441.83 L1615.11 1441.52 L1615.59 1441.22 L1616.06 1440.92 L1616.54 1440.61 L1617.02 1440.31 L1617.5 1440 L1617.98 1439.7 L1618.45 1439.39 L1618.93 1439.09 L1619.41 1438.78 L1619.89 1438.47 L1620.37 1438.17 L1620.85 1437.86 L1621.32 1437.55 L1621.8 1437.25 L1622.28 1436.94 L1622.76 1436.63 L1623.24 1436.33 L1623.72 1436.02 L1624.19 1435.71 L1624.67 1435.4 L1625.15 1435.1 L1625.63 1434.79 L1626.11 1434.48 L1626.58 1434.17 L1627.06 1433.87 L1627.54 1433.56 L1628.02 1433.25 L1628.5 1432.94 L1628.98 1432.64 L1629.45 1432.33 L1629.93 1432.02 L1630.41 1431.72 L1630.89 1431.41 L1631.37 1431.11 L1631.84 1430.8 L1632.32 1430.5 L1632.8 1430.19 L1633.28 1429.89 L1633.76 1429.58 L1634.24 1429.28 L1634.71 1428.98 L1635.19 1428.68 L1635.67 1428.38 L1636.15 1428.08 L1636.63 1427.78 L1637.1 1427.48 L1637.58 1427.18 L1638.06 1426.88 L1638.54 1426.59 L1639.02 1426.29 L1639.5 1426 L1639.97 1425.7 L1640.45 1425.41 L1640.93 1425.12 L1641.41 1424.83 L1641.89 1424.54 L1642.36 1424.25 L1642.84 1423.96 L1643.32 1423.67 L1643.8 1423.38 L1644.28 1423.1 L1644.76 1422.82 L1645.23 1422.53 L1645.71 1422.25 L1646.19 1421.97 L1646.67 1421.69 L1647.15 1421.41 L1647.63 1421.13 L1648.1 1420.86 L1648.58 1420.58 L1649.06 1420.31 L1649.54 1420.03 L1650.02 1419.76 L1650.49 1419.49 L1650.97 1419.22 L1651.45 1418.95 L1651.93 1418.68 L1652.41 1418.41 L1652.89 1418.14 L1653.36 1417.88 L1653.84 1417.61 L1654.32 1417.35 L1654.8 1417.09 L1655.28 1416.82 L1655.75 1416.56 L1656.23 1416.3 L1656.71 1416.04 L1657.19 1415.78 L1657.67 1415.53 L1658.15 1415.27 L1658.62 1415.01 L1659.1 1414.76 L1659.58 1414.5 L1660.06 1414.25 L1660.54 1414 L1661.01 1413.74 L1661.49 1413.49 L1661.97 1413.24 L1662.45 1412.99 L1662.93 1412.74 L1663.41 1412.49 L1663.88 1412.24 L1664.36 1412 L1664.84 1411.75 L1665.32 1411.5 L1665.8 1411.26 L1666.27 1411.01 L1666.75 1410.77 L1667.23 1410.52 L1667.71 1410.28 L1668.19 1410.04 L1668.67 1409.8 L1669.14 1409.55 L1669.62 1409.31 L1670.1 1409.07 L1670.58 1408.83 L1671.06 1408.59 L1671.54 1408.35 L1672.01 1408.12 L1672.49 1407.88 L1672.97 1407.64 L1673.45 1407.4 L1673.93 1407.17 L1674.4 1406.93 L1674.88 1406.7 L1675.36 1406.46 L1675.84 1406.23 L1676.32 1405.99 L1676.8 1405.76 L1677.27 1405.53 L1677.75 1405.29 L1678.23 1405.06 L1678.71 1404.83 L1679.19 1404.6 L1679.66 1404.37 L1680.14 1404.14 L1680.62 1403.91 L1681.1 1403.68 L1681.58 1403.45 L1682.06 1403.22 L1682.53 1402.99 L1683.01 1402.76 L1683.49 1402.54 L1683.97 1402.31 L1684.45 1402.08 L1684.92 1401.86 L1685.4 1401.63 L1685.88 1401.41 L1686.36 1401.18 L1686.84 1400.96 L1687.32 1400.73 L1687.79 1400.51 L1688.27 1400.29 L1688.75 1400.07 L1689.23 1399.85 L1689.71 1399.62 L1690.18 1399.4 L1690.66 1399.18 L1691.14 1398.96 L1691.62 1398.75 L1692.1 1398.53 L1692.58 1398.31 L1693.05 1398.09 L1693.53 1397.87 L1694.01 1397.66 L1694.49 1397.44 L1694.97 1397.23 L1695.45 1397.01 L1695.92 1396.8 L1696.4 1396.59 L1696.88 1396.37 L1697.36 1396.16 L1697.84 1395.95 L1698.31 1395.74 L1698.79 1395.53 L1699.27 1395.32 L1699.75 1395.11 L1700.23 1394.9 L1700.71 1394.69 L1701.18 1394.48 L1701.66 1394.28 L1702.14 1394.07 L1702.62 1393.86 L1703.1 1393.66 L1703.57 1393.45 L1704.05 1393.25 L1704.53 1393.05 L1705.01 1392.84 L1705.49 1392.64 L1705.97 1392.44 L1706.44 1392.24 L1706.92 1392.04 L1707.4 1391.84 L1707.88 1391.64 L1708.36 1391.44 L1708.83 1391.25 L1709.31 1391.05 L1709.79 1390.85 L1710.27 1390.66 L1710.75 1390.46 L1711.23 1390.27 L1711.7 1390.07 L1712.18 1389.88 L1712.66 1389.68 L1713.14 1389.49 L1713.62 1389.3 L1714.09 1389.11 L1714.57 1388.92 L1715.05 1388.73 L1715.53 1388.54 L1716.01 1388.35 L1716.49 1388.16 L1716.96 1387.97 L1717.44 1387.78 L1717.92 1387.59 L1718.4 1387.4 L1718.88 1387.21 L1719.36 1387.03 L1719.83 1386.84 L1720.31 1386.65 L1720.79 1386.47 L1721.27 1386.28 L1721.75 1386.09 L1722.22 1385.91 L1722.7 1385.72 L1723.18 1385.54 L1723.66 1385.35 L1724.14 1385.17 L1724.62 1384.98 L1725.09 1384.8 L1725.57 1384.61 L1726.05 1384.43 L1726.53 1384.24 L1727.01 1384.06 L1727.48 1383.88 L1727.96 1383.69 L1728.44 1383.51 L1728.92 1383.32 L1729.4 1383.14 L1729.88 1382.96 L1730.35 1382.77 L1730.83 1382.59 L1731.31 1382.4 L1731.79 1382.22 L1732.27 1382.04 L1732.74 1381.85 L1733.22 1381.67 L1733.7 1381.49 L1734.18 1381.3 L1734.66 1381.12 L1735.14 1380.94 L1735.61 1380.75 L1736.09 1380.57 L1736.57 1380.39 L1737.05 1380.2 L1737.53 1380.02 L1738 1379.84 L1738.48 1379.65 L1738.96 1379.47 L1739.44 1379.29 L1739.92 1379.1 L1740.4 1378.92 L1740.87 1378.74 L1741.35 1378.56 L1741.83 1378.37 L1742.31 1378.19 L1742.79 1378.01 L1743.27 1377.82 L1743.74 1377.64 L1744.22 1377.46 L1744.7 1377.28 L1745.18 1377.09 L1745.66 1376.91 L1746.13 1376.73 L1746.61 1376.54 L1747.09 1376.36 L1747.57 1376.18 L1748.05 1376 L1748.53 1375.81 L1749 1375.63 L1749.48 1375.45 L1749.96 1375.26 L1750.44 1375.08 L1750.92 1374.9 L1751.39 1374.72 L1751.87 1374.53 L1752.35 1374.35 L1752.83 1374.17 L1753.31 1373.98 L1753.79 1373.8 L1754.26 1373.62 L1754.74 1373.44 L1755.22 1373.25 L1755.7 1373.07 L1756.18 1372.89 L1756.65 1372.7 L1757.13 1372.52 L1757.61 1372.34 L1758.09 1372.15 L1758.57 1371.97 L1759.05 1371.79 L1759.52 1371.6 L1760 1371.42 L1760.48 1371.23 L1760.96 1371.05 L1761.44 1370.87 L1761.91 1370.68 L1762.39 1370.5 L1762.87 1370.31 L1763.35 1370.13 L1763.83 1369.94 L1764.31 1369.76 L1764.78 1369.57 L1765.26 1369.39 L1765.74 1369.2 L1766.22 1369.02 L1766.7 1368.83 L1767.18 1368.65 L1767.65 1368.46 L1768.13 1368.28 L1768.61 1368.09 L1769.09 1367.9 L1769.57 1367.72 L1770.04 1367.53 L1770.52 1367.35 L1771 1367.16 L1771.48 1366.97 L1771.96 1366.79 L1772.44 1366.6 L1772.91 1366.41 L1773.39 1366.23 L1773.87 1366.04 L1774.35 1365.85 L1774.83 1365.66 L1775.3 1365.48 L1775.78 1365.29 L1776.26 1365.1 L1776.74 1364.92 L1777.22 1364.73 L1777.7 1364.54 L1778.17 1364.36 L1778.65 1364.17 L1779.13 1363.98 L1779.61 1363.8 L1780.09 1363.61 L1780.56 1363.42 L1781.04 1363.24 L1781.52 1363.05 L1782 1362.86 L1782.48 1362.68 L1782.96 1362.49 L1783.43 1362.31 L1783.91 1362.12 L1784.39 1361.94 L1784.87 1361.75 L1785.35 1361.57 L1785.82 1361.38 L1786.3 1361.2 L1786.78 1361.02 L1787.26 1360.83 L1787.74 1360.65 L1788.22 1360.47 L1788.69 1360.29 L1789.17 1360.11 L1789.65 1359.92 L1790.13 1359.74 L1790.61 1359.56 L1791.09 1359.38 L1791.56 1359.2 L1792.04 1359.02 L1792.52 1358.85 L1793 1358.67 L1793.48 1358.49 L1793.95 1358.31 L1794.43 1358.13 L1794.91 1357.96 L1795.39 1357.78 L1795.87 1357.61 L1796.35 1357.43 L1796.82 1357.26 L1797.3 1357.08 L1797.78 1356.91 L1798.26 1356.73 L1798.74 1356.56 L1799.21 1356.39 L1799.69 1356.22 L1800.17 1356.05 L1800.65 1355.88 L1801.13 1355.71 L1801.61 1355.54 L1802.08 1355.37 L1802.56 1355.2 L1803.04 1355.03 L1803.52 1354.86 L1804 1354.69 L1804.47 1354.53 L1804.95 1354.36 L1805.43 1354.2 L1805.91 1354.03 L1806.39 1353.87 L1806.87 1353.71 L1807.34 1353.55 L1807.82 1353.38 L1808.3 1353.22 L1808.78 1353.07 L1809.26 1352.91 L1809.73 1352.75 L1810.21 1352.59 L1810.69 1352.44 L1811.17 1352.29 L1811.65 1352.13 L1812.13 1351.98 L1812.6 1351.84 L1813.08 1351.69 L1813.56 1351.54 L1814.04 1351.4 L1814.52 1351.26 L1815 1351.12 L1815.47 1350.98 L1815.95 1350.85 L1816.43 1350.72 L1816.91 1350.59 L1817.39 1350.46 L1817.86 1350.33 L1818.58 1350.15 L1819.3 1349.98 L1820.02 1349.81 L1820.73 1349.65 L1821.45 1349.5 L1822.17 1349.35 L1822.89 1349.21 L1823.6 1349.08 L1824.32 1348.96 L1824.32 1348.96" stroke="#4dbeee"/>
<path d="M963.56 1286.12 L964.28 1286.12 L964.99 1286.12 L965.71 1286.12 L966.43 1286.12 L967.15 1286.12 L967.86 1286.12 L968.58 1286.12 L969.3 1286.12 L970.02 1286.12 L970.73 1286.12 L971.45 1286.12 L972.17 1286.12 L972.88 1286.12 L973.6 1286.12 L974.32 1286.12 L975.04 1286.12 L975.75 1286.12 L976.47 1286.12 L977.19 1286.12 L977.91 1286.12 L978.62 1286.12 L979.34 1286.12 L980.06 1286.12 L980.78 1286.12 L981.49 1286.12 L982.21 1286.12 L982.93 1286.12 L983.64 1286.12 L984.36 1286.12 L985.08 1286.12 L985.8 1286.12 L986.51 1286.12 L987.23 1286.12 L987.95 1286.12 L988.67 1286.12 L989.38 1286.12 L990.1 1286.12 L990.82 1286.12 L991.53 1286.12 L992.25 1286.12 L992.97 1286.12 L993.69 1286.12 L994.4 1286.12 L995.12 1286.12 L995.84 1286.12 L996.56 1286.12 L997.27 1286.12 L997.99 1286.12 L998.71 1286.12 L999.43 1286.12 L1000.14 1286.12 L1000.86 1286.12 L1001.58 1286.12 L1002.29 1286.12 L1003.01 1286.12 L1003.73 1286.12 L1004.45 1286.12 L1005.16 1286.12 L1005.88 1286.12 L1006.6 1286.12 L1007.32 1286.12 L1008.03 1286.12 L1008.75 1286.12 L1009.47 1286.12 L1010.18 1286.12 L1010.9 1286.12 L1011.62 1286.12 L1012.34 1286.12 L1013.05 1286.12 L1013.77 1286.12 L1014.49 1286.12 L1015.21 1286.12 L1015.92 1286.12 L1016.64 1286.12 L1017.36 1286.12 L1018.07 1286.12 L1018.79 1286.12 L1019.51 1286.12 L1020.23 1286.12 L1020.94 1286.12 L1021.66 1286.12 L1022.38 1286.12 L1023.1 1286.12 L1023.81 1286.12 L1024.53 1286.12 L1025.25 1286.12 L1025.97 1286.12 L1026.68 1286.12 L1027.4 1286.12 L1028.12 1286.12 L1028.83 1286.12 L1029.55 1286.12 L1030.27 1286.12 L1030.99 1286.12 L1031.7 1286.12 L1032.42 1286.12 L1033.14 1286.12 L1033.86 1286.12 L1034.57 1286.12 L1035.29 1286.12 L1036.01 1286.12 L1036.72 1286.12 L1037.44 1286.12 L1038.16 1286.12 L1038.88 1286.12 L1039.59 1286.12 L1040.31 1286.12 L1041.03 1286.12 L1041.75 1286.12 L1042.46 1286.12 L1043.18 1286.12 L1043.9 1286.12 L1044.61 1286.12 L1045.33 1286.12 L1046.05 1286.12 L1046.77 1286.12 L1047.48 1286.12 L1048.2 1286.12 L1048.92 1286.12 L1049.64 1286.12 L1050.35 1286.12 L1051.07 1286.12 L1051.79 1286.12 L1052.51 1286.12 L1053.22 1286.12 L1053.94 1286.12 L1054.66 1286.12 L1055.37 1286.12 L1056.09 1286.12 L1056.81 1286.12 L1057.53 1286.12 L1058.24 1286.12 L1058.96 1286.12 L1059.68 1286.12 L1060.4 1286.12 L1061.11 1286.12 L1061.83 1286.12 L1062.55 1286.12 L1063.26 1286.12 L1063.98 1286.12 L1064.7 1286.12 L1065.42 1286.1 L1066.13 1286 L1066.85 1285.85 L1067.33 1285.72 L1067.81 1285.58 L1068.29 1285.42 L1068.76 1285.26 L1069.24 1285.1 L1069.72 1284.95 L1070.2 1284.8 L1070.68 1284.66 L1071.39 1284.5 L1072.11 1284.33 L1072.83 1284.15 L1073.55 1283.97 L1074.26 1283.81 L1074.98 1283.66 L1075.7 1283.57 L1076.42 1283.51 L1077.13 1283.52 L1077.85 1283.59 L1078.57 1283.73 L1079.28 1283.92 L1079.76 1284.06 L1080.24 1284.22 L1080.72 1284.39 L1081.2 1284.57 L1081.68 1284.75 L1082.15 1284.94 L1082.63 1285.12 L1083.11 1285.3 L1083.59 1285.48 L1084.07 1285.64 L1084.54 1285.79 L1085.02 1285.92 L1085.74 1286.08 L1086.46 1286.2 L1087.17 1286.31 L1087.89 1286.42 L1088.61 1286.53 L1089.33 1286.64 L1090.04 1286.75 L1090.76 1286.85 L1091.48 1286.96 L1092.2 1287.06 L1092.91 1287.15 L1093.63 1287.25 L1094.35 1287.34 L1095.07 1287.43 L1095.78 1287.51 L1096.5 1287.59 L1097.22 1287.66 L1097.93 1287.74 L1098.65 1287.8 L1099.37 1287.87 L1100.09 1287.93 L1100.8 1287.98 L1101.52 1288.03 L1102.24 1288.07 L1102.96 1288.11 L1103.67 1288.14 L1104.39 1288.17 L1105.11 1288.19 L1105.82 1288.21 L1106.54 1288.22 L1107.26 1288.23 L1107.98 1288.24 L1108.69 1288.25 L1109.41 1288.25 L1110.13 1288.26 L1110.85 1288.27 L1111.56 1288.27 L1112.28 1288.28 L1113 1288.29 L1113.71 1288.29 L1114.43 1288.3 L1115.15 1288.3 L1115.87 1288.31 L1116.58 1288.31 L1117.3 1288.32 L1118.02 1288.32 L1118.74 1288.32 L1119.45 1288.33 L1120.17 1288.33 L1120.89 1288.34 L1121.61 1288.34 L1122.32 1288.34 L1123.04 1288.35 L1123.76 1288.35 L1124.47 1288.35 L1125.19 1288.36 L1125.91 1288.36 L1126.63 1288.36 L1127.34 1288.37 L1128.06 1288.37 L1128.78 1288.37 L1129.5 1288.38 L1130.21 1288.38 L1130.93 1288.39 L1131.65 1288.39 L1132.36 1288.4 L1133.08 1288.4 L1133.8 1288.41 L1134.52 1288.41 L1135.23 1288.42 L1135.95 1288.42 L1136.67 1288.43 L1137.39 1288.44 L1138.1 1288.45 L1138.82 1288.46 L1139.54 1288.47 L1140.25 1288.48 L1140.97 1288.49 L1141.69 1288.5 L1142.41 1288.51 L1143.12 1288.52 L1143.84 1288.53 L1144.56 1288.54 L1145.28 1288.56 L1145.99 1288.57 L1146.71 1288.58 L1147.43 1288.59 L1148.15 1288.6 L1148.86 1288.61 L1149.58 1288.63 L1150.3 1288.64 L1151.01 1288.65 L1151.73 1288.66 L1152.45 1288.67 L1153.17 1288.68 L1153.88 1288.69 L1154.6 1288.7 L1155.32 1288.7 L1156.04 1288.71 L1156.75 1288.72 L1157.47 1288.72 L1158.19 1288.73 L1158.9 1288.73 L1159.62 1288.73 L1160.34 1288.73 L1161.06 1288.73 L1161.77 1288.73 L1162.49 1288.73 L1163.21 1288.72 L1163.93 1288.72 L1164.64 1288.71 L1165.36 1288.7 L1166.08 1288.69 L1166.8 1288.67 L1167.51 1288.66 L1168.23 1288.64 L1168.95 1288.63 L1169.66 1288.61 L1170.38 1288.59 L1171.1 1288.57 L1171.82 1288.54 L1172.53 1288.52 L1173.25 1288.5 L1173.97 1288.47 L1174.69 1288.44 L1175.4 1288.41 L1176.12 1288.38 L1176.84 1288.34 L1177.55 1288.31 L1178.27 1288.27 L1178.99 1288.23 L1179.71 1288.19 L1180.42 1288.14 L1181.14 1288.09 L1181.86 1288.04 L1182.58 1287.99 L1183.29 1287.92 L1184.01 1287.85 L1184.73 1287.78 L1185.44 1287.7 L1186.16 1287.62 L1186.88 1287.53 L1187.6 1287.44 L1188.31 1287.35 L1189.03 1287.25 L1189.75 1287.15 L1190.47 1287.05 L1191.18 1286.94 L1191.9 1286.83 L1192.62 1286.72 L1193.34 1286.61 L1194.05 1286.49 L1194.77 1286.37 L1195.49 1286.25 L1196.2 1286.13 L1196.92 1286 L1197.64 1285.87 L1198.36 1285.74 L1199.07 1285.6 L1199.79 1285.47 L1200.51 1285.33 L1201.23 1285.19 L1201.94 1285.04 L1202.66 1284.9 L1203.38 1284.75 L1204.09 1284.61 L1204.81 1284.46 L1205.53 1284.31 L1206.25 1284.16 L1206.96 1284 L1207.68 1283.85 L1208.4 1283.7 L1209.12 1283.55 L1209.83 1283.39 L1210.55 1283.24 L1211.27 1283.09 L1211.98 1282.93 L1212.7 1282.78 L1213.42 1282.63 L1214.14 1282.48 L1214.85 1282.33 L1215.57 1282.18 L1216.29 1282.04 L1217.01 1281.89 L1217.72 1281.75 L1218.44 1281.61 L1219.16 1281.46 L1219.88 1281.33 L1220.59 1281.19 L1221.31 1281.05 L1222.03 1280.92 L1222.74 1280.79 L1223.46 1280.66 L1224.18 1280.53 L1224.9 1280.4 L1225.61 1280.28 L1226.33 1280.16 L1227.05 1280.04 L1227.77 1279.92 L1228.48 1279.8 L1229.2 1279.69 L1229.92 1279.58 L1230.63 1279.47 L1231.35 1279.36 L1232.07 1279.25 L1232.79 1279.15 L1233.5 1279.05 L1234.22 1278.95 L1234.94 1278.85 L1235.66 1278.76 L1236.37 1278.67 L1237.09 1278.58 L1237.81 1278.49 L1238.53 1278.4 L1239.24 1278.31 L1239.96 1278.23 L1240.68 1278.15 L1241.39 1278.07 L1242.11 1277.98 L1242.83 1277.91 L1243.55 1277.83 L1244.26 1277.75 L1244.98 1277.67 L1245.7 1277.6 L1246.42 1277.52 L1247.13 1277.45 L1247.85 1277.37 L1248.57 1277.29 L1249.28 1277.22 L1250 1277.15 L1250.72 1277.07 L1251.44 1277 L1252.15 1276.92 L1252.87 1276.85 L1253.59 1276.77 L1254.31 1276.7 L1255.02 1276.63 L1255.74 1276.56 L1256.46 1276.49 L1257.17 1276.42 L1257.89 1276.35 L1258.61 1276.28 L1259.33 1276.21 L1260.04 1276.15 L1260.76 1276.09 L1261.48 1276.03 L1262.2 1275.97 L1262.91 1275.91 L1263.63 1275.86 L1264.35 1275.81 L1265.07 1275.76 L1265.78 1275.71 L1266.5 1275.67 L1267.22 1275.63 L1267.93 1275.59 L1268.65 1275.56 L1269.37 1275.52 L1270.09 1275.49 L1270.8 1275.47 L1271.52 1275.44 L1272.24 1275.42 L1272.96 1275.41 L1273.67 1275.39 L1274.39 1275.38 L1275.11 1275.37 L1275.82 1275.36 L1276.54 1275.36 L1277.26 1275.36 L1277.98 1275.36 L1278.69 1275.37 L1279.41 1275.37 L1280.13 1275.38 L1280.85 1275.4 L1281.56 1275.41 L1282.28 1275.43 L1283 1275.45 L1283.71 1275.47 L1284.43 1275.5 L1285.15 1275.53 L1285.87 1275.56 L1286.58 1275.59 L1287.3 1275.62 L1288.02 1275.66 L1288.74 1275.7 L1289.45 1275.74 L1290.17 1275.78 L1290.89 1275.83 L1291.61 1275.87 L1292.32 1275.92 L1293.04 1275.97 L1293.76 1276.02 L1294.47 1276.07 L1295.19 1276.13 L1295.91 1276.19 L1296.63 1276.24 L1297.34 1276.3 L1298.06 1276.37 L1298.78 1276.43 L1299.5 1276.49 L1300.21 1276.56 L1300.93 1276.63 L1301.65 1276.7 L1302.36 1276.77 L1303.08 1276.84 L1303.8 1276.91 L1304.52 1276.99 L1305.23 1277.06 L1305.95 1277.14 L1306.67 1277.22 L1307.39 1277.3 L1308.1 1277.38 L1308.82 1277.46 L1309.54 1277.54 L1310.26 1277.63 L1310.97 1277.71 L1311.69 1277.8 L1312.41 1277.89 L1313.12 1277.97 L1313.84 1278.06 L1314.56 1278.15 L1315.28 1278.25 L1315.99 1278.34 L1316.71 1278.43 L1317.43 1278.53 L1318.15 1278.62 L1318.86 1278.72 L1319.58 1278.82 L1320.3 1278.92 L1321.01 1279.02 L1321.73 1279.12 L1322.45 1279.22 L1323.17 1279.33 L1323.88 1279.43 L1324.6 1279.54 L1325.32 1279.65 L1326.04 1279.76 L1326.75 1279.87 L1327.47 1279.99 L1328.19 1280.1 L1328.9 1280.22 L1329.62 1280.34 L1330.34 1280.46 L1331.06 1280.58 L1331.77 1280.71 L1332.49 1280.84 L1333.21 1280.97 L1333.93 1281.11 L1334.64 1281.25 L1335.36 1281.39 L1336.08 1281.53 L1336.8 1281.68 L1337.51 1281.83 L1338.23 1281.99 L1338.95 1282.15 L1339.66 1282.31 L1340.38 1282.48 L1341.1 1282.65 L1341.82 1282.83 L1342.53 1283.01 L1343.01 1283.13 L1343.49 1283.26 L1343.97 1283.39 L1344.45 1283.52 L1344.92 1283.65 L1345.4 1283.79 L1345.88 1283.93 L1346.36 1284.07 L1346.84 1284.21 L1347.32 1284.36 L1347.79 1284.51 L1348.27 1284.66 L1348.75 1284.81 L1349.23 1284.97 L1349.71 1285.13 L1350.18 1285.29 L1350.66 1285.45 L1351.14 1285.62 L1351.62 1285.79 L1352.1 1285.96 L1352.58 1286.13 L1353.05 1286.31 L1353.53 1286.49 L1354.01 1286.67 L1354.49 1286.85 L1354.97 1287.04 L1355.44 1287.23 L1355.92 1287.42 L1356.4 1287.61 L1356.88 1287.81 L1357.36 1288 L1357.84 1288.2 L1358.31 1288.4 L1358.79 1288.61 L1359.27 1288.81 L1359.75 1289.02 L1360.23 1289.23 L1360.71 1289.44 L1361.18 1289.65 L1361.66 1289.87 L1362.14 1290.08 L1362.62 1290.3 L1363.1 1290.52 L1363.57 1290.74 L1364.05 1290.97 L1364.53 1291.19 L1365.01 1291.42 L1365.49 1291.65 L1365.97 1291.88 L1366.44 1292.11 L1366.92 1292.34 L1367.4 1292.58 L1367.88 1292.81 L1368.36 1293.05 L1368.83 1293.29 L1369.31 1293.53 L1369.79 1293.77 L1370.27 1294.01 L1370.75 1294.26 L1371.23 1294.5 L1371.7 1294.75 L1372.18 1295 L1372.66 1295.24 L1373.14 1295.49 L1373.62 1295.75 L1374.09 1296 L1374.57 1296.25 L1375.05 1296.51 L1375.53 1296.76 L1376.01 1297.02 L1376.49 1297.28 L1376.96 1297.54 L1377.44 1297.8 L1377.92 1298.06 L1378.4 1298.33 L1378.88 1298.59 L1379.35 1298.86 L1379.83 1299.12 L1380.31 1299.39 L1380.79 1299.66 L1381.27 1299.93 L1381.75 1300.2 L1382.22 1300.47 L1382.7 1300.74 L1383.18 1301.02 L1383.66 1301.29 L1384.14 1301.57 L1384.62 1301.84 L1385.09 1302.12 L1385.57 1302.4 L1386.05 1302.68 L1386.53 1302.96 L1387.01 1303.24 L1387.48 1303.52 L1387.96 1303.8 L1388.44 1304.09 L1388.92 1304.37 L1389.4 1304.66 L1389.88 1304.94 L1390.35 1305.23 L1390.83 1305.52 L1391.31 1305.8 L1391.79 1306.09 L1392.27 1306.38 L1392.74 1306.67 L1393.22 1306.96 L1393.7 1307.25 L1394.18 1307.54 L1394.66 1307.83 L1395.14 1308.13 L1395.61 1308.42 L1396.09 1308.71 L1396.57 1309.01 L1397.05 1309.3 L1397.53 1309.59 L1398 1309.89 L1398.48 1310.18 L1398.96 1310.47 L1399.44 1310.77 L1399.92 1311.06 L1400.4 1311.36 L1400.87 1311.65 L1401.35 1311.94 L1401.83 1312.24 L1402.31 1312.53 L1402.79 1312.82 L1403.26 1313.12 L1403.74 1313.41 L1404.22 1313.7 L1404.7 1314 L1405.18 1314.29 L1405.66 1314.58 L1406.13 1314.87 L1406.61 1315.16 L1407.09 1315.46 L1407.57 1315.75 L1408.05 1316.04 L1408.53 1316.33 L1409 1316.62 L1409.48 1316.9 L1409.96 1317.19 L1410.44 1317.48 L1410.92 1317.77 L1411.39 1318.05 L1411.87 1318.34 L1412.35 1318.63 L1412.83 1318.91 L1413.31 1319.2 L1413.79 1319.48 L1414.26 1319.76 L1414.74 1320.04 L1415.22 1320.33 L1415.7 1320.61 L1416.18 1320.89 L1416.65 1321.17 L1417.13 1321.45 L1417.61 1321.72 L1418.09 1322 L1418.57 1322.28 L1419.05 1322.55 L1419.52 1322.83 L1420 1323.1 L1420.48 1323.38 L1420.96 1323.65 L1421.44 1323.92 L1421.91 1324.19 L1422.39 1324.47 L1422.87 1324.74 L1423.35 1325 L1423.83 1325.27 L1424.31 1325.54 L1424.78 1325.81 L1425.26 1326.07 L1425.74 1326.34 L1426.22 1326.6 L1426.7 1326.87 L1427.17 1327.13 L1427.65 1327.39 L1428.13 1327.66 L1428.61 1327.92 L1429.09 1328.18 L1429.57 1328.44 L1430.04 1328.69 L1430.52 1328.95 L1431 1329.21 L1431.48 1329.47 L1431.96 1329.72 L1432.44 1329.98 L1432.91 1330.23 L1433.39 1330.48 L1433.87 1330.74 L1434.35 1330.99 L1434.83 1331.24 L1435.3 1331.49 L1435.78 1331.74 L1436.26 1331.99 L1436.74 1332.24 L1437.22 1332.49 L1437.7 1332.74 L1438.17 1332.98 L1438.65 1333.23 L1439.13 1333.48 L1439.61 1333.72 L1440.09 1333.97 L1440.56 1334.21 L1441.04 1334.45 L1441.52 1334.7 L1442 1334.94 L1442.48 1335.18 L1442.96 1335.42 L1443.43 1335.66 L1443.91 1335.91 L1444.39 1336.15 L1444.87 1336.39 L1445.35 1336.62 L1445.82 1336.86 L1446.3 1337.1 L1446.78 1337.34 L1447.26 1337.58 L1447.74 1337.81 L1448.22 1338.05 L1448.69 1338.29 L1449.17 1338.52 L1449.65 1338.76 L1450.13 1338.99 L1450.61 1339.23 L1451.08 1339.46 L1451.56 1339.69 L1452.04 1339.93 L1452.52 1340.16 L1453 1340.39 L1453.48 1340.62 L1453.95 1340.85 L1454.43 1341.08 L1454.91 1341.31 L1455.39 1341.54 L1455.87 1341.77 L1456.35 1342 L1456.82 1342.23 L1457.3 1342.45 L1457.78 1342.68 L1458.26 1342.9 L1458.74 1343.13 L1459.21 1343.35 L1459.69 1343.57 L1460.17 1343.79 L1460.65 1344.01 L1461.13 1344.23 L1461.61 1344.45 L1462.08 1344.67 L1462.56 1344.89 L1463.04 1345.1 L1463.52 1345.32 L1464 1345.53 L1464.47 1345.74 L1464.95 1345.95 L1465.43 1346.16 L1465.91 1346.37 L1466.39 1346.58 L1466.87 1346.79 L1467.34 1346.99 L1467.82 1347.2 L1468.3 1347.4 L1468.78 1347.6 L1469.26 1347.8 L1469.73 1348 L1470.21 1348.2 L1470.69 1348.4 L1471.17 1348.6 L1471.65 1348.79 L1472.13 1348.98 L1472.6 1349.18 L1473.08 1349.37 L1473.56 1349.56 L1474.04 1349.75 L1474.52 1349.94 L1474.99 1350.12 L1475.47 1350.31 L1475.95 1350.5 L1476.43 1350.68 L1476.91 1350.86 L1477.39 1351.04 L1477.86 1351.22 L1478.34 1351.4 L1478.82 1351.58 L1479.3 1351.76 L1479.78 1351.94 L1480.26 1352.11 L1480.73 1352.29 L1481.21 1352.46 L1481.69 1352.64 L1482.17 1352.81 L1482.65 1352.98 L1483.12 1353.15 L1483.6 1353.32 L1484.08 1353.48 L1484.56 1353.65 L1485.04 1353.82 L1485.52 1353.98 L1485.99 1354.15 L1486.47 1354.31 L1486.95 1354.47 L1487.43 1354.64 L1487.91 1354.8 L1488.38 1354.96 L1488.86 1355.12 L1489.34 1355.27 L1489.82 1355.43 L1490.3 1355.59 L1490.78 1355.74 L1491.25 1355.9 L1491.73 1356.05 L1492.21 1356.21 L1492.69 1356.36 L1493.17 1356.51 L1493.64 1356.66 L1494.12 1356.81 L1494.6 1356.96 L1495.08 1357.11 L1495.56 1357.25 L1496.04 1357.4 L1496.51 1357.55 L1496.99 1357.69 L1497.47 1357.84 L1497.95 1357.98 L1498.43 1358.12 L1498.9 1358.26 L1499.38 1358.41 L1499.86 1358.55 L1500.34 1358.69 L1500.82 1358.83 L1501.3 1358.97 L1501.77 1359.1 L1502.25 1359.24 L1502.73 1359.38 L1503.21 1359.51 L1503.69 1359.65 L1504.17 1359.78 L1504.64 1359.92 L1505.12 1360.05 L1505.6 1360.18 L1506.08 1360.32 L1506.56 1360.45 L1507.03 1360.58 L1507.51 1360.71 L1507.99 1360.84 L1508.47 1360.97 L1508.95 1361.1 L1509.43 1361.23 L1509.9 1361.36 L1510.38 1361.48 L1510.86 1361.61 L1511.34 1361.73 L1511.82 1361.86 L1512.29 1361.98 L1512.77 1362.11 L1513.25 1362.23 L1513.73 1362.36 L1514.21 1362.48 L1514.92 1362.66 L1515.64 1362.84 L1516.36 1363.02 L1517.08 1363.2 L1517.79 1363.38 L1518.51 1363.55 L1519.23 1363.72 L1519.95 1363.9 L1520.66 1364.07 L1521.38 1364.24 L1522.1 1364.4 L1522.81 1364.57 L1523.53 1364.74 L1524.25 1364.9 L1524.97 1365.06 L1525.68 1365.22 L1526.4 1365.38 L1527.12 1365.53 L1527.84 1365.69 L1528.55 1365.84 L1529.27 1365.99 L1529.99 1366.14 L1530.71 1366.29 L1531.42 1366.44 L1532.14 1366.58 L1532.86 1366.72 L1533.57 1366.86 L1534.29 1367 L1535.01 1367.14 L1535.73 1367.28 L1536.44 1367.41 L1537.16 1367.54 L1537.88 1367.67 L1538.6 1367.8 L1539.31 1367.93 L1540.03 1368.05 L1540.75 1368.18 L1541.46 1368.3 L1542.18 1368.42 L1542.9 1368.54 L1543.62 1368.66 L1544.33 1368.77 L1545.05 1368.89 L1545.77 1369 L1546.49 1369.12 L1547.2 1369.23 L1547.92 1369.34 L1548.64 1369.45 L1549.36 1369.56 L1550.07 1369.67 L1550.79 1369.78 L1551.51 1369.88 L1552.22 1369.99 L1552.94 1370.1 L1553.66 1370.21 L1554.38 1370.31 L1555.09 1370.42 L1555.81 1370.52 L1556.53 1370.63 L1557.25 1370.74 L1557.96 1370.84 L1558.68 1370.95 L1559.4 1371.05 L1560.11 1371.16 L1560.83 1371.26 L1561.55 1371.37 L1562.27 1371.48 L1562.98 1371.58 L1563.7 1371.69 L1564.42 1371.79 L1565.14 1371.9 L1565.85 1372 L1566.57 1372.11 L1567.29 1372.21 L1568 1372.32 L1568.72 1372.42 L1569.44 1372.53 L1570.16 1372.63 L1570.87 1372.73 L1571.59 1372.84 L1572.31 1372.94 L1573.03 1373.04 L1573.74 1373.14 L1574.46 1373.24 L1575.18 1373.34 L1575.9 1373.44 L1576.61 1373.54 L1577.33 1373.63 L1578.05 1373.73 L1578.76 1373.83 L1579.48 1373.92 L1580.2 1374.01 L1580.92 1374.1 L1581.63 1374.19 L1582.35 1374.28 L1583.07 1374.37 L1583.79 1374.45 L1584.5 1374.54 L1585.22 1374.62 L1585.94 1374.71 L1586.65 1374.79 L1587.37 1374.87 L1588.09 1374.95 L1588.81 1375.02 L1589.52 1375.1 L1590.24 1375.17 L1590.96 1375.25 L1591.68 1375.32 L1592.39 1375.39 L1593.11 1375.46 L1593.83 1375.53 L1594.54 1375.6 L1595.26 1375.67 L1595.98 1375.73 L1596.7 1375.8 L1597.41 1375.86 L1598.13 1375.93 L1598.85 1375.99 L1599.57 1376.05 L1600.28 1376.11 L1601 1376.17 L1601.72 1376.23 L1602.44 1376.29 L1603.15 1376.35 L1603.87 1376.41 L1604.59 1376.47 L1605.3 1376.52 L1606.02 1376.58 L1606.74 1376.64 L1607.46 1376.69 L1608.17 1376.75 L1608.89 1376.8 L1609.61 1376.86 L1610.33 1376.91 L1611.04 1376.96 L1611.76 1377.02 L1612.48 1377.07 L1613.19 1377.12 L1613.91 1377.18 L1614.63 1377.23 L1615.35 1377.28 L1616.06 1377.33 L1616.78 1377.39 L1617.5 1377.44 L1618.22 1377.49 L1618.93 1377.54 L1619.65 1377.59 L1620.37 1377.64 L1621.09 1377.69 L1621.8 1377.74 L1622.52 1377.8 L1623.24 1377.85 L1623.95 1377.9 L1624.67 1377.95 L1625.39 1378 L1626.11 1378.04 L1626.82 1378.09 L1627.54 1378.14 L1628.26 1378.19 L1628.98 1378.24 L1629.69 1378.28 L1630.41 1378.33 L1631.13 1378.38 L1631.84 1378.42 L1632.56 1378.47 L1633.28 1378.51 L1634 1378.55 L1634.71 1378.59 L1635.43 1378.63 L1636.15 1378.67 L1636.87 1378.71 L1637.58 1378.75 L1638.3 1378.79 L1639.02 1378.82 L1639.73 1378.86 L1640.45 1378.89 L1641.17 1378.92 L1641.89 1378.95 L1642.6 1378.98 L1643.32 1379.01 L1644.04 1379.04 L1644.76 1379.06 L1645.47 1379.09 L1646.19 1379.11 L1646.91 1379.14 L1647.63 1379.16 L1648.34 1379.18 L1649.06 1379.2 L1649.78 1379.22 L1650.49 1379.24 L1651.21 1379.26 L1651.93 1379.27 L1652.65 1379.29 L1653.36 1379.3 L1654.08 1379.32 L1654.8 1379.33 L1655.52 1379.34 L1656.23 1379.36 L1656.95 1379.37 L1657.67 1379.38 L1658.38 1379.39 L1659.1 1379.4 L1659.82 1379.41 L1660.54 1379.42 L1661.25 1379.43 L1661.97 1379.43 L1662.69 1379.44 L1663.41 1379.45 L1664.12 1379.45 L1664.84 1379.45 L1665.56 1379.46 L1666.27 1379.46 L1666.99 1379.46 L1667.71 1379.46 L1668.43 1379.46 L1669.14 1379.46 L1669.86 1379.46 L1670.58 1379.46 L1671.3 1379.45 L1672.01 1379.44 L1672.73 1379.44 L1673.45 1379.43 L1674.17 1379.42 L1674.88 1379.41 L1675.6 1379.39 L1676.32 1379.38 L1677.03 1379.36 L1677.75 1379.34 L1678.47 1379.32 L1679.19 1379.3 L1679.9 1379.28 L1680.62 1379.25 L1681.34 1379.22 L1682.06 1379.19 L1682.77 1379.16 L1683.49 1379.13 L1684.21 1379.1 L1684.92 1379.06 L1685.64 1379.02 L1686.36 1378.98 L1687.08 1378.94 L1687.79 1378.9 L1688.51 1378.85 L1689.23 1378.8 L1689.95 1378.76 L1690.66 1378.71 L1691.38 1378.65 L1692.1 1378.6 L1692.82 1378.54 L1693.53 1378.48 L1694.25 1378.42 L1694.97 1378.36 L1695.68 1378.3 L1696.4 1378.23 L1697.12 1378.16 L1697.84 1378.09 L1698.55 1378.02 L1699.27 1377.95 L1699.99 1377.87 L1700.71 1377.8 L1701.42 1377.72 L1702.14 1377.63 L1702.86 1377.55 L1703.57 1377.47 L1704.29 1377.38 L1705.01 1377.29 L1705.73 1377.2 L1706.44 1377.1 L1707.16 1377.01 L1707.88 1376.91 L1708.6 1376.81 L1709.31 1376.71 L1710.03 1376.6 L1710.75 1376.5 L1711.46 1376.39 L1712.18 1376.28 L1712.9 1376.17 L1713.62 1376.05 L1714.33 1375.94 L1715.05 1375.82 L1715.77 1375.7 L1716.49 1375.58 L1717.2 1375.46 L1717.92 1375.33 L1718.64 1375.21 L1719.36 1375.08 L1720.07 1374.95 L1720.79 1374.81 L1721.51 1374.68 L1722.22 1374.54 L1722.94 1374.41 L1723.66 1374.27 L1724.38 1374.13 L1725.09 1373.98 L1725.81 1373.84 L1726.53 1373.69 L1727.25 1373.54 L1727.96 1373.4 L1728.68 1373.24 L1729.4 1373.09 L1730.11 1372.94 L1730.83 1372.78 L1731.55 1372.62 L1732.27 1372.46 L1732.98 1372.3 L1733.7 1372.14 L1734.42 1371.98 L1735.14 1371.81 L1735.85 1371.65 L1736.57 1371.48 L1737.29 1371.31 L1738 1371.14 L1738.72 1370.97 L1739.44 1370.8 L1740.16 1370.63 L1740.87 1370.45 L1741.59 1370.28 L1742.31 1370.11 L1743.03 1369.93 L1743.74 1369.76 L1744.46 1369.58 L1745.18 1369.4 L1745.9 1369.23 L1746.61 1369.05 L1747.33 1368.88 L1748.05 1368.7 L1748.76 1368.52 L1749.48 1368.35 L1750.2 1368.17 L1750.92 1367.99 L1751.63 1367.82 L1752.35 1367.64 L1753.07 1367.46 L1753.79 1367.29 L1754.5 1367.11 L1755.22 1366.94 L1755.94 1366.76 L1756.65 1366.59 L1757.37 1366.41 L1758.09 1366.24 L1758.81 1366.07 L1759.52 1365.89 L1760.24 1365.72 L1760.96 1365.55 L1761.68 1365.37 L1762.39 1365.2 L1763.11 1365.03 L1763.83 1364.86 L1764.55 1364.69 L1765.26 1364.52 L1765.98 1364.35 L1766.7 1364.19 L1767.41 1364.02 L1768.13 1363.85 L1768.85 1363.69 L1769.57 1363.52 L1770.28 1363.36 L1771 1363.2 L1771.72 1363.04 L1772.44 1362.88 L1773.15 1362.72 L1773.87 1362.56 L1774.59 1362.41 L1775.3 1362.25 L1776.02 1362.1 L1776.74 1361.95 L1777.46 1361.79 L1778.17 1361.65 L1778.89 1361.5 L1779.61 1361.35 L1780.33 1361.2 L1781.04 1361.06 L1781.76 1360.92 L1782.48 1360.77 L1783.19 1360.63 L1783.91 1360.49 L1784.63 1360.36 L1785.35 1360.22 L1786.06 1360.08 L1786.78 1359.95 L1787.5 1359.81 L1788.22 1359.68 L1788.93 1359.55 L1789.65 1359.42 L1790.37 1359.29 L1791.09 1359.16 L1791.8 1359.03 L1792.52 1358.9 L1793.24 1358.77 L1793.95 1358.65 L1794.67 1358.52 L1795.39 1358.4 L1796.11 1358.28 L1796.82 1358.16 L1797.54 1358.03 L1798.26 1357.91 L1798.98 1357.8 L1799.69 1357.68 L1800.41 1357.56 L1801.13 1357.44 L1801.84 1357.33 L1802.56 1357.21 L1803.28 1357.1 L1804 1356.99 L1804.71 1356.87 L1805.43 1356.76 L1806.15 1356.66 L1806.87 1356.55 L1807.58 1356.44 L1808.3 1356.34 L1809.02 1356.23 L1809.73 1356.13 L1810.45 1356.03 L1811.17 1355.93 L1811.89 1355.83 L1812.6 1355.74 L1813.32 1355.65 L1814.04 1355.55 L1814.76 1355.47 L1815.47 1355.38 L1816.19 1355.3 L1816.91 1355.22 L1817.63 1355.14 L1818.34 1355.06 L1819.06 1354.99 L1819.78 1354.92 L1820.49 1354.85 L1821.21 1354.79 L1821.93 1354.73 L1822.65 1354.68 L1823.36 1354.62 L1824.08 1354.57 L1824.32 1354.56" stroke="#a2142f"/>
</g>
</svg>
</body></html>
